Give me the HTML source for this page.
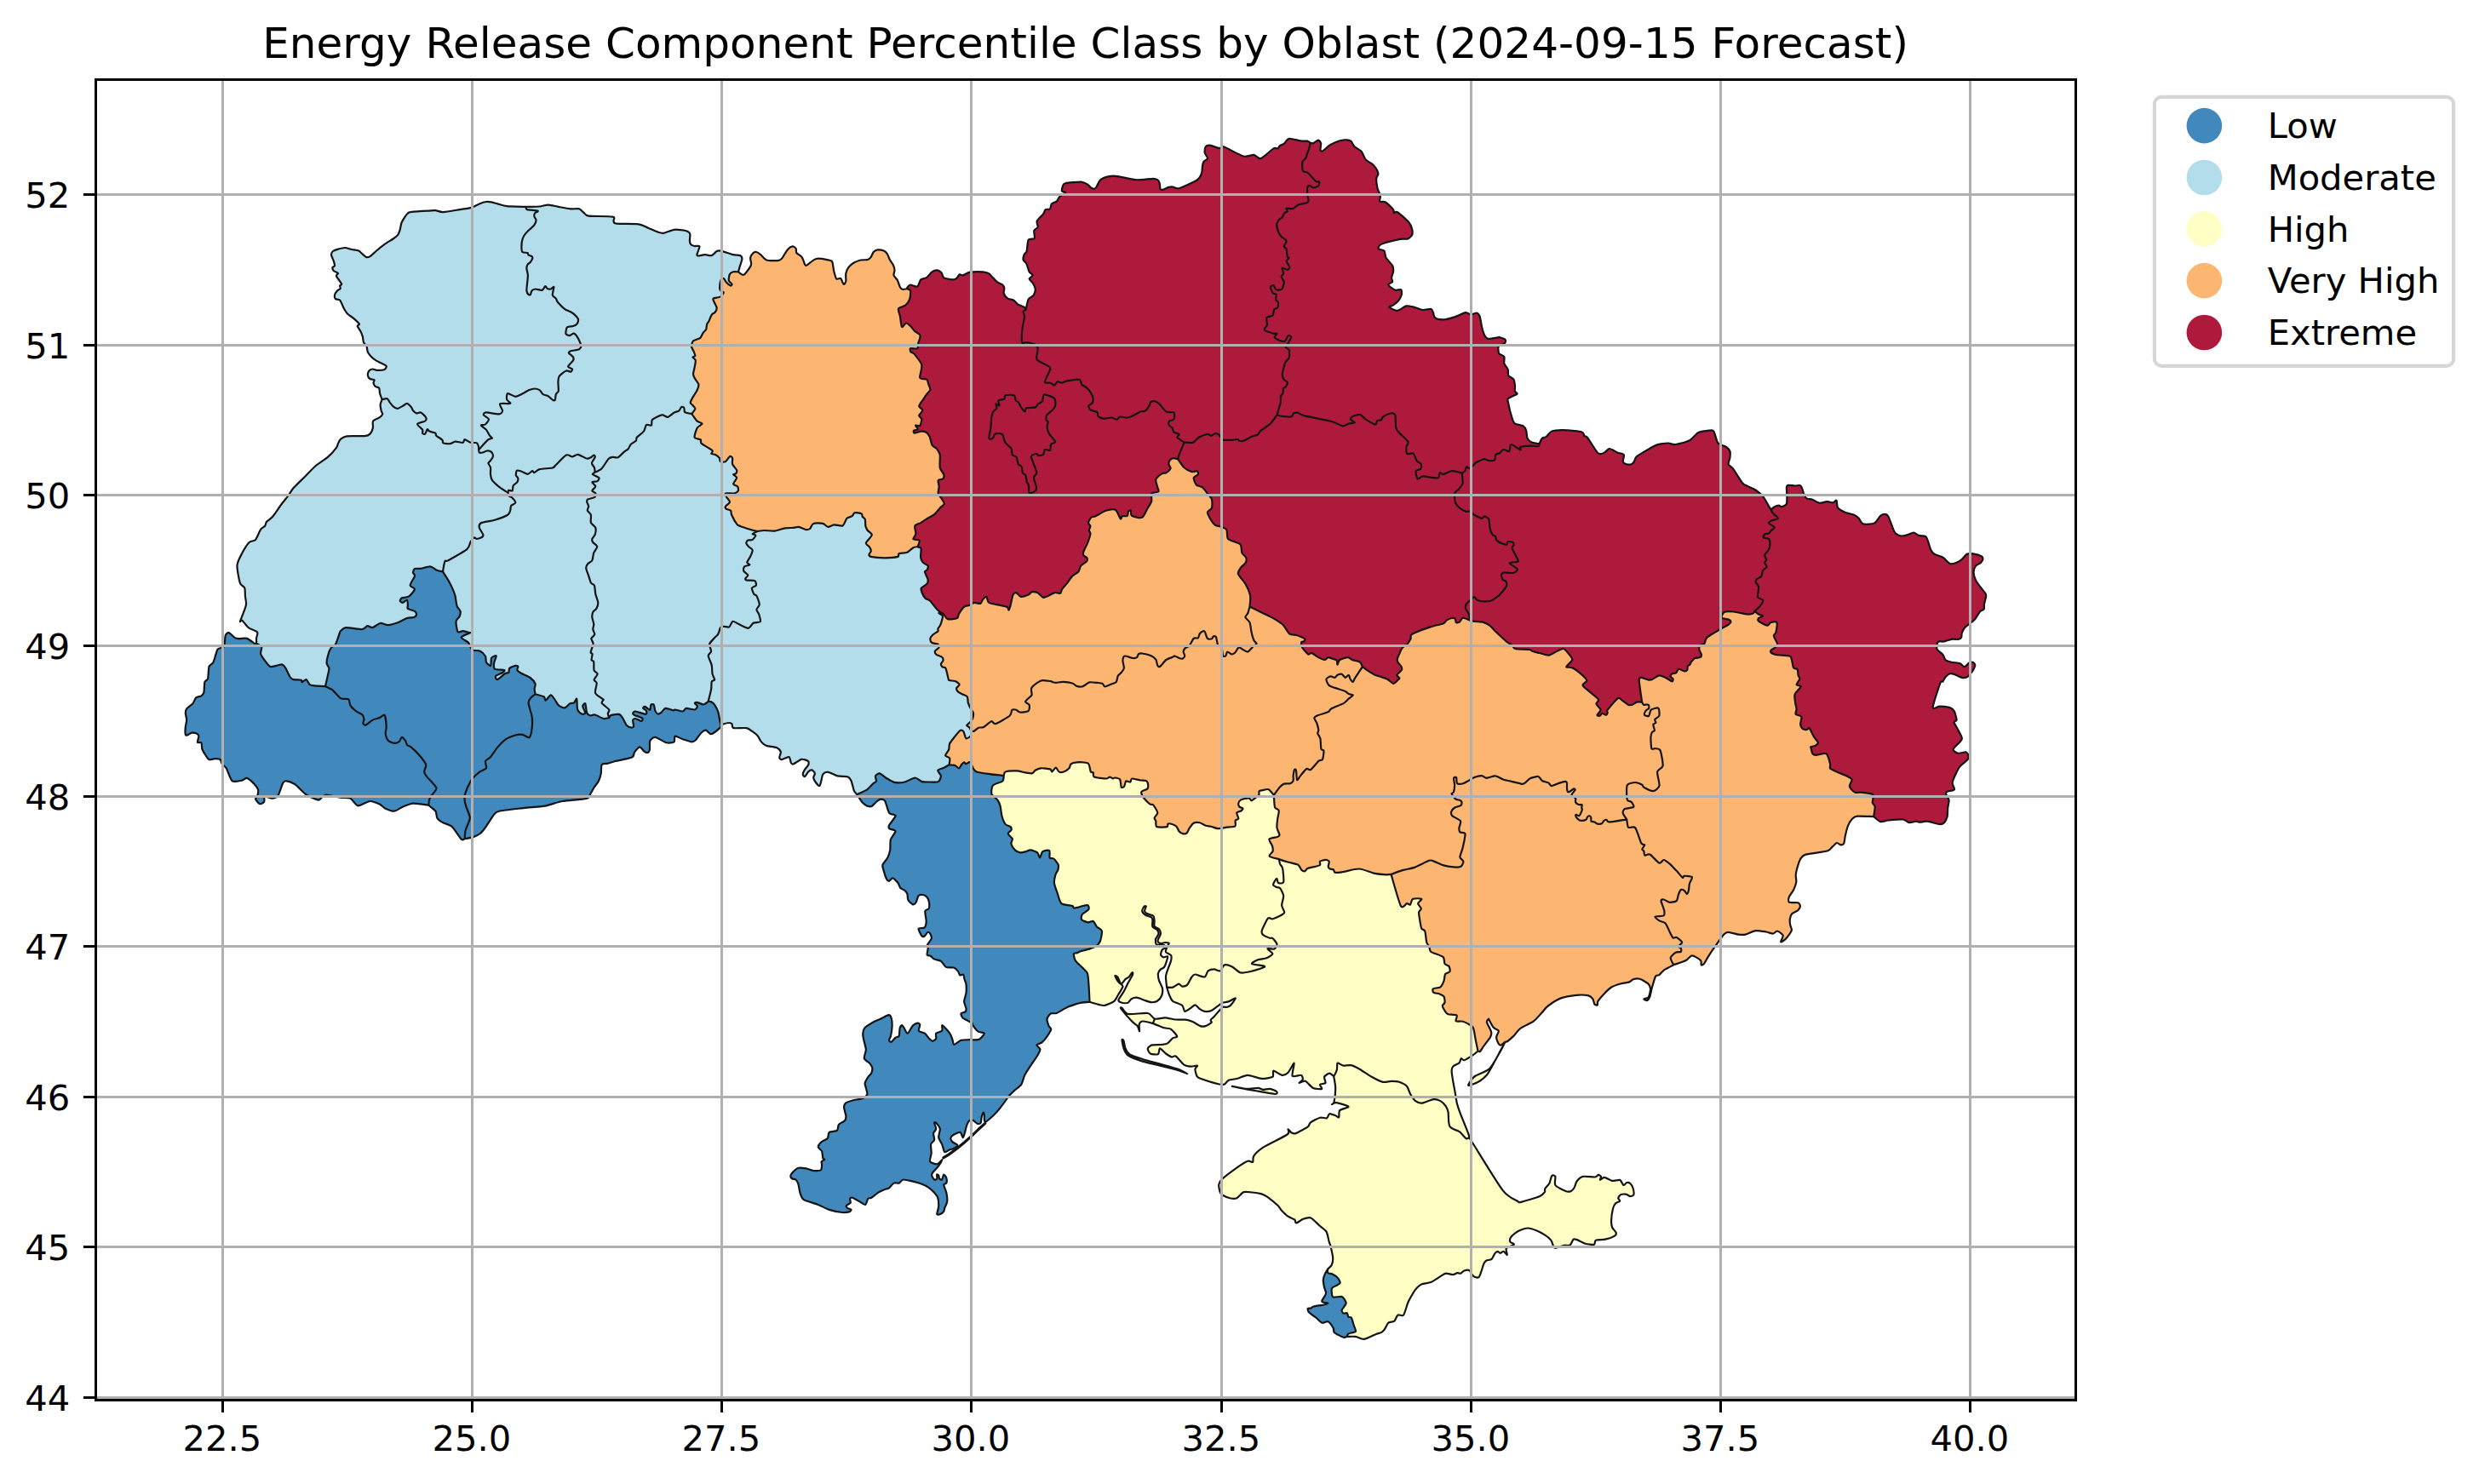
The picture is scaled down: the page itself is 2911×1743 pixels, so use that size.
<!DOCTYPE html><html><head><meta charset="utf-8"><title>Energy Release Component Percentile Class by Oblast</title><style>html,body{margin:0;padding:0;background:#fff}</style></head><body><svg width="2911" height="1743" viewBox="0 0 2911 1743" style="display:block"><rect width="2911" height="1743" fill="#fff"/><clipPath id="ax"><rect x="112.5" y="93.5" width="2325.0" height="1551.0"/></clipPath><g clip-path="url(#ax)"><path d="M448.6,469.2c-0.3,-0.9 -2.2,-5.7 -2.6,-7.4c-0.4,-1.7 -0.1,-5 -0.8,-6c-0.7,-1 -3.9,-1.3 -4.7,-2.1c-0.8,-0.8 -1.9,-3.1 -2,-4c-0.1,-0.9 1.5,-2.8 1,-3.4c-0.5,-0.6 -4,-0.6 -5,-1.3c-1,-0.7 -2.6,-3.2 -2.7,-4.4c-0.1,-1.2 0.9,-4.2 1.6,-5.1c0.7,-0.9 3,-1.9 4.1,-2c1.1,-0.1 3.2,1.3 5,1.4c1.8,0.1 7.7,-0.4 9.1,-1c1.4,-0.6 2.3,-3 2.1,-3.8c-0.2,-0.8 -2.6,-1.8 -4.1,-2.6c-1.5,-0.8 -6.3,-3 -8.1,-4.1c-1.8,-1.1 -4.8,-3.7 -6,-5c-1.2,-1.3 -3.1,-3.6 -3.7,-5.1c-0.6,-1.5 -0.8,-5.7 -1.4,-7.1c-0.6,-1.4 -2.8,-2.6 -3.4,-4c-0.6,-1.4 -0.7,-5.4 -1.2,-7.1c-0.5,-1.6 -1.7,-4.6 -2.5,-6.1c-0.8,-1.5 -3.4,-4.9 -3.6,-6c-0.2,-1.1 2.8,-1.4 2.2,-2.5c-0.6,-1.1 -5,-5.1 -6.7,-6.6c-1.7,-1.5 -5.6,-3.7 -7,-5.1c-1.4,-1.4 -3,-4 -4.1,-6c-1.1,-2 -3.7,-8.8 -5,-10.2c-1.3,-1.4 -4.3,-0.7 -5.1,-1.4c-0.8,-0.8 -1.2,-3.4 -1,-4.6c0.2,-1.2 2.2,-4.2 3,-5.1c0.8,-0.9 3.3,-1.6 3.7,-2.4c0.4,-0.8 -0.8,-2.9 -0.6,-3.6c0.2,-0.7 2.5,-0.7 2,-2.1c-0.5,-1.4 -5.6,-7.5 -6.1,-9.1c-0.5,-1.6 2.4,-2.9 2,-3.6c-0.4,-0.8 -4.2,-1.6 -5,-2.4c-0.8,-0.8 -1.7,-3.3 -1.6,-4.1c0.1,-0.8 2.4,-1.1 2.6,-2c0.2,-0.9 -0.5,-3.4 -1,-5c-0.5,-1.6 -2.9,-6.6 -3,-8.1c-0.1,-1.5 1,-3.3 2,-4.1c1,-0.8 4.2,-1.9 6,-2.4c1.8,-0.5 6.1,-1.7 8.1,-1.6c2,0.1 6.1,1.6 8.1,2c2,0.4 6.5,0.8 8.1,1.6c1.6,0.8 4,3.6 5.1,4.5c1.1,0.9 3,2.8 4,3c1,0.2 2.7,-0.1 4.1,-1c1.4,-0.9 4.9,-4.3 7,-6.1c2.1,-1.8 7.6,-6.3 10.1,-8.1c2.5,-1.8 8.2,-5.1 10.1,-6.4c1.9,-1.3 4.1,-2.9 5.1,-4.1c1,-1.2 2,-3.8 2.6,-5.6c0.6,-1.8 1.4,-7.2 2.1,-9.1c0.7,-1.9 2.5,-4.7 3.4,-6.1c0.9,-1.4 3.1,-4.3 4,-5.1c0.9,-0.8 0.2,-1.1 3.1,-1.4c2.9,-0.3 16.5,-1.2 20.2,-1.4c3.7,-0.2 6.8,-0.8 9.1,-0.6c2.3,0.2 5.2,2.2 9.1,2c3.9,-0.2 18,-2.8 22.2,-3.4c4.2,-0.7 8.6,-1 11.1,-1.8c2.5,-0.8 6.9,-3.6 9.1,-4.5c2.1,-0.9 6.3,-2.2 8.1,-2.4c1.8,-0.2 4.3,0.1 6.1,0.4c1.8,0.3 5.8,1.6 8.1,2.2c2.3,0.6 6.1,2.1 10.1,2.5c4,0.4 19.4,0.7 22.2,0.8c0.2,0.4 -0.2,2.6 1.6,3.2c1.8,0.6 11.5,1 12.6,1.6c1.1,0.6 -3.2,1.9 -3.7,2.8c-0.5,0.9 -0.6,3.1 -0.4,4.1c0.2,1 2.1,2.7 2.1,4c-0,1.3 -1.4,4.6 -2.5,6.1c-1.1,1.5 -5.1,4.6 -6.6,6.1c-1.5,1.5 -4.2,4.5 -5.1,6c-0.9,1.5 -2,4.4 -2.4,6.1c-0.4,1.6 -0.6,5.5 -0.6,7.1c0,1.6 0.1,5.1 1,6c0.9,0.9 5.2,0.6 6.1,1c0.9,0.4 0.4,2 1,2.5c0.6,0.5 3.4,1 4,1.6c0.6,0.6 0.9,2.1 0.6,3c-0.2,0.9 -1.9,3.3 -2.6,4.1c-0.7,0.8 -2.5,1.7 -3,2.6c-0.5,0.9 -1.1,2.8 -1.1,4.4c0,1.6 1.4,5.8 1.5,8.1c0.1,2.3 -0.7,7.8 -0.9,10.1c-0.2,2.3 -0.8,6.5 -0.6,8.1c0.2,1.6 1.5,3.9 2.1,4.5c0.6,0.6 1.9,0.6 2.4,0c0.5,-0.6 0.9,-3.7 1.6,-4.5c0.7,-0.8 2.5,-1.9 4,-2c1.5,-0.1 6.6,1.8 8.1,1.4c1.5,-0.4 2.9,-4.5 3.7,-4.8c0.8,-0.2 1.6,2.4 2.4,2.8c0.8,0.4 3,0.8 4,0.6c1,-0.2 3.4,-3.3 3.7,-2.4c0.3,0.9 -1.9,7.8 -1.6,9.5c0.3,1.7 3.2,3 4,4c0.8,1 0.7,2.6 2,4.1c1.3,1.5 6.1,6.6 8.1,8.1c2,1.5 6.3,2.9 8.1,4c1.8,1.1 5.1,4 6.1,5.1c1,1.1 2,2.9 2,4c0,1.1 -1.2,4.2 -2,5.1c-0.8,0.9 -2.7,1.6 -4.1,2c-1.4,0.4 -5.9,0.3 -7,1.4c-1.1,1.1 -1.9,6.5 -1.5,7.7c0.4,1.2 3.3,2.1 4.5,2c1.2,-0.1 3.9,-2.7 5,-2.4c1.1,0.2 3.2,3.1 4.1,4.4c0.9,1.3 2.5,4.8 3,6.1c0.5,1.3 1.5,3 1.4,4c-0.1,1 -0.8,3.3 -2.4,4.1c-1.6,0.8 -8.6,1.4 -10.1,2c-1.5,0.6 -2.4,1.5 -2,2.4c0.4,0.9 4.4,3.6 5,4.7c0.6,1.1 0.8,2.6 0,4c-0.8,1.4 -5.9,5.8 -6,7.1c-0.1,1.3 4.6,2.2 5,3c0.4,0.8 -1.1,2.9 -2,3.1c-0.9,0.2 -3.5,-1.7 -5.1,-1.1c-1.6,0.6 -6.8,4.5 -8,6.1c-1.2,1.6 -1.4,4.9 -1.5,7.1c-0.1,2.2 0.7,8.6 0.4,10.4c-0.3,1.8 -2.5,2.7 -3,4c-0.5,1.3 -0.5,5.7 -1,6.5c-0.5,0.8 -2,0.6 -3,0c-1,-0.6 -3.7,-3.6 -5.1,-4.4c-1.4,-0.8 -4.8,-1.2 -6.1,-2.1c-1.3,-0.9 -2.7,-4.2 -4,-5c-1.3,-0.8 -4.6,-1.6 -6.1,-1.6c-1.5,0 -4.1,0.8 -6,1.6c-1.9,0.8 -7.1,4 -9.1,5c-2,1 -5.1,2.8 -7.1,2.7c-2,-0.1 -7.8,-4.1 -9.1,-3.7c-1.3,0.4 -1.4,5.6 -1,7.1c0.4,1.5 5,4.1 4,4.7c-1,0.6 -11,-0.6 -12.1,0.4c-1.1,1.1 3.1,6.5 3,8c-0.1,1.5 -1.6,3.8 -4,4.1c-2.4,0.3 -12.9,-2.1 -15.2,-2c-2.3,0.1 -3.4,2 -3,3c0.4,1 5.9,3.7 6.1,5.1c0.2,1.4 -3,5.1 -4.1,6c-1.1,0.9 -5.1,0.2 -5,1c0.1,0.8 4.7,3.6 6,5.1c1.3,1.5 3.2,5.8 4.1,7.1c0.9,1.3 3.3,2.4 3,3c-0.3,0.6 -3.1,0.3 -5.1,2c-2,1.7 -9.4,10.2 -10.7,11.7c-0,-0.6 -0.1,-3.6 -0.4,-4.6c-0.3,-1 -0.9,-3.1 -2,-3.6c-1.1,-0.5 -5.3,0.1 -7.1,-0.4c-1.8,-0.5 -5.9,-3.7 -7,-3.7c-1.1,0 -0.7,3.4 -2.1,3.7c-1.4,0.3 -7.2,-1.3 -9.1,-1.1c-1.9,0.2 -4.2,2.3 -6,2.5c-1.8,0.2 -7,-0.2 -8.1,-0.8c-1.1,-0.6 0,-2.6 -1,-3.7c-1,-1.1 -6.1,-4 -7.1,-5c-1,-1 0,-2.5 -1,-3.1c-1,-0.6 -5.9,-1.4 -7.1,-2c-1.2,-0.6 -1.8,-2.8 -2.4,-2.4c-0.6,0.4 -1.9,4.8 -2.6,5.4c-0.7,0.6 -2.7,0 -3.1,-0.6c-0.4,-0.6 0.8,-3 0,-4.4c-0.8,-1.4 -6.4,-5.2 -6,-6.5c0.4,-1.3 7.8,-2.6 9.1,-3.6c1.3,-1 1.6,-2.8 1,-4.1c-0.6,-1.3 -4.7,-5.4 -6.1,-6c-1.4,-0.6 -4,1.3 -5.1,1c-1.1,-0.3 -3.2,-2.2 -4,-3.1c-0.8,-0.9 -1.1,-2.9 -2,-4c-0.9,-1.1 -4,-4.2 -5.1,-4.4c-1.1,-0.2 -2.6,1.7 -4,2.4c-1.4,0.8 -5.6,3.5 -7.1,3.6c-1.5,0.1 -4,-1.7 -5.1,-2.6c-1.1,-0.9 -3.1,-3.6 -4,-4.7c-0.9,-1.1 -1.9,-4 -3,-4.4c-1.1,-0.4 -5.3,0.9 -6.1,1Z" fill="#b3ddeb" stroke="#b3ddeb" stroke-width="0.6"/><path d="M617.4,242.9c2,-0.1 12.9,-0.1 16.2,-0.4c3.3,-0.3 7.3,-2 10.1,-1.9c2.8,0.1 8.8,1.7 12.1,2.3c3.3,0.6 11.2,2.1 14.2,2.4c3,0.3 8.2,-0.5 10.1,0c1.9,0.5 3.7,3.2 5.1,4.2c1.4,1 1.7,3.5 6,4.1c4.3,0.6 24.6,0.2 28.3,1c3.7,0.8 0.5,4 1,5c0.5,1 -0.6,2.6 3.1,3.1c3.7,0.5 21.6,-0 26.3,0.6c4.7,0.6 8.3,3.3 11.1,4.4c2.8,1.1 8.8,3.9 11.1,4.7c2.3,0.8 4.7,1.7 7.1,1.4c2.4,-0.3 9.5,-3.6 12.1,-4c2.6,-0.4 6.9,0.1 8.9,0.4c2,0.2 5.8,1 7.1,1.6c1.3,0.6 2.7,1.6 3,3c0.3,1.4 -0.5,6.5 -0.4,8.1c0.1,1.6 0.7,3.6 1.4,4.4c0.7,0.8 2.8,1.4 4.1,1.7c1.3,0.3 5.6,-0.9 6,0.4c0.4,1.3 -2.9,8.3 -3,9.7c-0.1,1.4 0.9,1.4 2,1.4c1.1,0 5.2,-1.3 7.1,-1.4c1.9,-0.1 6.3,1.5 8.1,1c1.8,-0.5 4.7,-4.4 6.1,-5.1c1.4,-0.7 2.6,-0.9 5,-0.4c2.4,0.5 11.4,3.8 14.2,4.5c2.8,0.7 6.8,0.4 8.1,1c1.3,0.6 2.4,2.5 2.4,4c0,1.5 -1.8,6.2 -2.4,8.1c-0.6,1.9 -1.8,6.2 -2.1,7.1c-0.8,0 -4.7,-0.4 -6,0c-1.3,0.4 -3.5,1.7 -4.1,3c-0.6,1.3 -1.3,5.7 -1,7.1c0.3,1.4 3.5,3.6 3.7,4.4c0.2,0.8 -0.9,2 -1.7,1.7c-0.8,-0.3 -4,-3 -5,-4.1c-1,-1.1 -2.2,-4 -3,-4.4c-0.8,-0.4 -2.5,0.1 -3.1,1.4c-0.6,1.3 -1.5,7.5 -1.6,9.1c-0.1,1.6 0.6,3.2 1.2,4c0.6,0.8 3.6,1.2 3.5,2.1c-0.1,0.9 -2.6,4.1 -4.1,5c-1.5,0.9 -7.2,1.2 -8.1,2c-0.9,0.8 0.5,2.7 1,4.1c0.5,1.4 3,5.5 3.1,7c0.1,1.5 -1.3,4.1 -2.1,5.1c-0.8,1 -3.1,1.7 -4,3c-0.9,1.3 -2.3,5.7 -3,7.1c-0.7,1.4 -2.1,2.8 -2.5,4.1c-0.4,1.3 -0.4,4.7 -1,6c-0.6,1.3 -2.7,2.8 -3.6,4.1c-0.9,1.3 -2,4.9 -3.4,6c-1.4,1.1 -6.5,2.2 -7.7,3.1c-1.2,0.9 -1.8,3.1 -2.1,4c-0.3,0.9 -0.7,2 -0.4,3c0.3,1 1.9,3.8 2.5,5.1c0.6,1.4 2.1,4.8 2,5.7c-0.1,0.9 -3,0.7 -3,1.4c0,0.7 3.1,2.4 3.4,4c0.2,1.6 -1,7.1 -1.4,9.1c-0.4,2 -1.5,5.6 -1.4,7.1c0.1,1.5 1.2,3.5 2,5c0.8,1.5 4.1,5.3 4.4,7.1c0.3,1.8 -1.1,5.2 -2,7.1c-0.9,1.9 -4,6.3 -5,8.1c-1,1.8 -2.7,4.9 -2.7,6c0,1.1 2,2.2 2.7,3.1c0.7,0.9 3.1,2.7 3,4c-0.1,1.3 -3.6,5.3 -4.1,6.1c-1,-0.2 -6.9,-1.1 -8,-2c-1.1,-0.9 -0.5,-4.3 -1,-5.1c-0.5,-0.8 -2.4,-1.4 -3.1,-1c-0.7,0.4 -1.7,3.4 -2.8,4.3c-1.1,0.9 -4.5,1.6 -6.1,2.5c-1.6,0.9 -5.3,4.7 -7.1,5c-1.8,0.3 -4.7,-2.8 -7,-2.4c-2.3,0.4 -9.7,4 -11.2,5.5c-1.5,1.5 -0.1,5.8 -1,6.6c-0.9,0.8 -4.9,-1.3 -6,-0.4c-1.1,0.9 -1.7,5.7 -3.1,7.5c-1.4,1.8 -7,5.7 -8.1,7.1c-1.1,1.4 -0.1,3 -1,4c-0.9,1 -4.9,2.9 -6,4.1c-1.1,1.2 -2.1,4.3 -3.1,5.4c-1,1.1 -3.5,2.4 -5,3.7c-1.5,1.3 -5.5,5.6 -7.1,6.4c-1.6,0.8 -4.7,-0.6 -6.1,-0.4c-1.4,0.2 -3.4,0.4 -5,2.1c-1.6,1.7 -6.1,9.5 -8.1,11.5c-2,2 -6.7,3.7 -7.7,4.2c-0.1,-0.7 -0.3,-4.3 -0.8,-5.6c-0.5,-1.3 -3.1,-3.6 -3,-5.1c0.1,-1.5 3.5,-5.9 3.8,-7.1c0.3,-1.2 -0.9,-2.4 -1.4,-2.4c-0.5,0 -2,1.9 -3,2.4c-1,0.5 -3.1,2.1 -5.1,1.7c-2,-0.4 -8.4,-4.4 -10.5,-4.7c-2.1,-0.3 -5,2.5 -6.7,2.6c-1.7,0.1 -4.7,-3.2 -7.1,-2c-2.4,1.2 -10.1,9.6 -12.1,11.5c-2,1.9 -1.6,2.9 -4,3.5c-2.4,0.6 -12.5,0.9 -15.2,1.6c-2.7,0.7 -5,3.8 -6.1,4c-1.1,0.2 -1.4,-2.2 -2.4,-2c-1,0.2 -3.6,3.6 -5.2,3.7c-1.6,0.1 -5.9,-2.6 -7.5,-3.1c-1.6,-0.5 -4.7,-1.6 -5.5,-1c-0.8,0.6 -1.2,4.4 -1,5.5c0.2,1.1 2.2,2.4 2.4,3.4c0.2,1 -0.3,3.6 -1,4.7c-0.7,1.1 -3.9,2.7 -4.6,4c-0.7,1.3 -0.3,5.4 -1,6.1c-0.7,0.7 -3.9,-0.9 -4.5,-0.6c-0.6,0.3 -0.5,2.6 -0.6,3c-1.3,-0.9 -8.2,-5.1 -10.5,-6.9c-2.3,-1.8 -6.8,-5.9 -8.1,-7.7c-1.3,-1.8 -1.8,-5.1 -2,-7c-0.2,-1.9 0.3,-6.5 0,-8.1c-0.3,-1.6 -2.6,-4.1 -2.6,-5.1c0,-1 1.9,-2 2.6,-3c0.7,-1 2.9,-3.8 3,-5.1c0.1,-1.3 -1.1,-4.2 -2,-5c-0.9,-0.8 -3.8,-1.5 -5.1,-1.4c-1.3,0.1 -3.9,1.8 -5,2c-1.1,0.2 -3.5,0.4 -4.1,0c-0.6,-0.4 -0.5,-2.7 -0.6,-3.1c1.3,-1.5 8.7,-10 10.7,-11.7c2,-1.7 4.8,-1.4 5.1,-2c0.3,-0.6 -2.1,-1.7 -3,-3c-0.9,-1.3 -2.8,-5.6 -4.1,-7.1c-1.3,-1.5 -5.9,-4.3 -6,-5.1c-0.1,-0.8 3.9,-0.1 5,-1c1.1,-0.9 4.4,-4.6 4.1,-6c-0.2,-1.4 -5.7,-4.1 -6.1,-5.1c-0.4,-1 0.7,-2.9 3,-3c2.3,-0.1 12.8,2.3 15.2,2c2.4,-0.3 3.9,-2.6 4,-4.1c0.1,-1.5 -4.1,-6.9 -3,-8c1.1,-1.1 11.1,0.2 12.1,-0.4c1,-0.6 -3.6,-3.2 -4,-4.7c-0.4,-1.5 -0.3,-6.7 1,-7.1c1.3,-0.4 7.1,3.6 9.1,3.7c2,0.1 5.1,-1.7 7.1,-2.7c2,-1 7.2,-4.2 9.1,-5c1.9,-0.8 4.5,-1.6 6,-1.6c1.5,0 4.8,0.8 6.1,1.6c1.3,0.8 2.7,4.1 4,5c1.3,0.9 4.7,1.3 6.1,2.1c1.4,0.8 4.1,3.9 5.1,4.4c1,0.6 2.5,0.8 3,0c0.5,-0.8 0.5,-5.2 1,-6.5c0.5,-1.3 2.7,-2.2 3,-4c0.3,-1.8 -0.5,-8.2 -0.4,-10.4c0.1,-2.2 0.3,-5.4 1.5,-7.1c1.2,-1.6 6.4,-5.5 8,-6.1c1.6,-0.6 4.2,1.4 5.1,1.1c0.9,-0.2 2.4,-2.3 2,-3.1c-0.4,-0.8 -5.1,-1.7 -5,-3c0.1,-1.3 5.2,-5.7 6,-7.1c0.8,-1.4 0.6,-2.9 0,-4c-0.6,-1.1 -4.6,-3.8 -5,-4.7c-0.4,-0.9 0.5,-1.8 2,-2.4c1.5,-0.6 8.5,-1.2 10.1,-2c1.6,-0.8 2.3,-3.1 2.4,-4.1c0.1,-1 -0.9,-2.7 -1.4,-4c-0.5,-1.3 -2.1,-4.8 -3,-6.1c-0.9,-1.3 -3,-4.2 -4.1,-4.4c-1.1,-0.2 -3.8,2.4 -5,2.4c-1.2,0.1 -4.1,-0.8 -4.5,-2c-0.4,-1.2 0.4,-6.6 1.5,-7.7c1.1,-1.1 5.6,-1 7,-1.4c1.4,-0.4 3.3,-1.1 4.1,-2c0.8,-0.9 2,-4 2,-5.1c0,-1.1 -1,-2.9 -2,-4c-1,-1.1 -4.3,-4 -6.1,-5.1c-1.8,-1.1 -6.1,-2.5 -8.1,-4c-2,-1.5 -6.8,-6.6 -8.1,-8.1c-1.3,-1.5 -1.2,-3.1 -2,-4.1c-0.8,-1 -3.7,-2.3 -4,-4c-0.3,-1.7 1.9,-8.6 1.6,-9.5c-0.3,-0.9 -2.7,2.2 -3.7,2.4c-1,0.2 -3.2,-0.2 -4,-0.6c-0.8,-0.4 -1.6,-3 -2.4,-2.8c-0.8,0.2 -2.2,4.4 -3.7,4.8c-1.5,0.4 -6.6,-1.5 -8.1,-1.4c-1.5,0.1 -3.3,1.2 -4,2c-0.7,0.8 -1.1,3.9 -1.6,4.5c-0.5,0.6 -1.8,0.6 -2.4,0c-0.6,-0.6 -1.9,-2.9 -2.1,-4.5c-0.2,-1.6 0.4,-5.8 0.6,-8.1c0.2,-2.3 1,-7.8 0.9,-10.1c-0.1,-2.3 -1.5,-6.5 -1.5,-8.1c-0,-1.6 0.6,-3.5 1.1,-4.4c0.5,-0.9 2.3,-1.8 3,-2.6c0.7,-0.8 2.4,-3.2 2.6,-4.1c0.2,-0.9 -0,-2.4 -0.6,-3c-0.6,-0.6 -3.4,-1.1 -4,-1.6c-0.6,-0.5 -0.1,-2.1 -1,-2.5c-0.9,-0.4 -5.2,-0.1 -6.1,-1c-0.9,-0.9 -1,-4.4 -1,-6c-0,-1.6 0.2,-5.5 0.6,-7.1c0.4,-1.6 1.5,-4.6 2.4,-6.1c0.9,-1.5 3.6,-4.5 5.1,-6c1.5,-1.5 5.5,-4.6 6.6,-6.1c1.1,-1.5 2.5,-4.8 2.5,-6.1c0,-1.3 -1.9,-3 -2.1,-4c-0.2,-1 -0.1,-3.2 0.4,-4.1c0.5,-0.9 4.8,-2.2 3.7,-2.8c-1.1,-0.6 -10.8,-1 -12.6,-1.6c-1.8,-0.6 -1.4,-2.8 -1.6,-3.2Z" fill="#b3ddeb" stroke="#b3ddeb" stroke-width="0.6"/><path d="M448.6,469.2c-0.2,0.8 -1.9,4.5 -2,6.1c-0.1,1.6 0.7,5.6 1,7c0.3,1.4 1.8,3.1 1.6,4.1c-0.2,1 -2.2,3 -3.6,4c-1.4,1 -6.5,2.6 -7.5,4.1c-1,1.5 0.2,6.2 -0.2,8.1c-0.4,1.9 -2.2,5.8 -3.4,7c-1.2,1.2 -2.7,2.2 -6.1,2.5c-3.4,0.3 -17.7,-0.3 -21.2,0.2c-3.5,0.5 -5.8,2.3 -7.1,3.4c-1.3,1.1 -2.5,3.8 -3.1,5.1c-0.6,1.3 -0.5,3 -2,5c-1.5,2 -7.1,8.5 -10.1,11.1c-3,2.6 -10.8,7.3 -14.1,10.1c-3.3,2.8 -8.9,8.9 -12.2,12.2c-3.3,3.3 -11.6,11.2 -14.1,14.1c-2.5,2.9 -4.3,6.7 -6.1,9.1c-1.8,2.4 -5.8,7.1 -8.1,10.1c-2.3,3 -8,11.7 -10.1,14.2c-2.1,2.5 -6,4.7 -7.1,6.1c-1.1,1.4 -1.1,3.9 -2,5c-0.9,1.1 -3.6,2.1 -5,4.1c-1.4,2 -4.4,10.2 -6.1,12.1c-1.7,1.9 -5.5,1.1 -7.4,3c-1.9,1.9 -6.3,8.9 -8.1,12.3c-1.8,3.4 -5.7,10.1 -6,14.6c-0.3,4.5 2.3,17.7 3.4,21c1.1,3.3 4.6,3.7 5.3,5.6c0.8,1.9 0.5,7 0.7,9.5c0.2,2.5 1.5,7.3 1.1,10.1c-0.4,2.8 -3.2,9.6 -4.1,12.1c-0.9,2.5 -2.9,6.9 -3,7.7c-0.1,0.8 1.3,-1.9 2.6,-1c1.3,0.9 5.3,6.8 7.5,8.5c2.2,1.7 9,3.6 10.1,5.1c1.1,1.5 -0.9,5.4 -1,7c-0.1,1.6 0,5.3 0,6.1c0.8,0.5 5.5,2.5 6.1,4c0.6,1.5 -1.5,6.2 -1.1,8.1c0.4,1.9 2.7,5.2 4.1,7.1c1.4,1.9 5.3,7.2 7.1,8.1c1.8,0.9 5.2,-0.7 7,-1c1.8,-0.3 5.7,-1.8 7.1,-1.4c1.4,0.4 3,2.6 4.1,4.4c1.1,1.8 3.9,8.5 5,10.1c1.1,1.6 2.5,2.6 4.1,3.1c1.6,0.5 7.8,0.2 9.1,0.6c1.3,0.4 0.2,2.5 1,2.4c0.8,-0.1 3.9,-3.4 5,-3c1.1,0.4 2.6,5 4.1,6c1.5,1 5.8,1.4 8.1,1.6c2.3,0.2 8.8,0.4 10.1,0.4c0.4,-1.6 2.4,-10.5 3,-13.1c0.6,-2.6 1.6,-6.3 1.4,-8.1c-0.2,-1.8 -2.7,-3.7 -2.8,-6c-0.1,-2.3 1.7,-9.9 2.4,-12.2c0.7,-2.3 2,-4.7 3,-6c1,-1.3 3.8,-1.8 5.1,-4.1c1.3,-2.3 4.3,-12.2 5.1,-14.1c0.8,-1.9 0,-0.7 0.9,-1.4c0.9,-0.7 2.8,-3.8 6,-4c3.2,-0.2 16.1,2.2 19.3,2c3.2,-0.2 4.5,-3.8 6,-4c1.5,-0.2 4.2,2.4 6.1,2c1.9,-0.4 6.8,-4.7 9.1,-5.1c2.3,-0.4 6.4,2.2 9.1,2.1c2.6,-0.1 9.3,-2.1 12.1,-3.1c2.8,-1 7.8,-4.2 10.1,-5c2.3,-0.8 6.7,-0.5 8.1,-1c1.4,-0.5 2.9,-2.2 3,-3.1c0.1,-0.9 -0.7,-3.1 -2,-4c-1.3,-0.9 -7.1,-2.1 -8.1,-3c-1,-0.9 0.1,-2.8 0,-4.1c-0.1,-1.3 -0.2,-5.6 -1,-6c-0.8,-0.4 -4,2.9 -5,3c-1,0.1 -3,-1.3 -3.1,-2c-0.1,-0.7 0.8,-2.9 2.1,-3.5c1.3,-0.6 6.1,-0.3 8,-1.6c1.9,-1.3 6.9,-7.1 7.1,-8.7c0.2,-1.6 -5.4,-2.4 -5.4,-4.4c0,-2 5,-9.3 5.4,-11.2c0.4,-1.9 -2,-3 -2,-4c0,-1 0.9,-3.8 2,-4.4c1.1,-0.6 4.8,0.1 7.1,-0.2c2.3,-0.3 8.8,-2.7 11.1,-2.5c2.3,0.2 5.2,3.3 7.1,4.1c1.9,0.8 6.7,1.8 7.7,2c0.3,-1.5 1.6,-10.5 2.4,-12.1c0.8,-1.6 0.8,0.7 4,-1.1c3.2,-1.8 18.6,-10.3 21.9,-13.1c3.3,-2.8 3.3,-7.4 4.4,-9.1c1.1,-1.7 3.2,-4.2 4.1,-4.6c0.9,-0.4 1.9,1.6 3,1.6c1.1,-0 5.2,-1.4 6.1,-2c0.9,-0.6 1.8,-1.7 1.4,-3.1c-0.4,-1.4 -4.2,-6.4 -4.5,-8.1c-0.3,-1.7 -0.2,-4.5 2.1,-5.6c2.3,-1.1 12.2,-2.3 16.1,-3.5c3.9,-1.2 12.9,-4.6 15.2,-6c2.3,-1.4 2.5,-3.8 3,-5.1c0.5,-1.3 0.2,-4.5 1,-5.6c0.8,-1.1 5,-2.3 5.1,-3.5c0.1,-1.2 -3,-5 -4,-6c-1,-1 -3.5,-1.4 -4.1,-2.1c-0.6,-0.7 -0.5,-3.1 -0.6,-3.6c-1.3,-0.9 -8.2,-5.1 -10.5,-6.9c-2.3,-1.8 -6.8,-5.9 -8.1,-7.7c-1.3,-1.8 -1.8,-5.1 -2,-7c-0.2,-1.9 0.3,-6.5 0,-8.1c-0.3,-1.6 -2.6,-4.1 -2.6,-5.1c0,-1 1.9,-2 2.6,-3c0.7,-1 2.9,-3.8 3,-5.1c0.1,-1.3 -1.1,-4.2 -2,-5c-0.9,-0.8 -3.8,-1.5 -5.1,-1.4c-1.3,0.1 -3.9,1.8 -5,2c-1.1,0.2 -3.5,0.4 -4.1,0c-0.6,-0.4 -0.5,-2.7 -0.6,-3.1c-0,-0.6 -0.1,-3.6 -0.4,-4.6c-0.3,-1 -0.9,-3.1 -2,-3.6c-1.1,-0.5 -5.3,0.1 -7.1,-0.4c-1.8,-0.5 -5.9,-3.7 -7,-3.7c-1.1,0 -0.7,3.4 -2.1,3.7c-1.4,0.3 -7.2,-1.3 -9.1,-1.1c-1.9,0.2 -4.2,2.3 -6,2.5c-1.8,0.2 -7,-0.2 -8.1,-0.8c-1.1,-0.6 0,-2.6 -1,-3.7c-1,-1.1 -6.1,-4 -7.1,-5c-1,-1 0,-2.5 -1,-3.1c-1,-0.6 -5.9,-1.4 -7.1,-2c-1.2,-0.6 -1.8,-2.8 -2.4,-2.4c-0.6,0.4 -1.9,4.8 -2.6,5.4c-0.7,0.6 -2.7,0 -3.1,-0.6c-0.4,-0.6 0.8,-3 0,-4.4c-0.8,-1.4 -6.4,-5.2 -6,-6.5c0.4,-1.3 7.8,-2.6 9.1,-3.6c1.3,-1 1.6,-2.8 1,-4.1c-0.6,-1.3 -4.7,-5.4 -6.1,-6c-1.4,-0.6 -4,1.3 -5.1,1c-1.1,-0.3 -3.2,-2.2 -4,-3.1c-0.8,-0.9 -1.1,-2.9 -2,-4c-0.9,-1.1 -4,-4.2 -5.1,-4.4c-1.1,-0.2 -2.6,1.7 -4,2.4c-1.4,0.8 -5.6,3.5 -7.1,3.6c-1.5,0.1 -4,-1.7 -5.1,-2.6c-1.1,-0.9 -3.1,-3.6 -4,-4.7c-0.9,-1.1 -1.9,-4 -3,-4.4c-1.1,-0.4 -5.3,0.9 -6.1,1Z" fill="#b3ddeb" stroke="#b3ddeb" stroke-width="0.6"/><path d="M596.6,578.8c0.1,-0.4 -0,-2.7 0.6,-3c0.6,-0.3 3.8,1.3 4.5,0.6c0.7,-0.7 0.3,-4.8 1,-6.1c0.7,-1.3 3.9,-2.9 4.6,-4c0.7,-1.1 1.2,-3.7 1,-4.7c-0.2,-1 -2.2,-2.3 -2.4,-3.4c-0.2,-1.1 0.2,-4.9 1,-5.5c0.8,-0.6 3.9,0.5 5.5,1c1.6,0.5 5.9,3.2 7.5,3.1c1.6,-0.1 4.2,-3.5 5.2,-3.7c1,-0.2 1.3,2.2 2.4,2c1.1,-0.2 3.4,-3.3 6.1,-4c2.7,-0.7 12.8,-1 15.2,-1.6c2.4,-0.6 2,-1.6 4,-3.5c2,-1.9 9.7,-10.3 12.1,-11.5c2.4,-1.2 5.4,2.1 7.1,2c1.7,-0.1 4.6,-2.9 6.7,-2.6c2.1,0.3 8.5,4.3 10.5,4.7c2,0.4 4.1,-1.2 5.1,-1.7c1,-0.5 2.5,-2.4 3,-2.4c0.5,0 1.7,1.2 1.4,2.4c-0.3,1.2 -3.7,5.6 -3.8,7.1c-0.1,1.5 2.5,3.8 3,5.1c0.5,1.3 0.7,4.9 0.8,5.6c-0.4,0.3 -3.4,1.7 -2.8,2.5c0.6,0.8 6.8,3 7.5,4c0.7,1 -1.1,3.4 -2.1,4c-1,0.6 -5.8,0.3 -6,1.1c-0.2,0.8 4,3.7 4,5c0,1.3 -4,4.1 -4,5.1c0,1 3.6,2 4,3c0.4,1 0.1,3.7 -1,4.6c-1.1,0.9 -7,1.8 -8.1,2.5c-1.1,0.7 -1.1,2 -1,3c0.1,1 1.9,3.8 2,5.1c0.1,1.3 -1.7,3.7 -1.4,5c0.3,1.3 3.6,3.3 4.1,5.1c0.5,1.8 -0.7,7.2 0,9.1c0.7,1.9 4.8,4.2 5.4,6c0.6,1.8 -0.1,6.5 -0.6,8.1c-0.5,1.6 -3.1,4 -3.4,5.1c-0.3,1.1 0.2,2.9 1,4c0.8,1.1 4.9,3.6 5,5.1c0.1,1.5 -3.2,5.1 -4,7.1c-0.8,2 -1.1,7.4 -2,9c-0.9,1.6 -4.2,3 -5.1,4.1c-0.9,1.1 -2.1,3.2 -2,5c0.1,1.8 2.3,7 3,9.1c0.7,2.1 1.9,6.7 2.7,8.1c0.8,1.4 3.3,1.5 4,3.1c0.7,1.6 0.9,7.6 1.4,10.1c0.5,2.5 2.9,7.9 3,10.1c0.1,2.1 -1.2,5.7 -2,7.1c-0.8,1.4 -3.4,2.7 -4,4c-0.6,1.3 -1.1,4.3 -1,6.1c0.1,1.8 1.9,6.3 2,8.1c0.1,1.8 -1.1,4.5 -1,6c0.1,1.5 2.2,4.7 2,6.1c-0.2,1.4 -3.8,3.4 -4,4.8c-0.2,1.4 2.4,4 2.3,6c-0.1,2 -2.9,8.6 -3,10.1c-0.1,1.5 1.9,1 2,2.1c0.1,1.1 -1.2,5.9 -1,7c0.2,1.1 2.2,0.6 2.6,2.1c0.4,1.5 -0.2,8.3 0.4,10.1c0.6,1.8 4.1,2.6 4.1,4c0,1.4 -4,5.7 -4.1,7.1c-0.1,1.4 2.9,2.1 3.1,4c0.2,1.9 -2.3,9.1 -1.7,11.2c0.6,2.1 5.5,5 6.7,6c1.2,1 2.9,1.2 3,2c0.1,0.8 -2.8,2.6 -2,4.1c0.8,1.5 7.6,6.2 8.5,7.7c0.9,1.5 -1.4,3.2 -1.4,4.4c0,1.2 1.2,4.5 1.4,5.1c-0.8,0.1 -4.4,1.4 -6.5,1c-2.1,-0.4 -8.2,-4.1 -10.1,-4.5c-1.9,-0.4 -4.1,1.2 -5.3,1c-1.2,-0.2 -3.2,-1.2 -4,-3c-0.8,-1.8 -1.4,-10.1 -2,-11.1c-0.6,-1 -3.1,1.6 -3.1,3c0,1.4 3.2,7 3.1,8.1c-0.1,1.1 -3,1.5 -4.1,1c-1.1,-0.5 -4.2,-2.9 -5,-5.1c-0.8,-2.2 -0.5,-11.7 -1,-12.7c-0.5,-1 -2.1,4 -3.1,4.7c-1,0.7 -3.6,0.2 -5,1c-1.4,0.8 -4.5,4.8 -6.1,5c-1.6,0.2 -5.7,-1.9 -7.1,-3c-1.4,-1.1 -2.9,-4.6 -4,-6.1c-1.1,-1.5 -3.7,-6 -5.1,-6c-1.4,0 -5,6.2 -6,6.4c-1,0.2 -0.6,-3.5 -2.1,-4.4c-1.5,-0.9 -8.8,-2.7 -10.1,-3.1c-0.1,-0.8 -1,-4.5 -1,-6c0,-1.5 1.6,-4.5 1,-6.1c-0.6,-1.6 -4,-5.6 -6,-7.1c-2,-1.5 -8.2,-3.9 -10.1,-5c-1.9,-1.1 -4.6,-3.1 -5.1,-4.1c-0.5,-1 1.2,-3.4 1,-4c-0.2,-0.6 -1.7,-1.2 -3,-1c-1.3,0.2 -6.1,2 -7.1,3c-1,1 -0.4,4.3 -1,5.1c-0.6,0.8 -2.4,-0 -4.1,1c-1.6,1 -7.7,6.7 -9.1,7.1c-1.4,0.4 -2.8,-3.1 -2,-4.1c0.8,-1 6.8,-3.1 8.1,-4c1.3,-0.9 3.1,-2.6 2,-3.1c-1.1,-0.5 -9.6,0 -11.1,-1c-1.5,-1 -1.2,-5.1 -1,-7c0.2,-1.9 3,-7.7 2.6,-8.5c-0.4,-0.8 -4.8,1 -5.6,2.4c-0.8,1.4 -0.2,8.5 -1,9.1c-0.8,0.6 -4.3,-2.7 -5.1,-4.1c-0.8,-1.4 -0.1,-5.4 -1,-7c-0.9,-1.6 -4.3,-5.2 -6.1,-6.1c-1.8,-0.9 -6.7,-0.5 -8.1,-1c-1.4,-0.5 -2.2,-1.9 -3,-3c-0.8,-1.1 -1.6,-4.6 -3,-6.1c-1.4,-1.5 -8.3,-4.7 -8.1,-6.1c0.2,-1.4 8.8,-4.5 10.1,-5.2c1.2,-0.7 0.9,0.2 -0.1,-0.1c-1,-0.3 -6.3,-2 -8.1,-2.1c-1.8,-0.1 -5,2.5 -6,1.1c-1,-1.4 -2.4,-9.9 -2.1,-12.2c0.2,-2.3 3.5,-4.5 4.1,-6c0.6,-1.5 1.4,-4.6 1,-6.1c-0.4,-1.5 -3.2,-3.8 -4,-6.1c-0.8,-2.3 -1.5,-9.6 -2.1,-12.1c-0.6,-2.5 -2,-5.8 -3,-8.1c-1,-2.3 -3.7,-7.6 -5.1,-10.1c-1.4,-2.5 -5.6,-8.8 -6.4,-10.1c0.3,-1.5 1.6,-10.5 2.4,-12.1c0.8,-1.6 0.8,0.7 4,-1.1c3.2,-1.8 18.6,-10.3 21.9,-13.1c3.3,-2.8 3.3,-7.4 4.4,-9.1c1.1,-1.7 3.2,-4.2 4.1,-4.6c0.9,-0.4 1.9,1.6 3,1.6c1.1,-0 5.2,-1.4 6.1,-2c0.9,-0.6 1.8,-1.7 1.4,-3.1c-0.4,-1.4 -4.2,-6.4 -4.5,-8.1c-0.3,-1.7 -0.2,-4.5 2.1,-5.6c2.3,-1.1 12.2,-2.3 16.1,-3.5c3.9,-1.2 12.9,-4.6 15.2,-6c2.3,-1.4 2.5,-3.8 3,-5.1c0.5,-1.3 0.2,-4.5 1,-5.6c0.8,-1.1 5,-2.3 5.1,-3.5c0.1,-1.2 -3,-5 -4,-6c-1,-1 -3.5,-1.4 -4.1,-2.1c-0.6,-0.7 -0.5,-3.1 -0.6,-3.6Z" fill="#b3ddeb" stroke="#b3ddeb" stroke-width="0.6"/><path d="M698.7,554.7c1,-0.5 5.7,-2.2 7.7,-4.2c2,-2 6.5,-9.8 8.1,-11.5c1.6,-1.7 3.6,-1.9 5,-2.1c1.4,-0.2 4.5,1.1 6.1,0.4c1.6,-0.8 5.6,-5.1 7.1,-6.4c1.5,-1.3 4,-2.6 5,-3.7c1,-1.1 2,-4.2 3.1,-5.4c1.1,-1.2 5.1,-3.1 6,-4.1c0.9,-1 -0.1,-2.6 1,-4c1.1,-1.4 6.7,-5.3 8.1,-7.1c1.4,-1.8 2,-6.6 3.1,-7.5c1.1,-0.9 5.1,1.2 6,0.4c0.9,-0.8 -0.5,-5.1 1,-6.6c1.5,-1.5 8.9,-5.1 11.2,-5.5c2.3,-0.4 5.2,2.7 7,2.4c1.8,-0.3 5.4,-4.1 7.1,-5c1.6,-0.9 5,-1.6 6.1,-2.5c1.1,-0.9 2.1,-3.9 2.8,-4.3c0.7,-0.4 2.6,0.2 3.1,1c0.5,0.8 -0.1,4.2 1,5.1c1.1,0.9 7,1.8 8,2c0.8,1.1 4.8,7.1 6.3,8.5c1.6,1.4 6.1,2 6.1,3c0,1 -5,3.1 -6.1,5.1c-1.1,2 -3.5,9.4 -3,11.1c0.5,1.7 6.1,1.7 7.1,2.6c1,0.9 -0.7,2.9 1,4.5c1.7,1.6 11.3,6.6 12.7,8.1c1.4,1.5 -1.6,3.4 -1.2,4c0.4,0.6 3.5,0.4 4.7,1c1.2,0.6 4.2,3.1 5,4.1c0.8,1 0.1,3.5 1,4c0.9,0.5 4.7,0.8 6.1,0c1.4,-0.8 4,-5.6 5,-6.1c1,-0.5 2.7,1 3.1,2.1c0.4,1.1 -0.6,5.2 0,7c0.6,1.8 4.5,5.7 5,7.1c0.5,1.4 -0.5,3.5 -1,4.1c-0.5,0.6 -3.1,0.4 -3,1c0.1,0.6 4,2.6 4,4c0,1.4 -4.1,5.8 -4,7.1c0.1,1.3 4.3,2 5,3c0.7,1 1.2,4.1 0.7,5.1c-0.5,1 -2.8,2.6 -4.7,3c-1.9,0.4 -9,-0.5 -10.1,0c-1.1,0.5 0.4,2.8 1,4.1c0.6,1.3 4.1,4.6 4,6c-0.1,1.4 -4.5,4.1 -5,5.1c-0.5,1 -0.2,2.4 0.6,3c0.8,0.6 4.7,1.1 5.5,2c0.8,0.9 0.1,3.1 1,5.1c0.9,2 5.1,9.5 6.4,11.1c1.3,1.6 1.7,1.2 3.7,2c2,0.8 9.6,3.3 12.1,4.1c2.5,0.8 7.1,1.8 8.1,2c-0.7,0.4 -5.4,2.4 -5.7,3c-0.2,0.6 3.8,1.1 3.7,2c-0.1,0.9 -3,4.4 -4.1,5.1c-1.1,0.7 -4.1,-0.1 -5,0.4c-0.9,0.5 -2.1,2.6 -2,3.6c0.1,1 2.1,3.1 3,4.1c0.9,1 4.2,2.6 4.4,4c0.2,1.4 -1.6,5.3 -2.4,7.1c-0.8,1.8 -3.9,5.8 -4,7.1c-0.1,1.3 3.4,2.4 3,3c-0.4,0.6 -5.2,1.1 -6.1,2c-0.9,0.9 -1.5,3.8 -1,5.1c0.5,1.3 4.8,3.9 5.1,5c0.2,1.1 -3,3.3 -3.1,4.1c-0.1,0.8 0.7,1.7 2.1,2c1.4,0.3 7.8,-0.2 9.1,0.6c1.3,0.8 1.8,4.4 1.4,5.5c-0.4,1.1 -4.6,1.7 -4.9,3c-0.3,1.3 1.8,6 2.5,7.1c0.7,1.1 2.2,0.5 3,2c0.8,1.5 3.4,8.1 3.4,10.1c0,2 -3.4,4.6 -3.4,6.1c-0,1.5 2.5,4.2 3,6c0.5,1.8 2.2,6.9 1.4,8.1c-0.9,1.2 -6.4,0.7 -8.2,1.7c-1.8,1 -3.7,5.9 -6,6c-2.3,0.1 -9.9,-4.4 -12.2,-5.4c-2.3,-1 -4.7,-3.1 -6,-2.6c-1.3,0.5 -2.8,5.9 -4.1,6.6c-1.3,0.8 -4.7,-0.6 -6,-0.6c-1.3,0 -3.2,-0.1 -4.1,1c-0.9,1.1 -2.1,6.6 -3,8.1c-0.9,1.5 -2.7,2.6 -4,4.1c-1.3,1.5 -5.6,5.6 -6.1,7.6c-0.5,2 2.2,6.8 2,8.5c-0.2,1.7 -3.5,3.1 -3.4,5.1c0.1,2 3.4,8.4 4,11.1c0.6,2.6 0.4,8 0.8,10.1c0.4,2.1 2.8,6 2.7,7.1c-0.1,1.1 -3,0.6 -3.5,2c-0.5,1.4 -0.1,6.2 -0.6,9.1c-0.5,2.9 -3,12.4 -3.4,14.2c-0.7,0.5 -4,3.5 -5.7,3.6c-1.7,0.1 -6.4,-2.5 -7.7,-2.6c-1.3,-0.1 -2.5,0.8 -2.4,1.4c0.1,0.6 3,2.3 3,3.2c0,0.9 -1.4,3.8 -3,4.1c-1.6,0.3 -8.3,-1.9 -10.1,-1.6c-1.8,0.2 -2.4,3.4 -4.1,3.6c-1.6,0.2 -7.7,-1.9 -9.1,-2c-1.4,-0.1 -0.6,1 -2,0.8c-1.4,-0.2 -7.3,-2.7 -9.1,-2.4c-1.8,0.3 -3.9,4.2 -5,5c-1.1,0.8 -3.2,1.9 -4.1,1.6c-0.9,-0.2 -2.4,-2.3 -3,-3.6c-0.6,-1.3 -1,-6.2 -1.6,-7.1c-0.6,-0.9 -2.9,-0.8 -3.5,0c-0.6,0.8 -0.1,5.9 -1,6.1c-0.9,0.2 -5,-3.9 -6,-4.1c-1,-0.2 -2.3,1.5 -2.1,2.1c0.2,0.6 3.3,2.1 3.7,3c0.4,0.9 1,3.9 -0.6,4c-1.6,0.1 -10.3,-3.3 -12.2,-3.4c-1.9,-0.1 -2.9,1.9 -3,2.4c-0.1,0.5 0.6,1.3 2,2c1.4,0.7 8.1,2.8 9.1,3.7c1,0.9 0,3.4 -1,3.4c-1,0 -5.8,-2.9 -7.1,-3c-1.3,-0.1 -2.8,0.9 -3,2c-0.2,1.1 1.2,6 1,7.1c-0.2,1.1 -2,1.5 -3,1.4c-1,-0.1 -3.8,-1 -5.1,-2.4c-1.3,-1.4 -3.9,-7.5 -5,-9.1c-1.1,-1.6 -2.5,-3.7 -4.1,-4.1c-1.6,-0.4 -7.6,0.5 -9.1,1c-1.5,0.5 -2.3,2.7 -2.6,3.1c-0.2,-0.6 -1.4,-3.9 -1.4,-5.1c0,-1.2 2.3,-2.9 1.4,-4.4c-0.9,-1.5 -7.7,-6.2 -8.5,-7.7c-0.8,-1.5 2.1,-3.3 2,-4.1c-0.1,-0.8 -1.8,-1 -3,-2c-1.2,-1 -6.1,-3.9 -6.7,-6c-0.6,-2.1 1.9,-9.3 1.7,-11.2c-0.2,-1.9 -3.2,-2.6 -3.1,-4c0.1,-1.4 4.1,-5.7 4.1,-7.1c0,-1.4 -3.5,-2.2 -4.1,-4c-0.6,-1.8 -0,-8.6 -0.4,-10.1c-0.4,-1.5 -2.4,-1 -2.6,-2.1c-0.2,-1.1 1.1,-5.9 1,-7c-0.1,-1.1 -2.1,-0.6 -2,-2.1c0.1,-1.5 2.9,-8.1 3,-10.1c0.1,-2 -2.5,-4.6 -2.3,-6c0.2,-1.4 3.8,-3.4 4,-4.8c0.2,-1.4 -1.9,-4.6 -2,-6.1c-0.1,-1.5 1.1,-4.2 1,-6c-0.1,-1.8 -1.9,-6.3 -2,-8.1c-0.1,-1.8 0.4,-4.8 1,-6.1c0.6,-1.3 3.2,-2.6 4,-4c0.8,-1.4 2.1,-5 2,-7.1c-0.1,-2.1 -2.5,-7.6 -3,-10.1c-0.5,-2.5 -0.7,-8.5 -1.4,-10.1c-0.7,-1.6 -3.2,-1.7 -4,-3.1c-0.8,-1.4 -2,-6 -2.7,-8.1c-0.7,-2.1 -2.9,-7.3 -3,-9.1c-0.1,-1.8 1.1,-3.9 2,-5c0.9,-1.1 4.2,-2.5 5.1,-4.1c0.9,-1.6 1.2,-7 2,-9c0.8,-2 4.1,-5.6 4,-7.1c-0.1,-1.5 -4.2,-4 -5,-5.1c-0.8,-1.1 -1.3,-2.9 -1,-4c0.3,-1.1 2.9,-3.5 3.4,-5.1c0.5,-1.6 1.2,-6.3 0.6,-8.1c-0.6,-1.8 -4.7,-4.1 -5.4,-6c-0.7,-1.9 0.5,-7.3 0,-9.1c-0.5,-1.8 -3.8,-3.8 -4.1,-5.1c-0.3,-1.3 1.5,-3.7 1.4,-5c-0.1,-1.3 -1.9,-4.1 -2,-5.1c-0.1,-1 -0.1,-2.3 1,-3c1.1,-0.7 7,-1.6 8.1,-2.5c1.1,-0.9 1.4,-3.6 1,-4.6c-0.4,-1 -4,-2 -4,-3c0,-1 4,-3.8 4,-5.1c0,-1.3 -4.2,-4.2 -4,-5c0.2,-0.8 5,-0.5 6,-1.1c1,-0.6 2.8,-3 2.1,-4c-0.7,-1 -6.9,-3.2 -7.5,-4c-0.6,-0.8 2.5,-2.2 2.8,-2.5Z" fill="#b3ddeb" stroke="#b3ddeb" stroke-width="0.6"/><path d="M889.4,624c-0.7,0.4 -5.4,2.4 -5.7,3c-0.2,0.6 3.8,1.1 3.7,2c-0.1,0.9 -3,4.4 -4.1,5.1c-1.1,0.7 -4.1,-0.1 -5,0.4c-0.9,0.5 -2.1,2.6 -2,3.6c0.1,1 2.1,3.1 3,4.1c0.9,1 4.2,2.6 4.4,4c0.2,1.4 -1.6,5.3 -2.4,7.1c-0.8,1.8 -3.9,5.8 -4,7.1c-0.1,1.3 3.4,2.4 3,3c-0.4,0.6 -5.2,1.1 -6.1,2c-0.9,0.9 -1.5,3.8 -1,5.1c0.5,1.3 4.8,3.9 5.1,5c0.2,1.1 -3,3.3 -3.1,4.1c-0.1,0.8 0.7,1.7 2.1,2c1.4,0.3 7.8,-0.2 9.1,0.6c1.3,0.8 1.8,4.4 1.4,5.5c-0.4,1.1 -4.6,1.7 -4.9,3c-0.3,1.3 1.8,6 2.5,7.1c0.7,1.1 2.2,0.5 3,2c0.8,1.5 3.4,8.1 3.4,10.1c0,2 -3.4,4.6 -3.4,6.1c-0,1.5 2.5,4.2 3,6c0.5,1.8 2.2,6.9 1.4,8.1c-0.9,1.2 -6.4,0.7 -8.2,1.7c-1.8,1 -3.7,5.9 -6,6c-2.3,0.1 -9.9,-4.4 -12.2,-5.4c-2.3,-1 -4.7,-3.1 -6,-2.6c-1.3,0.5 -2.8,5.9 -4.1,6.6c-1.3,0.8 -4.7,-0.6 -6,-0.6c-1.3,0 -3.2,-0.1 -4.1,1c-0.9,1.1 -2.1,6.6 -3,8.1c-0.9,1.5 -2.7,2.6 -4,4.1c-1.3,1.5 -5.6,5.6 -6.1,7.6c-0.5,2 2.2,6.8 2,8.5c-0.2,1.7 -3.5,3.1 -3.4,5.1c0.1,2 3.4,8.4 4,11.1c0.6,2.6 0.4,8 0.8,10.1c0.4,2.1 2.8,6 2.7,7.1c-0.1,1.1 -3,0.6 -3.5,2c-0.5,1.4 -0.1,6.2 -0.6,9.1c-0.5,2.9 -3,12.4 -3.4,14.2c0.4,0 2.5,-0.1 3.4,0.4c0.9,0.5 3.1,2.1 4.1,3.6c1,1.5 3.2,5.8 4,8.1c0.8,2.3 1.6,8.1 2,10.1c0.4,2 1.2,5.3 1.4,6.1c0.3,-0.2 1.5,-1.2 2.7,-1.6c1.2,-0.4 5.7,-1.5 7,-1.5c1.3,-0 2.5,0.3 3.1,1.1c0.6,0.8 -0.1,4.4 2,5c2.1,0.6 12.4,-0.5 15.2,0c2.8,0.5 5.4,3 7,4.1c1.6,1.1 4.9,3.6 6.1,5c1.2,1.4 2.6,4.7 3.3,5.8c0.7,1.1 1.6,2.2 2.6,3c1,0.8 3.1,2.5 5.1,3.1c2,0.6 9.1,1.1 11.1,2c2,0.9 4.6,3.5 5,5c0.4,1.5 -1.7,5.6 -1.6,6.7c0.1,1.1 1.6,2.4 2.6,2.4c1,0 4,-1.6 5.1,-2c1.1,-0.4 3.2,-1.8 4,-1c0.8,0.8 1.5,6.1 2.1,7.1c0.6,1 1.5,1.6 3,1c1.5,-0.6 7,-5.1 9.1,-5.5c2.1,-0.4 6.7,1.3 7.7,2.1c1,0.8 0.9,3.1 0.4,4.4c-0.5,1.3 -3.7,4.7 -4.5,6.1c-0.8,1.4 -2,4 -2,5c0,1 1.6,3.1 2.4,2.7c0.8,-0.4 3.1,-4.7 4.1,-5.7c1,-1 3,-2.2 4,-2c1,0.2 3.4,2.9 3.7,4c0.2,1.1 -1.9,3.7 -1.7,5.1c0.2,1.4 2.2,4.8 3.1,6c0.9,1.2 3.2,3.8 4,3.5c0.8,-0.2 1.5,-3.8 2,-5.5c0.5,-1.7 1.1,-6.8 2.1,-8.1c1,-1.3 3.9,-2.9 6,-2.6c2.1,0.2 8.3,3.9 11.2,4.6c2.9,0.7 10.1,0.3 12.1,1.1c2,0.8 3.1,3 4,5c0.9,2 2.3,9.1 3.1,11.1c0.8,2 3,3.9 3.4,4.5c1.5,-0.7 9.3,-3.9 11.7,-5.5c2.4,-1.6 5.7,-5.8 7.1,-7.1c1.4,-1.3 3.6,-1.9 4,-3c0.4,-1.1 -1.5,-5 -1,-6.1c0.5,-1.1 3.6,-3.3 5.1,-3c1.5,0.3 5,3.8 7.1,5.1c2.2,1.3 7.3,4.8 10.1,5.4c2.8,0.6 9.1,0.3 12.1,-0.4c3,-0.7 9.6,-5 12.1,-5c2.5,-0 5.8,4 8.1,4.6c2.3,0.6 7.7,0.4 10.1,0.4c2.4,0 7.6,0.5 9.1,-0.4c1.5,-0.9 3.2,-5 3.1,-6.7c-0.1,-1.7 -4.1,-5.4 -3.7,-6.6c0.4,-1.2 5,-2.1 6.7,-2.9c1.7,-0.8 5.9,-3.1 6.7,-3.6c0.1,-1 1.2,-6.4 0.6,-7.8c-0.6,-1.4 -5,-1.8 -5.1,-3.1c-0.1,-1.3 3.5,-5.3 4.1,-7.1c0.6,-1.8 0.2,-5.2 1,-7c0.8,-1.8 4,-5.6 5.5,-7.5c1.5,-1.9 5.3,-6.9 6.6,-7.7c1.3,-0.8 3.2,-0.1 4.1,1c0.9,1.1 1.9,7.5 3,8.1c1.1,0.6 4.9,-1.9 5.7,-3c0.8,-1.1 0.4,-4.8 0.4,-5.5c-0.3,-0.5 -1.4,-3.4 -2.1,-4.2c-0.7,-0.8 -3.1,-1.9 -3.2,-2.5c-0.1,-0.6 1.8,-1.5 2.6,-2.4c0.8,-0.9 3.5,-3.5 4.1,-5c0.6,-1.5 1.2,-5.6 1,-7.1c-0.2,-1.5 -2.2,-3.6 -3,-5.1c-0.8,-1.5 -2.6,-5.2 -3.1,-7c-0.5,-1.8 -0.1,-5.8 -1,-7.1c-0.9,-1.3 -4.6,-2.3 -6,-3.1c-1.4,-0.8 -4.3,-2.1 -5.1,-3c-0.8,-0.9 -1.9,-3 -1.6,-4c0.2,-1 3.8,-3.1 3.6,-4.1c-0.2,-1 -3.5,-3.4 -5,-4c-1.5,-0.6 -6.1,-0.6 -7.1,-1c-1,-0.4 -0.5,-0.3 -1,-2.1c-0.5,-1.8 -2.2,-10.4 -3.1,-12.1c-0.9,-1.7 -3.3,-1 -4,-1.6c-0.7,-0.6 -1.7,-2.5 -1.6,-3.4c0.1,-0.9 2.4,-3.1 2.6,-4.1c0.2,-1 -0.4,-3.1 -1.4,-4c-1,-0.9 -5.7,-2.2 -6.7,-3.1c-1,-0.9 -1.8,-3 -1.4,-4c0.4,-1 4.1,-3 4.5,-4c0.4,-1 -0.1,-3.4 -1.1,-4.1c-1,-0.7 -5.9,-0.8 -7,-1.6c-1.1,-0.8 -2.2,-3.3 -2.1,-4.5c0.1,-1.2 2,-3.9 3.1,-5c1.1,-1.1 5.2,-3.2 6,-4.1c0.8,-0.9 -0.3,-2.1 0,-3c0.3,-0.9 2.1,-2.7 2.7,-4c0.6,-1.3 1.7,-4.7 2,-6.1c0.3,-1.4 1.3,-4 0.8,-5c-0.5,-1 -4.1,-2.6 -4.4,-3.1c-0.3,-0.5 1.5,-1 1.7,-1.1c-0.6,-0.5 -2.9,-2.4 -4.5,-4.1c-1.6,-1.7 -6.5,-8.2 -8.1,-9.7c-1.7,-1.5 -4,-1.3 -5.1,-2.5c-1.1,-1.2 -3.4,-5.5 -4,-7c-0.6,-1.5 -1.3,-3.8 -0.6,-5.1c0.8,-1.3 5.6,-3.7 6.6,-5c1,-1.3 1.4,-3.3 1.1,-5.1c-0.3,-1.8 -3.6,-7.7 -3.7,-9.1c-0.1,-1.4 2.1,-1.1 2.6,-2c0.5,-0.9 1.7,-4 1.1,-5.1c-0.6,-1.1 -5,-2.7 -6.1,-4c-1.1,-1.3 -2.2,-4.1 -2.4,-6.1c-0.2,-2 0.9,-8.6 0.4,-10.1c-0.5,-1.5 -3.9,-1.8 -4.5,-2c-0.6,0.1 -3.1,0.2 -4.6,1c-1.5,0.8 -5,4.6 -7.1,5.5c-2.1,0.9 -8.3,0.9 -9.7,1.6c-1.4,0.6 0.7,3 -1.4,3.6c-2.1,0.6 -11.3,1.4 -15.2,1.4c-3.9,0 -13.9,-0.9 -16.2,-1.4c-2.3,-0.5 -2.4,-1.8 -2.4,-2.6c0,-0.8 2.4,-3 2.4,-4.1c0,-1.1 -1.2,-3.8 -2,-5c-0.8,-1.2 -4.4,-2.8 -4,-4.5c0.4,-1.7 6.8,-7.5 7,-9.3c0.2,-1.8 -4.1,-4.1 -5,-5.4c-0.9,-1.3 -2,-3.5 -2.4,-5.1c-0.4,-1.6 -0.1,-6.7 -0.6,-8.1c-0.5,-1.4 -2.6,-2.2 -3.1,-3c-0.5,-0.8 0.1,-2.8 -1,-3.4c-1.1,-0.6 -6.7,-1.5 -8.1,-1.2c-1.4,0.4 -1.9,3.2 -3,4c-1.1,0.8 -4.7,1.2 -6.1,2.6c-1.4,1.4 -3.1,7.8 -5,8.7c-1.9,0.9 -8,-1.4 -10.1,-1.2c-2.1,0.2 -5.5,2.8 -7.1,2.6c-1.6,-0.2 -3.9,-3.5 -6.1,-4c-2.1,-0.5 -9.2,-0.8 -11.1,0c-1.9,0.8 -2.9,5.2 -4,6.1c-1.1,0.9 -3.5,1.3 -5.1,1c-1.6,-0.3 -6.3,-2.8 -8.1,-3.1c-1.8,-0.3 -4,0.8 -6,1c-2,0.2 -7.4,-0.1 -10.2,0.4c-2.8,0.5 -9.1,3 -12.1,3.3c-3,0.3 -9.6,-0.6 -12.1,-0.6c-2.5,0 -7.1,0.9 -8.1,1Z" fill="#b3ddeb" stroke="#b3ddeb" stroke-width="0.6"/><path d="M301.1,755.6c-0.1,0.1 0.4,1.7 -1,1c-1.4,-0.7 -7.7,-5.9 -10.1,-6.7c-2.4,-0.8 -7.3,0.3 -9.1,0.2c-1.8,-0.1 -3.6,-0.1 -5.1,-1c-1.5,-0.9 -5.7,-5.7 -7.1,-6c-1.4,-0.3 -3.3,1.3 -4,3.4c-0.7,2.1 -0.5,11.1 -1.6,13.1c-1.1,2 -5.9,0.8 -7.5,3.1c-1.6,2.3 -3.8,12.6 -5.1,15.1c-1.3,2.5 -4.2,2.7 -5,5.1c-0.8,2.4 -0.8,11.8 -1.4,14.1c-0.6,2.3 -3.1,2.1 -3.7,4.1c-0.6,2 -0.5,10.1 -1,12.1c-0.5,2 -1.9,3.3 -3,4.1c-1.1,0.8 -4.8,0.9 -6.1,2c-1.3,1.1 -2.6,5.5 -4,7.1c-1.4,1.6 -6,4.6 -7.1,6c-1.1,1.4 -1.4,3.5 -1.4,5.1c0,1.6 1.4,6.1 1.4,8.1c0,2 -1.2,6 -1.4,8.1c-0.2,2.1 -0.3,7.9 0,9.1c0.3,1.2 1.5,0.9 2.4,0.6c0.9,-0.3 3.7,-2.5 5.1,-2.7c1.4,-0.2 5,0.5 6,1c1,0.5 2,1.8 2.1,3.1c0.1,1.3 -1.9,6.2 -1.5,7.1c0.4,0.9 3.8,-0.6 4.5,0.4c0.7,1 0.4,5.8 1,7.6c0.6,1.8 3,5.6 4,7.1c1,1.5 2.7,4.6 4.1,5.1c1.4,0.5 5.5,-1 7.1,-1c1.6,0 5,0.2 6,1c1,0.8 1.2,3.7 2.1,5c0.9,1.3 3.5,2.6 5,5.1c1.5,2.5 4.7,13.3 7.1,15.1c2.4,1.8 9.9,-0.6 12.1,-1c2.1,-0.4 3.3,-3 5.1,-2.4c1.8,0.6 7.5,5.8 9.1,7.5c1.6,1.7 3.6,4.3 4,6.1c0.4,1.8 -0.6,6.6 -1,8c-0.4,1.4 -2.4,2 -2,3.1c0.4,1.1 3.7,5.2 5,5.6c1.3,0.4 4.4,-1.5 5.1,-2.6c0.7,-1.1 -0.5,-5.6 0.6,-6.1c1.1,-0.5 6.6,2.2 8.5,2.1c1.9,-0.1 5.5,-0.8 7.1,-3.1c1.6,-2.3 4.7,-13 6,-15.1c1.3,-2.1 2.3,-2.4 4.1,-2.1c1.8,0.2 7.2,2.1 10.1,4.1c2.9,2 9.7,9.8 13.1,12.1c3.4,2.3 11.9,5.7 14.2,6.1c2.3,0.4 2.9,-2.2 4,-3c1.1,-0.8 2.4,-3.1 5.1,-3.1c2.7,0 12.7,2.6 16.2,3.1c3.5,0.5 9.5,-0.2 12.1,1c2.6,1.2 6.2,8.3 9.1,8.7c2.9,0.4 10.9,-5.1 14.1,-5.3c3.2,-0.2 8.9,2.5 11.2,3.6c2.3,1.1 4.9,4.1 7,5.1c2.1,1 7.6,3.2 10.1,3c2.5,-0.2 7.3,-3.9 10.1,-5c2.8,-1.1 8.4,-3.9 12.2,-4.1c3.8,-0.2 15.9,1.8 18.2,2.1c0.1,-0.9 0.5,-5.6 1,-7.1c0.5,-1.5 2,-3.5 3,-5.1c1,-1.6 5.8,-5.5 5.1,-8.1c-0.8,-2.6 -9.3,-10.7 -11.1,-13.1c-1.8,-2.4 -3,-4.3 -3.1,-6.1c-0.1,-1.8 2.6,-5.8 2,-8.1c-0.6,-2.3 -4.9,-7.6 -7,-10.1c-2.1,-2.5 -8.2,-8.5 -10.1,-10.1c-1.9,-1.6 -4.2,-2 -5.1,-3c-0.9,-1 -1.2,-4 -2,-5.1c-0.8,-1.1 -3.2,-4.1 -4.1,-4c-0.9,0.1 -1.9,4.1 -3,5c-1.1,0.9 -4.5,2.2 -6.1,2.1c-1.6,-0.1 -5.7,-1.7 -7,-3.1c-1.3,-1.4 -2.8,-6.1 -3.1,-8.1c-0.3,-2 1.1,-5.3 1,-8c-0.1,-2.7 -1,-12.5 -2,-13.8c-1,-1.3 -4.2,2.5 -6,3.2c-1.8,0.7 -6.1,1.4 -8.1,2.5c-2,1.1 -6.7,5.5 -8.1,6c-1.4,0.5 -2.9,-1.1 -3.1,-2c-0.2,-0.9 1.2,-3.7 1.1,-5c-0.1,-1.3 -1,-4 -2.1,-5.1c-1.1,-1.1 -5.2,-2.6 -7,-4c-1.8,-1.4 -6,-5.3 -7.1,-7.1c-1.1,-1.8 -0.6,-6.1 -2,-7.1c-1.4,-1 -6.7,0.4 -9.1,-1c-2.4,-1.4 -7.8,-8.3 -10.1,-10.1c-2.3,-1.8 -7.1,-3.6 -8.1,-4.1c-1.3,-0 -7.8,-0.1 -10.1,-0.4c-2.3,-0.2 -6.6,-0.6 -8.1,-1.6c-1.5,-1 -3,-5.6 -4.1,-6c-1.1,-0.4 -4.2,2.9 -5,3c-0.8,0.1 0.3,-2 -1,-2.4c-1.3,-0.4 -7.4,-0.1 -9.1,-0.6c-1.6,-0.5 -3,-1.5 -4.1,-3.1c-1.1,-1.6 -3.9,-8.3 -5,-10.1c-1.1,-1.8 -2.7,-4 -4.1,-4.4c-1.4,-0.4 -5.3,1.1 -7.1,1.4c-1.8,0.3 -5.2,1.9 -7,1c-1.8,-0.9 -5.7,-6.2 -7.1,-8.1c-1.4,-1.9 -3.7,-5.2 -4.1,-7.1c-0.4,-1.9 1.7,-6.6 1.1,-8.1c-0.6,-1.5 -5.3,-3.5 -6.1,-4Z" fill="#4188bd" stroke="#4188bd" stroke-width="0.6"/><path d="M382,806.1c1,0.5 5.8,2.3 8.1,4.1c2.3,1.8 7.7,8.7 10.1,10.1c2.4,1.4 7.7,-0 9.1,1c1.4,1 0.9,5.3 2,7.1c1.1,1.8 5.3,5.7 7.1,7.1c1.8,1.4 5.9,2.9 7,4c1.1,1.1 2,3.8 2.1,5.1c0.1,1.3 -1.4,4.1 -1.1,5c0.2,0.9 1.7,2.5 3.1,2c1.4,-0.5 6.1,-4.9 8.1,-6c2,-1.1 6.3,-1.8 8.1,-2.5c1.8,-0.7 5,-4.5 6,-3.2c1,1.3 1.9,11.1 2,13.8c0.1,2.7 -1.3,6 -1,8c0.3,2 1.8,6.7 3.1,8.1c1.3,1.4 5.4,3 7,3.1c1.6,0.1 5,-1.2 6.1,-2.1c1.1,-0.9 2.1,-4.9 3,-5c0.9,-0.1 3.3,2.9 4.1,4c0.8,1.1 1.1,4.1 2,5.1c0.9,1 3.2,1.4 5.1,3c1.9,1.6 8,7.6 10.1,10.1c2.1,2.5 6.4,7.8 7,10.1c0.6,2.3 -2.1,6.3 -2,8.1c0.1,1.8 1.3,3.7 3.1,6.1c1.8,2.4 10.3,10.5 11.1,13.1c0.8,2.6 -4.1,6.5 -5.1,8.1c-1,1.6 -2.5,3.6 -3,5.1c-0.5,1.5 -0.9,6.2 -1,7.1c1,0.9 6.8,5.1 8.1,7c1.3,1.9 1,6.4 2,8.1c1,1.6 4,3.8 6.1,5.1c2.1,1.3 8.3,2.5 11.1,5c2.8,2.5 9.2,13 11.1,14.8c1.9,1.8 3.5,-0.5 4,-0.6c0.1,-1.3 0.2,-7.1 1,-10.1c0.8,-3 5,-10.9 5.1,-14.2c0.1,-3.3 -3.2,-9.6 -4,-12.1c-0.8,-2.5 -1.9,-6.1 -2.1,-8.1c-0.2,-2 -0.5,-5.2 0.4,-8.1c0.9,-2.9 5.3,-12.7 6.7,-15.2c1.4,-2.5 2.7,-3.6 4.1,-5c1.4,-1.4 5.2,-4.8 7,-6.1c1.8,-1.3 6.3,-2.5 7.1,-4c0.8,-1.5 -1.6,-6.5 -1,-8.1c0.6,-1.6 4.3,-3.1 6.1,-5.1c1.8,-2 5.9,-8.6 8,-11.1c2.1,-2.5 6.6,-7.3 9.1,-9.1c2.5,-1.8 8.7,-4.2 11.2,-5c2.5,-0.8 7,-1.3 9.1,-1c2.1,0.3 6.7,4.3 8.1,3.4c1.4,-0.9 2.6,-7.4 3,-10.5c0.4,-3.1 0.5,-10.4 0,-14.2c-0.5,-3.8 -4,-13.3 -4.1,-16.1c-0.1,-2.8 2.1,-4.8 3.1,-6.1c1,-1.3 4.4,-3.6 5,-4.1c-0.1,-0.8 -1,-4.5 -1,-6c0,-1.5 1.6,-4.5 1,-6.1c-0.6,-1.6 -4,-5.6 -6,-7.1c-2,-1.5 -8.2,-3.9 -10.1,-5c-1.9,-1.1 -4.6,-3.1 -5.1,-4.1c-0.5,-1 1.2,-3.4 1,-4c-0.2,-0.6 -1.7,-1.2 -3,-1c-1.3,0.2 -6.1,2 -7.1,3c-1,1 -0.4,4.3 -1,5.1c-0.6,0.8 -2.4,-0 -4.1,1c-1.6,1 -7.7,6.7 -9.1,7.1c-1.4,0.4 -2.8,-3.1 -2,-4.1c0.8,-1 6.8,-3.1 8.1,-4c1.3,-0.9 3.1,-2.6 2,-3.1c-1.1,-0.5 -9.6,0 -11.1,-1c-1.5,-1 -1.2,-5.1 -1,-7c0.2,-1.9 3,-7.7 2.6,-8.5c-0.4,-0.8 -4.8,1 -5.6,2.4c-0.8,1.4 -0.2,8.5 -1,9.1c-0.8,0.6 -4.3,-2.7 -5.1,-4.1c-0.8,-1.4 -0.1,-5.4 -1,-7c-0.9,-1.6 -4.3,-5.2 -6.1,-6.1c-1.8,-0.9 -6.7,-0.5 -8.1,-1c-1.4,-0.5 -2.2,-1.9 -3,-3c-0.8,-1.1 -1.6,-4.6 -3,-6.1c-1.4,-1.5 -8.3,-4.7 -8.1,-6.1c0.2,-1.4 8.8,-4.5 10.1,-5.2c1.2,-0.7 0.9,0.2 -0.1,-0.1c-1,-0.3 -6.3,-2 -8.1,-2.1c-1.8,-0.1 -5,2.5 -6,1.1c-1,-1.4 -2.4,-9.9 -2.1,-12.2c0.2,-2.3 3.5,-4.5 4.1,-6c0.6,-1.5 1.4,-4.6 1,-6.1c-0.4,-1.5 -3.2,-3.8 -4,-6.1c-0.8,-2.3 -1.5,-9.6 -2.1,-12.1c-0.6,-2.5 -2,-5.8 -3,-8.1c-1,-2.3 -3.7,-7.6 -5.1,-10.1c-1.4,-2.5 -5.6,-8.8 -6.4,-10.1c-1,-0.2 -5.9,-1.2 -7.7,-2c-1.9,-0.8 -4.8,-3.9 -7.1,-4.1c-2.3,-0.2 -8.8,2.2 -11.1,2.5c-2.3,0.3 -6,-0.4 -7.1,0.2c-1.1,0.6 -2,3.4 -2,4.4c0,1 2.4,2.1 2,4c-0.4,1.9 -5.4,9.2 -5.4,11.2c0,2 5.6,2.8 5.4,4.4c-0.2,1.6 -5.2,7.4 -7.1,8.7c-1.9,1.3 -6.7,1 -8,1.6c-1.3,0.6 -2.2,2.8 -2.1,3.5c0.1,0.7 2.1,2.1 3.1,2c1,-0.1 4.2,-3.4 5,-3c0.8,0.4 0.9,4.7 1,6c0.1,1.3 -1,3.2 0,4.1c1,0.9 6.8,2.1 8.1,3c1.3,0.9 2.1,3.1 2,4c-0.1,0.9 -1.6,2.6 -3,3.1c-1.4,0.5 -5.8,0.2 -8.1,1c-2.3,0.8 -7.3,4 -10.1,5c-2.8,1 -9.5,3 -12.1,3.1c-2.6,0.1 -6.8,-2.5 -9.1,-2.1c-2.3,0.4 -7.2,4.7 -9.1,5.1c-1.9,0.4 -4.6,-2.2 -6.1,-2c-1.5,0.2 -2.8,3.8 -6,4c-3.2,0.2 -16.1,-2.2 -19.3,-2c-3.2,0.2 -5.1,3.3 -6,4c-0.9,0.7 -0.2,-0.5 -0.9,1.4c-0.8,1.9 -3.8,11.8 -5.1,14.1c-1.3,2.3 -4.1,2.8 -5.1,4.1c-1,1.3 -2.3,3.7 -3,6c-0.7,2.3 -2.4,9.9 -2.4,12.2c0.1,2.3 2.6,4.2 2.8,6c0.2,1.8 -0.8,5.5 -1.4,8.1c-0.6,2.6 -2.6,11.5 -3,13.1Z" fill="#4188bd" stroke="#4188bd" stroke-width="0.6"/><path d="M545.7,985.1c0.1,-1.3 0.2,-7.1 1,-10.1c0.8,-3 5,-10.9 5.1,-14.2c0.1,-3.3 -3.2,-9.6 -4,-12.1c-0.8,-2.5 -1.9,-6.1 -2.1,-8.1c-0.2,-2 -0.5,-5.2 0.4,-8.1c0.9,-2.9 5.3,-12.7 6.7,-15.2c1.4,-2.5 2.7,-3.6 4.1,-5c1.4,-1.4 5.2,-4.8 7,-6.1c1.8,-1.3 6.3,-2.5 7.1,-4c0.8,-1.5 -1.6,-6.5 -1,-8.1c0.6,-1.6 4.3,-3.1 6.1,-5.1c1.8,-2 5.9,-8.6 8,-11.1c2.1,-2.5 6.6,-7.3 9.1,-9.1c2.5,-1.8 8.7,-4.2 11.2,-5c2.5,-0.8 7,-1.3 9.1,-1c2.1,0.3 6.7,4.3 8.1,3.4c1.4,-0.9 2.6,-7.4 3,-10.5c0.4,-3.1 0.5,-10.4 0,-14.2c-0.5,-3.8 -4,-13.3 -4.1,-16.1c-0.1,-2.8 2.1,-4.8 3.1,-6.1c1,-1.3 4.4,-3.6 5,-4.1c1.3,0.4 8.6,2.2 10.1,3.1c1.5,0.9 1.1,4.7 2.1,4.4c1,-0.2 4.6,-6.4 6,-6.4c1.4,-0 4,4.5 5.1,6c1.1,1.5 2.6,5 4,6.1c1.4,1.1 5.5,3.2 7.1,3c1.6,-0.2 4.7,-4.2 6.1,-5c1.4,-0.8 4,-0.3 5,-1c1,-0.7 2.6,-5.7 3.1,-4.7c0.5,1 0.2,10.5 1,12.7c0.8,2.2 3.9,4.6 5,5.1c1.1,0.5 4,0.1 4.1,-1c0.1,-1.1 -3.1,-6.7 -3.1,-8.1c0,-1.4 2.5,-4 3.1,-3c0.6,1 1.2,9.3 2,11.1c0.8,1.8 2.8,2.8 4,3c1.2,0.2 3.4,-1.4 5.3,-1c1.9,0.4 8,4.1 10.1,4.5c2.1,0.4 5.7,-0.9 6.5,-1c0.3,-0.4 1.1,-2.6 2.6,-3.1c1.5,-0.5 7.5,-1.4 9.1,-1c1.6,0.4 3,2.5 4.1,4.1c1.1,1.6 3.7,7.7 5,9.1c1.3,1.4 4.1,2.3 5.1,2.4c1,0.1 2.8,-0.3 3,-1.4c0.2,-1.1 -1.2,-6 -1,-7.1c0.2,-1.1 1.7,-2.1 3,-2c1.3,0.1 6.1,3 7.1,3c1,-0 2,-2.5 1,-3.4c-1,-0.9 -7.7,-3 -9.1,-3.7c-1.4,-0.7 -2.1,-1.5 -2,-2c0.1,-0.5 1.1,-2.5 3,-2.4c1.9,0.1 10.6,3.5 12.2,3.4c1.6,-0.1 1,-3.1 0.6,-4c-0.4,-0.9 -3.5,-2.4 -3.7,-3c-0.2,-0.6 1.1,-2.4 2.1,-2.1c1,0.2 5.1,4.4 6,4.1c0.9,-0.2 0.4,-5.3 1,-6.1c0.6,-0.8 2.9,-0.9 3.5,0c0.6,0.9 1,5.8 1.6,7.1c0.6,1.3 2.1,3.4 3,3.6c0.9,0.2 3,-0.8 4.1,-1.6c1.1,-0.8 3.2,-4.7 5,-5c1.8,-0.3 7.7,2.2 9.1,2.4c1.4,0.2 0.6,-0.9 2,-0.8c1.4,0.1 7.5,2.2 9.1,2c1.6,-0.2 2.3,-3.4 4.1,-3.6c1.8,-0.2 8.5,1.9 10.1,1.6c1.6,-0.3 3,-3.2 3,-4.1c0,-0.9 -2.9,-2.6 -3,-3.2c-0.1,-0.6 1.1,-1.6 2.4,-1.4c1.3,0.1 6,2.7 7.7,2.6c1.7,-0.1 5,-3.1 5.7,-3.6c0.4,0 2.5,-0.1 3.4,0.4c0.9,0.5 3.1,2.1 4.1,3.6c1,1.5 3.2,5.8 4,8.1c0.8,2.3 1.6,8.1 2,10.1c0.4,2 1.2,5.3 1.4,6.1c-0.2,0.4 0,1.7 -1.4,3c-1.4,1.3 -8.1,6.8 -10.1,7.1c-2,0.3 -4.6,-4.4 -6.1,-4.5c-1.5,-0.1 -4.5,2 -6,3.5c-1.5,1.5 -4.7,6.8 -6.1,8.1c-1.4,1.3 -3.1,2.1 -5,2c-1.9,-0.1 -7.8,-2.3 -10.2,-3.1c-2.4,-0.8 -7.8,-4 -9.1,-3.6c-1.3,0.4 0.3,5.7 -1,6.7c-1.3,1 -6.3,1.7 -9.1,1c-2.8,-0.7 -10.7,-6.2 -13.1,-6.5c-2.4,-0.2 -5.3,2.7 -6.1,4.5c-0.8,1.8 -0,8.4 -0.4,10.1c-0.4,1.7 -1.8,3.4 -2.6,3.6c-0.8,0.2 -2.9,-0.8 -4,-1.6c-1.1,-0.8 -3.7,-5.2 -5.1,-5.1c-1.4,0.1 -5,4.6 -6.1,6.1c-1.1,1.5 0,4.7 -3,6.1c-3,1.4 -17.7,4.1 -21.2,5c-3.5,0.9 -5.3,1.6 -7.1,2.1c-1.8,0.5 -6.1,0.1 -7.1,1.6c-1,1.5 -0.5,8 -1,10.5c-0.5,2.5 -2,7.1 -3,9.1c-1,2 -4,5.3 -5.1,7.1c-1.1,1.8 -2.9,5.4 -4,7c-1.1,1.6 -0.9,5 -5.1,6.1c-4.2,1.1 -22.2,1.9 -28.3,3c-6.1,1.1 -14.5,4.7 -20.2,5.7c-5.7,1 -18.8,1.6 -25.5,2.4c-6.7,0.8 -24,2.6 -28.3,3.6c-4.3,1 -4.1,1.7 -6.1,4.1c-2,2.4 -8.1,12.3 -10.1,15.1c-2,2.8 -4.3,5.7 -6.1,7.1c-1.8,1.4 -5.8,3.3 -8.1,4.1c-2.3,0.8 -8.8,1.8 -10.1,2Z" fill="#4188bd" stroke="#4188bd" stroke-width="0.6"/><path d="M1279.5,1176.8c-1.3,0.1 -7.5,0.4 -10.5,1c-3,0.6 -10.8,3.2 -13.2,4.1c-2.4,0.9 -4.1,2 -6,3c-1.9,1 -7.1,4.4 -9.1,5.1c-2,0.7 -5.7,-0.3 -7.1,0.6c-1.4,0.9 -3.8,4.6 -4.1,6.4c-0.2,1.8 1.5,6.6 2.1,8.1c0.6,1.5 2.9,2.6 2.6,4.1c-0.3,1.5 -3.4,6.2 -4.7,8.1c-1.3,1.9 -4.5,5.7 -6,7c-1.5,1.3 -5.8,2.1 -6.1,3.1c-0.3,1 3.9,3.5 4,5c0.1,1.5 -1.6,4.7 -3,7.1c-1.4,2.4 -6.2,9.2 -8.1,12.1c-1.9,2.9 -5.6,8.4 -7,11.2c-1.4,2.8 -2.6,8.8 -4.1,11.1c-1.5,2.3 -6.2,5.3 -8.1,7.1c-1.9,1.8 -6.1,5.9 -7.1,7c-1,1.1 0.2,-0.1 -0.9,1.5c-1.1,1.6 -6.1,8.6 -8.1,11.1c-2,2.5 -5.8,7 -8.1,9.1c-2.3,2.2 -8.7,8.1 -10.1,8.1c-1.4,0 -0.8,-6.7 -1,-8.1c-0.2,-1.4 -0.6,-3.2 -1,-3c-0.4,0.2 -1.7,3.5 -2.1,5c-0.4,1.5 -0.4,6.1 -1,7.1c-0.6,1 -2.9,1.4 -4,1c-1.1,-0.4 -4,-3.5 -5.1,-4c-1.1,-0.5 -3.1,-0.6 -4,0c-0.9,0.6 -2.3,3 -3.1,5c-0.8,2 -2.4,9.3 -3,11.2c-0.6,1.9 -1.4,4.3 -2,4c-0.6,-0.3 -1.6,-5.7 -3,-6.1c-1.4,-0.4 -6.7,2.2 -8.1,3.1c-1.4,0.9 -3,3 -3.1,4c-0.1,1 1.1,3.1 2.1,4.1c1,1 5.9,3 6,4c0.1,1 -3.9,3.5 -5,4.1c-1.1,0.6 -2.8,0.5 -4.1,1c-1.3,0.5 -4.9,3.8 -6,3c-1.1,-0.8 -2.2,-7 -3.1,-9.1c-0.9,-2.2 -3.7,-5.8 -4,-8.1c-0.3,-2.3 2,-7.9 1.6,-10.1c-0.4,-2.2 -3.8,-6.2 -4.6,-7.1c-0.8,-0.9 -2.1,-0.9 -2.1,0c0,0.9 2.2,5.6 2.1,7.1c-0.1,1.5 -2.8,3.5 -3.1,5.1c-0.3,1.6 1.4,6.4 1,8c-0.4,1.6 -3.6,3.2 -4,5.1c-0.4,1.9 0.7,7.6 0.6,10.1c-0.1,2.5 -2.4,8.5 -1.6,10.1c0.8,1.6 6.6,3 8.1,3c1.5,0 3.2,-2.4 4,-3c0.8,-0.6 2.2,-2.6 2,-2c-0.2,0.6 -2.6,5.2 -4,7.1c-1.4,1.9 -6.1,6.7 -7.1,8.1c-1,1.4 -1.2,2 -1,3c0.2,1 2.2,4.5 3,5c0.8,0.5 2.7,-0.2 3.1,-1c0.4,-0.8 -0.2,-4.5 0,-5c0.2,-0.5 1.6,0.4 2,1c0.4,0.6 0.5,3.4 1,4c0.5,0.6 2.4,1.6 3,1c0.6,-0.6 1.4,-5.8 2,-6c0.6,-0.2 2.7,2.7 3.1,4c0.4,1.3 0.4,5.1 0,6.1c-0.4,1 -3.1,0.6 -3.1,2c0,1.4 2.6,6.7 3.1,9.1c0.5,2.4 1.2,7.8 1,10.1c-0.2,2.3 -2.5,6.6 -3,8.1c-0.5,1.5 -0.5,3.1 -1.1,4c-0.6,0.9 -3,2.7 -4,3.1c-1,0.4 -3.8,1.1 -4,0c-0.2,-1.1 1.9,-6.7 2,-9.1c0.1,-2.4 -0.4,-8.1 -1,-10.1c-0.6,-2 -2.7,-4.6 -4.1,-6.1c-1.4,-1.5 -5.1,-4.8 -7,-6.1c-1.9,-1.3 -5.8,-3.1 -8.1,-4c-2.3,-0.9 -7.4,-2.4 -10.1,-3c-2.7,-0.6 -9.2,-2.3 -11.2,-2.1c-2,0.2 -3.6,3.6 -5,4.1c-1.4,0.5 -4.6,-0.8 -6.1,0c-1.5,0.8 -4.7,5.2 -6,6.1c-1.3,0.9 -2.6,0.4 -4.1,1c-1.5,0.6 -6.1,2.7 -8.1,4c-2,1.3 -6.6,5.2 -8.1,6.1c-1.5,0.9 -3.1,-0 -4,1c-0.9,1 -1.9,6.6 -3,7.1c-1.1,0.5 -4.2,-2.1 -6.1,-3.1c-1.9,-1 -7.6,-4.5 -9.1,-5c-1.5,-0.5 -2.7,0.2 -3,1c-0.3,0.8 1.1,4 0.6,5c-0.5,1 -4.2,2.3 -4.7,3.1c-0.5,0.8 0.3,2.4 1,3c0.7,0.6 4.2,1.4 4.5,2c0.2,0.6 -1.2,2.1 -2.5,2.5c-1.3,0.4 -5.1,0.9 -8,0.6c-2.9,-0.3 -11.7,-2 -15.2,-3.1c-3.5,-1.1 -9.3,-4.5 -13.1,-6c-3.8,-1.5 -14.5,-4.3 -17.2,-6.1c-2.7,-1.8 -3.3,-5.8 -4.1,-8.1c-0.8,-2.3 -1.4,-8.2 -2,-10.1c-0.6,-1.9 -2.1,-4.3 -3,-5.1c-0.9,-0.8 -3.3,-0.5 -4.1,-1c-0.8,-0.5 -2,-2.1 -2,-3c0,-0.9 0.9,-2.8 2,-4c1.1,-1.2 5.1,-5.1 7.1,-5.7c2,-0.6 7,0.2 9.1,0.6c2.1,0.4 6,2.1 8.1,2.4c2.1,0.2 7.8,0.4 9.1,-0.4c1.3,-0.8 1.3,-4.7 1.4,-6c0.1,-1.3 -0.8,-3.3 -0.4,-4.1c0.4,-0.8 3.4,-1.9 3.6,-2.4c0.2,-0.5 -1.6,-0.4 -2,-1.6c-0.4,-1.2 -0.5,-6.4 -1.2,-8.1c-0.7,-1.7 -4.4,-3.7 -4.4,-5.1c-0,-1.4 2.6,-4.7 4,-6c1.4,-1.3 6,-2.7 7.1,-4.1c1.1,-1.4 0.6,-6 2,-7.1c1.4,-1.1 7.7,-0.9 9.1,-2c1.4,-1.1 0.9,-5.6 2,-7.1c1.1,-1.5 6,-3.3 7.1,-4.6c1.1,-1.3 1.5,-3.5 1.4,-5.5c-0.1,-2 -2.4,-8.2 -2.4,-10.1c-0,-1.9 0.7,-4 2,-5c1.3,-1 5.6,-2.4 8.1,-3.1c2.5,-0.7 10,-1.7 12.1,-2.6c2.1,-0.9 4.6,-3.1 5.1,-4.4c0.5,-1.3 -0.7,-4.4 -1,-6.1c-0.3,-1.7 -1.9,-5.3 -1.7,-7.1c0.2,-1.8 2.7,-5.6 3.7,-7.1c1,-1.5 3.4,-3.6 4,-5c0.6,-1.4 1.2,-4.7 1,-6.1c-0.2,-1.4 -1.8,-3.6 -3,-5c-1.2,-1.4 -6,-4.1 -6.5,-6.1c-0.5,-2 2.1,-7.7 2.1,-10.1c0,-2.4 -1.6,-6.8 -2.1,-9.1c-0.5,-2.3 -1.6,-7.1 -1.6,-9.1c0,-2 0.5,-5.3 2,-7.1c1.5,-1.8 7.9,-5.8 10.2,-7.1c2.3,-1.3 5.7,-2.5 8,-3.6c2.3,-1 8.5,-4.6 10.2,-4.8c1.7,-0.2 2.5,1.8 3,3.4c0.5,1.6 1.1,6.4 1,9.1c-0.1,2.7 -1.1,10 -1.6,12.1c-0.5,2.2 -2.1,4.2 -2,5.1c0.1,0.9 1.6,2.4 2.6,2c1,-0.4 3.9,-4.2 5,-5.1c1.1,-0.9 3.5,-0.6 4.1,-2c0.6,-1.4 0.5,-7.5 1,-9.1c0.5,-1.6 2,-3.4 2.6,-3.4c0.6,0 1.6,2.2 2.4,3.4c0.8,1.2 2.8,6.5 4.1,6.1c1.3,-0.4 4.6,-7.6 6.1,-9.1c1.5,-1.5 4.5,-2.9 5.6,-3c1,-0.1 2.6,0.9 2.8,2c0.2,1.1 -2.1,5.8 -1.4,7.1c0.7,1.3 5.6,1.9 7.1,3c1.5,1.1 4,5 5.1,6.1c1.1,1.1 3,3 4,3c1,0 3.6,-1.9 4.1,-3c0.5,-1.1 -0.9,-5 0,-6.1c0.9,-1.1 6.1,-1.8 7,-3c0.9,-1.2 -0.7,-6.9 0.4,-6.5c1.1,0.4 7.2,7.4 8.7,9.5c1.5,2.1 2.5,5.5 3.1,7.1c0.6,1.6 0.7,5.9 2,6c1.3,0.1 5.8,-4.3 8.1,-5c2.3,-0.7 7.4,-0.5 10.1,-0.6c2.7,-0.1 9,0.5 11.1,-0.4c2.2,-0.9 6.2,-6 6.1,-7.1c-0.1,-1.1 -5.4,-0.9 -7.1,-2c-1.7,-1.1 -5.2,-5.8 -6.1,-7.1c-0.9,-1.3 -0.4,-2.4 -1,-3c-0.6,-0.6 -2.6,-1.3 -4,-2.1c-1.4,-0.8 -6,-2.9 -7.1,-4c-1.1,-1.1 -2.4,-4.2 -2,-5.1c0.4,-0.9 4.2,-1.2 5,-2c0.8,-0.8 1.2,-2.5 1,-4c-0.2,-1.5 -2.4,-5.8 -2.4,-8.1c0,-2.3 2.1,-7.6 2.4,-10.1c0.3,-2.5 0.2,-8.1 0,-10.1c-0.2,-2 -1.6,-4.7 -2,-6.1c-0.4,-1.4 -0.7,-4.8 -1.4,-5.4c-0.7,-0.6 -3.2,1.3 -4,0.8c-0.8,-0.5 -1.1,-3.4 -2,-4.5c-0.9,-1.1 -3.3,-3.8 -5.1,-4.4c-1.8,-0.6 -7.2,0.4 -9.1,-0.6c-1.9,-1 -4.2,-5.9 -6,-7.1c-1.8,-1.2 -6.6,-1.6 -8.1,-2.4c-1.5,-0.8 -3.1,-3.1 -4.1,-3.7c-1,-0.6 -3.6,0.1 -4,-1c-0.4,-1.1 1,-6.6 1,-8.1c0,-1.5 -1.1,-2.6 -0.6,-4c0.5,-1.4 4.2,-5.6 4.6,-7.1c0.5,-1.5 -0.5,-4 -1,-5c-0.5,-1 -2.1,-3 -3,-2.7c-0.9,0.2 -3.1,4.1 -4,4.7c-0.9,0.6 -2.2,1.1 -3.1,0c-0.9,-1.1 -4.4,-7.4 -4,-8.7c0.4,-1.3 6,-0.3 7.1,-1.4c1.1,-1.1 1.9,-4.7 2,-7.1c0.1,-2.4 -1.8,-10.2 -1.4,-12.1c0.4,-1.9 3.8,-1.8 4.4,-3.1c0.6,-1.3 0.6,-5.4 0.4,-7c-0.2,-1.6 -1.5,-5 -2.4,-6.1c-0.9,-1.1 -3.8,-2.8 -5.1,-3c-1.3,-0.2 -4,-0.1 -5,1c-1,1.1 -2.2,6.8 -3.1,8.1c-0.9,1.3 -2.9,2.4 -4,2c-1.1,-0.4 -4.3,-3.6 -5.1,-5.1c-0.8,-1.5 -0.5,-5.7 -1,-7.1c-0.5,-1.4 -2,-3.1 -3,-4c-1,-0.9 -4.1,-1.9 -5.1,-3c-1,-1.1 -1.9,-4.7 -3,-6.1c-1.1,-1.5 -4.8,-5.2 -6.1,-5.5c-1.3,-0.2 -3.1,3.3 -4,3.5c-0.9,0.2 -2.1,-0.2 -3,-2c-0.9,-1.8 -3.5,-10 -4.1,-12.2c-0.6,-2.1 -1.2,-3.4 -0.6,-5c0.6,-1.6 4.6,-6 5.7,-8.1c1.1,-2.1 2.5,-6.5 3,-9.1c0.5,-2.6 -0.2,-9.5 0.6,-12.1c0.8,-2.6 4.9,-7.7 5.5,-9.1c0.6,-1.4 -0.1,-1.6 -1,-2.1c-0.9,-0.5 -5.3,-1.2 -6.1,-2c-0.8,-0.8 -0.9,-2.2 0,-4c0.9,-1.8 6.4,-8.6 7.1,-10.1c0.7,-1.5 -0.5,-1.6 -1.4,-2.1c-0.9,-0.5 -4.4,0 -5.7,-2c-1.3,-2 -3.9,-12.1 -5,-14.1c-1.1,-2 -3,-2.1 -4.1,-2.1c-1.1,0 -3.6,1.1 -5,2.1c-1.4,1 -4.7,5.2 -6.1,6c-1.4,0.8 -3.7,0.5 -5.1,0c-1.4,-0.5 -4.4,-2.3 -6,-4c-1.6,-1.7 -5.9,-8.5 -6.7,-9.7c1.5,-0.7 9.3,-3.9 11.7,-5.5c2.4,-1.6 5.7,-5.8 7.1,-7.1c1.4,-1.3 3.6,-1.9 4,-3c0.4,-1.1 -1.5,-5 -1,-6.1c0.5,-1.1 3.6,-3.3 5.1,-3c1.5,0.3 5,3.8 7.1,5.1c2.2,1.3 7.3,4.8 10.1,5.4c2.8,0.6 9.1,0.3 12.1,-0.4c3,-0.7 9.6,-5 12.1,-5c2.5,-0 5.8,4 8.1,4.6c2.3,0.6 7.7,0.4 10.1,0.4c2.4,0 7.6,0.5 9.1,-0.4c1.5,-0.9 3.2,-5 3.1,-6.7c-0.1,-1.7 -4.1,-5.4 -3.7,-6.6c0.4,-1.2 5,-2.1 6.7,-2.9c1.7,-0.8 5.9,-3.1 6.7,-3.6c0.8,0 5,-0.1 6.4,0.4c1.4,0.5 4.1,3.7 5.1,3.6c1,-0.1 2.2,-3.5 3,-4.4c0.8,-0.9 2.5,-2.5 3.1,-2.6c0.6,-0.1 1.1,2 2,2c0.9,0 3.9,-2.8 5,-2c1.1,0.8 3.1,6.7 4.1,8.1c1,1.4 1.5,2.6 4,3.4c2.5,0.8 12.9,2.1 16.2,2.6c3.3,0.5 8.2,0.8 10.1,1c1.9,0.2 4.5,0.9 5.1,1c-0.2,0.8 0.1,4.7 -1.5,6.1c-1.6,1.4 -9.7,3.2 -11.3,5.1c-1.6,1.9 -2.1,8 -1.4,10.1c0.7,2.1 5.8,5.3 7.1,7.1c1.3,1.8 2.4,4.6 3,7c0.6,2.4 1.2,9.5 2,12.2c0.8,2.7 2.8,7.6 4.1,9.1c1.3,1.5 5.2,2.1 6,3c0.8,0.9 1.1,3 0.7,4c-0.4,1 -3.9,2.8 -3.7,4.1c0.2,1.3 4.6,4.5 5.1,6c0.5,1.5 -1.8,4.4 -1.4,6.1c0.4,1.6 3.1,5.8 4.4,7.1c1.3,1.3 4.6,2.8 6.1,3c1.5,0.2 4.5,-0.6 6,-1c1.5,-0.4 4.3,-2.1 6.1,-2c1.8,0.1 6.7,1.9 8.1,3c1.4,1.1 2.2,6.2 3,6.1c0.8,-0.1 1.6,-6 3,-7.1c1.4,-1.1 7,-2.3 8.1,-1.4c1.1,0.9 -0.2,7.3 0.4,8.5c0.6,1.2 3.4,-0 4.7,1c1.3,1 4.8,5.5 5.4,7.1c0.6,1.6 0,4.5 -0.4,6c-0.4,1.5 -2.5,4.2 -3,6.1c-0.5,1.9 -1.6,6.6 -1.4,9.1c0.2,2.5 2.3,8.1 3.4,11.1c1.1,3 2.8,11.2 5.1,13.2c2.3,2 11.2,2.3 13.1,3c1.9,0.7 -0.1,2.5 2.1,2.4c2.2,-0.1 13,-3.6 15.1,-3.4c2.1,0.2 2.3,3.6 1.6,5c-0.8,1.4 -6.6,4.6 -7.6,6.1c-1,1.5 -1.4,5 -0.5,6.1c0.9,1.1 5.8,2.8 7.5,3c1.7,0.2 4.8,-2 6.1,-1.4c1.3,0.6 2.7,5.1 4,6.5c1.3,1.4 5.6,2.9 6.1,5c0.5,2.1 -1.2,9.9 -2,12.1c-0.8,2.2 -3.1,4.5 -4.7,5.6c-1.6,1.1 -5.8,2.7 -8.1,3.5c-2.3,0.8 -8.3,2 -10.1,2.6c-1.8,0.6 -3.1,1.6 -4.1,2c-1,0.4 -3.8,-0.1 -4,1c-0.2,1.1 0.7,6.1 2,8.1c1.3,2 6.3,6.2 8.1,8.1c1.8,1.9 5,4.1 6,7.1c1,3 1.4,13 1.7,17.2c0.3,4.2 0.7,14.1 0.8,16.1Z" fill="#4188bd" stroke="#4188bd" stroke-width="0.6"/><path d="M1559.1,1490.5c-0.5,0.8 -2.9,5 -3.6,6.6c-0.7,1.6 -1.7,4.2 -1.7,6.1c-0,1.9 0.9,7.2 1.3,9.1c0.4,1.9 2,4.8 2,6.1c0,1.3 -1,2.9 -1.6,4c-0.6,1.1 -2.8,4.2 -3.1,5.1c-0.3,0.9 0.1,1.6 1,2c0.9,0.4 6,0.6 6.1,1c0.1,0.4 -2.8,1.5 -5,2c-2.2,0.5 -10.3,1.5 -12.2,2c-1.9,0.5 -2.2,1.8 -3,2.1c-0.8,0.3 -3.5,-0.2 -3.7,0.4c-0.2,0.6 0.5,3.3 1.7,4.6c1.2,1.3 6.2,4.6 8.1,6.1c1.9,1.5 5.2,5.4 7,6c1.8,0.6 5.4,-2.2 7.1,-1.4c1.7,0.8 5.2,5.9 6.1,7.5c0.9,1.6 0.2,4.1 1,5.1c0.8,1 3.6,2.2 5,3c1.4,0.8 5.2,2.8 6.5,3c1.3,0.2 3.2,-0.9 3.6,-1c0.2,-0.4 0.4,-2.6 1.7,-3.4c1.3,-0.8 7.7,-1.5 8.5,-2.7c0.8,-1.2 -1.5,-5 -2.1,-7c-0.6,-2 -2.2,-7.8 -3,-9.1c-0.8,-1.3 -2.8,-0.3 -3.4,-1c-0.6,-0.7 -1,-4 -1.7,-4.5c-0.7,-0.5 -3.2,0.8 -4,0.4c-0.8,-0.5 -2.4,-2.5 -2,-4c0.4,-1.5 5,-6.1 5,-8.1c0,-2 -3.1,-6.6 -5,-7.5c-1.9,-0.9 -9,1.4 -10.5,0.4c-1.5,-1 -1.5,-6.7 -1.6,-8.1c-0.1,-1.4 -0.2,-2 1,-3c1.2,-1 8,-3.6 8.7,-5.1c0.8,-1.5 -1.6,-5.3 -2.7,-6.6c-1.1,-1.3 -4.6,-3.4 -6,-4.1c-1.4,-0.7 -4.4,-0.7 -5.1,-1.4c-0.7,-0.8 -0.4,-4 -0.4,-4.6Z" fill="#4188bd" stroke="#4188bd" stroke-width="0.6"/><path d="M866.9,319.3c0.5,0.4 3.2,2.6 4.1,3c0.9,0.4 1.7,1.1 3,0c1.3,-1.1 6.1,-7.5 7.1,-9.1c1,-1.6 1,-2.7 1,-4c0,-1.3 -1.2,-4.6 -1,-6.1c0.2,-1.5 2.1,-4.7 3,-5.6c0.9,-0.9 3,-1.7 4.1,-1.5c1.1,0.2 3.5,1.9 5,3.1c1.5,1.2 4.4,5.5 7.1,6.4c2.7,0.9 11.9,0.7 14.2,0.4c2.3,-0.3 2.7,-1.2 4,-2.8c1.3,-1.6 4.6,-8 6.1,-9.7c1.5,-1.7 4.7,-3.8 6,-4c1.3,-0.2 3.5,1.7 4.1,2.6c0.6,0.9 -0.3,3.7 0.6,5c0.9,1.3 5.1,3.3 6.4,5.1c1.3,1.8 2.9,8 3.7,9.1c0.8,1.1 1.1,0.8 2.4,0c1.3,-0.8 6.5,-5.2 8.1,-6.1c1.6,-0.9 3.2,-1.4 5.1,-1.4c1.9,0 8.1,1 10.1,1.4c2,0.4 5,0.4 6,2.1c1,1.6 1.5,8.6 2.1,11.1c0.6,2.5 2,8 3,9.1c1,1.1 4.1,-0.9 5,-0.4c0.9,0.5 1.6,3.5 2.1,4.4c0.5,0.9 1.1,2.7 1.6,2.6c0.5,-0.1 2.1,-2 2.4,-3.6c0.3,-1.6 -0.4,-7.1 0,-9.1c0.4,-2 1.9,-5.5 3,-7.1c1.1,-1.6 4.3,-4.3 6.1,-5.4c1.8,-1.1 6.1,-2.8 8.1,-3.3c2,-0.5 6.6,0 8.1,-0.4c1.5,-0.4 3.1,-1.9 4,-3c0.9,-1.1 2.1,-5 3.1,-6.1c1,-1.1 3.5,-2.4 5,-2.6c1.5,-0.2 5.7,0.6 7.1,1.2c1.4,0.6 3.1,2.2 4,3.5c0.9,1.3 2.2,5.4 3.1,7c0.9,1.6 3.3,4.6 4,6.1c0.7,1.5 1.5,4.6 1.6,6.1c0.1,1.5 -1.4,4.5 -1,6c0.4,1.5 3.6,4.3 4.5,6.1c0.9,1.8 2.2,6.8 3,8.1c0.8,1.3 2,2.2 3,2.4c1,0.2 4.5,-0.7 5.1,-0.8c0.5,0.3 3.6,0.8 4,2.4c0.4,1.6 -0.2,8 -1,10.1c-0.8,2.1 -3.4,5.8 -5,7.1c-1.6,1.3 -7.3,2.1 -8.1,3.7c-0.8,1.6 1.5,6.8 2,9.5c0.5,2.7 1.1,11.2 2,12.1c0.9,0.9 3.8,-4.4 5.1,-4.5c1.3,-0.1 3.7,2.3 5,3.5c1.3,1.2 3.7,4.7 5.1,6c1.4,1.3 5.2,3.1 6,4.1c0.8,1 0.2,2.7 0,4c-0.2,1.3 -1.6,4.6 -2,6.1c-0.4,1.5 0.1,5.3 -1,6.1c-1.1,0.8 -7.1,-0.5 -8.1,0c-1,0.5 -0.1,3.2 0.4,4c0.5,0.8 2.1,0.1 3.7,2c1.6,1.9 8.2,9.7 9.1,13.2c0.9,3.5 -2.8,13 -2.1,15.1c0.8,2.1 6.8,1.1 8.1,2.1c1.3,1 1.6,4.5 2.1,6c0.5,1.5 2.3,4.7 2,6.1c-0.3,1.4 -3.1,3.6 -4.1,5c-1,1.4 -2.9,4.3 -4,6.1c-1.1,1.8 -5,6.5 -5.1,8.1c-0.1,1.6 4.1,3.6 4.1,5c0,1.4 -4,4.8 -4.1,6.1c-0.1,1.3 3,2.6 3.1,4.1c0.1,1.5 -1.2,6.9 -2.1,7.8c-0.9,0.9 -4.9,-0.9 -5.2,-0.4c-0.3,0.5 3,3.9 2.8,4.7c-0.2,0.8 -4.3,0.8 -4.8,1.4c-0.5,0.6 -0.3,2.9 0.8,3c1.1,0.1 6,-1.9 7.7,-2c1.7,-0.1 4.7,0.2 6,1c1.3,0.8 3.2,3.2 4.1,5.1c0.9,1.9 2,8.3 3,10.1c1,1.8 4,2.6 5.1,4c1.1,1.4 3.5,4.3 4,7.1c0.5,2.8 -0.6,12.3 0,15.2c0.6,2.9 4,6.5 4.5,8.1c0.5,1.6 0,4.1 -0.8,5c-0.8,0.9 -5.1,0.9 -5.7,2c-0.6,1.1 1,5.2 1,7.1c0,1.9 -1.4,6.3 -1,8.1c0.4,1.8 3.1,4.6 4,6.1c0.9,1.5 3.3,4.6 3.1,6c-0.2,1.4 -3.7,3.6 -5.1,5.1c-1.4,1.5 -4.1,5.5 -6.1,7.1c-2,1.6 -8.1,4.7 -10.1,6c-2,1.3 -4.4,3.1 -6,4.1c-1.6,1 -6.3,2 -7.1,3.6c-0.8,1.6 1.2,7.5 1,9.5c-0.2,2 -3.5,5.2 -3,6.1c0.5,0.9 6.3,0.5 7.1,1.4c0.8,0.9 -0.8,4.7 -1.1,5.7c-0.3,1 -1.2,1.8 -1.4,2c-0.6,0.1 -3.1,0.2 -4.6,1c-1.5,0.8 -5,4.6 -7.1,5.5c-2.1,0.9 -8.3,0.9 -9.7,1.6c-1.4,0.6 0.7,3 -1.4,3.6c-2.1,0.6 -11.3,1.4 -15.2,1.4c-3.9,0 -13.9,-0.9 -16.2,-1.4c-2.3,-0.5 -2.4,-1.8 -2.4,-2.6c0,-0.8 2.4,-3 2.4,-4.1c0,-1.1 -1.2,-3.8 -2,-5c-0.8,-1.2 -4.4,-2.8 -4,-4.5c0.4,-1.7 6.8,-7.5 7,-9.3c0.2,-1.8 -4.1,-4.1 -5,-5.4c-0.9,-1.3 -2,-3.5 -2.4,-5.1c-0.4,-1.6 -0.1,-6.7 -0.6,-8.1c-0.5,-1.4 -2.6,-2.2 -3.1,-3c-0.5,-0.8 0.1,-2.8 -1,-3.4c-1.1,-0.6 -6.7,-1.5 -8.1,-1.2c-1.4,0.4 -1.9,3.2 -3,4c-1.1,0.8 -4.7,1.2 -6.1,2.6c-1.4,1.4 -3.1,7.8 -5,8.7c-1.9,0.9 -8,-1.4 -10.1,-1.2c-2.1,0.2 -5.5,2.8 -7.1,2.6c-1.6,-0.2 -3.9,-3.5 -6.1,-4c-2.1,-0.5 -9.2,-0.8 -11.1,0c-1.9,0.8 -2.9,5.2 -4,6.1c-1.1,0.9 -3.5,1.3 -5.1,1c-1.6,-0.3 -6.3,-2.8 -8.1,-3.1c-1.8,-0.3 -4,0.8 -6,1c-2,0.2 -7.4,-0.1 -10.2,0.4c-2.8,0.5 -9.1,3 -12.1,3.3c-3,0.3 -9.6,-0.6 -12.1,-0.6c-2.5,0 -7.1,0.9 -8.1,1c-1,-0.2 -5.6,-1.2 -8.1,-2c-2.5,-0.8 -10.1,-3.3 -12.1,-4.1c-2,-0.8 -2.4,-0.4 -3.7,-2c-1.3,-1.6 -5.5,-9.1 -6.4,-11.1c-0.9,-2 -0.2,-4.2 -1,-5.1c-0.8,-0.9 -4.7,-1.4 -5.5,-2c-0.8,-0.6 -1.1,-2 -0.6,-3c0.5,-1 4.9,-3.7 5,-5.1c0.1,-1.4 -3.4,-4.7 -4,-6c-0.6,-1.3 -2.1,-3.6 -1,-4.1c1.1,-0.5 8.2,0.4 10.1,0c1.9,-0.4 4.2,-2 4.7,-3c0.5,-1 0,-4.1 -0.7,-5.1c-0.7,-1 -4.9,-1.7 -5,-3c-0.1,-1.3 4,-5.7 4,-7.1c0,-1.4 -3.9,-3.4 -4,-4c-0.1,-0.6 2.5,-0.4 3,-1c0.5,-0.6 1.5,-2.7 1,-4.1c-0.5,-1.4 -4.4,-5.3 -5,-7.1c-0.6,-1.8 0.4,-5.9 0,-7c-0.4,-1.1 -2.1,-2.6 -3.1,-2.1c-1,0.5 -3.6,5.3 -5,6.1c-1.4,0.8 -5.2,0.5 -6.1,0c-0.9,-0.5 -0.2,-3 -1,-4c-0.8,-1 -3.8,-3.5 -5,-4.1c-1.2,-0.6 -4.3,-0.4 -4.7,-1c-0.4,-0.6 2.6,-2.5 1.2,-4c-1.4,-1.5 -11,-6.5 -12.7,-8.1c-1.7,-1.6 0,-3.6 -1,-4.5c-1,-0.9 -6.6,-0.9 -7.1,-2.6c-0.5,-1.7 1.9,-9.1 3,-11.1c1.1,-2 6.1,-4.1 6.1,-5.1c0,-1 -4.5,-1.6 -6.1,-3c-1.6,-1.4 -5.5,-7.4 -6.3,-8.5c0.5,-0.8 4,-4.8 4.1,-6.1c0.1,-1.3 -2.3,-3.1 -3,-4c-0.7,-0.9 -2.7,-2 -2.7,-3.1c0,-1.1 1.7,-4.2 2.7,-6c1,-1.8 4.1,-6.2 5,-8.1c0.9,-1.9 2.3,-5.3 2,-7.1c-0.3,-1.8 -3.6,-5.6 -4.4,-7.1c-0.8,-1.5 -1.9,-3.5 -2,-5c-0.1,-1.5 1,-5.1 1.4,-7.1c0.4,-2 1.6,-7.5 1.4,-9.1c-0.2,-1.6 -3.4,-3.3 -3.4,-4c-0,-0.7 2.9,-0.5 3,-1.4c0.1,-0.9 -1.4,-4.3 -2,-5.7c-0.6,-1.4 -2.2,-4.1 -2.5,-5.1c-0.3,-1 0.1,-2.1 0.4,-3c0.3,-0.9 0.9,-3.1 2.1,-4c1.2,-0.9 6.3,-2 7.7,-3.1c1.4,-1.1 2.5,-4.7 3.4,-6c0.9,-1.3 3,-2.8 3.6,-4.1c0.6,-1.3 0.6,-4.7 1,-6c0.4,-1.3 1.8,-2.7 2.5,-4.1c0.7,-1.4 2.1,-5.8 3,-7.1c0.9,-1.3 3.2,-2 4,-3c0.8,-1 2.2,-3.6 2.1,-5.1c-0.1,-1.5 -2.6,-5.6 -3.1,-7c-0.5,-1.4 -1.9,-3.3 -1,-4.1c0.9,-0.8 6.6,-1.1 8.1,-2c1.5,-0.9 4,-4.1 4.1,-5c0.1,-0.9 -2.9,-1.3 -3.5,-2.1c-0.6,-0.8 -1.2,-2.4 -1.2,-4c0.1,-1.6 1,-7.8 1.6,-9.1c0.6,-1.3 2.3,-1.8 3.1,-1.4c0.8,0.4 2,3.3 3,4.4c1,1.1 4.2,3.8 5,4.1c0.8,0.3 2,-0.9 1.7,-1.7c-0.2,-0.8 -3.4,-3 -3.7,-4.4c-0.3,-1.4 0.4,-5.8 1,-7.1c0.6,-1.3 2.8,-2.6 4.1,-3c1.3,-0.4 5.2,0 6,0Z" fill="#fdb671" stroke="#fdb671" stroke-width="0.6"/><path d="M1383.1,539.1c-0.7,-0.1 -4.4,-1.2 -5.6,-1c-1.2,0.2 -3.5,2.1 -4.1,3c-0.6,0.9 -1.1,2.9 -1,4c0.1,1.1 2.5,3.8 2.1,5.1c-0.4,1.3 -3.8,4.2 -5.1,5c-1.3,0.8 -3.6,0.1 -5.1,1.1c-1.5,1 -6.4,5 -7,7c-0.6,2 1.6,7.3 2,9.1c0.4,1.8 1.9,4.2 1,5.1c-0.9,0.9 -7.1,0.6 -8.1,2c-1,1.4 0.6,6.8 0,9.1c-0.6,2.3 -3.6,6.7 -5,9.1c-1.4,2.4 -3.8,9.1 -6.1,10.1c-2.3,1 -10.4,-1 -12.1,-2c-1.7,-1 -0.6,-5.5 -1.1,-6.1c-0.5,-0.6 -2.5,0.2 -3,1c-0.5,0.8 -0.1,4.4 -1,5.1c-0.9,0.7 -5.1,-0 -6.1,0.4c-1,0.5 -1,4.1 -2,3.2c-1,-0.9 -3.8,-9.5 -6,-10.7c-2.2,-1.2 -8.3,0.1 -11.2,1c-2.9,0.9 -9.9,5.5 -12.1,6.5c-2.2,1 -4,0.6 -5.1,1.6c-1.1,1 -3.3,4.8 -3.4,6.1c-0.1,1.3 2.3,2.9 2.4,4c0.1,1.1 -1.6,4 -1.6,5.1c0,1.1 1.8,2.2 1.6,4c-0.2,1.8 -2,7.5 -3,10.1c-1,2.6 -4.5,9.2 -5.1,11.1c-0.6,1.9 -0.5,3.2 0,4.1c0.5,0.9 3.6,2.1 4.1,3c0.5,0.9 0.5,3 -0.4,4.1c-0.9,1.1 -5.5,3.5 -6.7,5c-1.2,1.5 -1.7,5.6 -3,7.1c-1.3,1.5 -5.5,3.5 -7.1,5.1c-1.6,1.6 -4.4,6.1 -5.9,8c-1.5,1.9 -5,5.6 -6,7.1c-1,1.5 -1.1,4.6 -2.1,5.1c-1,0.5 -4.5,-1.2 -6,-1c-1.5,0.2 -4.3,2.2 -6.1,3c-1.8,0.8 -6.3,3.3 -8.1,3c-1.8,-0.3 -4.4,-4.6 -6,-5.4c-1.6,-0.8 -5.7,-1.4 -7.1,-1.2c-1.4,0.2 -2.5,2.5 -4.1,3.2c-1.7,0.7 -7.3,2.6 -9.1,2.4c-1.8,-0.2 -3.9,-4.1 -5,-4.4c-1.1,-0.3 -3.2,0.2 -4.1,2c-0.9,1.8 -2.4,10.2 -3,12.5c-0.6,2.3 -1.5,5.5 -2,5.7c-0.5,0.2 -0.7,-3 -2,-3.7c-1.3,-0.7 -5.4,-1.4 -8.1,-2c-2.7,-0.6 -11.2,-1.7 -13.2,-3c-2,-1.3 -2.1,-6.6 -3,-7.1c-0.9,-0.5 -3.1,2 -4,3c-0.9,1 -1.8,4.6 -3.1,5.1c-1.3,0.5 -5.5,-1.2 -7.1,-1c-1.6,0.2 -4.5,2.4 -6,3c-1.5,0.6 -4.6,0.7 -6.1,2c-1.5,1.3 -5,6.5 -6,8.1c-1,1.6 -0.4,4.3 -2.1,5.1c-1.7,0.8 -9.1,1.6 -11.1,1c-2,-0.6 -3.9,-5.1 -5,-6.1c-1.1,-1 -3.1,-1.7 -3.6,-1.9c-0.2,0.1 -2,0.6 -1.7,1.1c0.3,0.5 4,2.1 4.4,3.1c0.5,1 -0.5,3.6 -0.8,5c-0.3,1.4 -1.4,4.8 -2,6.1c-0.6,1.3 -2.4,3.1 -2.7,4c-0.3,0.9 0.8,2.1 0,3c-0.8,0.9 -4.9,3 -6,4.1c-1.1,1.1 -3,3.8 -3.1,5c-0.1,1.2 1,3.7 2.1,4.5c1.1,0.8 6,0.9 7,1.6c1,0.7 1.5,3.1 1.1,4.1c-0.4,1 -4.1,3 -4.5,4c-0.4,1 0.4,3.1 1.4,4c1,0.9 5.7,2.2 6.7,3.1c1,0.9 1.6,3 1.4,4c-0.2,1 -2.5,3.2 -2.6,4.1c-0.1,0.9 0.9,2.8 1.6,3.4c0.7,0.6 3.1,-0.1 4,1.6c0.9,1.7 2.6,10.3 3.1,12.1c0.5,1.8 -0,1.7 1,2.1c1,0.4 5.6,0.4 7.1,1c1.5,0.6 4.8,3 5,4c0.2,1 -3.4,3.1 -3.6,4.1c-0.2,1 0.8,3.1 1.6,4c0.8,0.9 3.7,2.2 5.1,3c1.4,0.8 5.1,1.8 6,3.1c0.9,1.3 0.5,5.3 1,7.1c0.5,1.8 2.3,5.5 3.1,7c0.8,1.5 2.8,3.6 3,5.1c0.2,1.5 -0.4,5.6 -1,7.1c-0.6,1.5 -3.3,4.1 -4.1,5c-0.8,0.9 -2.7,1.8 -2.6,2.4c0.1,0.6 2.5,1.7 3.2,2.5c0.7,0.8 1.8,3.7 2.1,4.2c0.4,0 2.3,0.5 3.4,0c1.1,-0.5 3.7,-3.4 5.1,-4c1.4,-0.6 4.1,0.3 6,-0.6c1.9,-0.9 7.3,-6.4 9.1,-6.9c1.8,-0.5 2.4,3.6 5.1,2.8c2.7,-0.8 14.2,-7.5 16.6,-9.5c2.4,-2 1.7,-5.9 2.6,-6.7c1,-0.8 3.9,-0.3 5,0c1.1,0.3 2.3,2.5 4.1,2.7c1.8,0.2 8.7,-0.3 10.1,-1.4c1.4,-1.1 1.5,-6 1,-7.3c-0.5,-1.4 -4.6,-2.4 -4.6,-3.5c0,-1.1 3.6,-4 4.6,-5c1,-1 2.7,-1.6 3,-3c0.3,-1.4 -1.2,-6.3 -0.4,-8.1c0.8,-1.8 4.9,-5 6.5,-6.1c1.6,-1.1 4.1,-2.8 6.1,-3c2,-0.2 8.6,0.8 10.1,1c1.5,0.2 1.2,0.8 2,1c0.8,0.2 2.6,0.8 4.1,0.8c1.5,-0 5.7,-1.1 8.1,-1c2.4,0.1 9.1,1 11.1,1.6c2,0.6 3.7,2.9 5.1,3.4c1.4,0.5 4.7,0.8 6,0.6c1.3,-0.2 3,-1.4 4.1,-2c1.1,-0.6 3.2,-2.9 5,-3.2c1.8,-0.3 7.2,0.4 9.1,0.6c1.9,0.2 5,0.4 6.1,1c1.1,0.6 1.6,3.6 3,3.6c1.4,0 6.5,-2.5 8.1,-3.2c1.7,-0.7 4.2,-1.2 5.1,-2.4c0.9,-1.2 1.2,-5.7 2,-7.1c0.8,-1.4 3.1,-2.9 4,-4c0.9,-1.1 2.9,-3.3 3.1,-5.1c0.2,-1.8 -1.6,-7.3 -1.5,-9.1c0.1,-1.8 1,-4.8 2.5,-5.1c1.5,-0.3 7.3,2.3 9.1,2.5c1.8,0.2 4.1,-0.2 5,-0.8c0.9,-0.6 1.2,-3.5 2,-4.1c0.8,-0.6 2.3,-0.9 4.1,-0.6c1.8,0.2 8.1,1.7 10.1,2.6c2,0.9 5.1,3 6.1,4.5c1,1.5 1.4,6.1 2,7.1c0.6,1 1.7,1.8 3,1c1.3,-0.8 5.2,-6.3 7.1,-7.7c1.9,-1.4 6.8,-2.8 8.1,-3.4c1.3,-0.6 1.1,-1.3 2,-1.1c0.9,0.2 4,2.1 5.1,2.5c1.1,0.4 3.2,0.9 4,0.6c0.8,-0.3 2.5,-2.1 2.6,-3.1c0.1,-1 -1.7,-3.9 -1.6,-5c0,-1.1 1.1,-3.2 2,-4.1c0.9,-0.9 3.8,-1.6 5.1,-3c1.3,-1.4 3.7,-7.4 5,-8.5c1.3,-1.1 4.2,0.1 5.1,-0.6c0.9,-0.7 1.2,-4 2,-5c0.8,-1 3.3,-2.8 4.1,-3.1c0.8,-0.3 1.4,-0.1 2,1c0.6,1.1 2,6.7 3,7.7c1,1 4.2,0.7 5.1,0.4c0.9,-0.3 1.4,-2.8 2,-3c0.6,-0.2 2.4,-0.3 3,1c0.6,1.3 1.3,7.6 2.1,9.1c0.8,1.5 3.7,1.4 4.4,3c0.8,1.6 1,8.4 1.6,9.7c0.6,1.3 2.5,1 3.1,0.4c0.6,-0.6 1.1,-4.8 2,-5c0.9,-0.2 3.9,2.9 5,3c1.1,0.1 3,-1 4.1,-2c1.1,-1 3.1,-5.7 4.4,-6.1c1.3,-0.4 4.4,2.5 5.7,3.1c1.3,0.6 3.7,2.4 5,2c1.3,-0.4 3.8,-3.9 5.1,-5.1c1.3,-1.2 4.8,-3.4 5,-4.4c0.2,-1 -2.2,-2 -3,-3.7c-0.8,-1.7 -2.4,-7.4 -3,-10.1c-0.6,-2.6 -1.1,-9 -2,-11.1c-0.9,-2.1 -4.8,-4.6 -5.1,-6c-0.3,-1.4 2.4,-3.5 3,-5.1c0.6,-1.6 1.8,-6.6 2.1,-7.5c0.1,-1.6 1.2,-9.4 0.6,-12.7c-0.6,-3.4 -3.9,-10.9 -5.7,-14.1c-1.8,-3.2 -7.9,-9.2 -8.5,-11.6c-0.6,-2.4 2.3,-6.1 3.4,-7.7c1.1,-1.6 4.3,-3.6 5.1,-5c0.8,-1.4 1.5,-4.6 1,-6.1c-0.5,-1.5 -4.1,-4 -5,-6c-0.9,-2 -0.1,-8.1 -2.1,-10.1c-2,-2 -12.1,-4 -14.1,-6.1c-2,-2.1 -0.6,-9.2 -2,-11.1c-1.4,-1.9 -7.5,-3.5 -9.1,-4.1c-1.7,-0.6 -3,-0.1 -4.1,-1c-1.1,-0.9 -3.9,-4.2 -5,-6.1c-1.1,-1.9 -4.2,-7.3 -4.1,-9.1c0.1,-1.8 4.5,-3.1 5.1,-5c0.6,-1.9 0.6,-8 0,-10.1c-0.6,-2.1 -3.7,-5.3 -5.1,-7.1c-1.4,-1.8 -4.4,-5.8 -6,-7.1c-1.6,-1.3 -5.8,-1.6 -7.1,-3c-1.3,-1.4 -3.3,-6.6 -3.1,-8.1c0.2,-1.5 4.6,-3 5.1,-4c0.5,-1 -0.1,-3.7 -1,-4.1c-0.9,-0.4 -4.2,1.5 -6.1,1c-1.9,-0.5 -7,-3.1 -9.1,-5c-2.1,-1.9 -6.6,-8.8 -7.5,-10.1Z" fill="#fdb671" stroke="#fdb671" stroke-width="0.6"/><path d="M1467.5,712.5c-0.3,0.9 -1.5,5.9 -2.1,7.5c-0.6,1.6 -3.3,3.7 -3,5.1c0.3,1.4 4.2,3.9 5.1,6c0.9,2.1 1.4,8.5 2,11.1c0.6,2.6 2.2,8.4 3,10.1c0.8,1.7 3.2,2.7 3,3.7c-0.2,1 -3.7,3.2 -5,4.4c-1.3,1.2 -3.8,4.7 -5.1,5.1c-1.3,0.4 -3.7,-1.4 -5,-2c-1.3,-0.6 -4.4,-3.5 -5.7,-3.1c-1.3,0.4 -3.3,5.1 -4.4,6.1c-1.1,1 -3,2.1 -4.1,2c-1.1,-0.1 -4.1,-3.2 -5,-3c-0.9,0.2 -1.4,4.4 -2,5c-0.6,0.6 -2.5,0.9 -3.1,-0.4c-0.6,-1.3 -0.8,-8.1 -1.6,-9.7c-0.8,-1.6 -3.6,-1.5 -4.4,-3c-0.8,-1.5 -1.5,-7.8 -2.1,-9.1c-0.6,-1.3 -2.4,-1.2 -3,-1c-0.6,0.2 -1.1,2.7 -2,3c-0.9,0.3 -4.1,0.6 -5.1,-0.4c-1,-1 -2.4,-6.6 -3,-7.7c-0.6,-1.1 -1.2,-1.3 -2,-1c-0.8,0.3 -3.3,2.1 -4.1,3.1c-0.8,1 -1.1,4.3 -2,5c-0.9,0.7 -3.8,-0.5 -5.1,0.6c-1.3,1.1 -3.7,7.1 -5,8.5c-1.3,1.4 -4.2,2.1 -5.1,3c-0.9,0.9 -2,3 -2,4.1c-0,1.1 1.7,4 1.6,5c-0.1,1 -1.8,2.8 -2.6,3.1c-0.8,0.3 -2.9,-0.2 -4,-0.6c-1.1,-0.4 -4.2,-2.3 -5.1,-2.5c-0.9,-0.2 -0.7,0.5 -2,1.1c-1.3,0.6 -6.2,2 -8.1,3.4c-1.9,1.4 -5.8,6.9 -7.1,7.7c-1.3,0.8 -2.4,0 -3,-1c-0.6,-1 -1,-5.6 -2,-7.1c-1,-1.5 -4.1,-3.6 -6.1,-4.5c-2,-0.9 -8.3,-2.4 -10.1,-2.6c-1.8,-0.2 -3.3,0 -4.1,0.6c-0.8,0.6 -1.1,3.5 -2,4.1c-0.9,0.6 -3.2,1 -5,0.8c-1.8,-0.2 -7.6,-2.8 -9.1,-2.5c-1.5,0.3 -2.4,3.3 -2.5,5.1c-0.1,1.8 1.7,7.3 1.5,9.1c-0.2,1.8 -2.2,4 -3.1,5.1c-0.9,1.1 -3.2,2.6 -4,4c-0.8,1.4 -1.1,5.9 -2,7.1c-0.9,1.2 -3.4,1.7 -5.1,2.4c-1.7,0.7 -6.7,3.2 -8.1,3.2c-1.4,-0 -1.9,-3 -3,-3.6c-1.1,-0.6 -4.2,-0.8 -6.1,-1c-1.9,-0.2 -7.3,-0.9 -9.1,-0.6c-1.8,0.3 -3.9,2.6 -5,3.2c-1.1,0.6 -2.8,1.8 -4.1,2c-1.3,0.2 -4.6,-0.1 -6,-0.6c-1.4,-0.5 -3.1,-2.8 -5.1,-3.4c-2,-0.6 -8.7,-1.5 -11.1,-1.6c-2.4,-0.1 -6.6,1 -8.1,1c-1.5,0 -3.3,-0.6 -4.1,-0.8c-0.8,-0.2 -0.5,-0.8 -2,-1c-1.5,-0.2 -8.1,-1.2 -10.1,-1c-2,0.2 -4.5,1.9 -6.1,3c-1.6,1.1 -5.7,4.3 -6.5,6.1c-0.8,1.8 0.7,6.7 0.4,8.1c-0.3,1.4 -2,2 -3,3c-1,1 -4.6,3.9 -4.6,5c0,1.1 4.1,2.1 4.6,3.5c0.5,1.4 0.4,6.2 -1,7.3c-1.4,1.1 -8.3,1.6 -10.1,1.4c-1.8,-0.2 -3,-2.4 -4.1,-2.7c-1.1,-0.3 -4,-0.8 -5,0c-1,0.8 -0.2,4.7 -2.6,6.7c-2.4,2 -13.9,8.7 -16.6,9.5c-2.7,0.8 -3.3,-3.3 -5.1,-2.8c-1.8,0.5 -7.2,6 -9.1,6.9c-1.9,0.9 -4.6,0 -6,0.6c-1.4,0.6 -4,3.5 -5.1,4c-1.1,0.5 -3,0 -3.4,0c-0,0.7 0.4,4.4 -0.4,5.5c-0.8,1.1 -4.6,3.6 -5.7,3c-1.1,-0.6 -2.1,-7 -3,-8.1c-0.9,-1.1 -2.8,-1.8 -4.1,-1c-1.3,0.8 -5.1,5.8 -6.6,7.7c-1.5,1.9 -4.7,5.7 -5.5,7.5c-0.8,1.8 -0.4,5.2 -1,7c-0.6,1.8 -4.2,5.8 -4.1,7.1c0.1,1.3 4.5,1.7 5.1,3.1c0.6,1.4 -0.5,6.8 -0.6,7.8c0.8,0 5,-0.1 6.4,0.4c1.4,0.5 4.1,3.7 5.1,3.6c1,-0.1 2.2,-3.5 3,-4.4c0.8,-0.9 2.5,-2.5 3.1,-2.6c0.6,-0.1 1.1,2 2,2c0.9,0 3.9,-2.8 5,-2c1.1,0.8 3.1,6.7 4.1,8.1c1,1.4 1.5,2.6 4,3.4c2.5,0.8 12.9,2.1 16.2,2.6c3.3,0.5 8.2,0.8 10.1,1c1.9,0.2 4.5,0.9 5.1,1c0.2,-0.6 0.1,-4.2 2,-5c1.9,-0.8 10.2,-1.1 13.1,-1c2.9,0.1 7.8,1.6 10.1,2c2.3,0.4 6.6,1.3 8.1,1c1.5,-0.3 2.4,-2.8 3.7,-3.6c1.3,-0.8 4.2,-2.3 6.4,-2.5c2.2,-0.2 9.5,0.6 11.1,1.1c1.7,0.5 1.3,3.2 2.1,3c0.8,-0.2 3.6,-4.7 4.6,-4.7c1,0 2.4,4.1 3.5,4.7c1.1,0.6 3.5,0.9 5,0.4c1.5,-0.5 6,-3.3 7.1,-4.5c1.1,-1.2 0.9,-4.1 2,-5c1.1,-0.9 4.6,-1.9 7.1,-2c2.5,-0.1 11.1,0 13.1,1.4c2,1.4 2.3,8.4 3.1,9.7c0.8,1.3 2.5,0.2 3,1c0.5,0.8 -0.9,4.2 1,5.1c1.9,0.9 11.9,2 14.2,2c2.3,0 3,-2 4,-2c1,0 3.2,1.9 4,2c0.8,0.1 1.1,-1.1 2.1,-1c1,0.1 5,0.6 6,2c1,1.4 1,8.1 1.6,9.1c0.6,1 2.8,-0.1 3.5,-1c0.7,-0.9 1.1,-5.5 2,-6.1c0.9,-0.6 4.2,1.4 5.1,1c0.9,-0.4 0.5,-3.8 2,-4c1.5,-0.2 7.7,1.7 9.8,2c2.1,0.3 5.9,-0.1 7,0.6c1.1,0.7 2,3.9 2.1,5.1c0.1,1.2 -0.1,3.5 -1,4.4c-0.9,0.9 -5.2,2.1 -6.1,2.7c-0.9,0.6 -1.2,1 -1,2c0.2,1 1.7,4.4 3,6c1.3,1.6 5.7,6.1 7.1,7.1c1.4,1 2.9,-0.3 4,1c1.1,1.3 4.9,7.2 5.1,9.1c0.2,1.9 -3.5,4.8 -3.7,6.1c-0.2,1.3 1.4,2.7 1.7,4c0.3,1.3 -0.6,5.7 1,6.5c1.6,0.8 10.5,0.4 12.1,0c1.6,-0.4 0.4,-3 1,-3.4c0.6,-0.4 2.8,-0.4 4.1,0c1.3,0.4 4.9,1.9 6,3c1.1,1.1 2.1,4.6 3.1,5.7c1,1.1 3.9,2.8 5,3c1.1,0.2 3.2,-0.2 4.1,-1c0.9,-0.8 2,-4.2 3,-5.7c1,-1.5 3.5,-5.2 5,-6c1.5,-0.8 5.3,-0.8 7.1,-0.4c1.8,0.4 5.5,2.9 7.1,3.4c1.7,0.5 4.3,0.6 6.1,1c1.8,0.4 5.8,2.3 8.1,2.4c2.3,0.1 7.6,-1 10.1,-1.4c2.5,-0.4 8.8,-0.4 10.1,-1.4c1.3,-1 -0.1,-5.6 0.4,-6.7c0.5,-1.1 3.4,-0.9 3.6,-2c0.2,-1.1 -2.4,-6 -2,-7.1c0.4,-1.1 4.1,-1.4 5,-2c0.9,-0.6 2.4,-2.4 2.1,-3c-0.2,-0.6 -3.5,-1.2 -4.1,-2c-0.6,-0.8 -1.2,-3.1 -1,-4.1c0.2,-1 1.5,-3.2 3,-4c1.5,-0.8 7.6,-2.2 9.1,-2.1c1.5,0.1 2.3,3 3.1,3.1c0.8,0.1 1.9,-1.2 3,-2c1.1,-0.8 4.9,-3.4 5.7,-4.5c0.8,-1.1 -0.2,-3.9 0.4,-4.6c0.5,-0.7 2.6,-0.8 4,-1.1c1.4,-0.3 5.5,-1.7 7.1,-1c1.7,0.7 5.3,5.9 6.1,6.7c0.9,-1.2 5.5,-7.6 7,-9.3c1.5,-1.7 3.6,-3.5 5.1,-4c1.5,-0.5 5.8,0 7.1,-0.4c1.3,-0.4 3.1,-2 3.6,-3.1c0.5,-1.1 -0.2,-4.4 0,-6c0.2,-1.6 1,-6.3 1.4,-7.1c0.4,-0.8 1.6,-0.5 2,1c0.4,1.5 0.5,10.3 1.1,11.1c0.6,0.8 2.6,-3.4 4,-5c1.4,-1.6 5.6,-7.2 7.1,-8.1c1.5,-0.9 3.2,2.1 5,1c1.8,-1.1 7.4,-8.6 9.1,-10.1c1.7,-1.5 3.9,-0.5 4.7,-2c0.8,-1.5 1.6,-8.7 1.4,-10.2c-0.2,-1.5 -2.5,-0.2 -3,-2c-0.5,-1.8 -0.5,-9.8 -1,-12.1c-0.5,-2.3 -2.8,-4.8 -3.1,-6.1c-0.3,-1.3 1.1,-2.5 1,-4c-0.1,-1.5 -1.4,-6.3 -2,-8.1c-0.6,-1.8 -3.1,-5 -3,-6.1c0.1,-1.1 2,-2.1 4,-3c2,-0.9 10.2,-3 12.2,-4c2,-1 1.7,-2.8 4,-4.1c2.3,-1.3 11.6,-4.7 14.1,-6.1c2.5,-1.4 4.7,-4.2 6.1,-5.4c1.4,-1.2 5.1,-3.4 5.1,-4.1c0,-0.7 -4,-1 -5.1,-1.6c-1.1,-0.6 -2,-2.1 -4,-3c-2,-0.9 -9.8,-3.2 -12.2,-4.1c-2.4,-0.9 -5.7,-1.7 -7,-3c-1.3,-1.3 -3.3,-5.8 -3.1,-7.1c0.2,-1.3 3.8,-3.1 5.1,-3.4c1.3,-0.2 4,1.6 5,1.4c1,-0.2 2.1,-2.5 3.1,-3c1,-0.5 3.9,-1.4 5,-1c1.1,0.4 3.1,3.9 4.1,4c1,0.1 3.2,-3.2 4,-3c0.8,0.2 1.4,4 2,5c0.6,1 2.5,3.2 3.1,3.1c0.6,-0.1 1.2,-2.8 2,-4.1c0.8,-1.3 2.9,-4.3 4,-6c1.1,-1.7 4.5,-6.7 5.1,-7.7c-0.4,-0.7 -1.5,-4.5 -3,-5.5c-1.5,-1 -7.3,-1.9 -9.1,-2.6c-1.8,-0.7 -3.3,-2.8 -5.1,-2.8c-1.8,0 -8,1.7 -9.5,2.8c-1.5,1.1 -2.2,5.6 -2.6,5.7c-0.5,0.1 -0.2,-4.2 -1,-5.1c-0.8,-0.9 -3.8,-1.6 -5.1,-2c-1.3,-0.4 -3.9,-1.6 -5,-1.4c-1.1,0.2 -2.6,2.9 -4.1,2.8c-1.5,-0.1 -6.2,-2.4 -8.1,-3.4c-1.9,-1 -5.7,-4.3 -7.1,-4.7c-1.4,-0.4 -2.6,2.4 -4,1.6c-1.4,-0.8 -6.1,-6.3 -7.1,-8.1c-1,-1.8 -1.2,-5.1 -1,-6c0.2,-0.9 2.5,-0.5 3,-1c0.5,-0.5 2.1,-2.2 1.1,-3.1c-1,-0.9 -6.8,-3.2 -9.1,-4c-2.3,-0.8 -7.1,-0.5 -9.1,-2c-2,-1.5 -4.9,-7.9 -7.1,-10.1c-2.2,-2.1 -7.1,-5.3 -10.1,-7.1c-3,-1.8 -10.5,-5.3 -14.2,-7.1c-3.7,-1.8 -13.2,-6.6 -15.1,-7.5Z" fill="#fdb671" stroke="#fdb671" stroke-width="0.6"/><path d="M1725.9,728.6c-1,-0.4 -6.6,-3.2 -8.1,-3c-1.5,0.2 -3,4.3 -4,5c-1,0.7 -3.4,1.1 -4,0.6c-0.6,-0.5 -0.5,-4 -1.1,-4.6c-0.6,-0.6 -2.7,-0.9 -4,-0.6c-1.3,0.2 -4.8,1.8 -6.1,2.6c-1.3,0.8 -1.7,3.1 -4,4c-2.3,0.9 -9.6,2 -14.2,3.5c-4.5,1.5 -19.2,6.9 -22.2,8.7c-3,1.8 -1,4 -1.7,5.5c-0.7,1.5 -2.7,4.7 -4,6.1c-1.3,1.4 -5,3.6 -6.1,5c-1.1,1.4 -2.3,4.6 -3,6.1c-0.7,1.5 -2.2,4.8 -2.5,6.1c-0.3,1.3 -0.2,2.9 0.4,4c0.6,1.1 3.5,4 4.1,5.1c0.6,1.1 1.2,2.7 0.6,4c-0.6,1.3 -5.4,4.9 -5.7,6.1c-0.3,1.2 3,2.8 3.1,3.6c0.1,0.8 -1.2,1.7 -2.1,2.5c-0.9,0.8 -3.5,4.1 -5,4c-1.5,-0.1 -5.3,-4.1 -7.1,-5.1c-1.8,-1 -5.2,-1.9 -7.1,-2.6c-1.9,-0.7 -6.1,-1.9 -8.1,-2.8c-2,-0.9 -6.2,-3.5 -8,-4.7c-1.8,-1.2 -5.3,-4 -6.1,-4.6c-0.6,1 -4,6 -5.1,7.7c-1.1,1.7 -3.2,4.7 -4,6c-0.8,1.3 -1.4,4 -2,4.1c-0.6,0.1 -2.5,-2.1 -3.1,-3.1c-0.6,-1 -1.2,-4.8 -2,-5c-0.8,-0.2 -3,3.1 -4,3c-1,-0.1 -3,-3.6 -4.1,-4c-1.1,-0.4 -4,0.5 -5,1c-1,0.5 -2.1,2.8 -3.1,3c-1,0.2 -3.7,-1.6 -5,-1.4c-1.3,0.2 -4.8,2.1 -5.1,3.4c-0.2,1.3 1.8,5.8 3.1,7.1c1.3,1.3 4.6,2.1 7,3c2.4,0.9 10.2,3.2 12.2,4.1c2,0.9 2.9,2.4 4,3c1.1,0.6 5.1,0.9 5.1,1.6c0,0.7 -3.7,2.9 -5.1,4.1c-1.4,1.2 -3.6,4 -6.1,5.4c-2.5,1.4 -11.8,4.8 -14.1,6.1c-2.3,1.3 -2,3.1 -4,4.1c-2,1 -10.2,3.1 -12.2,4c-2,0.9 -3.9,1.9 -4,3c-0.1,1.1 2.4,4.3 3,6.1c0.6,1.8 1.9,6.6 2,8.1c0.1,1.5 -1.3,2.7 -1,4c0.3,1.3 2.6,3.8 3.1,6.1c0.5,2.3 0.5,10.3 1,12.1c0.5,1.8 2.8,0.5 3,2c0.2,1.5 -0.6,8.7 -1.4,10.2c-0.8,1.5 -3,0.5 -4.7,2c-1.7,1.5 -7.3,9 -9.1,10.1c-1.8,1.1 -3.5,-1.9 -5,-1c-1.5,0.9 -5.7,6.5 -7.1,8.1c-1.4,1.6 -3.4,5.8 -4,5c-0.6,-0.8 -0.7,-9.6 -1.1,-11.1c-0.4,-1.5 -1.6,-1.8 -2,-1c-0.4,0.8 -1.2,5.5 -1.4,7.1c-0.2,1.6 0.5,4.9 0,6c-0.5,1.1 -2.3,2.7 -3.6,3.1c-1.3,0.4 -5.6,-0.1 -7.1,0.4c-1.5,0.5 -3.6,2.3 -5.1,4c-1.5,1.7 -6.1,8.1 -7,9.3c0.2,1.8 0.5,11.9 1.2,14.2c0.7,2.3 4.3,2.2 4.7,4c0.4,1.8 -1.3,7.6 -1.6,10.1c-0.3,2.5 -0.9,7.8 -0.6,10.1c0.3,2.3 2.9,6.8 3,8.1c0.1,1.3 -0.9,1.9 -2.4,2.5c-1.5,0.6 -8.9,1.3 -9.7,2.6c-0.8,1.3 3.1,6.3 3.6,8.1c0.5,1.8 1,4.5 0.6,6c-0.4,1.5 -4.9,4.9 -4,6.1c0.9,1.2 9.7,3 11.1,3.4c1.4,0.5 8.7,2.9 11.5,3.7c2.8,0.8 9.2,1.9 11.1,3c1.9,1.1 3.1,5.2 4.1,6.1c1,0.9 3.1,1.6 4,1.4c0.9,-0.2 0.9,-2.5 3.1,-3.4c2.2,-0.9 12.3,-2.5 14.1,-3.5c1.8,-1 -0.5,-3.8 0.4,-4.6c0.9,-0.8 5.4,-2 6.7,-2c1.3,0 3.6,1 4,2c0.4,1 -1.1,4.9 -1,6c0.1,1.1 1.2,2.3 2,2.7c0.8,0.4 3.3,0.2 4.1,0.8c0.8,0.5 0.5,3.3 2,3.6c1.5,0.3 6.6,-0.5 10.1,-1c3.5,-0.6 13.6,-3.6 18.2,-3.4c4.5,0.2 14.3,4.6 18.2,5.4c3.9,0.8 10.8,1.3 13.2,1.4c2.4,0.1 5.2,-0.3 6,-0.4c1.8,-0.6 10.8,-4 14.2,-5c3.4,-1 9.3,-1.6 13.1,-3c3.8,-1.4 14.4,-7.2 17.2,-8.1c2.8,-0.9 2.9,-0.1 5.1,0.6c2.2,0.7 9.1,4.1 12.1,5c3,0.9 9.6,1.8 12.1,2c2.5,0.2 6.7,0.2 8.1,-0.6c1.4,-0.8 3.1,-4.6 3,-6c-0.1,-1.4 -3.9,-3.2 -4,-5.1c-0.1,-1.9 2.2,-6.7 3,-10.1c0.8,-3.4 3.5,-14.8 3.1,-17.2c-0.4,-2.4 -5.2,-1.1 -6.1,-2c-0.9,-0.9 -1.1,-3.5 -1,-5.1c0.1,-1.6 2.6,-6.2 1.6,-8c-1,-1.8 -8.4,-4.7 -9.7,-6.1c-1.3,-1.4 -1.4,-3.9 -1,-5.1c0.4,-1.2 2.6,-3.7 4,-4.6c1.4,-0.9 6.1,-1.6 7.1,-2.4c1,-0.8 1.1,-3.3 1,-4.1c-0.1,-0.8 -1.1,-1.5 -2,-2c-0.9,-0.5 -4.1,-0.6 -5.3,-1.6c-1.2,-1 -4.2,-5.1 -4.5,-6.1c-0.3,-1 2,-0.7 2.4,-2c0.4,-1.3 1.1,-6.1 1.1,-8.1c0,-2 -1.3,-7 -1.1,-8.1c0.2,-1.1 2.6,-1.8 3.1,-1c0.5,0.8 -0,6.2 1,7.1c1,0.9 5.5,0.4 7.1,0c1.6,-0.4 4.4,-2.2 6,-3.1c1.6,-0.9 5.1,-3.2 7.1,-4c2,-0.8 6.9,-2.1 8.7,-2c1.8,0.1 3.6,2.7 5.5,2.7c1.9,0 8,-2.3 9.6,-2.5c1.6,-0.2 2.2,0.4 3.5,1c1.3,0.6 5.1,2.8 7.1,3.5c2,0.7 6.8,1.5 9.1,2c2.3,0.5 7.5,1.7 9.1,2.1c1.6,0.4 2.6,1.1 3.5,1c0.9,-0.1 2.5,-0.7 3.6,-1.5c1.1,-0.8 4.1,-4.2 5.5,-5.1c1.4,-0.9 4.4,-1.4 5.6,-1.7c1.2,-0.3 3.2,-0.8 4,-0.6c0.8,0.2 2,1.6 2.6,2.3c0.6,0.7 1.3,2.4 2.5,3c1.2,0.6 5.8,1.4 7.1,2.1c1.3,0.7 2,3.6 3.5,3.7c1.5,0.1 6.6,-2.5 8.6,-3.2c2,-0.7 6.4,-2.1 7.6,-2.1c1.2,0 1.8,1.1 2,2.1c0.2,1 -0.1,4.7 0,6c0.1,1.3 0.5,3.6 1,4.1c0.5,0.5 1.7,-0 2.6,-0.5c0.9,-0.5 3.8,-2.9 4.5,-3.1c0.8,-0.2 1.8,0.6 1.5,1.5c-0.3,0.9 -4.1,4.4 -4,5.6c0.1,1.2 3.9,3 4.5,4.1c0.6,1.1 -0.5,3.6 0,4.5c0.5,0.9 2.7,2.6 3.6,3c1,0.4 3.6,-0.5 4,0c0.4,0.5 -0.5,2.9 -0.5,3.6c0,0.7 0.8,1.2 0.7,2c-0.1,0.8 -1.2,3.5 -1.7,4.5c-0.5,1 -1.4,2.9 -2,3.1c-0.6,0.2 -2.6,-1.4 -3.1,-1.5c-0.5,-0.1 -1.2,0.4 -1,1c0.2,0.6 1.7,3.2 2.5,4c0.8,0.8 2.4,1.9 3.6,2c1.2,0.1 5.1,-0.4 6.1,-1c1,-0.6 1.4,-2.9 2,-3.5c0.6,-0.6 2,-1.1 2.5,-1c0.5,0.1 1.3,1.2 1.5,2c0.2,0.8 -0.2,3.9 0.3,4.5c0.5,0.6 2.9,0.2 3.8,0.6c0.9,0.4 2.4,2 3.5,2.2c1.1,0.2 4.1,0.1 5.1,-0.4c1,-0.5 1.8,-2.9 2.5,-3.4c0.7,-0.5 2.2,-1.2 3,-1c0.8,0.2 0,2.6 3,2.6c3,-0 18.1,-2.6 20.7,-3c-0.6,-0.9 -4.2,-5.9 -4.5,-7.4c-0.3,-1.5 0.8,-4.1 2.4,-5c1.6,-0.9 9.1,-1.1 10.1,-2.1c1,-1 -1.5,-5 -2.4,-6c-0.9,-1 -4,-0.6 -4.7,-2c-0.7,-1.4 -1,-6.8 -1,-9.1c0,-2.3 -0.3,-7.6 1,-9.1c1.3,-1.5 7,-2.7 9.1,-2.7c2.2,0 6.8,2 8.1,2.7c1.3,0.7 0.4,2.1 2,3c1.6,0.9 8.8,4.6 11.1,4.4c2.3,-0.2 6.5,-3.6 7.1,-6.4c0.6,-2.8 -2.9,-13.3 -2.4,-16.2c0.5,-2.9 6.1,-3.9 6.5,-7.1c0.4,-3.2 -2,-15.7 -3.1,-18.2c-1.1,-2.5 -4.7,-1.8 -6,-2c-1.3,-0.2 -3.5,1.6 -4.1,0c-0.6,-1.6 -1.1,-10.7 -1,-13.1c0.1,-2.4 1,-5.1 1.6,-6.1c0.6,-1 2.7,-0.9 2.9,-2c0.2,-1.1 -1.8,-6 -1.6,-7.1c0.2,-1.1 2.8,-1.2 3,-2c0.2,-0.8 -1.5,-3 -1,-4c0.5,-1 4.5,-2.5 5,-4.1c0.5,-1.6 0.2,-8.2 -1,-9.1c-1.2,-0.9 -7.1,0.9 -8.5,2c-1.4,1.1 -1.6,6.3 -2.6,7.1c-1,0.8 -4.6,-0.3 -5.1,-1c-0.5,-0.7 0.5,-3.6 1.1,-4.6c0.6,-1 3.6,-2.6 4,-3.5c0.4,-0.9 0.2,-3.5 -0.6,-4c-0.8,-0.5 -4.6,0.4 -5.5,0c-0.9,-0.4 -1.8,-2.7 -2,-3.1c-0.8,0 -4.7,-0.4 -6.1,0c-1.4,0.4 -3.7,2.7 -5,3.1c-1.3,0.4 -3.6,0.6 -5.1,0c-1.5,-0.6 -5.5,-4.2 -7,-5.1c-1.5,-0.9 -3,-3.8 -5.1,-2.4c-2.2,1.4 -10.6,11.4 -12.1,13.5c-1.5,2.1 0.2,2.7 0,3.5c-0.2,0.8 -1.2,2.5 -2,2.6c-0.8,0.1 -3.2,-2.1 -4.1,-2c-0.9,0.1 -2.2,2.8 -3,3c-0.8,0.2 -3.2,-0.1 -3.1,-1c0.1,-0.9 4.2,-4.5 4.1,-6.1c-0.1,-1.6 -4.7,-5.4 -5.1,-7c-0.4,-1.6 4.1,-3 2.1,-5.7c-2,-2.7 -16.2,-12.9 -17.8,-15.6c-1.6,-2.7 4.9,-4.2 4.6,-6c-0.3,-1.8 -5,-6.2 -7.1,-8.1c-2.2,-1.9 -8,-6.1 -10.1,-7.1c-2.1,-1 -7,0.1 -7,-1c0,-1.1 6.6,-6.2 7,-8.1c0.4,-1.9 -2.7,-5.5 -4,-7.1c-1.3,-1.6 -4.5,-5.5 -6.1,-6c-1.7,-0.5 -4.9,1.4 -7.1,2.4c-2.2,1 -7.4,4.9 -10.1,5.2c-2.7,0.3 -8.7,-2 -11.1,-2.6c-2.4,-0.6 -6.6,-1.5 -8.1,-2c-1.5,-0.5 -1.5,-1.6 -4,-2c-2.5,-0.4 -13.5,-0.2 -16.2,-1c-2.7,-0.8 -3.7,-4.1 -5,-5.1c-1.3,-1 -2.9,-1.2 -5.1,-3c-2.2,-1.8 -9.6,-8.7 -12.1,-11.1c-2.5,-2.4 -6.1,-6.6 -8.1,-8.1c-2,-1.5 -5.7,-3.5 -8.1,-4.1c-2.4,-0.6 -9.2,-0.8 -11.1,-1c-1.9,-0.2 -3.6,-0.9 -4.1,-1Z" fill="#fdb671" stroke="#fdb671" stroke-width="0.6"/><path d="M1633.5,1026.9c1.8,-0.6 10.8,-4 14.2,-5c3.4,-1 9.3,-1.6 13.1,-3c3.8,-1.4 14.4,-7.2 17.2,-8.1c2.8,-0.9 2.9,-0.1 5.1,0.6c2.2,0.7 9.1,4.1 12.1,5c3,0.9 9.6,1.8 12.1,2c2.5,0.2 6.7,0.2 8.1,-0.6c1.4,-0.8 3.1,-4.6 3,-6c-0.1,-1.4 -3.9,-3.2 -4,-5.1c-0.1,-1.9 2.2,-6.7 3,-10.1c0.8,-3.4 3.5,-14.8 3.1,-17.2c-0.4,-2.4 -5.2,-1.1 -6.1,-2c-0.9,-0.9 -1.1,-3.5 -1,-5.1c0.1,-1.6 2.6,-6.2 1.6,-8c-1,-1.8 -8.4,-4.7 -9.7,-6.1c-1.3,-1.4 -1.4,-3.9 -1,-5.1c0.4,-1.2 2.6,-3.7 4,-4.6c1.4,-0.9 6.1,-1.6 7.1,-2.4c1,-0.8 1.1,-3.3 1,-4.1c-0.1,-0.8 -1.1,-1.5 -2,-2c-0.9,-0.5 -4.1,-0.6 -5.3,-1.6c-1.2,-1 -4.2,-5.1 -4.5,-6.1c-0.3,-1 2,-0.7 2.4,-2c0.4,-1.3 1.1,-6.1 1.1,-8.1c0,-2 -1.3,-7 -1.1,-8.1c0.2,-1.1 2.6,-1.8 3.1,-1c0.5,0.8 -0,6.2 1,7.1c1,0.9 5.5,0.4 7.1,0c1.6,-0.4 4.4,-2.2 6,-3.1c1.6,-0.9 5.1,-3.2 7.1,-4c2,-0.8 6.9,-2.1 8.7,-2c1.8,0.1 3.6,2.7 5.5,2.7c1.9,0 8,-2.3 9.6,-2.5c1.6,-0.2 2.2,0.4 3.5,1c1.3,0.6 5.1,2.8 7.1,3.5c2,0.7 6.8,1.5 9.1,2c2.3,0.5 7.5,1.7 9.1,2.1c1.6,0.4 2.6,1.1 3.5,1c0.9,-0.1 2.5,-0.7 3.6,-1.5c1.1,-0.8 4.1,-4.2 5.5,-5.1c1.4,-0.9 4.4,-1.4 5.6,-1.7c1.2,-0.3 3.2,-0.8 4,-0.6c0.8,0.2 2,1.6 2.6,2.3c0.6,0.7 1.3,2.4 2.5,3c1.2,0.6 5.8,1.4 7.1,2.1c1.3,0.7 2,3.6 3.5,3.7c1.5,0.1 6.6,-2.5 8.6,-3.2c2,-0.7 6.4,-2.1 7.6,-2.1c1.2,0 1.8,1.1 2,2.1c0.2,1 -0.1,4.7 0,6c0.1,1.3 0.5,3.6 1,4.1c0.5,0.5 1.7,-0 2.6,-0.5c0.9,-0.5 3.8,-2.9 4.5,-3.1c0.8,-0.2 1.8,0.6 1.5,1.5c-0.3,0.9 -4.1,4.4 -4,5.6c0.1,1.2 3.9,3 4.5,4.1c0.6,1.1 -0.5,3.6 0,4.5c0.5,0.9 2.7,2.6 3.6,3c1,0.4 3.6,-0.5 4,0c0.4,0.5 -0.5,2.9 -0.5,3.6c0,0.7 0.8,1.2 0.7,2c-0.1,0.8 -1.2,3.5 -1.7,4.5c-0.5,1 -1.4,2.9 -2,3.1c-0.6,0.2 -2.6,-1.4 -3.1,-1.5c-0.5,-0.1 -1.2,0.4 -1,1c0.2,0.6 1.7,3.2 2.5,4c0.8,0.8 2.4,1.9 3.6,2c1.2,0.1 5.1,-0.4 6.1,-1c1,-0.6 1.4,-2.9 2,-3.5c0.6,-0.6 2,-1.1 2.5,-1c0.5,0.1 1.3,1.2 1.5,2c0.2,0.8 -0.2,3.9 0.3,4.5c0.5,0.6 2.9,0.2 3.8,0.6c0.9,0.4 2.4,2 3.5,2.2c1.1,0.2 4.1,0.1 5.1,-0.4c1,-0.5 1.8,-2.9 2.5,-3.4c0.7,-0.5 2.2,-1.2 3,-1c0.8,0.2 0,2.6 3,2.6c3,-0 18.1,-2.6 20.7,-3c0.2,1.2 0.6,8.2 1.9,9.4c1.2,1.2 6.2,-1.9 8.1,0.4c1.9,2.3 5.7,15.7 7.1,18.2c1.4,2.5 3.9,1.1 4,2c0.1,0.9 -2.9,4.2 -3,5.1c-0.1,0.9 1.6,1.1 2,2c0.4,0.9 0.1,4.6 1,5.1c0.9,0.5 4,-2.1 6.1,-1c2.2,1.1 9.1,9.3 11.1,10.1c2,0.8 3.6,-3.8 5.1,-3.7c1.5,0.1 5.2,3.1 7.1,4.7c1.9,1.6 6.1,6.1 8,8.1c1.9,2 6,7.2 7.1,8c1.1,0.8 0.6,-1.9 2,-2c1.4,-0.1 8.3,0.3 9.1,1.4c0.8,1.1 -2.5,5.7 -3,7.7c-0.5,2 -0.6,6.6 -1,8.1c-0.4,1.5 -1.4,4.1 -2,4.1c-0.6,0 -2.2,-3.5 -3.1,-4.1c-0.9,-0.6 -3.1,-1.6 -4,-1c-0.9,0.6 -2.4,4.5 -3,6.1c-0.6,1.6 -0.8,5.9 -2.1,7c-1.3,1.1 -6.1,1.9 -8,1.7c-1.9,-0.2 -5.8,-3.1 -7.1,-3.3c-1.3,-0.2 -3.2,0 -3.1,1.6c0.1,1.6 3.3,9 3.7,11.2c0.4,2.2 0.7,5.1 -0.6,6c-1.3,0.9 -9.5,0.6 -10.1,1.4c-0.6,0.8 3.5,3.7 5,4.7c1.5,1 5.6,1.4 7.1,3c1.5,1.6 4,7.9 5.1,10.1c1.1,2.2 3,6.3 4,7.1c1,0.8 2.7,-1.2 4,-0.6c1.3,0.6 6.2,4.4 6.5,5.7c0.3,1.3 -4.2,4.1 -4.4,5c-0.2,0.9 2.6,1.2 3,2c0.4,0.8 0.8,3.5 0,4.1c-0.8,0.6 -4.6,0.1 -6.1,1c-1.5,0.9 -5.7,4.3 -6,6.1c-0.3,1.8 3.1,7.3 3.5,8.4c-1.4,0.7 -8.8,4.3 -10.9,5.8c-2.1,1.5 -4.8,5.1 -6.1,6c-1.3,0.9 -3.1,-0.3 -4.1,1.5c-1,1.8 -3.1,9.6 -4,12.7c-0.9,3.1 -2.2,10.1 -3,12.1c-0.8,2 -2.3,3.4 -3.1,3.7c-0.8,0.2 -3.8,-1.2 -3.6,-1.7c0.2,-0.5 4.3,-0.5 5.3,-2c1,-1.5 2.5,-8.1 2.4,-10.1c-0.1,-2 -1.4,-4.7 -3,-6.1c-1.6,-1.4 -7.4,-4.8 -9.6,-5.4c-2.2,-0.6 -6,-0.1 -7.6,0.4c-1.6,0.5 -3.3,2.8 -5.1,3.4c-1.8,0.6 -6.6,0.9 -9.1,1.6c-2.5,0.7 -8.6,2.6 -11.1,4.1c-2.5,1.5 -7.1,6 -9.1,8.1c-2,2.1 -6.1,6.9 -7.1,8.5c-1,1.6 -0.1,4.1 -0.6,4.6c-0.5,0.5 -2.7,-0.1 -3.4,-1c-0.7,-0.9 -1.1,-4.8 -2,-6.1c-0.9,-1.3 -2.7,-3.4 -5.1,-4c-2.4,-0.6 -10.2,-1 -14.2,-0.6c-4,0.4 -14,2 -18.2,3.6c-4.2,1.6 -12.3,7 -15.1,9.1c-2.8,2.1 -4.9,5.4 -7.1,7.7c-2.2,2.3 -6.9,8.2 -10.1,10.5c-3.2,2.3 -12.3,5.9 -15.2,8.1c-2.9,2.2 -6.2,7.2 -8.1,9.1c-1.9,1.9 -5.7,5.2 -7,6.1c-1.3,0.9 -2.1,0.4 -3.1,1c-1,0.6 -4,3.5 -5,3.6c-1,0.1 -2.4,-1.4 -3,-2.6c-0.6,-1.2 -2.2,-5.3 -2.1,-7.1c0.1,-1.8 3.1,-5.7 2.7,-7.1c-0.4,-1.4 -4.8,-2.5 -6.1,-4c-1.3,-1.5 -4,-6.8 -4.7,-8.1c-0.7,-1.3 -0.6,-2.2 -1,-2c-0.4,0.2 -2.4,2.1 -2,4c0.4,1.9 4.6,9 5.1,11.2c0.5,2.2 0.1,3.9 -1,6c-1.1,2.1 -6.6,8.9 -8.1,11.1c-1.5,2.2 -3.3,5.4 -4.1,6.1c-0.8,0.7 -2.1,-0.5 -2.4,-0.6c-0.3,-1.6 -1.9,-9.2 -2.6,-12.5c-0.7,-3.3 -1.9,-12 -2.7,-14.2c-0.8,-2.2 -1.8,-2.6 -3.4,-3.6c-1.6,-1 -6.9,-3.9 -9.1,-4.5c-2.2,-0.6 -7.2,0.5 -8.1,-0.4c-0.9,-0.9 2.1,-5.7 1,-6.7c-1.1,-1 -8.5,-0.9 -10.1,-1.4c-1.6,-0.5 -2.2,-1.4 -3,-2.6c-0.8,-1.2 -3.6,-5.7 -3.7,-7.1c-0.1,-1.4 2.5,-2.6 2.7,-4c0.2,-1.4 -0.2,-5.8 -1,-7.1c-0.8,-1.3 -3.6,-2.4 -5.1,-3c-1.5,-0.6 -6.2,-0.8 -7.1,-1.6c-0.9,-0.8 -1.4,-3.7 -0.4,-4.5c1,-0.8 6.9,-0.9 8.5,-2c1.6,-1.1 3.4,-5.2 4.1,-7.1c0.7,-1.9 0.7,-6.7 1.6,-8.1c0.9,-1.4 4.9,-1.9 5.4,-3c0.5,-1.1 -0.2,-5 -1,-6.1c-0.8,-1.1 -4.1,-1.6 -5,-3c-0.9,-1.4 0,-6.3 -2,-8.1c-2,-1.8 -12.2,-4.6 -14.2,-6.1c-2,-1.5 -1.4,-4.6 -2,-6c-0.6,-1.4 -2.5,-2.8 -3.1,-5.1c-0.6,-2.3 -1.2,-11.1 -2,-13.1c-0.8,-2 -3.2,-1.4 -4,-3.1c-0.8,-1.7 -1.6,-7.7 -2,-10.1c-0.4,-2.4 -1.3,-7.5 -1.1,-9.1c0.2,-1.6 2.8,-2.7 2.7,-4c-0.1,-1.3 -3.8,-4.7 -3.7,-6.1c0,-1.4 4.9,-4.7 4.1,-5.4c-0.8,-0.7 -8.5,-0.8 -10.1,0c-1.7,0.8 -2.2,6.1 -3.1,6.8c-0.9,0.7 -2.6,-1.6 -4,-1.4c-1.4,0.2 -4.8,7 -7.1,2.7c-2.3,-4.3 -10,-32.4 -11.4,-37Z" fill="#fdb671" stroke="#fdb671" stroke-width="0.6"/><path d="M2060.5,717.9c-0.2,0.3 -0.9,2.1 -2,2.6c-1.1,0.5 -3.7,1.2 -6.5,1c-2.8,-0.2 -12.8,-2.7 -16.2,-3c-3.4,-0.3 -9.3,-0.5 -11.1,0.4c-1.8,0.9 -3.6,5.6 -3,6.7c0.6,1.1 6.8,1.5 8.1,2c1.3,0.5 2.6,1.6 2.6,2.4c0,0.8 -1.1,2.6 -2.6,3.7c-1.5,1.1 -5.9,3.1 -9.1,5c-3.2,1.9 -13.8,7.9 -16.2,10.1c-2.4,2.1 -2.1,6 -3.1,7.1c-1,1.1 -4.2,1.1 -5,2c-0.8,0.9 -1.2,3.7 -1,5.1c0.2,1.4 2.5,4.9 2.6,6c0.1,1.1 -0.6,2.6 -1.6,3.1c-1,0.5 -4.8,0.4 -6.1,1c-1.3,0.6 -3.2,3.1 -4,4c-0.8,0.9 -1.4,2.9 -2,3.5c-0.6,0.6 -2.1,0.8 -2.5,1.6c-0.4,0.8 -0,4.2 -0.6,5c-0.6,0.8 -2.7,1.2 -4,1c-1.3,-0.2 -5,-2.7 -6.1,-2.4c-1.1,0.3 -2,3.8 -3,4.5c-1,0.7 -3.8,0.5 -4.6,1c-0.8,0.5 -2.1,2.2 -2,3c0.1,0.8 2.8,2.2 3,3c0.2,0.8 0,3.2 -1,3.1c-1,-0.1 -5.2,-3.2 -7.1,-4.1c-1.9,-0.9 -6.1,-3.2 -8.1,-3c-2,0.2 -6.5,4.1 -8.1,4.7c-1.6,0.6 -3.4,0.7 -5,0.4c-1.6,-0.3 -6.8,-2.5 -8.1,-2.5c-1.3,0 -2.3,0.7 -2.4,2.5c-0.1,1.8 1,8.8 1.4,12.1c0.4,3.3 1.8,12.3 2,14.1c0.2,0.4 1.1,2.7 2,3.1c0.9,0.4 4.7,-0.5 5.5,0c0.8,0.5 1,3.1 0.6,4c-0.4,0.9 -3.4,2.5 -4,3.5c-0.6,1 -1.6,3.9 -1.1,4.6c0.5,0.7 4.1,1.8 5.1,1c1,-0.8 1.2,-6 2.6,-7.1c1.4,-1.1 7.3,-2.9 8.5,-2c1.2,0.9 1.5,7.4 1,9.1c-0.5,1.6 -4.5,3.1 -5,4.1c-0.5,1 1.2,3.2 1,4c-0.2,0.8 -2.8,0.9 -3,2c-0.2,1.1 1.8,6 1.6,7.1c-0.2,1.1 -2.3,1 -2.9,2c-0.6,1 -1.5,3.7 -1.6,6.1c-0.1,2.4 0.4,11.5 1,13.1c0.6,1.6 2.8,-0.2 4.1,0c1.3,0.2 4.9,-0.5 6,2c1.1,2.5 3.5,15 3.1,18.2c-0.4,3.2 -6,4.2 -6.5,7.1c-0.5,2.9 3,13.4 2.4,16.2c-0.6,2.8 -4.8,6.1 -7.1,6.4c-2.3,0.2 -9.5,-3.5 -11.1,-4.4c-1.6,-0.9 -0.7,-2.3 -2,-3c-1.3,-0.7 -5.9,-2.7 -8.1,-2.7c-2.2,0 -7.8,1.2 -9.1,2.7c-1.3,1.5 -1,6.8 -1,9.1c0,2.3 0.3,7.7 1,9.1c0.7,1.4 3.8,1 4.7,2c0.9,1 3.4,5 2.4,6c-1,1 -8.5,1.2 -10.1,2.1c-1.6,0.9 -2.7,3.5 -2.4,5c0.3,1.5 3.9,6.5 4.5,7.4c0.2,1.2 0.6,8.2 1.9,9.4c1.2,1.2 6.2,-1.9 8.1,0.4c1.9,2.3 5.7,15.7 7.1,18.2c1.4,2.5 3.9,1.1 4,2c0.1,0.9 -2.9,4.2 -3,5.1c-0.1,0.9 1.6,1.1 2,2c0.4,0.9 0.1,4.6 1,5.1c0.9,0.5 4,-2.1 6.1,-1c2.2,1.1 9.1,9.3 11.1,10.1c2,0.8 3.6,-3.8 5.1,-3.7c1.5,0.1 5.2,3.1 7.1,4.7c1.9,1.6 6.1,6.1 8,8.1c1.9,2 6,7.2 7.1,8c1.1,0.8 0.6,-1.9 2,-2c1.4,-0.1 8.3,0.3 9.1,1.4c0.8,1.1 -2.5,5.7 -3,7.7c-0.5,2 -0.6,6.6 -1,8.1c-0.4,1.5 -1.4,4.1 -2,4.1c-0.6,0 -2.2,-3.5 -3.1,-4.1c-0.9,-0.6 -3.1,-1.6 -4,-1c-0.9,0.6 -2.4,4.5 -3,6.1c-0.6,1.6 -0.8,5.9 -2.1,7c-1.3,1.1 -6.1,1.9 -8,1.7c-1.9,-0.2 -5.8,-3.1 -7.1,-3.3c-1.3,-0.2 -3.2,0 -3.1,1.6c0.1,1.6 3.3,9 3.7,11.2c0.4,2.2 0.7,5.1 -0.6,6c-1.3,0.9 -9.5,0.6 -10.1,1.4c-0.6,0.8 3.5,3.7 5,4.7c1.5,1 5.6,1.4 7.1,3c1.5,1.6 4,7.9 5.1,10.1c1.1,2.2 3,6.3 4,7.1c1,0.8 2.7,-1.2 4,-0.6c1.3,0.6 6.2,4.4 6.5,5.7c0.3,1.3 -4.2,4.1 -4.4,5c-0.2,0.9 2.6,1.2 3,2c0.4,0.8 0.8,3.5 0,4.1c-0.8,0.6 -4.6,0.1 -6.1,1c-1.5,0.9 -5.7,4.3 -6,6.1c-0.3,1.8 3.1,7.3 3.5,8.4c1.8,-0.7 12,-4 14.7,-5.4c2.7,-1.4 4.9,-5.5 7,-5.5c2.1,0 8.8,4.1 10.1,5.5c1.3,1.4 0.2,5 0.7,5.5c0.5,0.5 2.5,-0.4 3.4,-1.5c0.9,-1.1 2.5,-4.6 4,-7c1.5,-2.4 5.7,-8.8 8.1,-12.2c2.4,-3.4 9.1,-12.9 11.1,-15.1c2,-2.2 3,-2.7 5.1,-2.7c2.2,0 9.6,2.4 12.1,2.7c2.5,0.3 5.6,0.6 8.1,0c2.5,-0.6 9.1,-4.1 12.1,-4.5c3,-0.4 9.7,1 12.2,1.4c2.5,0.4 6.5,2.2 8.1,2.1c1.6,-0.1 3.5,-3.3 5,-3.1c1.5,0.2 6.2,3.5 6.7,5.1c0.5,1.6 -3,7.2 -2.6,7.7c0.4,0.5 4.4,-2 6,-3.7c1.6,-1.7 6.1,-7.7 6.7,-9.7c0.6,-2 -1.4,-4.8 -1.6,-6.5c-0.2,-1.7 -0.6,-5.4 -0.4,-7c0.2,-1.6 1.2,-4.8 2.4,-6.1c1.2,-1.3 5.9,-2.9 7.1,-4c1.2,-1.1 2.6,-4 2.6,-5.1c0,-1.1 -1,-3.5 -2.6,-4c-1.6,-0.5 -8.8,0.4 -10.1,-0.4c-1.3,-0.8 -1.2,-3.9 -0.6,-5.7c0.6,-1.8 4.5,-6.8 5.6,-9.1c1.1,-2.3 2.8,-6.9 3.1,-9.1c0.3,-2.2 -0.7,-6.1 -0.6,-8.1c0.1,-2 0.9,-5.7 1.6,-8.1c0.7,-2.4 2.7,-9.1 4,-11.1c1.3,-2 2.2,-3.9 6.1,-5c3.9,-1.1 21.4,-3 25.3,-4.1c3.9,-1.1 4.6,-3.8 6,-5c1.4,-1.2 3.8,-4.2 5.1,-4.5c1.3,-0.3 3.9,2.4 5,2.4c1.1,0 2.9,-0.6 3.5,-2c0.6,-1.4 1,-6.6 1.6,-9.1c0.6,-2.5 2,-8.6 3,-11.1c1,-2.5 3.7,-7.1 5.1,-8.5c1.4,-1.4 2.8,-2.7 6,-3c3.2,-0.3 16.8,0.4 19.2,0.4c0.2,-1.5 1.7,-9.8 1.5,-11.8c-0.2,-2 -2.6,-2.6 -2.9,-4.4c-0.3,-1.8 1.9,-8.2 0.4,-9.7c-1.5,-1.5 -9.4,-2.1 -12.1,-2.4c-2.7,-0.4 -7.2,0.5 -9.1,-0.4c-1.9,-0.9 -5.7,-4.8 -6.1,-6.7c-0.4,-1.9 3.1,-6.6 2.7,-8.1c-0.4,-1.5 -3.5,-2.9 -5.7,-4c-2.2,-1.1 -9.6,-4 -12.1,-5.1c-2.5,-1.1 -6.7,-2.9 -7.7,-4c-1,-1.1 0.6,-3 0,-5.1c-0.6,-2.1 -2.4,-10.8 -4.5,-12.1c-2.1,-1.3 -10.1,1.6 -12.1,1.6c-2,0 -3.2,-0.5 -4,-1.6c-0.8,-1.1 -1.9,-6.5 -2.1,-7.5c-0.2,-1 -0.3,-0.3 0.4,-0.6c0.7,-0.3 4.1,-1 5.1,-1.6c1,-0.6 3.3,-2.1 3,-3.4c-0.3,-1.3 -3.8,-5 -5.1,-7.1c-1.3,-2.1 -4,-8.7 -5,-9.7c-1,-1 -2.1,1.5 -3.1,1.6c-1,0.1 -4.1,-0.2 -5,-1c-0.9,-0.8 -2.4,-3.3 -2.6,-5.1c-0.2,-1.8 1.9,-7.6 1.2,-9.1c-0.7,-1.5 -6,-1.9 -6.7,-3c-0.7,-1.1 1.1,-4.3 1,-6.1c-0.1,-1.8 -1.3,-6 -1.6,-8.1c-0.2,-2.1 -1.2,-6.8 -0.4,-9.1c0.8,-2.3 6.8,-7.7 7.1,-9.1c0.2,-1.4 -4.9,-0.9 -5.1,-2c-0.2,-1.1 3.5,-5.7 3.7,-7.1c0.2,-1.4 -1.4,-2.6 -1.7,-4c-0.3,-1.4 -0.3,-6 -1,-7.1c-0.7,-1.1 -3.8,-0.6 -4.6,-2c-0.8,-1.4 -1.4,-7.4 -2,-9.1c-0.6,-1.7 -0.2,-3.8 -2.5,-4.6c-2.3,-0.8 -13.3,-0.9 -16.1,-1.5c-2.8,-0.6 -5.5,-2.2 -6.1,-3c-0.6,-0.8 -0,-2 1,-3c1,-1 6.8,-3.1 7.1,-5.1c0.3,-2 -4.2,-9.2 -4.5,-11.1c-0.2,-1.9 2.1,-2 2.5,-4c0.4,-2 1.8,-10.1 1,-11.6c-0.8,-1.5 -5.7,-0.4 -7.1,0c-1.4,0.4 -2.3,3.7 -4.1,3.5c-1.8,-0.2 -8.8,-4 -10.1,-5.1c-1.3,-1.1 -0.6,-2.9 0,-3.6c0.6,-0.8 5.1,-1.8 5.1,-2.4c0,-0.6 -3.9,-1.4 -5.1,-2.1c-1.2,-0.7 -4,-3.1 -4.6,-3.6Z" fill="#fdb671" stroke="#fdb671" stroke-width="0.6"/><path d="M1178.7,911.4c-0.2,0.8 0.1,4.7 -1.5,6.1c-1.6,1.4 -9.7,3.2 -11.3,5.1c-1.6,1.9 -2.1,8 -1.4,10.1c0.7,2.1 5.8,5.3 7.1,7.1c1.3,1.8 2.4,4.6 3,7c0.6,2.4 1.2,9.5 2,12.2c0.8,2.7 2.8,7.6 4.1,9.1c1.3,1.5 5.2,2.1 6,3c0.8,0.9 1.1,3 0.7,4c-0.4,1 -3.9,2.8 -3.7,4.1c0.2,1.3 4.6,4.5 5.1,6c0.5,1.5 -1.8,4.4 -1.4,6.1c0.4,1.6 3.1,5.8 4.4,7.1c1.3,1.3 4.6,2.8 6.1,3c1.5,0.2 4.5,-0.6 6,-1c1.5,-0.4 4.3,-2.1 6.1,-2c1.8,0.1 6.7,1.9 8.1,3c1.4,1.1 2.2,6.2 3,6.1c0.8,-0.1 1.6,-6 3,-7.1c1.4,-1.1 7,-2.3 8.1,-1.4c1.1,0.9 -0.2,7.3 0.4,8.5c0.6,1.2 3.4,-0 4.7,1c1.3,1 4.8,5.5 5.4,7.1c0.6,1.6 0,4.5 -0.4,6c-0.4,1.5 -2.5,4.2 -3,6.1c-0.5,1.9 -1.6,6.6 -1.4,9.1c0.2,2.5 2.3,8.1 3.4,11.1c1.1,3 2.8,11.2 5.1,13.2c2.3,2 11.2,2.3 13.1,3c1.9,0.7 -0.1,2.5 2.1,2.4c2.2,-0.1 13,-3.6 15.1,-3.4c2.1,0.2 2.3,3.6 1.6,5c-0.8,1.4 -6.6,4.6 -7.6,6.1c-1,1.5 -1.4,5 -0.5,6.1c0.9,1.1 5.8,2.8 7.5,3c1.7,0.2 4.8,-2 6.1,-1.4c1.3,0.6 2.7,5.1 4,6.5c1.3,1.4 5.6,2.9 6.1,5c0.5,2.1 -1.2,9.9 -2,12.1c-0.8,2.2 -3.1,4.5 -4.7,5.6c-1.6,1.1 -5.8,2.7 -8.1,3.5c-2.3,0.8 -8.3,2 -10.1,2.6c-1.8,0.6 -3.1,1.6 -4.1,2c-1,0.4 -3.8,-0.1 -4,1c-0.2,1.1 0.7,6.1 2,8.1c1.3,2 6.3,6.2 8.1,8.1c1.8,1.9 5,4.1 6,7.1c1,3 1.4,13 1.7,17.2c0.3,4.2 0.7,14.1 0.8,16.1c1.3,0.4 8.5,2.6 10.7,3.1c2.2,0.5 4.8,1.5 7.1,1c2.3,-0.5 9.1,-3.5 11.1,-5.1c2,-1.7 3.7,-5.9 5,-8.1c1.3,-2.2 5,-7.5 5.1,-9.1c0.1,-1.6 -3.1,-3 -4,-4c-0.9,-1 -2.5,-3 -3.1,-4.1c-0.6,-1.1 -2.1,-4 -2,-4.4c0.1,-0.4 2.1,0.2 3,1.4c0.9,1.2 3,7.8 4.1,8.1c1.1,0.3 3.9,-4.5 5,-5.5c1.1,-1 3.1,-1.6 4.1,-2.6c1,-1 3.5,-5.1 4,-5.4c0.5,-0.3 1,1.2 0.4,2.8c-0.6,1.6 -4.1,7.2 -5.4,9.7c-1.3,2.5 -3.7,7.6 -5.1,10.1c-1.4,2.5 -5.8,8.5 -6.1,10.1c-0.2,1.6 2.7,2.6 4.1,3c1.4,0.4 5.7,0.6 7.1,0c1.4,-0.6 2.6,-3.8 4,-4.6c1.4,-0.8 5.2,-1.6 7.1,-1.4c1.9,0.2 6.1,2.3 8.1,3c2,0.7 6.2,2.3 8.1,2.4c1.9,0.1 5.5,-0.5 7,-1.4c1.5,-0.9 4.3,-4.1 5.1,-6c0.8,-1.9 1.4,-6.8 1,-9.1c-0.4,-2.3 -3.4,-7 -4,-9.1c-0.6,-2.2 -1.3,-6.4 -1.1,-8.1c0.2,-1.7 2.2,-4.2 3.1,-5.1c0.9,-0.9 3.1,-1.1 4,-2.4c0.9,-1.3 2.6,-6.1 3.1,-7.7c0.5,-1.6 1.5,-4.5 1,-5c-0.5,-0.5 -4.1,1.3 -5.1,1c-1,-0.3 -2.9,-2 -3,-3.1c-0.1,-1.1 1.2,-5 2,-6c0.8,-1 3.8,-1.5 4,-2.1c0.2,-0.6 -0.6,-2.5 -2,-3c-1.4,-0.5 -7.8,-0.2 -9.1,-1c-1.3,-0.8 -0.9,-4.3 -1,-5.1c-0.1,-0.8 -0.3,-0.1 0.1,-1c0.4,-0.9 3.1,-4.7 3.4,-6c0.3,-1.3 -0.4,-3.4 -1.3,-4.5c-0.9,-1.1 -5,-2.6 -5.7,-4c-0.7,-1.4 0.1,-5.6 0,-7c-0.1,-1.4 -0.1,-3.2 -1.1,-4c-1,-0.8 -5.4,-1.6 -6.8,-2.5c-1.4,-0.9 -4.1,-3.7 -4.3,-5c-0.2,-1.3 2,-4.8 2.6,-5.5c0.6,-0.7 2,-0.7 2,0c0,0.7 -1.9,4.4 -1.8,5.5c0.1,1.1 1.5,2.3 2.8,3c1.3,0.7 6.4,1.7 7.5,2.7c1.1,1 1.1,4.2 1.3,5.7c0.2,1.5 -0.7,5.1 0,6.4c0.7,1.3 4.8,2.7 5.7,3.8c0.9,1.1 1.8,3.7 1.6,5.3c-0.2,1.6 -3,6.1 -3.3,7.4c-0.3,1.3 0.2,2.2 0.8,2.7c0.6,0.5 2.7,1 3.7,1c1,0 3.1,-1 4.1,-1c1,-0 3.8,0.4 4.3,0.7c0.5,0.3 -0.1,0.7 -0.4,1.4c-0.3,0.7 -1.6,2.9 -2,4c-0.4,1.1 -1.7,4 -1.1,5.1c0.6,1.1 5.3,2.7 6.1,4c0.8,1.3 0.4,4.3 0,6.1c-0.4,1.8 -2.2,5.8 -3,8.1c-0.8,2.3 -2.8,7.2 -3.1,10.1c-0.2,2.9 1,11.5 1.1,13.1c0.9,0 5.2,0.5 7,0c1.8,-0.5 5.7,-3.9 7.1,-4c1.4,-0.1 2.7,2.9 4,3c1.3,0.1 4.7,-0.6 6.1,-2c1.4,-1.4 4,-7.6 5.1,-9.1c1.1,-1.5 2.1,-3 4,-3c1.9,0 9.2,3.5 11.1,3c1.9,-0.5 2.7,-6 4.1,-7.1c1.4,-1.1 5.3,-2 7.1,-2c1.8,0 5.5,2.6 7,2c1.5,-0.6 3.3,-6.4 5.1,-7c1.8,-0.6 6.7,0.9 9.1,2c2.4,1.1 7.1,6.5 10.1,7.1c3,0.6 10.7,-1.3 14.1,-2.1c3.4,-0.8 11.7,-3.7 13.2,-4.4c1.5,-0.8 0.8,-1.1 -1,-1.6c-1.8,-0.5 -12.4,-1.6 -13.2,-2.5c-0.8,-0.9 5,-3.8 7.1,-4.6c2.2,-0.8 7.9,-1.1 10.1,-2c2.2,-0.9 7,-3.7 7.1,-5.1c0.1,-1.4 -6.4,-5.3 -6.1,-6c0.2,-0.7 6.7,1 8.1,0.4c1.4,-0.6 3.3,-3.9 3.1,-5.5c-0.2,-1.6 -4,-6.2 -5.1,-7.1c-1.1,-0.9 -2,0.2 -3.4,-0.3c-1.4,-0.5 -7,-2.9 -8.1,-4c-1.1,-1.1 -1.8,-2.7 -1,-5.1c0.8,-2.4 5.6,-12.5 7.1,-14.1c1.5,-1.6 3.7,1.1 5,1c1.3,-0.1 3.7,-1.4 5.1,-2c1.4,-0.6 4.9,-2.2 6,-3c1.1,-0.8 3.1,-1.7 3.1,-3.1c0,-1.4 -3,-5.7 -3.1,-8.1c-0.1,-2.4 2.4,-8.6 2.1,-11.1c-0.2,-2.5 -3.1,-7.8 -4.1,-9.1c-1,-1.3 -3,-0.5 -4,-1c-1,-0.5 -4.1,-1.7 -4.1,-3c0,-1.3 3.3,-6.8 4.1,-7.1c0.8,-0.3 1,4.5 2,5c1,0.5 5.5,1.1 6.1,-1c0.6,-2.1 -0.6,-13.5 -1.1,-16.1c-0.5,-2.6 -2.5,-3.8 -3,-5.1c-0.5,-1.4 -1.2,-5 -1.4,-5.7c-1.4,-0.4 -10.2,-2.2 -11.1,-3.4c-0.9,-1.2 3.6,-4.6 4,-6.1c0.4,-1.5 -0.1,-4.2 -0.6,-6c-0.5,-1.8 -4.4,-6.8 -3.6,-8.1c0.8,-1.3 8.2,-2 9.7,-2.6c1.5,-0.6 2.5,-1.2 2.4,-2.5c-0.1,-1.3 -2.7,-5.8 -3,-8.1c-0.3,-2.3 0.3,-7.6 0.6,-10.1c0.3,-2.5 2,-8.3 1.6,-10.1c-0.4,-1.8 -4,-1.7 -4.7,-4c-0.7,-2.3 -1,-12.4 -1.2,-14.2c-0.8,-0.8 -4.4,-6 -6.1,-6.7c-1.7,-0.7 -5.7,0.7 -7.1,1c-1.4,0.3 -3.5,0.4 -4,1.1c-0.5,0.7 0.4,3.5 -0.4,4.6c-0.8,1.1 -4.6,3.7 -5.7,4.5c-1.1,0.8 -2.2,2.1 -3,2c-0.8,-0.1 -1.6,-3 -3.1,-3.1c-1.5,-0.1 -7.6,1.3 -9.1,2.1c-1.5,0.8 -2.8,3 -3,4c-0.2,1 0.4,3.3 1,4.1c0.6,0.8 3.9,1.4 4.1,2c0.2,0.6 -1.2,2.4 -2.1,3c-0.9,0.6 -4.6,0.9 -5,2c-0.4,1.1 2.2,6 2,7.1c-0.2,1.1 -3.1,0.9 -3.6,2c-0.5,1.1 0.9,5.7 -0.4,6.7c-1.3,1 -7.6,1.1 -10.1,1.4c-2.5,0.4 -7.8,1.5 -10.1,1.4c-2.3,-0.1 -6.3,-2 -8.1,-2.4c-1.8,-0.4 -4.4,-0.5 -6.1,-1c-1.7,-0.5 -5.3,-3 -7.1,-3.4c-1.8,-0.4 -5.6,-0.4 -7.1,0.4c-1.5,0.8 -4,4.5 -5,6c-1,1.5 -2.1,4.9 -3,5.7c-0.9,0.8 -3,1.2 -4.1,1c-1.1,-0.2 -4,-1.9 -5,-3c-1,-1.1 -2,-4.6 -3.1,-5.7c-1.1,-1.1 -4.7,-2.6 -6,-3c-1.3,-0.4 -3.5,-0.4 -4.1,0c-0.6,0.4 0.6,3 -1,3.4c-1.6,0.4 -10.5,0.8 -12.1,0c-1.6,-0.8 -0.7,-5.2 -1,-6.5c-0.3,-1.3 -2,-2.7 -1.7,-4c0.2,-1.3 3.9,-4.2 3.7,-6.1c-0.2,-1.9 -4,-7.8 -5.1,-9.1c-1.1,-1.3 -2.6,0 -4,-1c-1.4,-1 -5.8,-5.5 -7.1,-7.1c-1.3,-1.6 -2.8,-5 -3,-6c-0.2,-1 0.1,-1.4 1,-2c0.9,-0.6 5.2,-1.8 6.1,-2.7c0.9,-0.9 1.1,-3.2 1,-4.4c-0.1,-1.2 -1,-4.4 -2.1,-5.1c-1.1,-0.7 -4.9,-0.3 -7,-0.6c-2.1,-0.3 -8.3,-2.2 -9.8,-2c-1.5,0.2 -1.1,3.6 -2,4c-0.9,0.4 -4.2,-1.6 -5.1,-1c-0.9,0.6 -1.3,5.2 -2,6.1c-0.7,0.9 -2.9,2 -3.5,1c-0.6,-1 -0.7,-7.7 -1.6,-9.1c-1,-1.4 -5,-1.9 -6,-2c-1,-0.1 -1.3,1.1 -2.1,1c-0.8,-0.1 -3,-2 -4,-2c-1,0 -1.7,2 -4,2c-2.3,0 -12.3,-1.1 -14.2,-2c-1.9,-0.9 -0.5,-4.3 -1,-5.1c-0.5,-0.8 -2.2,0.3 -3,-1c-0.8,-1.3 -1.1,-8.3 -3.1,-9.7c-2,-1.4 -10.6,-1.5 -13.1,-1.4c-2.5,0.1 -6,1.1 -7.1,2c-1.1,0.9 -0.9,3.8 -2,5c-1.1,1.2 -5.6,4 -7.1,4.5c-1.5,0.5 -3.9,0.2 -5,-0.4c-1.1,-0.6 -2.5,-4.7 -3.5,-4.7c-1,0 -3.8,4.5 -4.6,4.7c-0.8,0.2 -0.4,-2.5 -2.1,-3c-1.7,-0.5 -8.9,-1.3 -11.1,-1.1c-2.2,0.2 -5.1,1.7 -6.4,2.5c-1.3,0.8 -2.2,3.3 -3.7,3.6c-1.5,0.3 -5.8,-0.6 -8.1,-1c-2.3,-0.4 -7.2,-1.9 -10.1,-2c-2.9,-0.1 -11.2,0.2 -13.1,1c-1.9,0.8 -1.8,4.4 -2,5Z" fill="#ffffc5" stroke="#ffffc5" stroke-width="0.6"/><path d="M1370.1,1159.6c0.9,0 5.2,0.5 7,0c1.8,-0.5 5.7,-3.9 7.1,-4c1.4,-0.1 2.7,2.9 4,3c1.3,0.1 4.7,-0.6 6.1,-2c1.4,-1.4 4,-7.6 5.1,-9.1c1.1,-1.5 2.1,-3 4,-3c1.9,0 9.2,3.5 11.1,3c1.9,-0.5 2.7,-6 4.1,-7.1c1.4,-1.1 5.3,-2 7.1,-2c1.8,0 5.5,2.6 7,2c1.5,-0.6 3.3,-6.4 5.1,-7c1.8,-0.6 6.7,0.9 9.1,2c2.4,1.1 7.1,6.5 10.1,7.1c3,0.6 10.7,-1.3 14.1,-2.1c3.4,-0.8 11.7,-3.7 13.2,-4.4c1.5,-0.8 0.8,-1.1 -1,-1.6c-1.8,-0.5 -12.4,-1.6 -13.2,-2.5c-0.8,-0.9 5,-3.8 7.1,-4.6c2.2,-0.8 7.9,-1.1 10.1,-2c2.2,-0.9 7,-3.7 7.1,-5.1c0.1,-1.4 -6.4,-5.3 -6.1,-6c0.2,-0.7 6.7,1 8.1,0.4c1.4,-0.6 3.3,-3.9 3.1,-5.5c-0.2,-1.6 -4,-6.2 -5.1,-7.1c-1.1,-0.9 -2,0.2 -3.4,-0.3c-1.4,-0.5 -7,-2.9 -8.1,-4c-1.1,-1.1 -1.8,-2.7 -1,-5.1c0.8,-2.4 5.6,-12.5 7.1,-14.1c1.5,-1.6 3.7,1.1 5,1c1.3,-0.1 3.7,-1.4 5.1,-2c1.4,-0.6 4.9,-2.2 6,-3c1.1,-0.8 3.1,-1.7 3.1,-3.1c0,-1.4 -3,-5.7 -3.1,-8.1c-0.1,-2.4 2.4,-8.6 2.1,-11.1c-0.2,-2.5 -3.1,-7.8 -4.1,-9.1c-1,-1.3 -3,-0.5 -4,-1c-1,-0.5 -4.1,-1.7 -4.1,-3c0,-1.3 3.3,-6.8 4.1,-7.1c0.8,-0.3 1,4.5 2,5c1,0.5 5.5,1.1 6.1,-1c0.6,-2.1 -0.6,-13.5 -1.1,-16.1c-0.5,-2.6 -2.5,-3.8 -3,-5.1c-0.5,-1.4 -1.2,-5 -1.4,-5.7c1.4,0.5 8.7,2.9 11.5,3.7c2.8,0.8 9.2,1.9 11.1,3c1.9,1.1 3.1,5.2 4.1,6.1c1,0.9 3.1,1.6 4,1.4c0.9,-0.2 0.9,-2.5 3.1,-3.4c2.2,-0.9 12.3,-2.5 14.1,-3.5c1.8,-1 -0.5,-3.8 0.4,-4.6c0.9,-0.8 5.4,-2 6.7,-2c1.3,0 3.6,1 4,2c0.4,1 -1.1,4.9 -1,6c0.1,1.1 1.2,2.3 2,2.7c0.8,0.4 3.3,0.2 4.1,0.8c0.8,0.5 0.5,3.3 2,3.6c1.5,0.3 6.6,-0.5 10.1,-1c3.5,-0.6 13.6,-3.6 18.2,-3.4c4.5,0.2 14.3,4.6 18.2,5.4c3.9,0.8 10.8,1.3 13.2,1.4c2.4,0.1 5.2,-0.3 6,-0.4c1.4,4.6 9.1,32.7 11.4,37c2.3,4.3 5.7,-2.5 7.1,-2.7c1.4,-0.2 3.1,2.1 4,1.4c0.9,-0.7 1.4,-6 3.1,-6.8c1.7,-0.8 9.4,-0.7 10.1,0c0.8,0.7 -4.1,4 -4.1,5.4c-0,1.4 3.6,4.8 3.7,6.1c0.1,1.3 -2.5,2.4 -2.7,4c-0.2,1.6 0.7,6.7 1.1,9.1c0.4,2.4 1.2,8.4 2,10.1c0.8,1.7 3.2,1.1 4,3.1c0.8,2 1.4,10.8 2,13.1c0.6,2.3 2.5,3.7 3.1,5.1c0.6,1.4 -0,4.5 2,6c2,1.5 12.2,4.3 14.2,6.1c2,1.8 1.1,6.7 2,8.1c0.9,1.4 4.2,1.9 5,3c0.8,1.1 1.5,5 1,6.1c-0.5,1.1 -4.5,1.6 -5.4,3c-0.9,1.4 -0.9,6.2 -1.6,8.1c-0.7,1.9 -2.5,6 -4.1,7.1c-1.6,1.1 -7.5,1.2 -8.5,2c-1,0.8 -0.5,3.7 0.4,4.5c0.9,0.8 5.6,1 7.1,1.6c1.5,0.6 4.3,1.7 5.1,3c0.8,1.3 1.2,5.7 1,7.1c-0.2,1.4 -2.8,2.6 -2.7,4c0.1,1.4 2.9,5.9 3.7,7.1c0.8,1.2 1.4,2.1 3,2.6c1.6,0.5 9,0.4 10.1,1.4c1.1,1 -1.9,5.8 -1,6.7c0.9,0.9 6,-0.2 8.1,0.4c2.2,0.6 7.5,3.5 9.1,4.5c1.6,1 2.6,1.4 3.4,3.6c0.8,2.2 2,10.9 2.7,14.2c0.7,3.3 2.3,10.9 2.6,12.5c-0.7,0.6 -3.7,3.4 -5.7,4.7c-2,1.3 -8.3,5.5 -10.1,6c-1.8,0.5 -3.2,-2.4 -4,-2c-0.8,0.4 -0.9,3.9 -2,5c-1.1,1.1 -6,3 -7.1,4.1c-1.1,1.1 -1.9,3 -2,5c-0.1,2 0.9,8 1.4,11.2c0.5,3.2 2,10.8 2.6,14.1c0.6,3.3 1.4,9.4 2,12.2c0.6,2.8 2,7 3.1,10.1c1.1,3.2 4.6,11.6 6,15.1c1.4,3.5 4.5,11.2 5.1,13.2c0.6,2 0,2.7 0,3.1c-0.4,0.1 -1.7,1.8 -3.1,0.9c-1.4,-0.9 -6.1,-6.7 -8,-8.1c-1.9,-1.4 -5.7,-2.2 -7.1,-3c-1.4,-0.8 -3.4,-1.9 -4.1,-3c-0.7,-1.1 -1.2,-3.9 -1.4,-6.1c-0.2,-2.2 -0.1,-8.8 -0.6,-11.1c-0.5,-2.3 -1.9,-5.5 -3,-7.1c-1.1,-1.6 -4.3,-4.7 -6.1,-5.7c-1.8,-1 -5.3,-2.3 -8.1,-2c-2.8,0.3 -11.4,4.4 -14,4.6c-2.6,0.2 -5.4,-1.3 -7.1,-2.6c-1.7,-1.3 -4.8,-5.9 -6.1,-8.1c-1.3,-2.2 -2.4,-7.3 -4,-9.1c-1.6,-1.8 -6.8,-4.3 -9.1,-5.1c-2.3,-0.8 -6.7,-1 -9.1,-1c-2.4,0 -7.2,1.6 -10.1,1c-2.9,-0.6 -9.7,-4.1 -13.1,-6c-3.4,-1.9 -11.2,-7.4 -14.2,-9.1c-3,-1.7 -7.7,-4 -10.1,-4.5c-2.4,-0.5 -7.1,0.7 -9.1,0.4c-2,-0.3 -5.8,-3.6 -6.7,-3c-0.9,0.6 -0.2,6.2 -0.8,8.1c-0.5,2 -3.1,6.6 -3.6,7.5c-0.6,-0.4 -3.7,-3.6 -5.1,-3.5c-1.4,0.1 -5.4,2.7 -6,4.1c-0.6,1.4 2,6 1.4,7.1c-0.6,1.1 -5.9,1.1 -6.5,2c-0.6,0.9 3,4.5 2,5c-1,0.5 -7.7,0.1 -10.1,-1c-2.4,-1.1 -7.1,-7.4 -9.1,-8.1c-2,-0.8 -6.7,2.4 -7.1,2.1c-0.4,-0.2 3.8,-3 4.1,-4.1c0.3,-1.1 -0.5,-4.5 -2,-5c-1.5,-0.5 -9.2,2.8 -10.2,1c-1,-1.8 2.7,-14.7 2.1,-15.2c-0.6,-0.5 -5.3,9.3 -7.1,11.1c-1.8,1.8 -4.9,3.3 -7.1,3.1c-2.2,-0.2 -8.7,-5.3 -10.1,-5.1c-1.4,0.2 0.8,6 -1,7.1c-1.8,1.1 -9.4,2.2 -13.1,2c-3.7,-0.2 -12.7,-4 -16.2,-4c-3.5,0 -9.4,3.2 -12.2,4c-2.8,0.8 -8.2,1.2 -10.1,2c-1.9,0.8 -3.6,4.1 -5,4.7c-1.4,0.6 -2.6,0.8 -6.1,0c-3.5,-0.8 -18.9,-5.5 -22.2,-6.7c-3.3,-1.2 -3.3,-1.6 -4.1,-3c-0.8,-1.4 -2.1,-6.6 -2,-8.1c0.1,-1.5 3.2,-3.7 2.6,-4.1c-0.6,-0.4 -5.6,1.1 -7.6,1c-2,-0.1 -5.9,-0.5 -8.1,-2c-2.2,-1.5 -7.9,-9 -9.7,-10.1c-1.8,-1.1 -3,1.4 -4.5,1c-1.5,-0.4 -5.3,-2.7 -7.1,-4c-1.8,-1.3 -5.9,-6.2 -7,-6.1c-1.1,0.1 -0.7,5.9 -2.1,6.7c-1.4,0.8 -7.6,0.2 -9.1,-0.6c-1.5,-0.8 -3.3,-4.8 -3,-6.1c0.3,-1.3 3.1,-3.5 5.1,-4c2,-0.5 8.8,-0.2 11.1,-0.4c2.3,-0.2 5.5,-0.6 7.1,-1.6c1.6,-1 4.6,-5.1 6,-6.1c1.4,-1 5.4,-0.7 5.1,-2c-0.2,-1.3 -5.2,-7.2 -7.1,-8.5c-1.9,-1.3 -5.4,-0.8 -8.1,-1.6c-2.7,-0.8 -9.9,-4.1 -13.1,-5.1c-3.2,-1 -10.2,-2.7 -12.2,-2.6c-2,0.1 -3.5,2.1 -4,3.6c-0.5,1.5 0.6,7.9 0.4,8.1c-0.2,0.2 -1.3,-4.7 -2.4,-6.1c-1.1,-1.4 -3.7,-2.5 -6.1,-5c-2.4,-2.5 -11.6,-13.2 -13.1,-15.2c-1.5,-2 -0,-1.8 1,-1c1,0.8 3.3,6.3 7.1,7.1c3.8,0.8 19.3,-1.7 23.2,-1c3.9,0.7 5.6,5.9 8.1,6.6c2.5,0.7 9.1,-1.3 12.1,-1.2c3,0.1 9.2,1.8 12.2,2.1c3,0.3 9.6,-0.1 12.1,0.2c2.5,0.3 6,1.5 8.1,2.4c2.2,0.9 7.2,4.4 9.1,5c1.9,0.6 4.4,0.5 6,0c1.6,-0.5 6.3,-3.1 7.1,-4c0.8,-0.9 -1.4,-2.1 -1,-3c0.4,-0.9 2.4,-2.2 4.1,-4.1c1.7,-1.8 7.6,-9.3 9.5,-10.7c1.9,-1.4 4.4,-0.1 5.6,-0.4c1.2,-0.3 2.8,-0.7 4.1,-2c1.3,-1.3 6.3,-7.9 6,-8.5c-0.3,-0.6 -6.1,3.3 -8.1,4c-2,0.7 -6,0.7 -7.6,1.4c-1.6,0.7 -3.9,3 -5.5,4.1c-1.6,1.1 -5.2,4.2 -7.1,5c-1.9,0.8 -6.3,1.2 -8.1,1c-1.8,-0.2 -4.6,-2 -6,-3c-1.4,-1 -3.8,-4.5 -5.1,-4.6c-1.3,-0.1 -3.5,2.7 -5,3.6c-1.5,1 -5.8,4.4 -7.1,4c-1.3,-0.4 -1.3,-5.5 -3.1,-7c-1.8,-1.5 -9.2,-3.6 -11.1,-5.1c-1.9,-1.5 -3.1,-5.1 -4,-7.1c-0.9,-2 -2.6,-8 -3,-9.1Z" fill="#ffffc5" stroke="#ffffc5" stroke-width="0.6"/><path d="M1724.8,1336.3c-0.4,0.1 -1.7,1.8 -3.1,0.9c-1.4,-0.9 -6.1,-6.7 -8,-8.1c-1.9,-1.4 -5.7,-2.2 -7.1,-3c-1.4,-0.8 -3.4,-1.9 -4.1,-3c-0.7,-1.1 -1.2,-3.9 -1.4,-6.1c-0.2,-2.2 -0.1,-8.8 -0.6,-11.1c-0.5,-2.3 -1.9,-5.5 -3,-7.1c-1.1,-1.6 -4.3,-4.7 -6.1,-5.7c-1.8,-1 -5.3,-2.3 -8.1,-2c-2.8,0.3 -11.4,4.4 -14,4.6c-2.6,0.2 -5.4,-1.3 -7.1,-2.6c-1.7,-1.3 -4.8,-5.9 -6.1,-8.1c-1.3,-2.2 -2.4,-7.3 -4,-9.1c-1.6,-1.8 -6.8,-4.3 -9.1,-5.1c-2.3,-0.8 -6.7,-1 -9.1,-1c-2.4,0 -7.2,1.6 -10.1,1c-2.9,-0.6 -9.7,-4.1 -13.1,-6c-3.4,-1.9 -11.2,-7.4 -14.2,-9.1c-3,-1.7 -7.7,-4 -10.1,-4.5c-2.4,-0.5 -7.1,0.7 -9.1,0.4c-2,-0.3 -5.8,-3.6 -6.7,-3c-0.9,0.6 -0.2,6.2 -0.8,8.1c-0.5,2 -3.1,6.6 -3.6,7.5c0.2,1.7 2,10 2,13.7c0,3.7 -1.1,13.8 -1.6,16.2c-0.5,2.4 -2.8,2.9 -2.5,3c0.3,0.1 2.7,-2.3 5.1,-2c2.4,0.3 13.7,3.6 14.2,4.7c0.5,1.1 -8.8,2.8 -10.2,4.4c-1.4,1.6 -0.4,7.3 -1,8.1c-0.6,0.8 -2.6,-1.5 -4,-2c-1.4,-0.5 -5.8,-2.5 -7.1,-2.1c-1.3,0.4 -1.6,4.5 -3,5.1c-1.4,0.6 -5.7,-1.2 -8.1,-0.6c-2.4,0.6 -9.3,4.4 -11.1,5.7c-1.8,1.3 -1,3.4 -3.1,5c-2.2,1.6 -11.7,6.8 -14.1,7.7c-2.4,0.9 -4,-0 -5.1,-0.6c-1.1,-0.6 -3.4,-4.3 -4,-4.1c-0.6,0.2 2.7,3.4 -1,6.1c-3.7,2.7 -23.4,12 -28.3,15.2c-4.9,3.2 -9.6,7.9 -11.1,10.1c-1.5,2.2 -0.2,6.4 -1.1,7.1c-0.9,0.8 -3.6,-2 -6,-1.1c-2.4,0.9 -9.4,5.4 -13.2,8.1c-3.8,2.7 -14.5,10.8 -17.1,13.2c-2.6,2.4 -3.2,4.1 -3.5,6c-0.3,1.9 0.9,7.5 1.4,9c0.5,1.5 1,2.5 2.5,3.4c1.5,0.9 7,3.2 9.1,3.7c2.1,0.5 6,0.9 8,0c2,-0.9 5.8,-6.3 8.1,-7.1c2.3,-0.8 7.6,0.2 10.1,0.4c2.5,0.2 7.9,0.9 10.2,1.6c2.3,0.7 5.5,2.2 8,4c2.5,1.8 10.2,8.3 12.2,10.2c2,1.9 2.2,3.5 3.6,5c1.4,1.5 5.5,5.7 7.5,7.1c2,1.4 6.8,3 8.1,4c1.3,1 0.7,4.2 2,4.1c1.3,-0.1 6,-3.9 8.1,-4.7c2.2,-0.8 6.7,-2.4 9.1,-1.4c2.4,1 7.8,7.1 10.1,9.1c2.3,2 6.7,4.8 8.1,7.1c1.4,2.3 2.4,9 3,11.1c0.6,2.2 1.4,3.6 2,6.1c0.6,2.5 2.6,11.3 2.7,14.1c0.1,2.8 -0.8,6.5 -1.6,8.1c-0.8,1.6 -3.9,3.9 -4.5,4.5c0,0.6 -0.3,3.8 0.4,4.6c0.7,0.8 3.7,0.7 5.1,1.4c1.4,0.7 4.9,2.8 6,4.1c1.1,1.3 3.5,5.1 2.7,6.6c-0.8,1.5 -7.5,4.1 -8.7,5.1c-1.2,1 -1.1,1.6 -1,3c0.1,1.4 0.1,7.1 1.6,8.1c1.5,1 8.6,-1.3 10.5,-0.4c1.9,0.9 5,5.5 5,7.5c0,2 -4.6,6.6 -5,8.1c-0.4,1.5 1.2,3.5 2,4c0.8,0.5 3.3,-0.9 4,-0.4c0.7,0.5 1.1,3.8 1.7,4.5c0.6,0.7 2.6,-0.3 3.4,1c0.8,1.3 2.4,7.1 3,9.1c0.6,2 2.9,5.8 2.1,7c-0.8,1.2 -7.2,1.9 -8.5,2.7c-1.3,0.8 -1.5,3 -1.7,3.4c1.3,0 7.7,-0.4 10.2,0c2.5,0.4 7.1,3.4 10.1,3c3,-0.4 11.6,-5 14.1,-6c2.5,-1 4.8,-1.2 6.1,-2c1.3,-0.8 3,-2.7 4,-4.1c1,-1.4 2.7,-6 4.1,-7.1c1.4,-1.1 5.6,-0.9 7,-2c1.4,-1.1 2.8,-6.2 4.1,-7.1c1.3,-0.9 5.2,1.9 6.7,0c1.5,-1.9 4,-11.8 5.4,-15.1c1.4,-3.3 4.8,-8.9 6.1,-11.1c1.3,-2.2 3.3,-4.8 4.6,-6.1c1.3,-1.3 3.4,-3.3 5.5,-4.1c2.1,-0.8 8.2,-1.1 11.1,-2.4c2.9,-1.3 10,-6.4 12.1,-7.7c2.2,-1.3 3.4,-2.3 5.1,-2.4c1.7,-0.1 6.5,1.5 8.1,1.4c1.6,-0.1 3.9,-1.8 5,-2c1.1,-0.2 3.1,0.9 4.1,0.6c1,-0.3 2.7,-2.8 4,-3.2c1.3,-0.5 4.7,-1.2 6.1,-0.4c1.4,0.8 3.7,6.1 5.1,7.1c1.4,1 4.9,1.8 6,1c1.1,-0.8 2.3,-5.1 3.1,-7.1c0.8,-2 2.2,-7.5 3,-9.1c0.8,-1.6 1.9,-2.9 3,-3.5c1.1,-0.6 4.8,-0.5 6.1,-1.6c1.3,-1.1 3.1,-5.9 4,-7c0.9,-1.1 2.3,-2.1 3.1,-2.1c0.8,0 2.1,2.1 3,2.1c0.9,0 3,-2.4 4,-2.1c1,0.2 3.7,4.6 4.1,4.1c0.4,-0.5 -2,-6.2 -1,-7.7c1,-1.5 8.5,-3.6 9.1,-4.5c0.6,-0.9 -4,-2 -4.5,-3c-0.5,-1 -0.3,-3.7 0.4,-5c0.7,-1.3 3.6,-4 5.1,-5.1c1.5,-1.1 5.2,-3.2 7.1,-4c1.9,-0.8 5.7,-2.2 8,-2.1c2.3,0.1 7.6,1.7 10.1,2.7c2.5,1 8,4 10.2,5.4c2.2,1.4 5.8,4.5 7,6.1c1.2,1.6 2.1,5.6 2.7,6.7c0.6,1.1 0.8,2.5 2.4,2.4c1.6,-0.1 7.9,-2.6 10.1,-3c2.2,-0.4 5.7,0.5 7.1,-0.4c1.4,-0.9 3,-5.9 4,-6.7c1,-0.8 2.3,-0.2 4.1,0.4c1.8,0.6 7.6,3.9 10.1,4.6c2.5,0.7 8.6,1.5 10.1,1c1.5,-0.5 0.4,-4.2 2,-5c1.6,-0.8 8.3,-0.4 11.1,-1c2.8,-0.6 9.5,-3.1 11.1,-4.1c1.6,-1 1.9,-2.7 1.5,-4c-0.4,-1.3 -3.8,-4.3 -4.5,-6.1c-0.7,-1.8 -1.1,-5.3 -1,-8.1c0.1,-2.8 1.4,-11.6 2,-14.1c0.6,-2.5 2.1,-5 3.1,-6.1c1,-1.1 4.6,-1.7 5,-2.4c0.4,-0.8 -2.1,-2.6 -2,-3.6c0.1,-1 1.9,-3.5 3,-4.1c1.1,-0.6 4.7,-0.6 6.1,-0.4c1.4,0.2 3.9,2.3 5,2.4c1.1,0 3.7,-0.7 4.1,-2c0.4,-1.3 -0.5,-6.5 -1,-8.1c-0.5,-1.6 -2.2,-4.2 -3.1,-5c-0.9,-0.8 -3,-1.2 -4,-1c-1,0.2 -3,3.4 -4,3c-1,-0.4 -2.4,-5.5 -4.1,-6.1c-1.7,-0.6 -6.8,1.4 -9.1,1c-2.3,-0.4 -7.3,-3.9 -9.1,-4c-1.8,-0.1 -4.5,3.1 -5,3c-0.5,-0.1 1.3,-3.2 1,-4c-0.3,-0.8 -2.2,-2.1 -3.1,-2c-0.9,0.1 -1.7,2.3 -4,2.6c-2.3,0.2 -11.5,-1.2 -14.2,-0.6c-2.7,0.6 -5.7,3.8 -7,5.4c-1.3,1.6 -2.2,6.2 -3.1,7.7c-0.9,1.5 -2.7,3.6 -4,4.1c-1.3,0.5 -3.8,0.9 -6.1,0c-2.3,-0.9 -10.6,-4.9 -12.1,-7.1c-1.5,-2.2 0.5,-8.7 0,-10.1c-0.5,-1.4 -3.2,-2 -4.1,-1c-0.9,1 -2,7.2 -3,9.1c-1,1.9 -4.3,4.7 -5,6c-0.7,1.3 0.4,3 -0.4,4.1c-0.8,1.1 -2.2,3.5 -5.7,5c-3.5,1.5 -18.9,6 -22.2,6.7c-3.3,0.7 -1.4,0.7 -4.1,-1c-2.7,-1.7 -10.6,-4.2 -17.2,-12.7c-6.6,-8.5 -30.4,-47.9 -35.4,-55.6c-5,-7.7 -3.9,-5.4 -4.5,-6.2Z" fill="#ffffc5" stroke="#ffffc5" stroke-width="0.6"/><path d="M1065.1,339.1c0,-0.2 -0.1,-1 0.4,-1.6c0.5,-0.6 2.1,-2.9 3.6,-3c1.5,-0.1 6.6,2.8 8.1,2c1.5,-0.8 2.7,-6.8 4.1,-8.1c1.4,-1.3 5.4,-1.5 7,-2.6c1.6,-1.1 4.6,-5.4 6.1,-6.5c1.5,-1.1 4.7,-2.1 6.1,-2c1.4,0.1 4,1.9 5,3c1,1.1 1.2,5.1 3,6.1c1.8,1 9.3,2 11.2,2c1.9,0 3.1,-1.2 4,-2c0.9,-0.8 2.1,-3.7 3,-4.1c0.9,-0.4 2.6,1.3 4.1,1c1.5,-0.3 5.2,-3.1 8.1,-3.6c2.9,-0.5 12.3,-0.6 15.1,-0.4c2.8,0.2 5.6,1.1 7.1,2c1.5,0.9 3.8,3.8 5.1,5.1c1.3,1.3 3.6,4 5,5c1.4,1 5.1,2.2 6.1,3.1c1,0.9 1.8,2.7 2,4c0.2,1.3 -1.1,4.6 -0.6,6.1c0.5,1.5 3.2,5 4.7,6c1.5,1 5.5,1.1 7,2c1.5,0.9 3.6,4.1 5.1,5.1c1.5,1 6,2.2 7.1,3c1.1,0.8 1.8,2.7 2,3.1c-0.4,0.2 -2.8,1 -3,2c-0.2,1 1.5,3.6 1.4,6.1c-0.1,2.5 -2.1,10.3 -2.5,14.1c-0.4,3.8 -1,14.2 -0.4,16.2c0.6,2 3.4,-0.4 5.5,0c2.1,0.4 9.5,2 11.1,3c1.6,1 1.9,3 2,5.1c0.1,2.1 -2.7,9.6 -1,12.1c1.7,2.5 12.3,6.6 14.2,8.1c1.9,1.5 1.6,1.7 1,4c-0.6,2.3 -6.2,12.3 -6.1,14.2c0.1,1.9 5.7,0.5 7.1,1c1.4,0.5 3,3.2 4,3c1,-0.2 3,-4 4.1,-4.4c1.1,-0.4 3.7,1.5 5,1.4c1.3,-0.1 2.6,-1.5 5.1,-2c2.5,-0.5 12.9,-2.5 15.2,-2c2.3,0.5 2,4.9 3,6c1,1.1 3.8,2.1 5,3.1c1.2,1 3.7,3.4 4.7,5c1,1.6 3.2,5.8 3.5,7.5c0.3,1.7 -0.4,5 -1,6.1c-0.6,1.1 -3.8,2 -4.1,3c-0.3,1 0.7,4 2,5c1.3,1 7,1.8 8.1,2.7c1.1,0.9 0.1,3.9 1,4.8c0.9,0.9 4.2,2.5 6.1,2.7c1.9,0.2 7.1,-1.2 9.1,-1.1c2,0.1 5.8,2.2 7.1,2.1c1.3,-0.1 1.5,-2.8 3,-3.1c1.5,-0.3 7.2,1.1 9.1,1c1.9,-0.1 4.2,-1.1 6.1,-2c1.9,-0.9 7.2,-4.2 9.1,-5c1.9,-0.8 4.6,0 6,-1c1.4,-1 4.3,-5.8 5.1,-7.1c0.8,-1.3 0.2,-2.6 1,-3.1c0.8,-0.5 3.8,-1.3 5.1,-1c1.3,0.3 3.4,1.6 5,3.1c1.6,1.5 6,7.8 8.1,9.1c2.2,1.3 8,-0.1 9.1,1c1.1,1.1 0.6,6.9 0,8.1c-0.6,1.2 -4.3,0.8 -5.1,1.6c-0.8,0.8 -1.4,3.3 -1,4.4c0.4,1.1 3.3,3 4.1,4.1c0.8,1.1 1,4.1 2,5c1,0.9 5.6,1.3 6.1,2.1c0.5,0.8 -2.8,2.8 -2.1,4c0.8,1.2 7.1,5 8.1,5.7c-0.4,0.9 -2.2,5.6 -3,7.4c-0.8,1.8 -2.4,5.6 -3,7.1c-0.6,1.5 -1.3,4.5 -1.5,5.1c-0.7,-0.1 -4.4,-1.2 -5.6,-1c-1.2,0.2 -3.5,2.1 -4.1,3c-0.6,0.9 -1.1,2.9 -1,4c0.1,1.1 2.5,3.8 2.1,5.1c-0.4,1.3 -3.8,4.2 -5.1,5c-1.3,0.8 -3.6,0.1 -5.1,1.1c-1.5,1 -6.4,5 -7,7c-0.6,2 1.6,7.3 2,9.1c0.4,1.8 1.9,4.2 1,5.1c-0.9,0.9 -7.1,0.6 -8.1,2c-1,1.4 0.6,6.8 0,9.1c-0.6,2.3 -3.6,6.7 -5,9.1c-1.4,2.4 -3.8,9.1 -6.1,10.1c-2.3,1 -10.4,-1 -12.1,-2c-1.7,-1 -0.6,-5.5 -1.1,-6.1c-0.5,-0.6 -2.5,0.2 -3,1c-0.5,0.8 -0.1,4.4 -1,5.1c-0.9,0.7 -5.1,-0 -6.1,0.4c-1,0.5 -1,4.1 -2,3.2c-1,-0.9 -3.8,-9.5 -6,-10.7c-2.2,-1.2 -8.3,0.1 -11.2,1c-2.9,0.9 -9.9,5.5 -12.1,6.5c-2.2,1 -4,0.6 -5.1,1.6c-1.1,1 -3.3,4.8 -3.4,6.1c-0.1,1.3 2.3,2.9 2.4,4c0.1,1.1 -1.6,4 -1.6,5.1c0,1.1 1.8,2.2 1.6,4c-0.2,1.8 -2,7.5 -3,10.1c-1,2.6 -4.5,9.2 -5.1,11.1c-0.6,1.9 -0.5,3.2 0,4.1c0.5,0.9 3.6,2.1 4.1,3c0.5,0.9 0.5,3 -0.4,4.1c-0.9,1.1 -5.5,3.5 -6.7,5c-1.2,1.5 -1.7,5.6 -3,7.1c-1.3,1.5 -5.5,3.5 -7.1,5.1c-1.6,1.6 -4.4,6.1 -5.9,8c-1.5,1.9 -5,5.6 -6,7.1c-1,1.5 -1.1,4.6 -2.1,5.1c-1,0.5 -4.5,-1.2 -6,-1c-1.5,0.2 -4.3,2.2 -6.1,3c-1.8,0.8 -6.3,3.3 -8.1,3c-1.8,-0.3 -4.4,-4.6 -6,-5.4c-1.6,-0.8 -5.7,-1.4 -7.1,-1.2c-1.4,0.2 -2.5,2.5 -4.1,3.2c-1.7,0.7 -7.3,2.6 -9.1,2.4c-1.8,-0.2 -3.9,-4.1 -5,-4.4c-1.1,-0.3 -3.2,0.2 -4.1,2c-0.9,1.8 -2.4,10.2 -3,12.5c-0.6,2.3 -1.5,5.5 -2,5.7c-0.5,0.2 -0.7,-3 -2,-3.7c-1.3,-0.7 -5.4,-1.4 -8.1,-2c-2.7,-0.6 -11.2,-1.7 -13.2,-3c-2,-1.3 -2.1,-6.6 -3,-7.1c-0.9,-0.5 -3.1,2 -4,3c-0.9,1 -1.8,4.6 -3.1,5.1c-1.3,0.5 -5.5,-1.2 -7.1,-1c-1.6,0.2 -4.5,2.4 -6,3c-1.5,0.6 -4.6,0.7 -6.1,2c-1.5,1.3 -5,6.5 -6,8.1c-1,1.6 -0.4,4.3 -2.1,5.1c-1.7,0.8 -9.1,1.6 -11.1,1c-2,-0.6 -3.9,-5.1 -5,-6.1c-1.1,-1 -3.1,-1.7 -3.6,-1.9c-0.6,-0.5 -2.9,-2.4 -4.5,-4.1c-1.6,-1.7 -6.5,-8.2 -8.1,-9.7c-1.7,-1.5 -4,-1.3 -5.1,-2.5c-1.1,-1.2 -3.4,-5.5 -4,-7c-0.6,-1.5 -1.3,-3.8 -0.6,-5.1c0.8,-1.3 5.6,-3.7 6.6,-5c1,-1.3 1.4,-3.3 1.1,-5.1c-0.3,-1.8 -3.6,-7.7 -3.7,-9.1c-0.1,-1.4 2.1,-1.1 2.6,-2c0.5,-0.9 1.7,-4 1.1,-5.1c-0.6,-1.1 -5,-2.7 -6.1,-4c-1.1,-1.3 -2.2,-4.1 -2.4,-6.1c-0.2,-2 0.9,-8.6 0.4,-10.1c-0.5,-1.5 -3.9,-1.8 -4.5,-2c0.2,-0.2 1.1,-1 1.4,-2c0.3,-1 1.8,-4.8 1.1,-5.7c-0.8,-0.9 -6.6,-0.5 -7.1,-1.4c-0.5,-0.9 2.8,-4.1 3,-6.1c0.2,-2 -1.8,-7.9 -1,-9.5c0.8,-1.6 5.5,-2.6 7.1,-3.6c1.6,-1 4,-2.8 6,-4.1c2,-1.3 8.1,-4.4 10.1,-6c2,-1.6 4.7,-5.6 6.1,-7.1c1.4,-1.5 4.8,-3.7 5.1,-5.1c0.2,-1.4 -2.2,-4.5 -3.1,-6c-0.9,-1.5 -3.6,-4.3 -4,-6.1c-0.4,-1.8 1,-6.2 1,-8.1c0,-1.9 -1.6,-6 -1,-7.1c0.6,-1.1 4.9,-1.1 5.7,-2c0.8,-0.9 1.3,-3.4 0.8,-5c-0.5,-1.6 -3.9,-5.2 -4.5,-8.1c-0.6,-2.9 0.5,-12.4 0,-15.2c-0.5,-2.8 -2.9,-5.7 -4,-7.1c-1.1,-1.4 -4.1,-2.2 -5.1,-4c-1,-1.8 -2.1,-8.2 -3,-10.1c-0.9,-1.9 -2.8,-4.3 -4.1,-5.1c-1.3,-0.8 -4.3,-1.1 -6,-1c-1.7,0.1 -6.6,2.1 -7.7,2c-1.1,-0.1 -1.3,-2.4 -0.8,-3c0.5,-0.6 4.5,-0.6 4.8,-1.4c0.2,-0.8 -3.1,-4.2 -2.8,-4.7c0.3,-0.5 4.3,1.3 5.2,0.4c0.9,-0.9 2.2,-6.3 2.1,-7.8c-0.1,-1.5 -3.2,-2.8 -3.1,-4.1c0.1,-1.3 4.1,-4.7 4.1,-6.1c0,-1.4 -4.2,-3.4 -4.1,-5c0.1,-1.6 4,-6.3 5.1,-8.1c1.1,-1.8 3,-4.7 4,-6.1c1,-1.4 3.8,-3.6 4.1,-5c0.3,-1.4 -1.5,-4.6 -2,-6.1c-0.5,-1.5 -0.8,-5 -2.1,-6c-1.3,-1 -7.3,0.1 -8.1,-2.1c-0.8,-2.1 3,-11.6 2.1,-15.1c-0.9,-3.5 -7.5,-11.3 -9.1,-13.2c-1.6,-1.9 -3.2,-1.2 -3.7,-2c-0.5,-0.8 -1.4,-3.5 -0.4,-4c1,-0.5 7,0.8 8.1,0c1.1,-0.8 0.6,-4.6 1,-6.1c0.4,-1.5 1.8,-4.8 2,-6.1c0.2,-1.3 0.8,-3 0,-4c-0.8,-1 -4.6,-2.8 -6,-4.1c-1.4,-1.3 -3.8,-4.8 -5.1,-6c-1.3,-1.2 -3.7,-3.6 -5,-3.5c-1.3,0.1 -4.2,5.4 -5.1,4.5c-0.9,-0.9 -1.5,-9.4 -2,-12.1c-0.5,-2.7 -2.8,-7.9 -2,-9.5c0.8,-1.6 6.5,-2.4 8.1,-3.7c1.6,-1.3 4.2,-4.9 5,-7.1c0.8,-2.1 1.4,-8.5 1,-10.1c-0.4,-1.6 -3.5,-2.1 -4,-2.4Z" fill="#ae1a3c" stroke="#ae1a3c" stroke-width="0.6"/><path d="M1204.6,363.8c0.4,-1.5 1.9,-10.1 3,-12.2c1.1,-2.1 5.1,-3.5 6.1,-5c1,-1.5 2.1,-5.3 2,-7.1c-0.1,-1.8 -2.1,-5.6 -3,-7.1c-0.9,-1.5 -4.1,-3.9 -4.1,-5c0,-1.1 4.1,-3.1 4.1,-4.1c0,-1 -3.2,-2.4 -4.1,-4c-0.9,-1.6 -2.1,-7.3 -3,-9.1c-0.9,-1.8 -3.6,-3.7 -4,-5.1c-0.4,-1.4 0.5,-4.7 1,-6c0.5,-1.3 2.4,-2 3,-4.1c0.6,-2.1 0.9,-11.2 2,-13.1c1.1,-1.9 6.3,-0.6 7.1,-2c0.8,-1.4 -0.9,-7.4 -0.4,-9.1c0.5,-1.6 4,-2.7 4.4,-4.1c0.4,-1.4 -1.8,-5.2 -1,-7.1c0.8,-1.9 5.8,-6.3 7.1,-8c1.3,-1.7 2,-4.7 3,-5.5c1,-0.8 4.2,0.2 5.1,-0.6c0.9,-0.8 1,-5 2,-6.1c1,-1.1 5,-2 6.1,-3c1.1,-1 1.7,-3.8 3,-5.1c1.3,-1.3 6.7,-4.1 7.1,-5c0.4,-0.9 -3.7,-1 -4.1,-2c-0.4,-1 0.6,-5 1.1,-6.1c0.5,-1.1 0.3,-2.4 3,-3c2.7,-0.6 15,-1.6 18.2,-1.5c3.2,0.1 5.8,1.8 7.1,2.5c1.3,0.7 3.1,2.5 3.6,3c0.5,0.5 -0.3,0.4 0.2,0.7c0.5,0.3 3.2,2 4.1,2c0.9,0 2,-0.7 3,-2c1,-1.3 3.1,-7.1 5,-8.7c1.9,-1.6 7.7,-3.6 10.2,-4.1c2.5,-0.5 6.2,-0.5 10.1,0c3.9,0.5 16,3.8 21.2,4.1c5.2,0.3 17,-1.4 20.2,-1.4c3.2,0 4.1,0.7 5.1,1.4c1,0.7 2.2,2.7 2.6,4c0.4,1.3 0.4,5.7 0.8,6.7c0.4,1 1.4,1.2 2.6,1c1.2,-0.2 5.6,-2.6 7.1,-3c1.5,-0.4 3.6,-0.6 5.1,-0.4c1.5,0.2 4,2.5 7,1.8c3,-0.7 14.3,-6.1 17.2,-7.5c2.9,-1.4 4.9,-2.6 6.1,-4c1.2,-1.4 3.1,-5.2 3.6,-7.1c0.5,-1.9 0.5,-6.4 0.8,-8.1c0.3,-1.7 0.9,-4 1.7,-5.1c0.8,-1.1 4.3,-2.1 4.4,-3.4c0.1,-1.3 -3.1,-5 -3.4,-6.7c-0.3,-1.7 0.2,-6 1,-7.1c0.8,-1.1 3,-1.8 5,-1.6c2,0.2 9.2,3.1 11.2,3.3c2,0.2 1.5,-2.9 5,-1.7c3.5,1.2 18.9,10 23.3,11.2c4.4,1.2 9.6,-1.9 12.1,-1.6c2.5,0.3 5.2,5.1 8.1,4.2c2.9,-0.9 12.6,-10.2 15.1,-11.7c2.5,-1.5 4.2,0.4 5.1,0c0.9,-0.4 1.1,-2.4 2,-3.1c0.9,-0.7 3.7,-1.3 5.1,-2.4c1.4,-1.1 3.6,-5.7 6,-6.1c2.4,-0.4 10.5,2.1 13.2,2.5c2.7,0.4 6.6,0.1 8.1,0.4c1.5,0.3 3.1,1.8 3.6,2c-0.2,1 -1.1,6.1 -1.6,7.7c-0.5,1.6 -1.5,3.7 -2,5c-0.5,1.3 -0.9,3.8 -1.6,5.1c-0.7,1.3 -3.7,3.1 -4.1,5c-0.4,1.9 -0.2,8.6 0.6,10.2c0.8,1.6 4.2,0.9 6.1,2.4c1.9,1.5 7.5,8.4 9.1,9.7c1.6,1.3 3.6,-0.3 4,0.4c0.4,0.7 -0.1,4.3 -1,5.2c-0.9,0.9 -4.8,2.2 -6.1,2.1c-1.3,-0.1 -3.2,-2.6 -4,-2.7c-0.8,-0.1 -2.3,0.6 -2.6,2.1c-0.3,1.5 -0.2,8.2 0,10.1c0.2,1.9 1.2,4 1.2,5c-0,1 -0.1,2.4 -1.6,3.1c-1.5,0.7 -7.9,1.5 -10.1,2.4c-2.2,0.9 -5.3,4.1 -7.1,4.6c-1.8,0.5 -6.3,-0.8 -7.1,-0.4c-0.8,0.4 1.3,2.8 1,3.5c-0.3,0.7 -2.7,1.1 -3.4,2c-0.8,0.9 -1.8,4 -2.6,5c-0.8,1 -3.3,2 -4.1,3.1c-0.8,1.1 -2.4,4.1 -2.4,6c0,1.9 1.7,7.4 2.4,9.1c0.7,1.7 1.9,3.3 3,4.5c1.1,1.2 5.7,3.8 6.1,5.2c0.4,1.4 -3,4.9 -3,6.1c0,1.2 2.5,1.8 3,3.4c0.5,1.6 0.6,7.8 1,9.1c0.4,1.3 2.1,0.5 2,1.1c-0.1,0.6 -3.1,2.6 -3,4c0.1,1.4 3.5,5.8 3.6,7.1c0.1,1.3 -1.5,2.9 -2.6,3c-1.1,0.1 -5.4,-2.5 -6,-2c-0.6,0.5 1.5,4.8 1.4,6.1c-0.1,1.3 -2.6,2.7 -2.5,4c0.1,1.3 3,4.3 3.1,6.1c0.1,1.8 -1.1,6.9 -2,8.1c-0.9,1.2 -4.1,1.4 -5.1,1.4c-1,0 -2.4,-0.7 -3,-1.4c-0.6,-0.7 -1.4,-3.8 -2.1,-4.1c-0.7,-0.3 -3.5,0.9 -3.6,2c-0.1,1.1 1.8,6 2.6,7.1c0.8,1.1 3.6,0.6 4.1,1.6c0.5,1 -0.7,4.9 -0.4,6.1c0.3,1.2 2.5,2.2 2.8,3.4c0.2,1.2 -0.2,5.1 -0.8,6.1c-0.6,1 -3.3,0.9 -4,2c-0.7,1.1 -0.6,5.9 -1.7,7.1c-1.1,1.2 -6.2,1 -7,2.4c-0.8,1.4 0.7,6.9 0.4,8.7c-0.3,1.9 -4.1,4.8 -3.1,6.1c1,1.3 8.9,3.5 10.7,4c1.8,0.5 4,-0.5 4.1,0c0.1,0.5 -3.2,3.1 -3,4.1c0.2,1 3.5,3 5,3.6c1.5,0.6 5.7,2 7.1,1.4c1.4,-0.6 3,-5.9 4,-6.5c1,-0.6 3.7,0.4 3.7,1.5c0,1.1 -2.9,5.5 -3.7,7c-0.8,1.5 -3.1,4.1 -3,5.1c0.1,1 3.5,1.5 4,3c0.5,1.5 0.5,7.3 0,9.1c-0.5,1.8 -3.2,3.5 -4,5.1c-0.8,1.6 -2.1,6.2 -2.6,8.1c-0.5,1.9 -1.5,5.2 -1.4,6.8c0.1,1.6 1.4,5 2.2,6.1c0.8,1.1 3.8,2 4,3c0.2,1 -1.4,4.2 -2,5.1c-0.6,0.9 -2.6,1 -3,2c-0.4,1 -0,4.9 -0.4,6c-0.4,1.1 -2.4,1.8 -2.7,3.1c-0.3,1.3 0.2,5.2 0,7c-0.2,1.8 -1.5,5.3 -2,7.1c-0.5,1.8 -1.8,6.6 -2,7.5c-0.5,0.7 -2.9,4.2 -4,5.7c-1.1,1.5 -3.2,4.4 -5.1,6c-1.9,1.6 -8.3,5.6 -10.1,7.1c-1.8,1.5 -2.7,4.3 -4,5.1c-1.3,0.8 -4.1,0.7 -6.1,1.6c-2,0.9 -8.2,4.7 -10.1,5.4c-1.9,0.7 -4.2,0.2 -5.1,0c-0.9,-0.2 -0.9,-1.9 -2,-2c-1.1,-0.1 -4.9,0.9 -7.1,1c-2.2,0.1 -8.2,0.4 -10.1,-0.4c-1.9,-0.8 -3.9,-5.1 -5,-6c-1.1,-0.9 -3,-1.5 -4.1,-1.3c-1.1,0.2 -3.9,2.6 -5,2.7c-1.1,0.1 -2.3,-2.2 -4.1,-2c-1.8,0.2 -8,2.7 -10.1,4c-2.2,1.3 -4.9,5.4 -7.1,6.1c-2.2,0.7 -8.8,-0.4 -10.1,-0.4c-1,-0.7 -7.3,-4.5 -8.1,-5.7c-0.8,-1.2 2.6,-3.2 2.1,-4c-0.5,-0.8 -5.1,-1.2 -6.1,-2.1c-1,-0.9 -1.2,-3.9 -2,-5c-0.8,-1.1 -3.7,-3 -4.1,-4.1c-0.4,-1.1 0.2,-3.7 1,-4.4c0.8,-0.8 4.5,-0.4 5.1,-1.6c0.6,-1.2 1.1,-7 0,-8.1c-1.1,-1.1 -6.9,0.3 -9.1,-1c-2.2,-1.3 -6.5,-7.6 -8.1,-9.1c-1.6,-1.5 -3.7,-2.8 -5,-3.1c-1.3,-0.3 -4.3,0.5 -5.1,1c-0.8,0.5 -0.2,1.8 -1,3.1c-0.8,1.3 -3.7,6.1 -5.1,7.1c-1.4,1 -4.1,0.2 -6,1c-1.9,0.8 -7.2,4.1 -9.1,5c-1.9,0.9 -4.2,1.9 -6.1,2c-1.9,0.1 -7.6,-1.3 -9.1,-1c-1.5,0.3 -1.7,3 -3,3.1c-1.3,0.1 -5.1,-2 -7.1,-2.1c-2,-0.1 -7.2,1.3 -9.1,1.1c-1.9,-0.2 -5.2,-1.8 -6.1,-2.7c-0.9,-0.9 0.1,-3.9 -1,-4.8c-1.1,-0.9 -6.8,-1.7 -8.1,-2.7c-1.3,-1 -2.3,-4 -2,-5c0.3,-1 3.5,-1.9 4.1,-3c0.6,-1.1 1.3,-4.4 1,-6.1c-0.3,-1.7 -2.5,-5.9 -3.5,-7.5c-1,-1.6 -3.5,-4 -4.7,-5c-1.2,-1 -4,-2 -5,-3.1c-1,-1.1 -0.7,-5.5 -3,-6c-2.3,-0.5 -12.7,1.5 -15.2,2c-2.5,0.5 -3.8,1.9 -5.1,2c-1.3,0.1 -3.9,-1.8 -5,-1.4c-1.1,0.4 -3.1,4.2 -4.1,4.4c-1,0.2 -2.6,-2.5 -4,-3c-1.4,-0.5 -7,0.9 -7.1,-1c-0.1,-1.9 5.5,-11.9 6.1,-14.2c0.6,-2.3 0.9,-2.5 -1,-4c-1.9,-1.5 -12.5,-5.6 -14.2,-8.1c-1.7,-2.5 1.1,-9.9 1,-12.1c-0.1,-2.1 -0.4,-4.1 -2,-5.1c-1.6,-1 -9,-2.6 -11.1,-3c-2.1,-0.4 -4.9,2 -5.5,0c-0.6,-2 0,-12.4 0.4,-16.2c0.4,-3.8 2.4,-11.6 2.5,-14.1c0.1,-2.5 -1.6,-5.1 -1.4,-6.1c0.2,-1 2.6,-1.8 3,-2Z" fill="#ae1a3c" stroke="#ae1a3c" stroke-width="0.6"/><path d="M1538.6,167.7c0.4,0.1 2.2,1 3.4,0.6c1.2,-0.4 5,-3.6 6.1,-3.6c1.1,0 2.7,2.2 3,3.6c0.3,1.4 -0.9,6.6 -0.6,7.7c0.3,1.1 1.2,2.2 2.7,1.4c1.5,-0.8 6.6,-6 9.1,-7.5c2.5,-1.5 8.7,-3.9 11.1,-4.6c2.4,-0.7 6.5,-1.1 8.1,-1c1.6,0.1 3.9,0.6 5,1.6c1.1,1 2.6,4.9 4.1,6.4c1.5,1.5 6.5,3.8 8.1,5.7c1.6,1.9 3.4,7.6 5,9.5c1.6,1.9 6.4,4 8.1,5.5c1.7,1.5 4.3,5.1 5.1,6.6c0.8,1.5 1.5,3.8 1.4,5.1c-0.1,1.3 -2,3.1 -2.1,5.1c-0.1,2 0.7,8.6 1.3,11.1c0.6,2.5 3.1,7.1 3.4,9.1c0.3,2 -1.4,5.7 -0.6,6.6c0.8,0.9 4.7,-0.3 6.7,0.9c2,1.2 7.9,7 9.1,8.6c1.2,1.6 -0,3.7 0.6,4.1c0.6,0.4 2.2,-2.3 4.4,-1c2.2,1.3 11.1,9.3 13.2,11.7c2.1,2.4 3.1,5.7 3.6,7.5c0.5,1.8 1,5.6 0.4,7.1c-0.6,1.5 -3.3,4.3 -5.1,5c-1.8,0.7 -5.4,-0.3 -9.1,0.4c-3.7,0.7 -17,4 -20.2,5.1c-3.2,1.1 -4.5,2.8 -5,3.6c-0.5,0.8 -0.2,2.4 0.6,3c0.8,0.6 5,0.8 6,2.1c1,1.3 0.9,6 2.1,8.1c1.2,2.1 6.4,7.1 7.5,9.1c1.1,2 1.1,5.2 1,7c-0.1,1.8 -2,5.6 -2.1,7.1c-0.1,1.5 1.5,4.1 1.1,5.1c-0.5,1 -4.6,2.1 -4.7,3c-0.1,0.9 2.5,3.2 3.6,4c1.1,0.8 3.7,2.4 5.1,2.7c1.4,0.3 5.3,-1.3 6.1,-0.6c0.8,0.7 1,4.4 0.6,6c-0.4,1.6 -2.5,5.6 -3.7,7.1c-1.2,1.5 -4.7,4.2 -6,5.1c-1.3,0.9 -5.3,1.6 -4.7,2.4c0.6,0.8 7.2,4.2 9.7,4c2.5,-0.2 7.8,-4.9 10.1,-5.4c2.3,-0.6 5.7,0.4 8.1,1c2.4,0.6 8.5,3.3 11.1,3.6c2.7,0.3 8.5,-1.4 10.1,-1c1.6,0.4 2,3.3 2.5,4.5c0.5,1.2 0.9,4.1 1.6,5c0.7,0.9 2.4,2.1 4,2.4c1.6,0.3 6.6,0.6 9.1,0.2c2.5,-0.4 8.2,-2 11.1,-3c2.9,-1 9.9,-4.7 12.2,-5c2.3,-0.3 4.4,2.3 6,2.4c1.6,0.1 5.8,-2.2 7.1,-2c1.3,0.2 2.7,1.9 3.5,4c0.8,2.1 1.9,10.3 2.6,13.1c0.7,2.8 2.1,7.4 3,9.1c0.9,1.6 2,3.8 4.1,4.1c2.1,0.3 11.1,-1.4 12.7,-1.6c1.6,-0.2 -0.7,-0.5 0.2,-0.2c0.9,0.3 6.2,1.8 7.1,2.6c0.9,0.8 0.9,3.1 0,4.1c-0.9,1 -6.6,2.4 -7.5,4c-0.9,1.6 -0.4,7 0.4,8.5c0.8,1.5 5.3,2.2 6.1,3.7c0.8,1.5 -0.5,6.1 0,8c0.5,1.9 3.8,5.3 4.4,7.1c0.6,1.8 -0.2,5.7 0.6,7.1c0.8,1.4 5.1,2.9 6.1,4.4c1,1.5 1.4,6 1.6,7.7c0.2,1.7 -0.5,4.9 -0.2,6.1c0.3,1.2 3.5,2.3 2.6,3.4c-0.9,1.1 -8.8,4 -10.1,5.1c-1.3,1.1 -1.2,0.4 -0.6,3.6c0.6,3.2 4.6,19 5.7,22.3c1.1,3.3 1.5,3.2 3,4c1.5,0.8 7.5,1.6 9.1,2.6c1.6,1 3.1,3.7 3.7,5.5c0.6,1.8 0.6,7.4 1.4,9.1c0.8,1.7 3.5,3.8 5,4.6c1.5,0.8 6,1.3 7.1,1.5c1.1,0.2 1.8,0 2,0c-0.1,0.4 0.4,2.7 -1,3c-1.4,0.3 -7.5,-0.5 -10.1,-0.4c-2.7,0.1 -9.7,0.8 -11.1,1.4c-1.4,0.6 1.4,3.8 0,3.4c-1.4,-0.4 -9.4,-6.6 -11.1,-6.4c-1.7,0.2 -1,7.4 -2.1,8.1c-1.1,0.8 -5.6,-2.4 -7,-2.1c-1.4,0.2 -3,3.3 -4.1,4.1c-1.1,0.8 -4.2,1 -5,2c-0.8,1 -0.1,5.2 -1,6.1c-0.9,0.9 -4.6,1.1 -6.1,1c-1.5,-0.1 -5,-1.9 -6.1,-2c-1.1,-0.1 -1.8,0.5 -3,1c-1.2,0.5 -5.4,2 -6.7,2.9c-1.3,0.9 -3,3.2 -4,4.1c-1,0.9 -3.2,2.9 -4.1,3c-0.9,0.1 -2.4,-2.4 -3,-2c-0.6,0.4 -1.3,4.1 -2,5c-0.7,0.9 -3.1,2.1 -3.5,2.4c-1.5,-0.3 -9,-2.6 -11.7,-2.4c-2.7,0.2 -8.3,3.4 -10.1,3.7c-1.8,0.2 -3.2,-2.2 -4,-1.7c-0.8,0.5 -0.8,5.4 -2.1,6.1c-1.3,0.7 -5.7,-0.1 -8,-0.4c-2.3,-0.2 -8.1,-1.8 -10.1,-1.6c-2,0.2 -5.1,3.8 -6.1,3c-1,-0.8 -2.5,-7.7 -2,-9.1c0.5,-1.4 4.9,-1.4 5.6,-2.4c0.8,-1 1,-4.5 0.4,-5.7c-0.6,-1.2 -3.9,-2.4 -5,-4c-1.1,-1.6 -2.7,-7.5 -4.1,-8.5c-1.4,-1 -6,1.4 -7,0.4c-1,-1 -1.2,-6.3 -1.1,-8.1c0.1,-1.8 3.1,-4 2.1,-6c-1,-2 -8.3,-8.2 -10.1,-10.2c-1.8,-2 -3.5,-3.4 -4.1,-6c-0.6,-2.6 -0.2,-13.1 -1,-15.2c-0.8,-2.1 -3.3,-2.2 -5.1,-2c-1.8,0.2 -7.7,3.1 -9.1,4c-1.4,0.9 -1.1,2.9 -2,3.5c-0.9,0.6 -4.1,0.5 -5,1.2c-0.9,0.7 -0.3,4.6 -2,4.4c-1.7,-0.2 -8.9,-4.5 -11.2,-6c-2.3,-1.5 -5,-5.3 -7,-5.7c-2,-0.4 -7.8,1.8 -9.1,2.6c-1.4,0.8 -2.1,2.7 -1.7,3.5c0.4,0.8 5,2.6 4.7,3.2c-0.3,0.6 -5.3,0.9 -7.1,1.4c-1.8,0.5 -4.6,3 -7.1,2.7c-2.5,-0.3 -7.4,-3.8 -13.1,-5.3c-5.7,-1.5 -27.5,-5.6 -32.4,-6.9c-4.9,-1.3 -5.5,-2.9 -7,-3.2c-1.5,-0.3 -4.1,0 -5.1,0.6c-1,0.6 -1,3.6 -3,4c-2,0.4 -11.2,-0.7 -13.2,-1c-2,-0.3 -2.6,-1.4 -3,-1.6c0.2,-0.9 1.5,-5.7 2,-7.5c0.5,-1.8 1.8,-5.3 2,-7.1c0.2,-1.8 -0.3,-5.7 0,-7c0.3,-1.3 2.3,-2 2.7,-3.1c0.4,-1.1 -0,-5 0.4,-6c0.4,-1 2.4,-1.1 3,-2c0.6,-0.9 2.2,-4.1 2,-5.1c-0.2,-1 -3.2,-1.9 -4,-3c-0.8,-1.1 -2.1,-4.5 -2.2,-6.1c-0.1,-1.6 0.9,-4.9 1.4,-6.8c0.5,-1.9 1.8,-6.4 2.6,-8.1c0.8,-1.6 3.5,-3.3 4,-5.1c0.5,-1.8 0.5,-7.6 0,-9.1c-0.5,-1.5 -3.9,-2 -4,-3c-0.1,-1 2.2,-3.6 3,-5.1c0.8,-1.5 3.7,-5.9 3.7,-7c0,-1.1 -2.7,-2.1 -3.7,-1.5c-1,0.6 -2.6,5.9 -4,6.5c-1.4,0.6 -5.6,-0.8 -7.1,-1.4c-1.5,-0.6 -4.8,-2.6 -5,-3.6c-0.2,-1 3.1,-3.6 3,-4.1c-0.1,-0.5 -2.2,0.5 -4.1,0c-1.8,-0.5 -9.8,-2.7 -10.7,-4c-1,-1.3 2.8,-4.2 3.1,-6.1c0.3,-1.9 -1.2,-7.3 -0.4,-8.7c0.8,-1.4 5.9,-1.2 7,-2.4c1.1,-1.2 1,-6 1.7,-7.1c0.7,-1.1 3.4,-1 4,-2c0.6,-1 1,-4.9 0.8,-6.1c-0.2,-1.2 -2.5,-2.2 -2.8,-3.4c-0.3,-1.2 0.9,-5.1 0.4,-6.1c-0.5,-1 -3.3,-0.5 -4.1,-1.6c-0.8,-1.1 -2.7,-6 -2.6,-7.1c0.1,-1.1 2.9,-2.3 3.6,-2c0.7,0.3 1.5,3.4 2.1,4.1c0.6,0.7 2,1.4 3,1.4c1,0 4.2,-0.2 5.1,-1.4c0.9,-1.2 2.1,-6.3 2,-8.1c-0.1,-1.8 -3,-4.8 -3.1,-6.1c-0.1,-1.3 2.4,-2.7 2.5,-4c0.1,-1.3 -2,-5.6 -1.4,-6.1c0.6,-0.5 4.9,2.1 6,2c1.1,-0.1 2.7,-1.7 2.6,-3c-0.1,-1.3 -3.5,-5.7 -3.6,-7.1c-0.1,-1.4 2.9,-3.4 3,-4c0.1,-0.6 -1.6,0.2 -2,-1.1c-0.4,-1.3 -0.5,-7.5 -1,-9.1c-0.5,-1.6 -3,-2.2 -3,-3.4c0,-1.2 3.4,-4.7 3,-6.1c-0.4,-1.4 -5,-4 -6.1,-5.2c-1.1,-1.2 -2.3,-2.8 -3,-4.5c-0.7,-1.7 -2.4,-7.2 -2.4,-9.1c0,-1.9 1.6,-4.9 2.4,-6c0.8,-1.1 3.3,-2.1 4.1,-3.1c0.8,-1 1.8,-4.1 2.6,-5c0.8,-0.9 3.1,-1.3 3.4,-2c0.3,-0.7 -1.8,-3.1 -1,-3.5c0.8,-0.4 5.3,0.9 7.1,0.4c1.8,-0.5 5,-3.7 7.1,-4.6c2.2,-0.9 8.6,-1.7 10.1,-2.4c1.5,-0.7 1.5,-2.1 1.6,-3.1c0,-1 -1,-3.1 -1.2,-5c-0.2,-1.9 -0.3,-8.6 0,-10.1c0.3,-1.5 1.8,-2.2 2.6,-2.1c0.8,0.1 2.7,2.6 4,2.7c1.3,0.1 5.2,-1.2 6.1,-2.1c0.9,-0.9 1.4,-4.5 1,-5.2c-0.4,-0.7 -2.4,0.9 -4,-0.4c-1.6,-1.3 -7.2,-8.2 -9.1,-9.7c-1.9,-1.5 -5.3,-0.8 -6.1,-2.4c-0.8,-1.6 -1,-8.3 -0.6,-10.2c0.4,-1.9 3.4,-3.7 4.1,-5c0.7,-1.3 1.1,-3.8 1.6,-5.1c0.5,-1.3 1.5,-3.4 2,-5c0.5,-1.6 1.4,-6.7 1.6,-7.7Z" fill="#ae1a3c" stroke="#ae1a3c" stroke-width="0.6"/><path d="M1390.6,519.5c1.3,0 8,1.1 10.1,0.4c2.2,-0.7 4.9,-4.8 7.1,-6.1c2.2,-1.3 8.3,-3.7 10.1,-4c1.8,-0.2 3,2.1 4.1,2c1.1,-0.1 3.9,-2.5 5,-2.7c1.1,-0.2 3,0.4 4.1,1.3c1.1,0.9 3.1,5.2 5,6c1.9,0.8 8,0.5 10.1,0.4c2.2,-0.1 6,-1.1 7.1,-1c1.1,0.1 1.1,1.8 2,2c0.9,0.2 3.2,0.7 5.1,0c1.9,-0.7 8.1,-4.5 10.1,-5.4c2,-0.9 4.8,-0.8 6.1,-1.6c1.3,-0.8 2.2,-3.6 4,-5.1c1.8,-1.5 8.2,-5.5 10.1,-7.1c1.9,-1.6 4,-4.5 5.1,-6c1.1,-1.5 3.5,-5 4,-5.7c0.4,0.2 1,1.3 3,1.6c2,0.3 11.2,1.4 13.2,1c2,-0.4 2,-3.4 3,-4c1,-0.6 3.6,-0.9 5.1,-0.6c1.5,0.3 2.1,1.9 7,3.2c4.9,1.3 26.7,5.4 32.4,6.9c5.7,1.5 10.6,5 13.1,5.3c2.5,0.3 5.3,-2.2 7.1,-2.7c1.8,-0.5 6.8,-0.8 7.1,-1.4c0.3,-0.6 -4.3,-2.4 -4.7,-3.2c-0.4,-0.8 0.3,-2.7 1.7,-3.5c1.4,-0.8 7.1,-3 9.1,-2.6c2,0.4 4.7,4.2 7,5.7c2.3,1.5 9.5,5.8 11.2,6c1.7,0.2 1.1,-3.7 2,-4.4c0.9,-0.7 4.1,-0.6 5,-1.2c0.9,-0.6 0.6,-2.6 2,-3.5c1.4,-0.9 7.3,-3.8 9.1,-4c1.8,-0.2 4.3,-0.1 5.1,2c0.8,2.1 0.4,12.6 1,15.2c0.6,2.6 2.3,4 4.1,6c1.8,2 9.1,8.2 10.1,10.2c1,2 -2,4.2 -2.1,6c-0.1,1.8 0.1,7.1 1.1,8.1c1,1 5.6,-1.4 7,-0.4c1.4,1 3,6.9 4.1,8.5c1.1,1.6 4.4,2.8 5,4c0.6,1.2 0.4,4.7 -0.4,5.7c-0.8,1 -5.2,1 -5.6,2.4c-0.5,1.4 1,8.3 2,9.1c1,0.8 4.1,-2.8 6.1,-3c2,-0.2 7.8,1.4 10.1,1.6c2.3,0.2 6.7,1.1 8,0.4c1.3,-0.7 1.3,-5.5 2.1,-6.1c0.8,-0.5 2.2,1.9 4,1.7c1.8,-0.2 7.4,-3.5 10.1,-3.7c2.7,-0.2 10.2,2.1 11.7,2.4c0.1,1.5 1.3,9.4 0.9,11.8c-0.5,2.4 -3.3,5.6 -4.5,7.1c-1.2,1.5 -4.5,3 -5,5c-0.5,2 0.2,9 1,11.1c0.8,2.1 3.5,4.8 5,6.1c1.5,1.3 5.6,3.5 7.1,4c1.5,0.5 3.8,-0.5 5.1,0c1.3,0.5 3.3,3.1 5,4.1c1.7,1 7.2,3.8 8.7,4c1.5,0.2 2.1,-2.6 3.1,-2.5c1,0.1 4.3,1.8 5.1,3.6c0.8,1.8 0.9,8.3 1.4,10.5c0.5,2.2 1.8,5.8 2.6,7.1c0.8,1.3 3.5,2.1 4.1,3c0.6,0.9 0,3.1 1,4.1c1,1 5.5,3.4 7,4c1.5,0.6 4.3,1.3 5.1,1c0.8,-0.3 0.1,-3.1 1,-3.4c0.9,-0.3 5.2,0.2 6.1,0.8c0.9,0.6 1.1,2.9 1,3.7c-0.1,0.8 -2.6,0.9 -2,3c0.6,2.1 6.2,12.1 7,14.1c0.8,2 0.3,1.7 -1,2.1c-1.3,0.4 -9.1,0.4 -9.1,1.4c0,1 8.1,5.4 9.1,6.6c1,1.2 -0.4,2.5 -1,3.1c-0.6,0.6 -2.1,1.8 -4,2c-1.9,0.2 -9.4,-0.8 -11.1,-0.4c-1.7,0.4 -2.4,2.3 -2.5,3.4c-0.1,1.1 1.3,4.3 2,5.1c0.7,0.8 3,0.7 3.5,1.6c0.5,0.9 1.5,3.5 0.6,5.5c-0.9,2 -6.1,8.3 -7.7,10.1c-1.6,1.8 -3.6,3.1 -5,4c-1.4,0.9 -4.4,3 -6.1,3.5c-1.7,0.5 -5.2,0.7 -7.1,0.6c-1.9,-0.1 -6.6,-0.9 -8.1,-1.5c-1.5,-0.6 -2.8,-3.3 -3.6,-3.6c-0.8,-0.3 -1.7,0.5 -2.4,1c-0.7,0.5 -2.2,2.2 -3.1,3.1c-0.9,0.9 -3.4,2.9 -4,4c-0.6,1.1 -1.4,3.6 -1,5.1c0.4,1.5 3.4,5.2 4,7c0.6,1.8 0.9,6.2 1,7.1c-1,-0.4 -6.6,-3.2 -8.1,-3c-1.5,0.2 -3,4.3 -4,5c-1,0.7 -3.4,1.1 -4,0.6c-0.6,-0.5 -0.5,-4 -1.1,-4.6c-0.6,-0.6 -2.7,-0.9 -4,-0.6c-1.3,0.2 -4.8,1.8 -6.1,2.6c-1.3,0.8 -1.7,3.1 -4,4c-2.3,0.9 -9.6,2 -14.2,3.5c-4.5,1.5 -19.2,6.9 -22.2,8.7c-3,1.8 -1,4 -1.7,5.5c-0.7,1.5 -2.7,4.7 -4,6.1c-1.3,1.4 -5,3.6 -6.1,5c-1.1,1.4 -2.3,4.6 -3,6.1c-0.7,1.5 -2.2,4.8 -2.5,6.1c-0.3,1.3 -0.2,2.9 0.4,4c0.6,1.1 3.5,4 4.1,5.1c0.6,1.1 1.2,2.7 0.6,4c-0.6,1.3 -5.4,4.9 -5.7,6.1c-0.3,1.2 3,2.8 3.1,3.6c0.1,0.8 -1.2,1.7 -2.1,2.5c-0.9,0.8 -3.5,4.1 -5,4c-1.5,-0.1 -5.3,-4.1 -7.1,-5.1c-1.8,-1 -5.2,-1.9 -7.1,-2.6c-1.9,-0.7 -6.1,-1.9 -8.1,-2.8c-2,-0.9 -6.2,-3.5 -8,-4.7c-1.8,-1.2 -5.3,-4 -6.1,-4.6c-0.4,-0.7 -1.5,-4.5 -3,-5.5c-1.5,-1 -7.3,-1.9 -9.1,-2.6c-1.8,-0.7 -3.3,-2.8 -5.1,-2.8c-1.8,0 -8,1.7 -9.5,2.8c-1.5,1.1 -2.2,5.6 -2.6,5.7c-0.5,0.1 -0.2,-4.2 -1,-5.1c-0.8,-0.9 -3.8,-1.6 -5.1,-2c-1.3,-0.4 -3.9,-1.6 -5,-1.4c-1.1,0.2 -2.6,2.9 -4.1,2.8c-1.5,-0.1 -6.2,-2.4 -8.1,-3.4c-1.9,-1 -5.7,-4.3 -7.1,-4.7c-1.4,-0.4 -2.6,2.4 -4,1.6c-1.4,-0.8 -6.1,-6.3 -7.1,-8.1c-1,-1.8 -1.2,-5.1 -1,-6c0.2,-0.9 2.5,-0.5 3,-1c0.5,-0.5 2.1,-2.2 1.1,-3.1c-1,-0.9 -6.8,-3.2 -9.1,-4c-2.3,-0.8 -7.1,-0.5 -9.1,-2c-2,-1.5 -4.9,-7.9 -7.1,-10.1c-2.2,-2.1 -7.1,-5.3 -10.1,-7.1c-3,-1.8 -10.5,-5.3 -14.2,-7.1c-3.7,-1.8 -13.2,-6.6 -15.1,-7.5c0.1,-1.6 1.2,-9.4 0.6,-12.7c-0.6,-3.4 -3.9,-10.9 -5.7,-14.1c-1.8,-3.2 -7.9,-9.2 -8.5,-11.6c-0.6,-2.4 2.3,-6.1 3.4,-7.7c1.1,-1.6 4.3,-3.6 5.1,-5c0.8,-1.4 1.5,-4.6 1,-6.1c-0.5,-1.5 -4.1,-4 -5,-6c-0.9,-2 -0.1,-8.1 -2.1,-10.1c-2,-2 -12.1,-4 -14.1,-6.1c-2,-2.1 -0.6,-9.2 -2,-11.1c-1.4,-1.9 -7.5,-3.5 -9.1,-4.1c-1.7,-0.6 -3,-0.1 -4.1,-1c-1.1,-0.9 -3.9,-4.2 -5,-6.1c-1.1,-1.9 -4.2,-7.3 -4.1,-9.1c0.1,-1.8 4.5,-3.1 5.1,-5c0.6,-1.9 0.6,-8 0,-10.1c-0.6,-2.1 -3.7,-5.3 -5.1,-7.1c-1.4,-1.8 -4.4,-5.8 -6,-7.1c-1.6,-1.3 -5.8,-1.6 -7.1,-3c-1.3,-1.4 -3.3,-6.6 -3.1,-8.1c0.2,-1.5 4.6,-3 5.1,-4c0.5,-1 -0.1,-3.7 -1,-4.1c-0.9,-0.4 -4.2,1.5 -6.1,1c-1.9,-0.5 -7,-3.1 -9.1,-5c-2.1,-1.9 -6.6,-8.8 -7.5,-10.1c0.2,-0.6 0.9,-3.6 1.5,-5.1c0.6,-1.5 2.2,-5.3 3,-7.1c0.8,-1.8 2.6,-6.5 3,-7.4Z" fill="#ae1a3c" stroke="#ae1a3c" stroke-width="0.6"/><path d="M1807.7,521c0.4,-0.8 2.1,-5.1 3.1,-6.1c1,-1 3.6,-1 5,-2c1.4,-1 3.7,-5.1 6.1,-6.1c2.4,-1 8.8,-1.7 13.1,-1.6c4.3,0.1 18.2,1.4 21.3,2c3.1,0.6 2.9,2 3.4,2.6c0.5,0.6 0.1,2 0.6,2.5c0.5,0.5 1.5,-1.1 3.4,1.2c1.9,2.4 9.8,15.1 11.8,17.6c2,2.5 2.9,2 4,2c1.1,0 3.8,-1.2 5.1,-2c1.3,-0.8 3.7,-3.8 5,-4.1c1.3,-0.3 3.8,1.4 5.1,2c1.3,0.6 3.5,2.1 5,2.7c1.5,0.6 6.3,1.1 7.1,2.4c0.8,1.3 -1.4,6.7 -1,8.1c0.4,1.4 2.7,2.6 4,3c1.3,0.4 5,0.4 6.1,0c1.1,-0.4 2.2,-1.9 3,-3c0.8,-1.1 0.2,-3.8 3.1,-6.1c2.9,-2.3 16.7,-10.3 20.2,-12.1c3.5,-1.8 5.9,-2.2 8.1,-2.6c2.2,-0.4 7,-1 9.1,-0.9c2.2,0.1 5.1,1.9 8.1,1.5c3,-0.4 12.7,-2.7 16.1,-4.5c3.4,-1.8 7.9,-8.2 11.2,-9.7c3.3,-1.5 12.8,-2.4 15.1,-2.4c2.3,0 2.1,0.6 3,2.4c0.9,1.8 3,10.2 4.1,12.1c1.1,1.9 3.7,2.5 5,3.1c1.3,0.6 3.9,1.1 5.1,2c1.2,0.9 3.9,3.6 4.4,5.1c0.5,1.5 0.2,5.1 0,7c-0.2,1.9 -2.3,6.4 -1.8,8.1c0.5,1.7 3.4,2.7 5.5,5.5c2.1,2.8 8.9,14.2 11.1,16.8c2.1,2.5 4.2,2.6 6.1,3.6c1.9,1 6.8,2.8 9.1,4.4c2.3,1.6 7.2,5.8 9.1,8.1c1.9,2.3 4.9,8.2 6,10.1c1.1,1.9 2.5,4.3 2.8,4.9c0.4,0.6 1.8,3.4 2.9,4.7c1.1,1.3 5.9,4.5 5.5,5.6c-0.4,1.1 -7.2,2.3 -8.5,3c-1.3,0.7 -2.6,2 -2,2.9c0.6,0.9 6.1,3.5 6.4,4.6c0.2,1.1 -3.6,3.2 -4.4,4.1c-0.8,0.9 -1.1,2.5 -2,3c-0.9,0.5 -4.3,0.4 -5.1,1c-0.8,0.6 -2,3.4 -1.4,4.1c0.6,0.7 5.6,0.3 6.5,1.4c0.9,1.1 1.1,6 1,7.7c-0.1,1.7 -1.2,4.6 -2,6c-0.8,1.4 -3.8,3.7 -4.1,5.1c-0.3,1.4 2,4.9 2,6c0,1.1 -2.1,2.1 -2,3.1c0.1,1 2.7,3.9 2.4,5c-0.2,1.1 -3.6,2.7 -4.4,4.1c-0.8,1.4 -1.1,5.7 -2,7c-0.9,1.3 -4.3,2.2 -5.1,3.1c-0.8,0.9 -1.7,2.9 -1.4,4c0.2,1.1 3.1,3 3.4,5.1c0.3,2.1 -1.6,10.1 -1,12.1c0.6,2 5.7,2.3 6.1,3.6c0.4,1.3 -1.8,4.9 -3,6.5c-1.2,1.6 -5.9,5.7 -6.7,6.5c-0.2,0.3 -0.9,2.1 -2,2.6c-1.1,0.5 -3.7,1.2 -6.5,1c-2.8,-0.2 -12.8,-2.7 -16.2,-3c-3.4,-0.3 -9.3,-0.5 -11.1,0.4c-1.8,0.9 -3.6,5.6 -3,6.7c0.6,1.1 6.8,1.5 8.1,2c1.3,0.5 2.6,1.6 2.6,2.4c0,0.8 -1.1,2.6 -2.6,3.7c-1.5,1.1 -5.9,3.1 -9.1,5c-3.2,1.9 -13.8,7.9 -16.2,10.1c-2.4,2.1 -2.1,6 -3.1,7.1c-1,1.1 -4.2,1.1 -5,2c-0.8,0.9 -1.2,3.7 -1,5.1c0.2,1.4 2.5,4.9 2.6,6c0.1,1.1 -0.6,2.6 -1.6,3.1c-1,0.5 -4.8,0.4 -6.1,1c-1.3,0.6 -3.2,3.1 -4,4c-0.8,0.9 -1.4,2.9 -2,3.5c-0.6,0.6 -2.1,0.8 -2.5,1.6c-0.4,0.8 -0,4.2 -0.6,5c-0.6,0.8 -2.7,1.2 -4,1c-1.3,-0.2 -5,-2.7 -6.1,-2.4c-1.1,0.3 -2,3.8 -3,4.5c-1,0.7 -3.8,0.5 -4.6,1c-0.8,0.5 -2.1,2.2 -2,3c0.1,0.8 2.8,2.2 3,3c0.2,0.8 0,3.2 -1,3.1c-1,-0.1 -5.2,-3.2 -7.1,-4.1c-1.9,-0.9 -6.1,-3.2 -8.1,-3c-2,0.2 -6.5,4.1 -8.1,4.7c-1.6,0.6 -3.4,0.7 -5,0.4c-1.6,-0.3 -6.8,-2.5 -8.1,-2.5c-1.3,0 -2.3,0.7 -2.4,2.5c-0.1,1.8 1,8.8 1.4,12.1c0.4,3.3 1.8,12.3 2,14.1c-0.8,0 -4.7,-0.4 -6.1,0c-1.4,0.4 -3.7,2.7 -5,3.1c-1.3,0.4 -3.6,0.6 -5.1,0c-1.5,-0.6 -5.5,-4.2 -7,-5.1c-1.5,-0.9 -3,-3.8 -5.1,-2.4c-2.2,1.4 -10.6,11.4 -12.1,13.5c-1.5,2.1 0.2,2.7 0,3.5c-0.2,0.8 -1.2,2.5 -2,2.6c-0.8,0.1 -3.2,-2.1 -4.1,-2c-0.9,0.1 -2.2,2.8 -3,3c-0.8,0.2 -3.2,-0.1 -3.1,-1c0.1,-0.9 4.2,-4.5 4.1,-6.1c-0.1,-1.6 -4.7,-5.4 -5.1,-7c-0.4,-1.6 4.1,-3 2.1,-5.7c-2,-2.7 -16.2,-12.9 -17.8,-15.6c-1.6,-2.7 4.9,-4.2 4.6,-6c-0.3,-1.8 -5,-6.2 -7.1,-8.1c-2.2,-1.9 -8,-6.1 -10.1,-7.1c-2.1,-1 -7,0.1 -7,-1c0,-1.1 6.6,-6.2 7,-8.1c0.4,-1.9 -2.7,-5.5 -4,-7.1c-1.3,-1.6 -4.5,-5.5 -6.1,-6c-1.7,-0.5 -4.9,1.4 -7.1,2.4c-2.2,1 -7.4,4.9 -10.1,5.2c-2.7,0.3 -8.7,-2 -11.1,-2.6c-2.4,-0.6 -6.6,-1.5 -8.1,-2c-1.5,-0.5 -1.5,-1.6 -4,-2c-2.5,-0.4 -13.5,-0.2 -16.2,-1c-2.7,-0.8 -3.7,-4.1 -5,-5.1c-1.3,-1 -2.9,-1.2 -5.1,-3c-2.2,-1.8 -9.6,-8.7 -12.1,-11.1c-2.5,-2.4 -6.1,-6.6 -8.1,-8.1c-2,-1.5 -5.7,-3.5 -8.1,-4.1c-2.4,-0.6 -9.2,-0.8 -11.1,-1c-1.9,-0.2 -3.6,-0.9 -4.1,-1c-0.1,-0.9 -0.4,-5.3 -1,-7.1c-0.6,-1.8 -3.6,-5.5 -4,-7c-0.4,-1.5 0.4,-4 1,-5.1c0.6,-1.1 3.1,-3.1 4,-4c0.9,-0.9 2.4,-2.6 3.1,-3.1c0.7,-0.5 1.7,-1.3 2.4,-1c0.8,0.3 2.1,3 3.6,3.6c1.5,0.6 6.2,1.4 8.1,1.5c1.9,0.1 5.5,-0.1 7.1,-0.6c1.7,-0.5 4.7,-2.6 6.1,-3.5c1.4,-0.9 3.4,-2.2 5,-4c1.6,-1.8 6.8,-8.1 7.7,-10.1c0.9,-2 -0.1,-4.6 -0.6,-5.5c-0.5,-0.9 -2.8,-0.8 -3.5,-1.6c-0.7,-0.8 -2.1,-4 -2,-5.1c0.1,-1.1 0.8,-3 2.5,-3.4c1.7,-0.4 9.2,0.6 11.1,0.4c1.9,-0.2 3.4,-1.4 4,-2c0.6,-0.6 2,-1.9 1,-3.1c-1,-1.2 -9.1,-5.6 -9.1,-6.6c0,-1 7.8,-1 9.1,-1.4c1.3,-0.4 1.8,-0.1 1,-2.1c-0.8,-2 -6.4,-12 -7,-14.1c-0.6,-2.1 1.9,-2.2 2,-3c0.1,-0.8 -0.1,-3.1 -1,-3.7c-0.9,-0.6 -5.2,-1.1 -6.1,-0.8c-0.9,0.3 -0.2,3.1 -1,3.4c-0.8,0.3 -3.6,-0.4 -5.1,-1c-1.5,-0.6 -6,-3 -7,-4c-1,-1 -0.4,-3.2 -1,-4.1c-0.6,-0.9 -3.3,-1.7 -4.1,-3c-0.8,-1.3 -2.1,-4.9 -2.6,-7.1c-0.5,-2.2 -0.6,-8.7 -1.4,-10.5c-0.8,-1.8 -4.1,-3.5 -5.1,-3.6c-1,-0.1 -1.6,2.7 -3.1,2.5c-1.5,-0.2 -7,-3 -8.7,-4c-1.7,-1 -3.7,-3.6 -5,-4.1c-1.3,-0.5 -3.6,0.5 -5.1,0c-1.5,-0.5 -5.6,-2.7 -7.1,-4c-1.5,-1.3 -4.2,-4 -5,-6.1c-0.8,-2.1 -1.5,-9.1 -1,-11.1c0.5,-2 3.8,-3.5 5,-5c1.2,-1.5 4,-4.7 4.5,-7.1c0.5,-2.4 -0.8,-10.3 -0.9,-11.8c0.4,-0.3 2.8,-1.5 3.5,-2.4c0.7,-0.9 1.4,-4.6 2,-5c0.6,-0.4 2.1,2.1 3,2c0.9,-0.1 3.1,-2.1 4.1,-3c1,-0.9 2.7,-3.2 4,-4.1c1.3,-0.9 5.5,-2.4 6.7,-2.9c1.2,-0.5 1.9,-1.1 3,-1c1.1,0.1 4.6,1.9 6.1,2c1.5,0.1 5.2,-0.1 6.1,-1c0.9,-0.9 0.2,-5.1 1,-6.1c0.8,-1 3.9,-1.2 5,-2c1.1,-0.8 2.7,-3.9 4.1,-4.1c1.4,-0.2 5.9,2.9 7,2.1c1.1,-0.8 0.5,-7.9 2.1,-8.1c1.7,-0.2 9.7,6 11.1,6.4c1.4,0.4 -1.4,-2.8 0,-3.4c1.4,-0.6 8.4,-1.3 11.1,-1.4c2.7,-0.1 8.7,0.7 10.1,0.4c1.4,-0.3 0.9,-2.6 1,-3Z" fill="#ae1a3c" stroke="#ae1a3c" stroke-width="0.6"/><path d="M2079.4,598.6c0.5,-0.4 3.1,-2.8 4.3,-3.4c1.2,-0.6 4,-1.5 5.1,-1.5c1.1,0 2.3,1.8 3.4,1.5c1.1,-0.2 4.9,-1.7 5.7,-3.5c0.8,-1.8 0.4,-8.7 0.4,-11.1c0,-2.4 -0.6,-6.8 -0.4,-8.1c0.2,-1.3 0.7,-2.4 2,-2.6c1.3,-0.2 6.4,0.6 8.1,0.6c1.7,0 4.6,-0.8 5.6,-0.4c1,0.4 1.8,1.8 2.5,3.4c0.7,1.6 2.2,7.6 3,9.1c0.8,1.5 1.9,2.6 3,3.1c1.1,0.5 4.3,0.4 6.1,1c1.8,0.6 6,3.7 8.1,4c2.2,0.3 7.1,-1.5 9.1,-1.6c2,-0.1 5.7,1.4 7.1,1.2c1.4,-0.2 3.3,-3.4 4,-2.6c0.7,0.8 0.3,6.9 1.6,8.7c1.3,1.8 6.1,4.3 8.5,5.4c2.4,1.1 9.1,2.2 11.1,3.1c2,0.9 3.8,2.7 5.1,4c1.3,1.3 2.7,5.8 5,6.5c2.3,0.7 10.7,0.4 13.2,-0.8c2.5,-1.2 5.5,-7.4 7.1,-8.7c1.6,-1.4 4.8,-2.2 6,-2.1c1.2,0.1 2.2,0.6 3.5,3.1c1.3,2.5 5.3,14.6 6.6,17.2c1.3,2.6 2.8,3.3 4.1,4c1.3,0.7 4.5,1.4 6,1.4c1.5,0 4.1,-0.9 5.7,-1.4c1.6,-0.5 5.4,-2.7 7.1,-2.6c1.7,0.1 4.3,2.8 6.1,3.4c1.8,0.6 6.7,0.2 8.1,1.2c1.4,1 2.2,4.5 3,6.5c0.8,2 2.1,7.3 3,9.1c0.9,1.8 2.3,4 4.1,5.1c1.8,1.1 7.8,2.6 10.1,4c2.3,1.4 6.3,6.3 8.1,7.1c1.8,0.8 4.4,0.1 6,-0.4c1.6,-0.5 5.3,-2.4 7.1,-3.7c1.8,-1.3 5.3,-6.1 7.1,-7c1.8,-0.9 4.9,-0.7 7.1,-0.4c2.2,0.3 8.7,2.2 10.1,3c1.4,0.8 1.5,2.5 1.4,3.4c-0.1,0.9 -1.3,3.1 -2.4,4.1c-1.1,1 -5,2.6 -6.1,4c-1.1,1.4 -2.4,5.1 -2.4,7.1c0,2 1.3,6.8 2.4,9.1c1.1,2.3 4.6,7.1 6.1,9.1c1.5,2 4.8,5.7 5.6,7.1c0.8,1.4 0.6,2.5 0.4,4c-0.2,1.5 -1.7,6.3 -2,8.1c-0.3,1.8 0.2,5 -0.4,6.1c-0.6,1.1 -3.4,1.5 -4.7,3c-1.3,1.5 -4.5,7.3 -6,9.1c-1.5,1.8 -4.6,3.7 -6.1,5c-1.5,1.3 -5,3.7 -6.1,5.1c-1.1,1.4 -2.6,4.7 -3,6.1c-0.4,1.4 -0.1,4.1 -0.6,5c-0.5,0.9 -2,1.8 -3.4,2c-1.4,0.2 -5.9,-0.3 -8.1,0c-2.2,0.3 -7.2,2.4 -9.1,2.7c-1.9,0.3 -5.1,-0.5 -6.1,0c-1,0.5 -1.8,3.2 -2,4.4c-0.2,1.2 -0.5,3.7 0.4,5.1c0.9,1.4 5.5,4.5 6.7,6c1.2,1.5 1.7,5 3,6.1c1.3,1.1 4.9,2.1 7.1,2.6c2.2,0.5 8.2,0.8 10.1,1.5c1.9,0.7 3.6,4.1 5,4c1.4,-0.1 4.8,-4.5 6.1,-5.1c1.3,-0.6 3.3,-0.4 4.1,0c0.8,0.4 2.3,2.1 2.4,3.1c0.1,1 -1.1,3.7 -1.8,5c-0.7,1.3 -2.7,4 -3.7,5.1c-1,1.1 -2.7,3.4 -4,4c-1.3,0.6 -4.2,1 -6.1,0.6c-1.9,-0.4 -7.3,-3.4 -9.1,-4c-1.8,-0.6 -3.7,-1 -5,-0.6c-1.3,0.4 -4.1,2.9 -5.1,4c-1,1.1 -2.2,4.2 -3,5.1c-0.8,0.9 -1.6,-1.8 -3.1,2c-1.5,3.8 -8.6,24.9 -8.7,28.3c-0.1,3.4 5.2,-1 7.7,-1c2.5,0 10,0.8 12.2,1.4c2.2,0.6 4.1,2.5 5,3.7c0.9,1.2 1.6,4.6 2,6c0.4,1.4 1.2,4.1 1,5.1c-0.2,1 -3.3,1.1 -3,2.6c0.3,1.5 4,7 5.1,9.5c1.1,2.5 4.8,7.4 4,10.1c-0.8,2.8 -9.6,9.8 -10.1,11.9c-0.5,2.1 3.9,4.3 5.7,4.7c1.8,0.4 7.6,-1.7 9.1,-1.4c1.5,0.3 2.8,2.9 3,4c0.2,1.1 0.3,3.4 -1,5c-1.3,1.6 -7.3,5.8 -9.1,8.1c-1.8,2.3 -4.3,7.7 -5.4,10.1c-1.1,2.4 -3.2,7 -3.3,9.1c-0.1,2.1 3.1,6.4 2.3,7.7c-0.8,1.3 -7.5,1.8 -8.7,2.5c-1.2,0.7 -1.3,1.7 -1,3c0.3,1.3 3.2,5.1 3.4,7.1c0.2,2 -1.2,6.7 -1.4,9.1c-0.2,2.4 -0.1,8 -0.6,10.1c-0.5,2.1 -2.4,5.9 -3.5,7c-1.1,1.1 -2.5,2.3 -5,2.1c-2.5,-0.2 -12.3,-3.2 -15.2,-3.5c-2.9,-0.3 -6.5,1 -8.1,1c-1.6,0 -3.4,-1 -5,-1c-1.6,0 -6.2,1.7 -8.1,1.4c-1.9,-0.3 -4.1,-3.3 -7.1,-3.6c-3,-0.3 -13.9,0.7 -17.2,1c-3.3,0.3 -6.9,2.1 -9.1,1.6c-2.2,-0.5 -7.1,-5.2 -8.1,-6c0.2,-1.5 1.7,-9.8 1.5,-11.8c-0.2,-2 -2.6,-2.6 -2.9,-4.4c-0.3,-1.8 1.9,-8.2 0.4,-9.7c-1.5,-1.5 -9.4,-2.1 -12.1,-2.4c-2.7,-0.4 -7.2,0.5 -9.1,-0.4c-1.9,-0.9 -5.7,-4.8 -6.1,-6.7c-0.4,-1.9 3.1,-6.6 2.7,-8.1c-0.4,-1.5 -3.5,-2.9 -5.7,-4c-2.2,-1.1 -9.6,-4 -12.1,-5.1c-2.5,-1.1 -6.7,-2.9 -7.7,-4c-1,-1.1 0.6,-3 0,-5.1c-0.6,-2.1 -2.4,-10.8 -4.5,-12.1c-2.1,-1.3 -10.1,1.6 -12.1,1.6c-2,0 -3.2,-0.5 -4,-1.6c-0.8,-1.1 -1.9,-6.5 -2.1,-7.5c-0.2,-1 -0.3,-0.3 0.4,-0.6c0.7,-0.3 4.1,-1 5.1,-1.6c1,-0.6 3.3,-2.1 3,-3.4c-0.3,-1.3 -3.8,-5 -5.1,-7.1c-1.3,-2.1 -4,-8.7 -5,-9.7c-1,-1 -2.1,1.5 -3.1,1.6c-1,0.1 -4.1,-0.2 -5,-1c-0.9,-0.8 -2.4,-3.3 -2.6,-5.1c-0.2,-1.8 1.9,-7.6 1.2,-9.1c-0.7,-1.5 -6,-1.9 -6.7,-3c-0.7,-1.1 1.1,-4.3 1,-6.1c-0.1,-1.8 -1.3,-6 -1.6,-8.1c-0.2,-2.1 -1.2,-6.8 -0.4,-9.1c0.8,-2.3 6.8,-7.7 7.1,-9.1c0.2,-1.4 -4.9,-0.9 -5.1,-2c-0.2,-1.1 3.5,-5.7 3.7,-7.1c0.2,-1.4 -1.4,-2.6 -1.7,-4c-0.3,-1.4 -0.3,-6 -1,-7.1c-0.7,-1.1 -3.8,-0.6 -4.6,-2c-0.8,-1.4 -1.4,-7.4 -2,-9.1c-0.6,-1.7 -0.2,-3.8 -2.5,-4.6c-2.3,-0.8 -13.3,-0.9 -16.1,-1.5c-2.8,-0.6 -5.5,-2.2 -6.1,-3c-0.6,-0.8 -0,-2 1,-3c1,-1 6.8,-3.1 7.1,-5.1c0.3,-2 -4.2,-9.2 -4.5,-11.1c-0.2,-1.9 2.1,-2 2.5,-4c0.4,-2 1.8,-10.1 1,-11.6c-0.8,-1.5 -5.7,-0.4 -7.1,0c-1.4,0.4 -2.3,3.7 -4.1,3.5c-1.8,-0.2 -8.8,-4 -10.1,-5.1c-1.3,-1.1 -0.6,-2.9 0,-3.6c0.6,-0.8 5.1,-1.8 5.1,-2.4c0,-0.6 -3.9,-1.4 -5.1,-2.1c-1.2,-0.7 -4,-3.1 -4.6,-3.6c0.8,-0.8 5.5,-4.9 6.7,-6.5c1.2,-1.6 3.4,-5.2 3,-6.5c-0.4,-1.3 -5.5,-1.6 -6.1,-3.6c-0.6,-2 1.3,-9.9 1,-12.1c-0.3,-2.1 -3.2,-4 -3.4,-5.1c-0.2,-1.1 0.6,-3.1 1.4,-4c0.8,-0.9 4.2,-1.8 5.1,-3.1c0.9,-1.3 1.2,-5.6 2,-7c0.8,-1.4 4.2,-3 4.4,-4.1c0.2,-1.1 -2.3,-4 -2.4,-5c-0.1,-1 2,-2 2,-3.1c0,-1.1 -2.3,-4.6 -2,-6c0.3,-1.4 3.3,-3.7 4.1,-5.1c0.8,-1.4 1.9,-4.3 2,-6c0.1,-1.7 -0.1,-6.6 -1,-7.7c-0.9,-1.1 -5.9,-0.7 -6.5,-1.4c-0.6,-0.7 0.6,-3.5 1.4,-4.1c0.8,-0.6 4.2,-0.5 5.1,-1c0.9,-0.5 1.2,-2.1 2,-3c0.8,-0.9 4.6,-3 4.4,-4.1c-0.2,-1.1 -5.8,-3.7 -6.4,-4.6c-0.6,-0.9 0.7,-2.2 2,-2.9c1.3,-0.7 8.1,-1.9 8.5,-3c0.4,-1.1 -4.4,-4.3 -5.5,-5.6c-1.1,-1.3 -2.5,-4.1 -2.9,-4.7Z" fill="#ae1a3c" stroke="#ae1a3c" stroke-width="0.6"/><path d="M1172.5,470.3c0.8,-1 6,-0.9 7,-1.6c1,-0.8 -0.4,-3.8 1,-4.4c1.4,-0.6 8.7,-0.8 10.2,0c1.5,0.8 1.4,5 2,6c0.6,1 2.1,0.9 3,2c0.9,1.1 3,5.7 4,7.1c1,1.4 3.5,4.1 4.1,4.1c0.6,0 -0.5,-3.5 1,-4.1c1.5,-0.6 9.3,-0.4 11.1,-1c1.8,-0.6 2.1,-3.1 3.1,-4c1,-0.9 4.2,-2 5,-3.1c0.8,-1.1 0.6,-5 1,-6c0.4,-1 0.3,-2.3 2,-2c1.7,0.3 9.7,3 11.2,4.6c1.5,1.6 1.3,6.8 1,8.5c-0.3,1.7 -1.8,3.6 -3.1,5c-1.3,1.4 -6.1,4.6 -7,6.1c-0.9,1.5 -0.6,5.1 -0.4,6.1c0.2,1 1.9,1 2,2c0.1,1 -1.4,4.3 -1.2,6.1c0.2,1.8 1.4,6 2.6,8.1c1.2,2.1 6.9,7.6 7.1,9.1c0.2,1.5 -4.3,1.7 -5.1,3c-0.8,1.3 -0.1,6.4 -1,7.1c-0.9,0.8 -5.1,-1.7 -6.1,-1.1c-1,0.6 -1,5.2 -2,6.1c-1,0.9 -5.1,1.1 -6,1c-0.9,-0.1 -0.2,-2 -1.1,-2c-0.9,-0 -5.1,1.1 -6,1.6c-0.9,0.5 -1.2,1.1 -1,2.4c0.2,1.3 2.2,5.8 3,8.1c0.8,2.3 3.4,8.1 3.4,10.1c0,2 -3.3,4.1 -3.4,6.1c-0,2 2.8,8.2 3,10.1c0.2,1.9 0,4.1 -1,5.1c-1,1 -6.1,3.5 -7.1,2.6c-1,-0.9 -0.6,-8.1 -1,-9.7c-0.4,-1.6 -1.6,-1.6 -2,-3c-0.4,-1.4 -0.8,-6.7 -1.4,-8.1c-0.6,-1.4 -3,-1.8 -3.6,-3.1c-0.6,-1.3 -0.5,-5.7 -1.1,-7c-0.6,-1.3 -3.2,-1.7 -4,-3.1c-0.8,-1.4 -1.1,-6.7 -2,-8.1c-0.9,-1.4 -4.3,-1.7 -5.1,-3c-0.8,-1.3 0,-5.3 -1,-7.1c-1,-1.8 -5.8,-5 -7.1,-7c-1.3,-2 -2.2,-7.8 -3,-9.1c-0.8,-1.3 -1.9,-1.6 -3,-1.7c-1.1,-0.1 -5.1,0.1 -6.1,0.7c-1,0.6 -1.4,3.2 -2,4c-0.6,0.8 -2.4,2 -3,2c-0.6,0 -2.1,-0.4 -2.1,-2c0,-1.6 1.7,-8.1 2.1,-11.1c0.4,-3 0.6,-10.8 1,-13.2c0.4,-2.4 1.2,-4.7 2,-6c0.8,-1.3 3.6,-3 4,-4.1c0.4,-1.1 -1.4,-4.6 -1,-5c0.4,-0.4 3.7,2.5 4.1,2c0.4,-0.5 -1.8,-5.1 -1,-6.1Z" fill="#ae1a3c"/><path d="M1767.2,1224c-0.4,0.6 -6,11.4 -8,15.2c-2,3.8 -6.5,12.2 -8.1,15.1c-1.7,2.9 -3.4,6.2 -5.1,8.1c-1.7,1.9 -5.8,5.6 -8.1,7.1c-2.3,1.5 -8.4,4 -10.1,4.6c-1.7,0.6 -4.1,1.3 -3.6,0c0.5,-1.3 4.6,-7.8 7.7,-10.1c3.1,-2.3 13.3,-5 17.1,-8.7c3.8,-3.7 10.9,-17.3 13.2,-21.2c2.3,-3.9 5.4,-10.7 5,-10.1Z" fill="#ffffc5"/><path d="M1317.5,1221.3c0,1.1 1.1,7.8 2,10.1c0.9,2.3 2.3,6.2 5.1,8.1c2.8,1.9 12.4,5.6 17.1,7.1c4.7,1.5 15.2,3.7 20.3,5c5.1,1.3 16.2,3.9 20.2,5.1c4,1.2 12.1,4.6 12.1,4.4c0,-0.2 -8.1,-4.4 -12.1,-5.8c-4,-1.4 -15.1,-4.3 -20.2,-5.7c-5.1,-1.4 -15.9,-4.2 -20.3,-5.6c-4.4,-1.4 -12.6,-3.9 -15.1,-5.5c-2.5,-1.6 -4.2,-5.1 -5.1,-7.1c-0.9,-2 -1.5,-7.8 -2,-9.1c-0.5,-1.3 -2,-2.1 -2,-1Z" fill="#ffffc5"/><path d="M1446.9,1275.9c1.3,0.3 20,4 26.3,5.1c6.3,1.1 21,3.9 24.2,4c3.2,0.1 2.3,-2.2 1.6,-3c-0.8,-0.8 -5.6,-2.8 -7.6,-3.1c-2,-0.3 -6.3,1.1 -8.1,1c-1.8,-0.1 -3.6,-1.9 -6.1,-2c-2.5,-0.1 -10.3,1.2 -14.1,1c-3.8,-0.2 -17.5,-3.3 -16.2,-3Z" fill="#ffffc5"/><path d="M448.6,469.2c-0.3,-0.9 -2.2,-5.7 -2.6,-7.4c-0.4,-1.7 -0.1,-5 -0.8,-6c-0.7,-1 -3.9,-1.3 -4.7,-2.1c-0.8,-0.8 -1.9,-3.1 -2,-4c-0.1,-0.9 1.5,-2.8 1,-3.4c-0.5,-0.6 -4,-0.6 -5,-1.3c-1,-0.7 -2.6,-3.2 -2.7,-4.4c-0.1,-1.2 0.9,-4.2 1.6,-5.1c0.7,-0.9 3,-1.9 4.1,-2c1.1,-0.1 3.2,1.3 5,1.4c1.8,0.1 7.7,-0.4 9.1,-1c1.4,-0.6 2.3,-3 2.1,-3.8c-0.2,-0.8 -2.6,-1.8 -4.1,-2.6c-1.5,-0.8 -6.3,-3 -8.1,-4.1c-1.8,-1.1 -4.8,-3.7 -6,-5c-1.2,-1.3 -3.1,-3.6 -3.7,-5.1c-0.6,-1.5 -0.8,-5.7 -1.4,-7.1c-0.6,-1.4 -2.8,-2.6 -3.4,-4c-0.6,-1.4 -0.7,-5.4 -1.2,-7.1c-0.5,-1.6 -1.7,-4.6 -2.5,-6.1c-0.8,-1.5 -3.4,-4.9 -3.6,-6c-0.2,-1.1 2.8,-1.4 2.2,-2.5c-0.6,-1.1 -5,-5.1 -6.7,-6.6c-1.7,-1.5 -5.6,-3.7 -7,-5.1c-1.4,-1.4 -3,-4 -4.1,-6c-1.1,-2 -3.7,-8.8 -5,-10.2c-1.3,-1.4 -4.3,-0.7 -5.1,-1.4c-0.8,-0.8 -1.2,-3.4 -1,-4.6c0.2,-1.2 2.2,-4.2 3,-5.1c0.8,-0.9 3.3,-1.6 3.7,-2.4c0.4,-0.8 -0.8,-2.9 -0.6,-3.6c0.2,-0.7 2.5,-0.7 2,-2.1c-0.5,-1.4 -5.6,-7.5 -6.1,-9.1c-0.5,-1.6 2.4,-2.9 2,-3.6c-0.4,-0.8 -4.2,-1.6 -5,-2.4c-0.8,-0.8 -1.7,-3.3 -1.6,-4.1c0.1,-0.8 2.4,-1.1 2.6,-2c0.2,-0.9 -0.5,-3.4 -1,-5c-0.5,-1.6 -2.9,-6.6 -3,-8.1c-0.1,-1.5 1,-3.3 2,-4.1c1,-0.8 4.2,-1.9 6,-2.4c1.8,-0.5 6.1,-1.7 8.1,-1.6c2,0.1 6.1,1.6 8.1,2c2,0.4 6.5,0.8 8.1,1.6c1.6,0.8 4,3.6 5.1,4.5c1.1,0.9 3,2.8 4,3c1,0.2 2.7,-0.1 4.1,-1c1.4,-0.9 4.9,-4.3 7,-6.1c2.1,-1.8 7.6,-6.3 10.1,-8.1c2.5,-1.8 8.2,-5.1 10.1,-6.4c1.9,-1.3 4.1,-2.9 5.1,-4.1c1,-1.2 2,-3.8 2.6,-5.6c0.6,-1.8 1.4,-7.2 2.1,-9.1c0.7,-1.9 2.5,-4.7 3.4,-6.1c0.9,-1.4 3.1,-4.3 4,-5.1c0.9,-0.8 0.2,-1.1 3.1,-1.4c2.9,-0.3 16.5,-1.2 20.2,-1.4c3.7,-0.2 6.8,-0.8 9.1,-0.6c2.3,0.2 5.2,2.2 9.1,2c3.9,-0.2 18,-2.8 22.2,-3.4c4.2,-0.7 8.6,-1 11.1,-1.8c2.5,-0.8 6.9,-3.6 9.1,-4.5c2.1,-0.9 6.3,-2.2 8.1,-2.4c1.8,-0.2 4.3,0.1 6.1,0.4c1.8,0.3 5.8,1.6 8.1,2.2c2.3,0.6 6.1,2.1 10.1,2.5c4,0.4 19.4,0.7 22.2,0.8 M617.4,242.9c0.2,0.4 -0.2,2.6 1.6,3.2c1.8,0.6 11.5,1 12.6,1.6c1.1,0.6 -3.2,1.9 -3.7,2.8c-0.5,0.9 -0.6,3.1 -0.4,4.1c0.2,1 2.1,2.7 2.1,4c-0,1.3 -1.4,4.6 -2.5,6.1c-1.1,1.5 -5.1,4.6 -6.6,6.1c-1.5,1.5 -4.2,4.5 -5.1,6c-0.9,1.5 -2,4.4 -2.4,6.1c-0.4,1.6 -0.6,5.5 -0.6,7.1c0,1.6 0.1,5.1 1,6c0.9,0.9 5.2,0.6 6.1,1c0.9,0.4 0.4,2 1,2.5c0.6,0.5 3.4,1 4,1.6c0.6,0.6 0.9,2.1 0.6,3c-0.2,0.9 -1.9,3.3 -2.6,4.1c-0.7,0.8 -2.5,1.7 -3,2.6c-0.5,0.9 -1.1,2.8 -1.1,4.4c0,1.6 1.4,5.8 1.5,8.1c0.1,2.3 -0.7,7.8 -0.9,10.1c-0.2,2.3 -0.8,6.5 -0.6,8.1c0.2,1.6 1.5,3.9 2.1,4.5c0.6,0.6 1.9,0.6 2.4,0c0.5,-0.6 0.9,-3.7 1.6,-4.5c0.7,-0.8 2.5,-1.9 4,-2c1.5,-0.1 6.6,1.8 8.1,1.4c1.5,-0.4 2.9,-4.5 3.7,-4.8c0.8,-0.2 1.6,2.4 2.4,2.8c0.8,0.4 3,0.8 4,0.6c1,-0.2 3.4,-3.3 3.7,-2.4c0.3,0.9 -1.9,7.8 -1.6,9.5c0.3,1.7 3.2,3 4,4c0.8,1 0.7,2.6 2,4.1c1.3,1.5 6.1,6.6 8.1,8.1c2,1.5 6.3,2.9 8.1,4c1.8,1.1 5.1,4 6.1,5.1c1,1.1 2,2.9 2,4c0,1.1 -1.2,4.2 -2,5.1c-0.8,0.9 -2.7,1.6 -4.1,2c-1.4,0.4 -5.9,0.3 -7,1.4c-1.1,1.1 -1.9,6.5 -1.5,7.7c0.4,1.2 3.3,2.1 4.5,2c1.2,-0.1 3.9,-2.7 5,-2.4c1.1,0.2 3.2,3.1 4.1,4.4c0.9,1.3 2.5,4.8 3,6.1c0.5,1.3 1.5,3 1.4,4c-0.1,1 -0.8,3.3 -2.4,4.1c-1.6,0.8 -8.6,1.4 -10.1,2c-1.5,0.6 -2.4,1.5 -2,2.4c0.4,0.9 4.4,3.6 5,4.7c0.6,1.1 0.8,2.6 0,4c-0.8,1.4 -5.9,5.8 -6,7.1c-0.1,1.3 4.6,2.2 5,3c0.4,0.8 -1.1,2.9 -2,3.1c-0.9,0.2 -3.5,-1.7 -5.1,-1.1c-1.6,0.6 -6.8,4.5 -8,6.1c-1.2,1.6 -1.4,4.9 -1.5,7.1c-0.1,2.2 0.7,8.6 0.4,10.4c-0.3,1.8 -2.5,2.7 -3,4c-0.5,1.3 -0.5,5.7 -1,6.5c-0.5,0.8 -2,0.6 -3,0c-1,-0.6 -3.7,-3.6 -5.1,-4.4c-1.4,-0.8 -4.8,-1.2 -6.1,-2.1c-1.3,-0.9 -2.7,-4.2 -4,-5c-1.3,-0.8 -4.6,-1.6 -6.1,-1.6c-1.5,0 -4.1,0.8 -6,1.6c-1.9,0.8 -7.1,4 -9.1,5c-2,1 -5.1,2.8 -7.1,2.7c-2,-0.1 -7.8,-4.1 -9.1,-3.7c-1.3,0.4 -1.4,5.6 -1,7.1c0.4,1.5 5,4.1 4,4.7c-1,0.6 -11,-0.6 -12.1,0.4c-1.1,1.1 3.1,6.5 3,8c-0.1,1.5 -1.6,3.8 -4,4.1c-2.4,0.3 -12.9,-2.1 -15.2,-2c-2.3,0.1 -3.4,2 -3,3c0.4,1 5.9,3.7 6.1,5.1c0.2,1.4 -3,5.1 -4.1,6c-1.1,0.9 -5.1,0.2 -5,1c0.1,0.8 4.7,3.6 6,5.1c1.3,1.5 3.2,5.8 4.1,7.1c0.9,1.3 3.3,2.4 3,3c-0.3,0.6 -3.1,0.3 -5.1,2c-2,1.7 -9.4,10.2 -10.7,11.7 M448.6,469.2c0.8,-0.1 5,-1.4 6.1,-1c1.1,0.4 2.1,3.3 3,4.4c0.9,1.1 2.9,3.8 4,4.7c1.1,0.9 3.6,2.7 5.1,2.6c1.5,-0.1 5.7,-2.8 7.1,-3.6c1.4,-0.8 2.9,-2.7 4,-2.4c1.1,0.2 4.2,3.4 5.1,4.4c0.9,1.1 1.2,3.1 2,4c0.8,0.9 2.9,2.8 4,3.1c1.1,0.3 3.7,-1.6 5.1,-1c1.4,0.6 5.5,4.7 6.1,6c0.6,1.3 0.3,3.1 -1,4.1c-1.3,1 -8.7,2.3 -9.1,3.6c-0.4,1.3 5.2,5.1 6,6.5c0.8,1.4 -0.4,3.8 0,4.4c0.4,0.6 2.4,1.2 3.1,0.6c0.7,-0.6 2,-5 2.6,-5.4c0.6,-0.4 1.2,1.9 2.4,2.4c1.2,0.6 6.1,1.4 7.1,2c1,0.6 -0,2.1 1,3.1c1,1 6.1,3.9 7.1,5c1,1.1 -0.1,3.1 1,3.7c1.1,0.6 6.3,1 8.1,0.8c1.8,-0.2 4.1,-2.3 6,-2.5c1.9,-0.2 7.7,1.4 9.1,1.1c1.4,-0.3 1,-3.7 2.1,-3.7c1.1,0 5.2,3.2 7,3.7c1.8,0.5 6,-0.1 7.1,0.4c1.1,0.5 1.7,2.6 2,3.6c0.3,1 0.4,4 0.4,4.6 M562.2,528.4c0.1,0.4 0,2.7 0.6,3.1c0.6,0.4 3,0.2 4.1,0c1.1,-0.2 3.7,-1.9 5,-2c1.3,-0.1 4.2,0.6 5.1,1.4c0.9,0.8 2.1,3.7 2,5c-0.1,1.3 -2.3,4.1 -3,5.1c-0.7,1 -2.6,2 -2.6,3c0,1 2.3,3.5 2.6,5.1c0.3,1.6 -0.2,6.2 0,8.1c0.2,1.9 0.7,5.2 2,7c1.3,1.8 5.8,5.9 8.1,7.7c2.3,1.8 9.2,6 10.5,6.9 M596.6,578.8c0.1,-0.4 -0,-2.7 0.6,-3c0.6,-0.3 3.8,1.3 4.5,0.6c0.7,-0.7 0.3,-4.8 1,-6.1c0.7,-1.3 3.9,-2.9 4.6,-4c0.7,-1.1 1.2,-3.7 1,-4.7c-0.2,-1 -2.2,-2.3 -2.4,-3.4c-0.2,-1.1 0.2,-4.9 1,-5.5c0.8,-0.6 3.9,0.5 5.5,1c1.6,0.5 5.9,3.2 7.5,3.1c1.6,-0.1 4.2,-3.5 5.2,-3.7c1,-0.2 1.3,2.2 2.4,2c1.1,-0.2 3.4,-3.3 6.1,-4c2.7,-0.7 12.8,-1 15.2,-1.6c2.4,-0.6 2,-1.6 4,-3.5c2,-1.9 9.7,-10.3 12.1,-11.5c2.4,-1.2 5.4,2.1 7.1,2c1.7,-0.1 4.6,-2.9 6.7,-2.6c2.1,0.3 8.5,4.3 10.5,4.7c2,0.4 4.1,-1.2 5.1,-1.7c1,-0.5 2.5,-2.4 3,-2.4c0.5,0 1.7,1.2 1.4,2.4c-0.3,1.2 -3.7,5.6 -3.8,7.1c-0.1,1.5 2.5,3.8 3,5.1c0.5,1.3 0.7,4.9 0.8,5.6 M596.6,578.8c0.1,0.5 0,2.9 0.6,3.6c0.6,0.7 3.1,1.1 4.1,2.1c1,1 4.1,4.8 4,6c-0.1,1.2 -4.3,2.4 -5.1,3.5c-0.8,1.1 -0.5,4.3 -1,5.6c-0.5,1.3 -0.7,3.7 -3,5.1c-2.3,1.4 -11.3,4.8 -15.2,6c-3.9,1.2 -13.8,2.4 -16.1,3.5c-2.3,1.1 -2.4,3.9 -2.1,5.6c0.3,1.7 4.1,6.7 4.5,8.1c0.4,1.4 -0.5,2.5 -1.4,3.1c-0.9,0.6 -5,2 -6.1,2c-1.1,0 -2.1,-2 -3,-1.6c-0.9,0.4 -3,2.9 -4.1,4.6c-1.1,1.7 -1.1,6.3 -4.4,9.1c-3.3,2.8 -18.7,11.3 -21.9,13.1c-3.2,1.8 -3.2,-0.6 -4,1.1c-0.8,1.6 -2.1,10.6 -2.4,12.1 M448.6,469.2c-0.2,0.8 -1.9,4.5 -2,6.1c-0.1,1.6 0.7,5.6 1,7c0.3,1.4 1.8,3.1 1.6,4.1c-0.2,1 -2.2,3 -3.6,4c-1.4,1 -6.5,2.6 -7.5,4.1c-1,1.5 0.2,6.2 -0.2,8.1c-0.4,1.9 -2.2,5.8 -3.4,7c-1.2,1.2 -2.7,2.2 -6.1,2.5c-3.4,0.3 -17.7,-0.3 -21.2,0.2c-3.5,0.5 -5.8,2.3 -7.1,3.4c-1.3,1.1 -2.5,3.8 -3.1,5.1c-0.6,1.3 -0.5,3 -2,5c-1.5,2 -7.1,8.5 -10.1,11.1c-3,2.6 -10.8,7.3 -14.1,10.1c-3.3,2.8 -8.9,8.9 -12.2,12.2c-3.3,3.3 -11.6,11.2 -14.1,14.1c-2.5,2.9 -4.3,6.7 -6.1,9.1c-1.8,2.4 -5.8,7.1 -8.1,10.1c-2.3,3 -8,11.7 -10.1,14.2c-2.1,2.5 -6,4.7 -7.1,6.1c-1.1,1.4 -1.1,3.9 -2,5c-0.9,1.1 -3.6,2.1 -5,4.1c-1.4,2 -4.4,10.2 -6.1,12.1c-1.7,1.9 -5.5,1.1 -7.4,3c-1.9,1.9 -6.3,8.9 -8.1,12.3c-1.8,3.4 -5.7,10.1 -6,14.6c-0.3,4.5 2.3,17.7 3.4,21c1.1,3.3 4.6,3.7 5.3,5.6c0.8,1.9 0.5,7 0.7,9.5c0.2,2.5 1.5,7.3 1.1,10.1c-0.4,2.8 -3.2,9.6 -4.1,12.1c-0.9,2.5 -2.9,6.9 -3,7.7c-0.1,0.8 1.3,-1.9 2.6,-1c1.3,0.9 5.3,6.8 7.5,8.5c2.2,1.7 9,3.6 10.1,5.1c1.1,1.5 -0.9,5.4 -1,7c-0.1,1.6 0,5.3 0,6.1 M301.1,755.6c0.8,0.5 5.5,2.5 6.1,4c0.6,1.5 -1.5,6.2 -1.1,8.1c0.4,1.9 2.7,5.2 4.1,7.1c1.4,1.9 5.3,7.2 7.1,8.1c1.8,0.9 5.2,-0.7 7,-1c1.8,-0.3 5.7,-1.8 7.1,-1.4c1.4,0.4 3,2.6 4.1,4.4c1.1,1.8 3.9,8.5 5,10.1c1.1,1.6 2.5,2.6 4.1,3.1c1.6,0.5 7.8,0.2 9.1,0.6c1.3,0.4 0.2,2.5 1,2.4c0.8,-0.1 3.9,-3.4 5,-3c1.1,0.4 2.6,5 4.1,6c1.5,1 5.8,1.4 8.1,1.6c2.3,0.2 8.8,0.4 10.1,0.4 M382,806.1c0.4,-1.6 2.4,-10.5 3,-13.1c0.6,-2.6 1.6,-6.3 1.4,-8.1c-0.2,-1.8 -2.7,-3.7 -2.8,-6c-0.1,-2.3 1.7,-9.9 2.4,-12.2c0.7,-2.3 2,-4.7 3,-6c1,-1.3 3.8,-1.8 5.1,-4.1c1.3,-2.3 4.3,-12.2 5.1,-14.1c0.8,-1.9 0,-0.7 0.9,-1.4c0.9,-0.7 2.8,-3.8 6,-4c3.2,-0.2 16.1,2.2 19.3,2c3.2,-0.2 4.5,-3.8 6,-4c1.5,-0.2 4.2,2.4 6.1,2c1.9,-0.4 6.8,-4.7 9.1,-5.1c2.3,-0.4 6.4,2.2 9.1,2.1c2.6,-0.1 9.3,-2.1 12.1,-3.1c2.8,-1 7.8,-4.2 10.1,-5c2.3,-0.8 6.7,-0.5 8.1,-1c1.4,-0.5 2.9,-2.2 3,-3.1c0.1,-0.9 -0.7,-3.1 -2,-4c-1.3,-0.9 -7.1,-2.1 -8.1,-3c-1,-0.9 0.1,-2.8 0,-4.1c-0.1,-1.3 -0.2,-5.6 -1,-6c-0.8,-0.4 -4,2.9 -5,3c-1,0.1 -3,-1.3 -3.1,-2c-0.1,-0.7 0.8,-2.9 2.1,-3.5c1.3,-0.6 6.1,-0.3 8,-1.6c1.9,-1.3 6.9,-7.1 7.1,-8.7c0.2,-1.6 -5.4,-2.4 -5.4,-4.4c0,-2 5,-9.3 5.4,-11.2c0.4,-1.9 -2,-3 -2,-4c0,-1 0.9,-3.8 2,-4.4c1.1,-0.6 4.8,0.1 7.1,-0.2c2.3,-0.3 8.8,-2.7 11.1,-2.5c2.3,0.2 5.2,3.3 7.1,4.1c1.9,0.8 6.7,1.8 7.7,2 M382,806.1c1,0.5 5.8,2.3 8.1,4.1c2.3,1.8 7.7,8.7 10.1,10.1c2.4,1.4 7.7,-0 9.1,1c1.4,1 0.9,5.3 2,7.1c1.1,1.8 5.3,5.7 7.1,7.1c1.8,1.4 5.9,2.9 7,4c1.1,1.1 2,3.8 2.1,5.1c0.1,1.3 -1.4,4.1 -1.1,5c0.2,0.9 1.7,2.5 3.1,2c1.4,-0.5 6.1,-4.9 8.1,-6c2,-1.1 6.3,-1.8 8.1,-2.5c1.8,-0.7 5,-4.5 6,-3.2c1,1.3 1.9,11.1 2,13.8c0.1,2.7 -1.3,6 -1,8c0.3,2 1.8,6.7 3.1,8.1c1.3,1.4 5.4,3 7,3.1c1.6,0.1 5,-1.2 6.1,-2.1c1.1,-0.9 2.1,-4.9 3,-5c0.9,-0.1 3.3,2.9 4.1,4c0.8,1.1 1.1,4.1 2,5.1c0.9,1 3.2,1.4 5.1,3c1.9,1.6 8,7.6 10.1,10.1c2.1,2.5 6.4,7.8 7,10.1c0.6,2.3 -2.1,6.3 -2,8.1c0.1,1.8 1.3,3.7 3.1,6.1c1.8,2.4 10.3,10.5 11.1,13.1c0.8,2.6 -4.1,6.5 -5.1,8.1c-1,1.6 -2.5,3.6 -3,5.1c-0.5,1.5 -0.9,6.2 -1,7.1 M301.1,755.6c-0.1,0.1 0.4,1.7 -1,1c-1.4,-0.7 -7.7,-5.9 -10.1,-6.7c-2.4,-0.8 -7.3,0.3 -9.1,0.2c-1.8,-0.1 -3.6,-0.1 -5.1,-1c-1.5,-0.9 -5.7,-5.7 -7.1,-6c-1.4,-0.3 -3.3,1.3 -4,3.4c-0.7,2.1 -0.5,11.1 -1.6,13.1c-1.1,2 -5.9,0.8 -7.5,3.1c-1.6,2.3 -3.8,12.6 -5.1,15.1c-1.3,2.5 -4.2,2.7 -5,5.1c-0.8,2.4 -0.8,11.8 -1.4,14.1c-0.6,2.3 -3.1,2.1 -3.7,4.1c-0.6,2 -0.5,10.1 -1,12.1c-0.5,2 -1.9,3.3 -3,4.1c-1.1,0.8 -4.8,0.9 -6.1,2c-1.3,1.1 -2.6,5.5 -4,7.1c-1.4,1.6 -6,4.6 -7.1,6c-1.1,1.4 -1.4,3.5 -1.4,5.1c0,1.6 1.4,6.1 1.4,8.1c0,2 -1.2,6 -1.4,8.1c-0.2,2.1 -0.3,7.9 0,9.1c0.3,1.2 1.5,0.9 2.4,0.6c0.9,-0.3 3.7,-2.5 5.1,-2.7c1.4,-0.2 5,0.5 6,1c1,0.5 2,1.8 2.1,3.1c0.1,1.3 -1.9,6.2 -1.5,7.1c0.4,0.9 3.8,-0.6 4.5,0.4c0.7,1 0.4,5.8 1,7.6c0.6,1.8 3,5.6 4,7.1c1,1.5 2.7,4.6 4.1,5.1c1.4,0.5 5.5,-1 7.1,-1c1.6,0 5,0.2 6,1c1,0.8 1.2,3.7 2.1,5c0.9,1.3 3.5,2.6 5,5.1c1.5,2.5 4.7,13.3 7.1,15.1c2.4,1.8 9.9,-0.6 12.1,-1c2.1,-0.4 3.3,-3 5.1,-2.4c1.8,0.6 7.5,5.8 9.1,7.5c1.6,1.7 3.6,4.3 4,6.1c0.4,1.8 -0.6,6.6 -1,8c-0.4,1.4 -2.4,2 -2,3.1c0.4,1.1 3.7,5.2 5,5.6c1.3,0.4 4.4,-1.5 5.1,-2.6c0.7,-1.1 -0.5,-5.6 0.6,-6.1c1.1,-0.5 6.6,2.2 8.5,2.1c1.9,-0.1 5.5,-0.8 7.1,-3.1c1.6,-2.3 4.7,-13 6,-15.1c1.3,-2.1 2.3,-2.4 4.1,-2.1c1.8,0.2 7.2,2.1 10.1,4.1c2.9,2 9.7,9.8 13.1,12.1c3.4,2.3 11.9,5.7 14.2,6.1c2.3,0.4 2.9,-2.2 4,-3c1.1,-0.8 2.4,-3.1 5.1,-3.1c2.7,0 12.7,2.6 16.2,3.1c3.5,0.5 9.5,-0.2 12.1,1c2.6,1.2 6.2,8.3 9.1,8.7c2.9,0.4 10.9,-5.1 14.1,-5.3c3.2,-0.2 8.9,2.5 11.2,3.6c2.3,1.1 4.9,4.1 7,5.1c2.1,1 7.6,3.2 10.1,3c2.5,-0.2 7.3,-3.9 10.1,-5c2.8,-1.1 8.4,-3.9 12.2,-4.1c3.8,-0.2 15.9,1.8 18.2,2.1 M503.3,945.7c1,0.9 6.8,5.1 8.1,7c1.3,1.9 1,6.4 2,8.1c1,1.6 4,3.8 6.1,5.1c2.1,1.3 8.3,2.5 11.1,5c2.8,2.5 9.2,13 11.1,14.8c1.9,1.8 3.5,-0.5 4,-0.6 M545.7,985.1c0.1,-1.3 0.2,-7.1 1,-10.1c0.8,-3 5,-10.9 5.1,-14.2c0.1,-3.3 -3.2,-9.6 -4,-12.1c-0.8,-2.5 -1.9,-6.1 -2.1,-8.1c-0.2,-2 -0.5,-5.2 0.4,-8.1c0.9,-2.9 5.3,-12.7 6.7,-15.2c1.4,-2.5 2.7,-3.6 4.1,-5c1.4,-1.4 5.2,-4.8 7,-6.1c1.8,-1.3 6.3,-2.5 7.1,-4c0.8,-1.5 -1.6,-6.5 -1,-8.1c0.6,-1.6 4.3,-3.1 6.1,-5.1c1.8,-2 5.9,-8.6 8,-11.1c2.1,-2.5 6.6,-7.3 9.1,-9.1c2.5,-1.8 8.7,-4.2 11.2,-5c2.5,-0.8 7,-1.3 9.1,-1c2.1,0.3 6.7,4.3 8.1,3.4c1.4,-0.9 2.6,-7.4 3,-10.5c0.4,-3.1 0.5,-10.4 0,-14.2c-0.5,-3.8 -4,-13.3 -4.1,-16.1c-0.1,-2.8 2.1,-4.8 3.1,-6.1c1,-1.3 4.4,-3.6 5,-4.1 M617.4,242.9c2,-0.1 12.9,-0.1 16.2,-0.4c3.3,-0.3 7.3,-2 10.1,-1.9c2.8,0.1 8.8,1.7 12.1,2.3c3.3,0.6 11.2,2.1 14.2,2.4c3,0.3 8.2,-0.5 10.1,0c1.9,0.5 3.7,3.2 5.1,4.2c1.4,1 1.7,3.5 6,4.1c4.3,0.6 24.6,0.2 28.3,1c3.7,0.8 0.5,4 1,5c0.5,1 -0.6,2.6 3.1,3.1c3.7,0.5 21.6,-0 26.3,0.6c4.7,0.6 8.3,3.3 11.1,4.4c2.8,1.1 8.8,3.9 11.1,4.7c2.3,0.8 4.7,1.7 7.1,1.4c2.4,-0.3 9.5,-3.6 12.1,-4c2.6,-0.4 6.9,0.1 8.9,0.4c2,0.2 5.8,1 7.1,1.6c1.3,0.6 2.7,1.6 3,3c0.3,1.4 -0.5,6.5 -0.4,8.1c0.1,1.6 0.7,3.6 1.4,4.4c0.7,0.8 2.8,1.4 4.1,1.7c1.3,0.3 5.6,-0.9 6,0.4c0.4,1.3 -2.9,8.3 -3,9.7c-0.1,1.4 0.9,1.4 2,1.4c1.1,0 5.2,-1.3 7.1,-1.4c1.9,-0.1 6.3,1.5 8.1,1c1.8,-0.5 4.7,-4.4 6.1,-5.1c1.4,-0.7 2.6,-0.9 5,-0.4c2.4,0.5 11.4,3.8 14.2,4.5c2.8,0.7 6.8,0.4 8.1,1c1.3,0.6 2.4,2.5 2.4,4c0,1.5 -1.8,6.2 -2.4,8.1c-0.6,1.9 -1.8,6.2 -2.1,7.1 M866.9,319.3c-0.8,0 -4.7,-0.4 -6,0c-1.3,0.4 -3.5,1.7 -4.1,3c-0.6,1.3 -1.3,5.7 -1,7.1c0.3,1.4 3.5,3.6 3.7,4.4c0.2,0.8 -0.9,2 -1.7,1.7c-0.8,-0.3 -4,-3 -5,-4.1c-1,-1.1 -2.2,-4 -3,-4.4c-0.8,-0.4 -2.5,0.1 -3.1,1.4c-0.6,1.3 -1.5,7.5 -1.6,9.1c-0.1,1.6 0.6,3.2 1.2,4c0.6,0.8 3.6,1.2 3.5,2.1c-0.1,0.9 -2.6,4.1 -4.1,5c-1.5,0.9 -7.2,1.2 -8.1,2c-0.9,0.8 0.5,2.7 1,4.1c0.5,1.4 3,5.5 3.1,7c0.1,1.5 -1.3,4.1 -2.1,5.1c-0.8,1 -3.1,1.7 -4,3c-0.9,1.3 -2.3,5.7 -3,7.1c-0.7,1.4 -2.1,2.8 -2.5,4.1c-0.4,1.3 -0.4,4.7 -1,6c-0.6,1.3 -2.7,2.8 -3.6,4.1c-0.9,1.3 -2,4.9 -3.4,6c-1.4,1.1 -6.5,2.2 -7.7,3.1c-1.2,0.9 -1.8,3.1 -2.1,4c-0.3,0.9 -0.7,2 -0.4,3c0.3,1 1.9,3.8 2.5,5.1c0.6,1.4 2.1,4.8 2,5.7c-0.1,0.9 -3,0.7 -3,1.4c0,0.7 3.1,2.4 3.4,4c0.2,1.6 -1,7.1 -1.4,9.1c-0.4,2 -1.5,5.6 -1.4,7.1c0.1,1.5 1.2,3.5 2,5c0.8,1.5 4.1,5.3 4.4,7.1c0.3,1.8 -1.1,5.2 -2,7.1c-0.9,1.9 -4,6.3 -5,8.1c-1,1.8 -2.7,4.9 -2.7,6c0,1.1 2,2.2 2.7,3.1c0.7,0.9 3.1,2.7 3,4c-0.1,1.3 -3.6,5.3 -4.1,6.1 M698.7,554.7c1,-0.5 5.7,-2.2 7.7,-4.2c2,-2 6.5,-9.8 8.1,-11.5c1.6,-1.7 3.6,-1.9 5,-2.1c1.4,-0.2 4.5,1.1 6.1,0.4c1.6,-0.8 5.6,-5.1 7.1,-6.4c1.5,-1.3 4,-2.6 5,-3.7c1,-1.1 2,-4.2 3.1,-5.4c1.1,-1.2 5.1,-3.1 6,-4.1c0.9,-1 -0.1,-2.6 1,-4c1.1,-1.4 6.7,-5.3 8.1,-7.1c1.4,-1.8 2,-6.6 3.1,-7.5c1.1,-0.9 5.1,1.2 6,0.4c0.9,-0.8 -0.5,-5.1 1,-6.6c1.5,-1.5 8.9,-5.1 11.2,-5.5c2.3,-0.4 5.2,2.7 7,2.4c1.8,-0.3 5.4,-4.1 7.1,-5c1.6,-0.9 5,-1.6 6.1,-2.5c1.1,-0.9 2.1,-3.9 2.8,-4.3c0.7,-0.4 2.6,0.2 3.1,1c0.5,0.8 -0.1,4.2 1,5.1c1.1,0.9 7,1.8 8,2 M866.9,319.3c0.5,0.4 3.2,2.6 4.1,3c0.9,0.4 1.7,1.1 3,0c1.3,-1.1 6.1,-7.5 7.1,-9.1c1,-1.6 1,-2.7 1,-4c0,-1.3 -1.2,-4.6 -1,-6.1c0.2,-1.5 2.1,-4.7 3,-5.6c0.9,-0.9 3,-1.7 4.1,-1.5c1.1,0.2 3.5,1.9 5,3.1c1.5,1.2 4.4,5.5 7.1,6.4c2.7,0.9 11.9,0.7 14.2,0.4c2.3,-0.3 2.7,-1.2 4,-2.8c1.3,-1.6 4.6,-8 6.1,-9.7c1.5,-1.7 4.7,-3.8 6,-4c1.3,-0.2 3.5,1.7 4.1,2.6c0.6,0.9 -0.3,3.7 0.6,5c0.9,1.3 5.1,3.3 6.4,5.1c1.3,1.8 2.9,8 3.7,9.1c0.8,1.1 1.1,0.8 2.4,0c1.3,-0.8 6.5,-5.2 8.1,-6.1c1.6,-0.9 3.2,-1.4 5.1,-1.4c1.9,0 8.1,1 10.1,1.4c2,0.4 5,0.4 6,2.1c1,1.6 1.5,8.6 2.1,11.1c0.6,2.5 2,8 3,9.1c1,1.1 4.1,-0.9 5,-0.4c0.9,0.5 1.6,3.5 2.1,4.4c0.5,0.9 1.1,2.7 1.6,2.6c0.5,-0.1 2.1,-2 2.4,-3.6c0.3,-1.6 -0.4,-7.1 0,-9.1c0.4,-2 1.9,-5.5 3,-7.1c1.1,-1.6 4.3,-4.3 6.1,-5.4c1.8,-1.1 6.1,-2.8 8.1,-3.3c2,-0.5 6.6,0 8.1,-0.4c1.5,-0.4 3.1,-1.9 4,-3c0.9,-1.1 2.1,-5 3.1,-6.1c1,-1.1 3.5,-2.4 5,-2.6c1.5,-0.2 5.7,0.6 7.1,1.2c1.4,0.6 3.1,2.2 4,3.5c0.9,1.3 2.2,5.4 3.1,7c0.9,1.6 3.3,4.6 4,6.1c0.7,1.5 1.5,4.6 1.6,6.1c0.1,1.5 -1.4,4.5 -1,6c0.4,1.5 3.6,4.3 4.5,6.1c0.9,1.8 2.2,6.8 3,8.1c0.8,1.3 2,2.2 3,2.4c1,0.2 4.5,-0.7 5.1,-0.8 M1065.1,339.1c0,-0.2 -0.1,-1 0.4,-1.6c0.5,-0.6 2.1,-2.9 3.6,-3c1.5,-0.1 6.6,2.8 8.1,2c1.5,-0.8 2.7,-6.8 4.1,-8.1c1.4,-1.3 5.4,-1.5 7,-2.6c1.6,-1.1 4.6,-5.4 6.1,-6.5c1.5,-1.1 4.7,-2.1 6.1,-2c1.4,0.1 4,1.9 5,3c1,1.1 1.2,5.1 3,6.1c1.8,1 9.3,2 11.2,2c1.9,0 3.1,-1.2 4,-2c0.9,-0.8 2.1,-3.7 3,-4.1c0.9,-0.4 2.6,1.3 4.1,1c1.5,-0.3 5.2,-3.1 8.1,-3.6c2.9,-0.5 12.3,-0.6 15.1,-0.4c2.8,0.2 5.6,1.1 7.1,2c1.5,0.9 3.8,3.8 5.1,5.1c1.3,1.3 3.6,4 5,5c1.4,1 5.1,2.2 6.1,3.1c1,0.9 1.8,2.7 2,4c0.2,1.3 -1.1,4.6 -0.6,6.1c0.5,1.5 3.2,5 4.7,6c1.5,1 5.5,1.1 7,2c1.5,0.9 3.6,4.1 5.1,5.1c1.5,1 6,2.2 7.1,3c1.1,0.8 1.8,2.7 2,3.1 M1065.1,339.1c0.5,0.3 3.6,0.8 4,2.4c0.4,1.6 -0.2,8 -1,10.1c-0.8,2.1 -3.4,5.8 -5,7.1c-1.6,1.3 -7.3,2.1 -8.1,3.7c-0.8,1.6 1.5,6.8 2,9.5c0.5,2.7 1.1,11.2 2,12.1c0.9,0.9 3.8,-4.4 5.1,-4.5c1.3,-0.1 3.7,2.3 5,3.5c1.3,1.2 3.7,4.7 5.1,6c1.4,1.3 5.2,3.1 6,4.1c0.8,1 0.2,2.7 0,4c-0.2,1.3 -1.6,4.6 -2,6.1c-0.4,1.5 0.1,5.3 -1,6.1c-1.1,0.8 -7.1,-0.5 -8.1,0c-1,0.5 -0.1,3.2 0.4,4c0.5,0.8 2.1,0.1 3.7,2c1.6,1.9 8.2,9.7 9.1,13.2c0.9,3.5 -2.8,13 -2.1,15.1c0.8,2.1 6.8,1.1 8.1,2.1c1.3,1 1.6,4.5 2.1,6c0.5,1.5 2.3,4.7 2,6.1c-0.3,1.4 -3.1,3.6 -4.1,5c-1,1.4 -2.9,4.3 -4,6.1c-1.1,1.8 -5,6.5 -5.1,8.1c-0.1,1.6 4.1,3.6 4.1,5c0,1.4 -4,4.8 -4.1,6.1c-0.1,1.3 3,2.6 3.1,4.1c0.1,1.5 -1.2,6.9 -2.1,7.8c-0.9,0.9 -4.9,-0.9 -5.2,-0.4c-0.3,0.5 3,3.9 2.8,4.7c-0.2,0.8 -4.3,0.8 -4.8,1.4c-0.5,0.6 -0.3,2.9 0.8,3c1.1,0.1 6,-1.9 7.7,-2c1.7,-0.1 4.7,0.2 6,1c1.3,0.8 3.2,3.2 4.1,5.1c0.9,1.9 2,8.3 3,10.1c1,1.8 4,2.6 5.1,4c1.1,1.4 3.5,4.3 4,7.1c0.5,2.8 -0.6,12.3 0,15.2c0.6,2.9 4,6.5 4.5,8.1c0.5,1.6 0,4.1 -0.8,5c-0.8,0.9 -5.1,0.9 -5.7,2c-0.6,1.1 1,5.2 1,7.1c0,1.9 -1.4,6.3 -1,8.1c0.4,1.8 3.1,4.6 4,6.1c0.9,1.5 3.3,4.6 3.1,6c-0.2,1.4 -3.7,3.6 -5.1,5.1c-1.4,1.5 -4.1,5.5 -6.1,7.1c-2,1.6 -8.1,4.7 -10.1,6c-2,1.3 -4.4,3.1 -6,4.1c-1.6,1 -6.3,2 -7.1,3.6c-0.8,1.6 1.2,7.5 1,9.5c-0.2,2 -3.5,5.2 -3,6.1c0.5,0.9 6.3,0.5 7.1,1.4c0.8,0.9 -0.8,4.7 -1.1,5.7c-0.3,1 -1.2,1.8 -1.4,2 M1204.6,363.8c0.4,-1.5 1.9,-10.1 3,-12.2c1.1,-2.1 5.1,-3.5 6.1,-5c1,-1.5 2.1,-5.3 2,-7.1c-0.1,-1.8 -2.1,-5.6 -3,-7.1c-0.9,-1.5 -4.1,-3.9 -4.1,-5c0,-1.1 4.1,-3.1 4.1,-4.1c0,-1 -3.2,-2.4 -4.1,-4c-0.9,-1.6 -2.1,-7.3 -3,-9.1c-0.9,-1.8 -3.6,-3.7 -4,-5.1c-0.4,-1.4 0.5,-4.7 1,-6c0.5,-1.3 2.4,-2 3,-4.1c0.6,-2.1 0.9,-11.2 2,-13.1c1.1,-1.9 6.3,-0.6 7.1,-2c0.8,-1.4 -0.9,-7.4 -0.4,-9.1c0.5,-1.6 4,-2.7 4.4,-4.1c0.4,-1.4 -1.8,-5.2 -1,-7.1c0.8,-1.9 5.8,-6.3 7.1,-8c1.3,-1.7 2,-4.7 3,-5.5c1,-0.8 4.2,0.2 5.1,-0.6c0.9,-0.8 1,-5 2,-6.1c1,-1.1 5,-2 6.1,-3c1.1,-1 1.7,-3.8 3,-5.1c1.3,-1.3 6.7,-4.1 7.1,-5c0.4,-0.9 -3.7,-1 -4.1,-2c-0.4,-1 0.6,-5 1.1,-6.1c0.5,-1.1 0.3,-2.4 3,-3c2.7,-0.6 15,-1.6 18.2,-1.5c3.2,0.1 5.8,1.8 7.1,2.5c1.3,0.7 3.1,2.5 3.6,3c0.5,0.5 -0.3,0.4 0.2,0.7c0.5,0.3 3.2,2 4.1,2c0.9,0 2,-0.7 3,-2c1,-1.3 3.1,-7.1 5,-8.7c1.9,-1.6 7.7,-3.6 10.2,-4.1c2.5,-0.5 6.2,-0.5 10.1,0c3.9,0.5 16,3.8 21.2,4.1c5.2,0.3 17,-1.4 20.2,-1.4c3.2,0 4.1,0.7 5.1,1.4c1,0.7 2.2,2.7 2.6,4c0.4,1.3 0.4,5.7 0.8,6.7c0.4,1 1.4,1.2 2.6,1c1.2,-0.2 5.6,-2.6 7.1,-3c1.5,-0.4 3.6,-0.6 5.1,-0.4c1.5,0.2 4,2.5 7,1.8c3,-0.7 14.3,-6.1 17.2,-7.5c2.9,-1.4 4.9,-2.6 6.1,-4c1.2,-1.4 3.1,-5.2 3.6,-7.1c0.5,-1.9 0.5,-6.4 0.8,-8.1c0.3,-1.7 0.9,-4 1.7,-5.1c0.8,-1.1 4.3,-2.1 4.4,-3.4c0.1,-1.3 -3.1,-5 -3.4,-6.7c-0.3,-1.7 0.2,-6 1,-7.1c0.8,-1.1 3,-1.8 5,-1.6c2,0.2 9.2,3.1 11.2,3.3c2,0.2 1.5,-2.9 5,-1.7c3.5,1.2 18.9,10 23.3,11.2c4.4,1.2 9.6,-1.9 12.1,-1.6c2.5,0.3 5.2,5.1 8.1,4.2c2.9,-0.9 12.6,-10.2 15.1,-11.7c2.5,-1.5 4.2,0.4 5.1,0c0.9,-0.4 1.1,-2.4 2,-3.1c0.9,-0.7 3.7,-1.3 5.1,-2.4c1.4,-1.1 3.6,-5.7 6,-6.1c2.4,-0.4 10.5,2.1 13.2,2.5c2.7,0.4 6.6,0.1 8.1,0.4c1.5,0.3 3.1,1.8 3.6,2 M1204.6,363.8c-0.4,0.2 -2.8,1 -3,2c-0.2,1 1.5,3.6 1.4,6.1c-0.1,2.5 -2.1,10.3 -2.5,14.1c-0.4,3.8 -1,14.2 -0.4,16.2c0.6,2 3.4,-0.4 5.5,0c2.1,0.4 9.5,2 11.1,3c1.6,1 1.9,3 2,5.1c0.1,2.1 -2.7,9.6 -1,12.1c1.7,2.5 12.3,6.6 14.2,8.1c1.9,1.5 1.6,1.7 1,4c-0.6,2.3 -6.2,12.3 -6.1,14.2c0.1,1.9 5.7,0.5 7.1,1c1.4,0.5 3,3.2 4,3c1,-0.2 3,-4 4.1,-4.4c1.1,-0.4 3.7,1.5 5,1.4c1.3,-0.1 2.6,-1.5 5.1,-2c2.5,-0.5 12.9,-2.5 15.2,-2c2.3,0.5 2,4.9 3,6c1,1.1 3.8,2.1 5,3.1c1.2,1 3.7,3.4 4.7,5c1,1.6 3.2,5.8 3.5,7.5c0.3,1.7 -0.4,5 -1,6.1c-0.6,1.1 -3.8,2 -4.1,3c-0.3,1 0.7,4 2,5c1.3,1 7,1.8 8.1,2.7c1.1,0.9 0.1,3.9 1,4.8c0.9,0.9 4.2,2.5 6.1,2.7c1.9,0.2 7.1,-1.2 9.1,-1.1c2,0.1 5.8,2.2 7.1,2.1c1.3,-0.1 1.5,-2.8 3,-3.1c1.5,-0.3 7.2,1.1 9.1,1c1.9,-0.1 4.2,-1.1 6.1,-2c1.9,-0.9 7.2,-4.2 9.1,-5c1.9,-0.8 4.6,0 6,-1c1.4,-1 4.3,-5.8 5.1,-7.1c0.8,-1.3 0.2,-2.6 1,-3.1c0.8,-0.5 3.8,-1.3 5.1,-1c1.3,0.3 3.4,1.6 5,3.1c1.6,1.5 6,7.8 8.1,9.1c2.2,1.3 8,-0.1 9.1,1c1.1,1.1 0.6,6.9 0,8.1c-0.6,1.2 -4.3,0.8 -5.1,1.6c-0.8,0.8 -1.4,3.3 -1,4.4c0.4,1.1 3.3,3 4.1,4.1c0.8,1.1 1,4.1 2,5c1,0.9 5.6,1.3 6.1,2.1c0.5,0.8 -2.8,2.8 -2.1,4c0.8,1.2 7.1,5 8.1,5.7 M1538.6,167.7c0.4,0.1 2.2,1 3.4,0.6c1.2,-0.4 5,-3.6 6.1,-3.6c1.1,0 2.7,2.2 3,3.6c0.3,1.4 -0.9,6.6 -0.6,7.7c0.3,1.1 1.2,2.2 2.7,1.4c1.5,-0.8 6.6,-6 9.1,-7.5c2.5,-1.5 8.7,-3.9 11.1,-4.6c2.4,-0.7 6.5,-1.1 8.1,-1c1.6,0.1 3.9,0.6 5,1.6c1.1,1 2.6,4.9 4.1,6.4c1.5,1.5 6.5,3.8 8.1,5.7c1.6,1.9 3.4,7.6 5,9.5c1.6,1.9 6.4,4 8.1,5.5c1.7,1.5 4.3,5.1 5.1,6.6c0.8,1.5 1.5,3.8 1.4,5.1c-0.1,1.3 -2,3.1 -2.1,5.1c-0.1,2 0.7,8.6 1.3,11.1c0.6,2.5 3.1,7.1 3.4,9.1c0.3,2 -1.4,5.7 -0.6,6.6c0.8,0.9 4.7,-0.3 6.7,0.9c2,1.2 7.9,7 9.1,8.6c1.2,1.6 -0,3.7 0.6,4.1c0.6,0.4 2.2,-2.3 4.4,-1c2.2,1.3 11.1,9.3 13.2,11.7c2.1,2.4 3.1,5.7 3.6,7.5c0.5,1.8 1,5.6 0.4,7.1c-0.6,1.5 -3.3,4.3 -5.1,5c-1.8,0.7 -5.4,-0.3 -9.1,0.4c-3.7,0.7 -17,4 -20.2,5.1c-3.2,1.1 -4.5,2.8 -5,3.6c-0.5,0.8 -0.2,2.4 0.6,3c0.8,0.6 5,0.8 6,2.1c1,1.3 0.9,6 2.1,8.1c1.2,2.1 6.4,7.1 7.5,9.1c1.1,2 1.1,5.2 1,7c-0.1,1.8 -2,5.6 -2.1,7.1c-0.1,1.5 1.5,4.1 1.1,5.1c-0.5,1 -4.6,2.1 -4.7,3c-0.1,0.9 2.5,3.2 3.6,4c1.1,0.8 3.7,2.4 5.1,2.7c1.4,0.3 5.3,-1.3 6.1,-0.6c0.8,0.7 1,4.4 0.6,6c-0.4,1.6 -2.5,5.6 -3.7,7.1c-1.2,1.5 -4.7,4.2 -6,5.1c-1.3,0.9 -5.3,1.6 -4.7,2.4c0.6,0.8 7.2,4.2 9.7,4c2.5,-0.2 7.8,-4.9 10.1,-5.4c2.3,-0.6 5.7,0.4 8.1,1c2.4,0.6 8.5,3.3 11.1,3.6c2.7,0.3 8.5,-1.4 10.1,-1c1.6,0.4 2,3.3 2.5,4.5c0.5,1.2 0.9,4.1 1.6,5c0.7,0.9 2.4,2.1 4,2.4c1.6,0.3 6.6,0.6 9.1,0.2c2.5,-0.4 8.2,-2 11.1,-3c2.9,-1 9.9,-4.7 12.2,-5c2.3,-0.3 4.4,2.3 6,2.4c1.6,0.1 5.8,-2.2 7.1,-2c1.3,0.2 2.7,1.9 3.5,4c0.8,2.1 1.9,10.3 2.6,13.1c0.7,2.8 2.1,7.4 3,9.1c0.9,1.6 2,3.8 4.1,4.1c2.1,0.3 11.1,-1.4 12.7,-1.6c1.6,-0.2 -0.7,-0.5 0.2,-0.2c0.9,0.3 6.2,1.8 7.1,2.6c0.9,0.8 0.9,3.1 0,4.1c-0.9,1 -6.6,2.4 -7.5,4c-0.9,1.6 -0.4,7 0.4,8.5c0.8,1.5 5.3,2.2 6.1,3.7c0.8,1.5 -0.5,6.1 0,8c0.5,1.9 3.8,5.3 4.4,7.1c0.6,1.8 -0.2,5.7 0.6,7.1c0.8,1.4 5.1,2.9 6.1,4.4c1,1.5 1.4,6 1.6,7.7c0.2,1.7 -0.5,4.9 -0.2,6.1c0.3,1.2 3.5,2.3 2.6,3.4c-0.9,1.1 -8.8,4 -10.1,5.1c-1.3,1.1 -1.2,0.4 -0.6,3.6c0.6,3.2 4.6,19 5.7,22.3c1.1,3.3 1.5,3.2 3,4c1.5,0.8 7.5,1.6 9.1,2.6c1.6,1 3.1,3.7 3.7,5.5c0.6,1.8 0.6,7.4 1.4,9.1c0.8,1.7 3.5,3.8 5,4.6c1.5,0.8 6,1.3 7.1,1.5c1.1,0.2 1.8,0 2,0 M1538.6,167.7c-0.2,1 -1.1,6.1 -1.6,7.7c-0.5,1.6 -1.5,3.7 -2,5c-0.5,1.3 -0.9,3.8 -1.6,5.1c-0.7,1.3 -3.7,3.1 -4.1,5c-0.4,1.9 -0.2,8.6 0.6,10.2c0.8,1.6 4.2,0.9 6.1,2.4c1.9,1.5 7.5,8.4 9.1,9.7c1.6,1.3 3.6,-0.3 4,0.4c0.4,0.7 -0.1,4.3 -1,5.2c-0.9,0.9 -4.8,2.2 -6.1,2.1c-1.3,-0.1 -3.2,-2.6 -4,-2.7c-0.8,-0.1 -2.3,0.6 -2.6,2.1c-0.3,1.5 -0.2,8.2 0,10.1c0.2,1.9 1.2,4 1.2,5c-0,1 -0.1,2.4 -1.6,3.1c-1.5,0.7 -7.9,1.5 -10.1,2.4c-2.2,0.9 -5.3,4.1 -7.1,4.6c-1.8,0.5 -6.3,-0.8 -7.1,-0.4c-0.8,0.4 1.3,2.8 1,3.5c-0.3,0.7 -2.7,1.1 -3.4,2c-0.8,0.9 -1.8,4 -2.6,5c-0.8,1 -3.3,2 -4.1,3.1c-0.8,1.1 -2.4,4.1 -2.4,6c0,1.9 1.7,7.4 2.4,9.1c0.7,1.7 1.9,3.3 3,4.5c1.1,1.2 5.7,3.8 6.1,5.2c0.4,1.4 -3,4.9 -3,6.1c0,1.2 2.5,1.8 3,3.4c0.5,1.6 0.6,7.8 1,9.1c0.4,1.3 2.1,0.5 2,1.1c-0.1,0.6 -3.1,2.6 -3,4c0.1,1.4 3.5,5.8 3.6,7.1c0.1,1.3 -1.5,2.9 -2.6,3c-1.1,0.1 -5.4,-2.5 -6,-2c-0.6,0.5 1.5,4.8 1.4,6.1c-0.1,1.3 -2.6,2.7 -2.5,4c0.1,1.3 3,4.3 3.1,6.1c0.1,1.8 -1.1,6.9 -2,8.1c-0.9,1.2 -4.1,1.4 -5.1,1.4c-1,0 -2.4,-0.7 -3,-1.4c-0.6,-0.7 -1.4,-3.8 -2.1,-4.1c-0.7,-0.3 -3.5,0.9 -3.6,2c-0.1,1.1 1.8,6 2.6,7.1c0.8,1.1 3.6,0.6 4.1,1.6c0.5,1 -0.7,4.9 -0.4,6.1c0.3,1.2 2.5,2.2 2.8,3.4c0.2,1.2 -0.2,5.1 -0.8,6.1c-0.6,1 -3.3,0.9 -4,2c-0.7,1.1 -0.6,5.9 -1.7,7.1c-1.1,1.2 -6.2,1 -7,2.4c-0.8,1.4 0.7,6.9 0.4,8.7c-0.3,1.9 -4.1,4.8 -3.1,6.1c1,1.3 8.9,3.5 10.7,4c1.8,0.5 4,-0.5 4.1,0c0.1,0.5 -3.2,3.1 -3,4.1c0.2,1 3.5,3 5,3.6c1.5,0.6 5.7,2 7.1,1.4c1.4,-0.6 3,-5.9 4,-6.5c1,-0.6 3.7,0.4 3.7,1.5c0,1.1 -2.9,5.5 -3.7,7c-0.8,1.5 -3.1,4.1 -3,5.1c0.1,1 3.5,1.5 4,3c0.5,1.5 0.5,7.3 0,9.1c-0.5,1.8 -3.2,3.5 -4,5.1c-0.8,1.6 -2.1,6.2 -2.6,8.1c-0.5,1.9 -1.5,5.2 -1.4,6.8c0.1,1.6 1.4,5 2.2,6.1c0.8,1.1 3.8,2 4,3c0.2,1 -1.4,4.2 -2,5.1c-0.6,0.9 -2.6,1 -3,2c-0.4,1 -0,4.9 -0.4,6c-0.4,1.1 -2.4,1.8 -2.7,3.1c-0.3,1.3 0.2,5.2 0,7c-0.2,1.8 -1.5,5.3 -2,7.1c-0.5,1.8 -1.8,6.6 -2,7.5 M1807.7,521c-0.1,0.4 0.4,2.7 -1,3c-1.4,0.3 -7.5,-0.5 -10.1,-0.4c-2.7,0.1 -9.7,0.8 -11.1,1.4c-1.4,0.6 1.4,3.8 0,3.4c-1.4,-0.4 -9.4,-6.6 -11.1,-6.4c-1.7,0.2 -1,7.4 -2.1,8.1c-1.1,0.8 -5.6,-2.4 -7,-2.1c-1.4,0.2 -3,3.3 -4.1,4.1c-1.1,0.8 -4.2,1 -5,2c-0.8,1 -0.1,5.2 -1,6.1c-0.9,0.9 -4.6,1.1 -6.1,1c-1.5,-0.1 -5,-1.9 -6.1,-2c-1.1,-0.1 -1.8,0.5 -3,1c-1.2,0.5 -5.4,2 -6.7,2.9c-1.3,0.9 -3,3.2 -4,4.1c-1,0.9 -3.2,2.9 -4.1,3c-0.9,0.1 -2.4,-2.4 -3,-2c-0.6,0.4 -1.3,4.1 -2,5c-0.7,0.9 -3.1,2.1 -3.5,2.4 M1807.7,521c0.4,-0.8 2.1,-5.1 3.1,-6.1c1,-1 3.6,-1 5,-2c1.4,-1 3.7,-5.1 6.1,-6.1c2.4,-1 8.8,-1.7 13.1,-1.6c4.3,0.1 18.2,1.4 21.3,2c3.1,0.6 2.9,2 3.4,2.6c0.5,0.6 0.1,2 0.6,2.5c0.5,0.5 1.5,-1.1 3.4,1.2c1.9,2.4 9.8,15.1 11.8,17.6c2,2.5 2.9,2 4,2c1.1,0 3.8,-1.2 5.1,-2c1.3,-0.8 3.7,-3.8 5,-4.1c1.3,-0.3 3.8,1.4 5.1,2c1.3,0.6 3.5,2.1 5,2.7c1.5,0.6 6.3,1.1 7.1,2.4c0.8,1.3 -1.4,6.7 -1,8.1c0.4,1.4 2.7,2.6 4,3c1.3,0.4 5,0.4 6.1,0c1.1,-0.4 2.2,-1.9 3,-3c0.8,-1.1 0.2,-3.8 3.1,-6.1c2.9,-2.3 16.7,-10.3 20.2,-12.1c3.5,-1.8 5.9,-2.2 8.1,-2.6c2.2,-0.4 7,-1 9.1,-0.9c2.2,0.1 5.1,1.9 8.1,1.5c3,-0.4 12.7,-2.7 16.1,-4.5c3.4,-1.8 7.9,-8.2 11.2,-9.7c3.3,-1.5 12.8,-2.4 15.1,-2.4c2.3,0 2.1,0.6 3,2.4c0.9,1.8 3,10.2 4.1,12.1c1.1,1.9 3.7,2.5 5,3.1c1.3,0.6 3.9,1.1 5.1,2c1.2,0.9 3.9,3.6 4.4,5.1c0.5,1.5 0.2,5.1 0,7c-0.2,1.9 -2.3,6.4 -1.8,8.1c0.5,1.7 3.4,2.7 5.5,5.5c2.1,2.8 8.9,14.2 11.1,16.8c2.1,2.5 4.2,2.6 6.1,3.6c1.9,1 6.8,2.8 9.1,4.4c2.3,1.6 7.2,5.8 9.1,8.1c1.9,2.3 4.9,8.2 6,10.1c1.1,1.9 2.5,4.3 2.8,4.9 M2079.4,598.6c0.4,0.6 1.8,3.4 2.9,4.7c1.1,1.3 5.9,4.5 5.5,5.6c-0.4,1.1 -7.2,2.3 -8.5,3c-1.3,0.7 -2.6,2 -2,2.9c0.6,0.9 6.1,3.5 6.4,4.6c0.2,1.1 -3.6,3.2 -4.4,4.1c-0.8,0.9 -1.1,2.5 -2,3c-0.9,0.5 -4.3,0.4 -5.1,1c-0.8,0.6 -2,3.4 -1.4,4.1c0.6,0.7 5.6,0.3 6.5,1.4c0.9,1.1 1.1,6 1,7.7c-0.1,1.7 -1.2,4.6 -2,6c-0.8,1.4 -3.8,3.7 -4.1,5.1c-0.3,1.4 2,4.9 2,6c0,1.1 -2.1,2.1 -2,3.1c0.1,1 2.7,3.9 2.4,5c-0.2,1.1 -3.6,2.7 -4.4,4.1c-0.8,1.4 -1.1,5.7 -2,7c-0.9,1.3 -4.3,2.2 -5.1,3.1c-0.8,0.9 -1.7,2.9 -1.4,4c0.2,1.1 3.1,3 3.4,5.1c0.3,2.1 -1.6,10.1 -1,12.1c0.6,2 5.7,2.3 6.1,3.6c0.4,1.3 -1.8,4.9 -3,6.5c-1.2,1.6 -5.9,5.7 -6.7,6.5 M2079.4,598.6c0.5,-0.4 3.1,-2.8 4.3,-3.4c1.2,-0.6 4,-1.5 5.1,-1.5c1.1,0 2.3,1.8 3.4,1.5c1.1,-0.2 4.9,-1.7 5.7,-3.5c0.8,-1.8 0.4,-8.7 0.4,-11.1c0,-2.4 -0.6,-6.8 -0.4,-8.1c0.2,-1.3 0.7,-2.4 2,-2.6c1.3,-0.2 6.4,0.6 8.1,0.6c1.7,0 4.6,-0.8 5.6,-0.4c1,0.4 1.8,1.8 2.5,3.4c0.7,1.6 2.2,7.6 3,9.1c0.8,1.5 1.9,2.6 3,3.1c1.1,0.5 4.3,0.4 6.1,1c1.8,0.6 6,3.7 8.1,4c2.2,0.3 7.1,-1.5 9.1,-1.6c2,-0.1 5.7,1.4 7.1,1.2c1.4,-0.2 3.3,-3.4 4,-2.6c0.7,0.8 0.3,6.9 1.6,8.7c1.3,1.8 6.1,4.3 8.5,5.4c2.4,1.1 9.1,2.2 11.1,3.1c2,0.9 3.8,2.7 5.1,4c1.3,1.3 2.7,5.8 5,6.5c2.3,0.7 10.7,0.4 13.2,-0.8c2.5,-1.2 5.5,-7.4 7.1,-8.7c1.6,-1.4 4.8,-2.2 6,-2.1c1.2,0.1 2.2,0.6 3.5,3.1c1.3,2.5 5.3,14.6 6.6,17.2c1.3,2.6 2.8,3.3 4.1,4c1.3,0.7 4.5,1.4 6,1.4c1.5,0 4.1,-0.9 5.7,-1.4c1.6,-0.5 5.4,-2.7 7.1,-2.6c1.7,0.1 4.3,2.8 6.1,3.4c1.8,0.6 6.7,0.2 8.1,1.2c1.4,1 2.2,4.5 3,6.5c0.8,2 2.1,7.3 3,9.1c0.9,1.8 2.3,4 4.1,5.1c1.8,1.1 7.8,2.6 10.1,4c2.3,1.4 6.3,6.3 8.1,7.1c1.8,0.8 4.4,0.1 6,-0.4c1.6,-0.5 5.3,-2.4 7.1,-3.7c1.8,-1.3 5.3,-6.1 7.1,-7c1.8,-0.9 4.9,-0.7 7.1,-0.4c2.2,0.3 8.7,2.2 10.1,3c1.4,0.8 1.5,2.5 1.4,3.4c-0.1,0.9 -1.3,3.1 -2.4,4.1c-1.1,1 -5,2.6 -6.1,4c-1.1,1.4 -2.4,5.1 -2.4,7.1c0,2 1.3,6.8 2.4,9.1c1.1,2.3 4.6,7.1 6.1,9.1c1.5,2 4.8,5.7 5.6,7.1c0.8,1.4 0.6,2.5 0.4,4c-0.2,1.5 -1.7,6.3 -2,8.1c-0.3,1.8 0.2,5 -0.4,6.1c-0.6,1.1 -3.4,1.5 -4.7,3c-1.3,1.5 -4.5,7.3 -6,9.1c-1.5,1.8 -4.6,3.7 -6.1,5c-1.5,1.3 -5,3.7 -6.1,5.1c-1.1,1.4 -2.6,4.7 -3,6.1c-0.4,1.4 -0.1,4.1 -0.6,5c-0.5,0.9 -2,1.8 -3.4,2c-1.4,0.2 -5.9,-0.3 -8.1,0c-2.2,0.3 -7.2,2.4 -9.1,2.7c-1.9,0.3 -5.1,-0.5 -6.1,0c-1,0.5 -1.8,3.2 -2,4.4c-0.2,1.2 -0.5,3.7 0.4,5.1c0.9,1.4 5.5,4.5 6.7,6c1.2,1.5 1.7,5 3,6.1c1.3,1.1 4.9,2.1 7.1,2.6c2.2,0.5 8.2,0.8 10.1,1.5c1.9,0.7 3.6,4.1 5,4c1.4,-0.1 4.8,-4.5 6.1,-5.1c1.3,-0.6 3.3,-0.4 4.1,0c0.8,0.4 2.3,2.1 2.4,3.1c0.1,1 -1.1,3.7 -1.8,5c-0.7,1.3 -2.7,4 -3.7,5.1c-1,1.1 -2.7,3.4 -4,4c-1.3,0.6 -4.2,1 -6.1,0.6c-1.9,-0.4 -7.3,-3.4 -9.1,-4c-1.8,-0.6 -3.7,-1 -5,-0.6c-1.3,0.4 -4.1,2.9 -5.1,4c-1,1.1 -2.2,4.2 -3,5.1c-0.8,0.9 -1.6,-1.8 -3.1,2c-1.5,3.8 -8.6,24.9 -8.7,28.3c-0.1,3.4 5.2,-1 7.7,-1c2.5,0 10,0.8 12.2,1.4c2.2,0.6 4.1,2.5 5,3.7c0.9,1.2 1.6,4.6 2,6c0.4,1.4 1.2,4.1 1,5.1c-0.2,1 -3.3,1.1 -3,2.6c0.3,1.5 4,7 5.1,9.5c1.1,2.5 4.8,7.4 4,10.1c-0.8,2.8 -9.6,9.8 -10.1,11.9c-0.5,2.1 3.9,4.3 5.7,4.7c1.8,0.4 7.6,-1.7 9.1,-1.4c1.5,0.3 2.8,2.9 3,4c0.2,1.1 0.3,3.4 -1,5c-1.3,1.6 -7.3,5.8 -9.1,8.1c-1.8,2.3 -4.3,7.7 -5.4,10.1c-1.1,2.4 -3.2,7 -3.3,9.1c-0.1,2.1 3.1,6.4 2.3,7.7c-0.8,1.3 -7.5,1.8 -8.7,2.5c-1.2,0.7 -1.3,1.7 -1,3c0.3,1.3 3.2,5.1 3.4,7.1c0.2,2 -1.2,6.7 -1.4,9.1c-0.2,2.4 -0.1,8 -0.6,10.1c-0.5,2.1 -2.4,5.9 -3.5,7c-1.1,1.1 -2.5,2.3 -5,2.1c-2.5,-0.2 -12.3,-3.2 -15.2,-3.5c-2.9,-0.3 -6.5,1 -8.1,1c-1.6,0 -3.4,-1 -5,-1c-1.6,0 -6.2,1.7 -8.1,1.4c-1.9,-0.3 -4.1,-3.3 -7.1,-3.6c-3,-0.3 -13.9,0.7 -17.2,1c-3.3,0.3 -6.9,2.1 -9.1,1.6c-2.2,-0.5 -7.1,-5.2 -8.1,-6 M2060.5,717.9c0.6,0.5 3.4,2.9 4.6,3.6c1.2,0.7 5.1,1.5 5.1,2.1c0,0.6 -4.5,1.6 -5.1,2.4c-0.6,0.8 -1.3,2.5 0,3.6c1.3,1.1 8.3,4.9 10.1,5.1c1.8,0.2 2.7,-3.1 4.1,-3.5c1.4,-0.4 6.3,-1.5 7.1,0c0.8,1.5 -0.6,9.6 -1,11.6c-0.4,2 -2.8,2.1 -2.5,4c0.2,1.9 4.8,9.1 4.5,11.1c-0.3,2 -6.1,4.1 -7.1,5.1c-1,1 -1.6,2.2 -1,3c0.6,0.8 3.3,2.4 6.1,3c2.8,0.6 13.8,0.7 16.1,1.5c2.3,0.8 1.9,2.9 2.5,4.6c0.6,1.7 1.2,7.7 2,9.1c0.8,1.4 3.9,0.9 4.6,2c0.7,1.1 0.7,5.7 1,7.1c0.3,1.4 2,2.6 1.7,4c-0.2,1.4 -3.9,6 -3.7,7.1c0.2,1.1 5.3,0.6 5.1,2c-0.2,1.4 -6.3,6.8 -7.1,9.1c-0.8,2.3 0.2,7 0.4,9.1c0.2,2.1 1.5,6.3 1.6,8.1c0.1,1.8 -1.7,5 -1,6.1c0.7,1.1 6,1.5 6.7,3c0.7,1.5 -1.4,7.3 -1.2,9.1c0.2,1.8 1.7,4.3 2.6,5.1c0.9,0.8 4,1.1 5,1c1,-0.1 2.1,-2.6 3.1,-1.6c1,1 3.7,7.6 5,9.7c1.3,2.1 4.8,5.8 5.1,7.1c0.3,1.3 -2,2.8 -3,3.4c-1,0.6 -4.4,1.3 -5.1,1.6c-0.7,0.3 -0.6,-0.4 -0.4,0.6c0.2,1 1.3,6.4 2.1,7.5c0.8,1.1 2,1.6 4,1.6c2,0 10,-2.9 12.1,-1.6c2.1,1.3 3.9,10 4.5,12.1c0.6,2.1 -1,4 0,5.1c1,1.1 5.2,2.9 7.7,4c2.5,1.1 9.9,4 12.1,5.1c2.2,1.1 5.3,2.5 5.7,4c0.4,1.5 -3.1,6.2 -2.7,8.1c0.4,1.9 4.2,5.8 6.1,6.7c1.9,0.9 6.4,0 9.1,0.4c2.7,0.4 10.6,0.9 12.1,2.4c1.5,1.5 -0.7,7.9 -0.4,9.7c0.3,1.8 2.7,2.4 2.9,4.4c0.2,2 -1.3,10.3 -1.5,11.8 M2060.5,717.9c-0.2,0.3 -0.9,2.1 -2,2.6c-1.1,0.5 -3.7,1.2 -6.5,1c-2.8,-0.2 -12.8,-2.7 -16.2,-3c-3.4,-0.3 -9.3,-0.5 -11.1,0.4c-1.8,0.9 -3.6,5.6 -3,6.7c0.6,1.1 6.8,1.5 8.1,2c1.3,0.5 2.6,1.6 2.6,2.4c0,0.8 -1.1,2.6 -2.6,3.7c-1.5,1.1 -5.9,3.1 -9.1,5c-3.2,1.9 -13.8,7.9 -16.2,10.1c-2.4,2.1 -2.1,6 -3.1,7.1c-1,1.1 -4.2,1.1 -5,2c-0.8,0.9 -1.2,3.7 -1,5.1c0.2,1.4 2.5,4.9 2.6,6c0.1,1.1 -0.6,2.6 -1.6,3.1c-1,0.5 -4.8,0.4 -6.1,1c-1.3,0.6 -3.2,3.1 -4,4c-0.8,0.9 -1.4,2.9 -2,3.5c-0.6,0.6 -2.1,0.8 -2.5,1.6c-0.4,0.8 -0,4.2 -0.6,5c-0.6,0.8 -2.7,1.2 -4,1c-1.3,-0.2 -5,-2.7 -6.1,-2.4c-1.1,0.3 -2,3.8 -3,4.5c-1,0.7 -3.8,0.5 -4.6,1c-0.8,0.5 -2.1,2.2 -2,3c0.1,0.8 2.8,2.2 3,3c0.2,0.8 0,3.2 -1,3.1c-1,-0.1 -5.2,-3.2 -7.1,-4.1c-1.9,-0.9 -6.1,-3.2 -8.1,-3c-2,0.2 -6.5,4.1 -8.1,4.7c-1.6,0.6 -3.4,0.7 -5,0.4c-1.6,-0.3 -6.8,-2.5 -8.1,-2.5c-1.3,0 -2.3,0.7 -2.4,2.5c-0.1,1.8 1,8.8 1.4,12.1c0.4,3.3 1.8,12.3 2,14.1 M1725.9,728.6c0.5,0.1 2.2,0.8 4.1,1c1.9,0.2 8.7,0.4 11.1,1c2.4,0.6 6.1,2.6 8.1,4.1c2,1.5 5.6,5.7 8.1,8.1c2.5,2.4 10,9.3 12.1,11.1c2.2,1.8 3.8,2 5.1,3c1.3,1 2.3,4.3 5,5.1c2.7,0.8 13.7,0.6 16.2,1c2.5,0.4 2.5,1.5 4,2c1.5,0.5 5.7,1.4 8.1,2c2.4,0.6 8.5,2.9 11.1,2.6c2.7,-0.3 7.9,-4.2 10.1,-5.2c2.2,-1 5.4,-2.9 7.1,-2.4c1.7,0.5 4.8,4.4 6.1,6c1.3,1.6 4.4,5.2 4,7.1c-0.4,1.9 -7,7 -7,8.1c0,1.1 4.9,-0 7,1c2.1,1 7.9,5.2 10.1,7.1c2.2,1.9 6.8,6.3 7.1,8.1c0.3,1.8 -6.2,3.3 -4.6,6c1.6,2.7 15.8,12.9 17.8,15.6c2,2.7 -2.5,4.1 -2.1,5.7c0.4,1.6 5,5.4 5.1,7c0.1,1.6 -4,5.2 -4.1,6.1c-0.1,0.9 2.3,1.2 3.1,1c0.8,-0.2 2.1,-2.9 3,-3c0.9,-0.1 3.3,2.1 4.1,2c0.8,-0.1 1.8,-1.8 2,-2.6c0.2,-0.8 -1.5,-1.4 0,-3.5c1.5,-2.1 9.9,-12.1 12.1,-13.5c2.2,-1.4 3.6,1.5 5.1,2.4c1.5,0.9 5.5,4.5 7,5.1c1.5,0.6 3.8,0.4 5.1,0c1.3,-0.4 3.6,-2.7 5,-3.1c1.4,-0.4 5.3,0 6.1,0 M1716.7,555.6c0.1,1.5 1.3,9.4 0.9,11.8c-0.5,2.4 -3.3,5.6 -4.5,7.1c-1.2,1.5 -4.5,3 -5,5c-0.5,2 0.2,9 1,11.1c0.8,2.1 3.5,4.8 5,6.1c1.5,1.3 5.6,3.5 7.1,4c1.5,0.5 3.8,-0.5 5.1,0c1.3,0.5 3.3,3.1 5,4.1c1.7,1 7.2,3.8 8.7,4c1.5,0.2 2.1,-2.6 3.1,-2.5c1,0.1 4.3,1.8 5.1,3.6c0.8,1.8 0.9,8.3 1.4,10.5c0.5,2.2 1.8,5.8 2.6,7.1c0.8,1.3 3.5,2.1 4.1,3c0.6,0.9 0,3.1 1,4.1c1,1 5.5,3.4 7,4c1.5,0.6 4.3,1.3 5.1,1c0.8,-0.3 0.1,-3.1 1,-3.4c0.9,-0.3 5.2,0.2 6.1,0.8c0.9,0.6 1.1,2.9 1,3.7c-0.1,0.8 -2.6,0.9 -2,3c0.6,2.1 6.2,12.1 7,14.1c0.8,2 0.3,1.7 -1,2.1c-1.3,0.4 -9.1,0.4 -9.1,1.4c0,1 8.1,5.4 9.1,6.6c1,1.2 -0.4,2.5 -1,3.1c-0.6,0.6 -2.1,1.8 -4,2c-1.9,0.2 -9.4,-0.8 -11.1,-0.4c-1.7,0.4 -2.4,2.3 -2.5,3.4c-0.1,1.1 1.3,4.3 2,5.1c0.7,0.8 3,0.7 3.5,1.6c0.5,0.9 1.5,3.5 0.6,5.5c-0.9,2 -6.1,8.3 -7.7,10.1c-1.6,1.8 -3.6,3.1 -5,4c-1.4,0.9 -4.4,3 -6.1,3.5c-1.7,0.5 -5.2,0.7 -7.1,0.6c-1.9,-0.1 -6.6,-0.9 -8.1,-1.5c-1.5,-0.6 -2.8,-3.3 -3.6,-3.6c-0.8,-0.3 -1.7,0.5 -2.4,1c-0.7,0.5 -2.2,2.2 -3.1,3.1c-0.9,0.9 -3.4,2.9 -4,4c-0.6,1.1 -1.4,3.6 -1,5.1c0.4,1.5 3.4,5.2 4,7c0.6,1.8 0.9,6.2 1,7.1 M1499.8,486.9c0.4,0.2 1,1.3 3,1.6c2,0.3 11.2,1.4 13.2,1c2,-0.4 2,-3.4 3,-4c1,-0.6 3.6,-0.9 5.1,-0.6c1.5,0.3 2.1,1.9 7,3.2c4.9,1.3 26.7,5.4 32.4,6.9c5.7,1.5 10.6,5 13.1,5.3c2.5,0.3 5.3,-2.2 7.1,-2.7c1.8,-0.5 6.8,-0.8 7.1,-1.4c0.3,-0.6 -4.3,-2.4 -4.7,-3.2c-0.4,-0.8 0.3,-2.7 1.7,-3.5c1.4,-0.8 7.1,-3 9.1,-2.6c2,0.4 4.7,4.2 7,5.7c2.3,1.5 9.5,5.8 11.2,6c1.7,0.2 1.1,-3.7 2,-4.4c0.9,-0.7 4.1,-0.6 5,-1.2c0.9,-0.6 0.6,-2.6 2,-3.5c1.4,-0.9 7.3,-3.8 9.1,-4c1.8,-0.2 4.3,-0.1 5.1,2c0.8,2.1 0.4,12.6 1,15.2c0.6,2.6 2.3,4 4.1,6c1.8,2 9.1,8.2 10.1,10.2c1,2 -2,4.2 -2.1,6c-0.1,1.8 0.1,7.1 1.1,8.1c1,1 5.6,-1.4 7,-0.4c1.4,1 3,6.9 4.1,8.5c1.1,1.6 4.4,2.8 5,4c0.6,1.2 0.4,4.7 -0.4,5.7c-0.8,1 -5.2,1 -5.6,2.4c-0.5,1.4 1,8.3 2,9.1c1,0.8 4.1,-2.8 6.1,-3c2,-0.2 7.8,1.4 10.1,1.6c2.3,0.2 6.7,1.1 8,0.4c1.3,-0.7 1.3,-5.5 2.1,-6.1c0.8,-0.5 2.2,1.9 4,1.7c1.8,-0.2 7.4,-3.5 10.1,-3.7c2.7,-0.2 10.2,2.1 11.7,2.4 M1390.6,519.5c1.3,0 8,1.1 10.1,0.4c2.2,-0.7 4.9,-4.8 7.1,-6.1c2.2,-1.3 8.3,-3.7 10.1,-4c1.8,-0.2 3,2.1 4.1,2c1.1,-0.1 3.9,-2.5 5,-2.7c1.1,-0.2 3,0.4 4.1,1.3c1.1,0.9 3.1,5.2 5,6c1.9,0.8 8,0.5 10.1,0.4c2.2,-0.1 6,-1.1 7.1,-1c1.1,0.1 1.1,1.8 2,2c0.9,0.2 3.2,0.7 5.1,0c1.9,-0.7 8.1,-4.5 10.1,-5.4c2,-0.9 4.8,-0.8 6.1,-1.6c1.3,-0.8 2.2,-3.6 4,-5.1c1.8,-1.5 8.2,-5.5 10.1,-7.1c1.9,-1.6 4,-4.5 5.1,-6c1.1,-1.5 3.5,-5 4,-5.7 M1390.6,519.5c-0.4,0.9 -2.2,5.6 -3,7.4c-0.8,1.8 -2.4,5.6 -3,7.1c-0.6,1.5 -1.3,4.5 -1.5,5.1 M1383.1,539.1c0.9,1.3 5.4,8.2 7.5,10.1c2.1,1.9 7.2,4.5 9.1,5c1.9,0.5 5.2,-1.4 6.1,-1c0.9,0.4 1.5,3.1 1,4.1c-0.5,1 -4.8,2.5 -5.1,4c-0.2,1.5 1.8,6.7 3.1,8.1c1.3,1.4 5.5,1.7 7.1,3c1.6,1.3 4.6,5.3 6,7.1c1.4,1.8 4.5,5 5.1,7.1c0.6,2.1 0.6,8.2 0,10.1c-0.6,1.9 -5,3.2 -5.1,5c-0.1,1.8 3,7.2 4.1,9.1c1.1,1.9 3.9,5.2 5,6.1c1.1,0.9 2.4,0.4 4.1,1c1.7,0.6 7.7,2.2 9.1,4.1c1.4,1.9 -0,9 2,11.1c2,2.1 12.1,4.1 14.1,6.1c2,2 1.2,8.1 2.1,10.1c0.9,2 4.5,4.5 5,6c0.5,1.5 -0.2,4.7 -1,6.1c-0.8,1.4 -4,3.4 -5.1,5c-1.1,1.6 -4,5.3 -3.4,7.7c0.6,2.4 6.7,8.4 8.5,11.6c1.8,3.2 5.1,10.7 5.7,14.1c0.6,3.4 -0.5,11.1 -0.6,12.7 M1383.1,539.1c-0.7,-0.1 -4.4,-1.2 -5.6,-1c-1.2,0.2 -3.5,2.1 -4.1,3c-0.6,0.9 -1.1,2.9 -1,4c0.1,1.1 2.5,3.8 2.1,5.1c-0.4,1.3 -3.8,4.2 -5.1,5c-1.3,0.8 -3.6,0.1 -5.1,1.1c-1.5,1 -6.4,5 -7,7c-0.6,2 1.6,7.3 2,9.1c0.4,1.8 1.9,4.2 1,5.1c-0.9,0.9 -7.1,0.6 -8.1,2c-1,1.4 0.6,6.8 0,9.1c-0.6,2.3 -3.6,6.7 -5,9.1c-1.4,2.4 -3.8,9.1 -6.1,10.1c-2.3,1 -10.4,-1 -12.1,-2c-1.7,-1 -0.6,-5.5 -1.1,-6.1c-0.5,-0.6 -2.5,0.2 -3,1c-0.5,0.8 -0.1,4.4 -1,5.1c-0.9,0.7 -5.1,-0 -6.1,0.4c-1,0.5 -1,4.1 -2,3.2c-1,-0.9 -3.8,-9.5 -6,-10.7c-2.2,-1.2 -8.3,0.1 -11.2,1c-2.9,0.9 -9.9,5.5 -12.1,6.5c-2.2,1 -4,0.6 -5.1,1.6c-1.1,1 -3.3,4.8 -3.4,6.1c-0.1,1.3 2.3,2.9 2.4,4c0.1,1.1 -1.6,4 -1.6,5.1c0,1.1 1.8,2.2 1.6,4c-0.2,1.8 -2,7.5 -3,10.1c-1,2.6 -4.5,9.2 -5.1,11.1c-0.6,1.9 -0.5,3.2 0,4.1c0.5,0.9 3.6,2.1 4.1,3c0.5,0.9 0.5,3 -0.4,4.1c-0.9,1.1 -5.5,3.5 -6.7,5c-1.2,1.5 -1.7,5.6 -3,7.1c-1.3,1.5 -5.5,3.5 -7.1,5.1c-1.6,1.6 -4.4,6.1 -5.9,8c-1.5,1.9 -5,5.6 -6,7.1c-1,1.5 -1.1,4.6 -2.1,5.1c-1,0.5 -4.5,-1.2 -6,-1c-1.5,0.2 -4.3,2.2 -6.1,3c-1.8,0.8 -6.3,3.3 -8.1,3c-1.8,-0.3 -4.4,-4.6 -6,-5.4c-1.6,-0.8 -5.7,-1.4 -7.1,-1.2c-1.4,0.2 -2.5,2.5 -4.1,3.2c-1.7,0.7 -7.3,2.6 -9.1,2.4c-1.8,-0.2 -3.9,-4.1 -5,-4.4c-1.1,-0.3 -3.2,0.2 -4.1,2c-0.9,1.8 -2.4,10.2 -3,12.5c-0.6,2.3 -1.5,5.5 -2,5.7c-0.5,0.2 -0.7,-3 -2,-3.7c-1.3,-0.7 -5.4,-1.4 -8.1,-2c-2.7,-0.6 -11.2,-1.7 -13.2,-3c-2,-1.3 -2.1,-6.6 -3,-7.1c-0.9,-0.5 -3.1,2 -4,3c-0.9,1 -1.8,4.6 -3.1,5.1c-1.3,0.5 -5.5,-1.2 -7.1,-1c-1.6,0.2 -4.5,2.4 -6,3c-1.5,0.6 -4.6,0.7 -6.1,2c-1.5,1.3 -5,6.5 -6,8.1c-1,1.6 -0.4,4.3 -2.1,5.1c-1.7,0.8 -9.1,1.6 -11.1,1c-2,-0.6 -3.9,-5.1 -5,-6.1c-1.1,-1 -3.1,-1.7 -3.6,-1.9 M1077,642.2c0.6,0.2 4,0.5 4.5,2c0.5,1.5 -0.7,8.1 -0.4,10.1c0.2,2 1.3,4.8 2.4,6.1c1.1,1.3 5.5,2.9 6.1,4c0.6,1.1 -0.6,4.2 -1.1,5.1c-0.5,0.9 -2.7,0.6 -2.6,2c0.1,1.4 3.4,7.3 3.7,9.1c0.3,1.8 -0.1,3.8 -1.1,5.1c-1,1.3 -5.8,3.7 -6.6,5c-0.8,1.3 0,3.6 0.6,5.1c0.6,1.5 2.9,5.8 4,7c1.1,1.2 3.4,1 5.1,2.5c1.7,1.5 6.5,8 8.1,9.7c1.6,1.7 3.9,3.6 4.5,4.1 M889.4,624c1,-0.1 5.6,-1 8.1,-1c2.5,-0 9.1,0.9 12.1,0.6c3,-0.3 9.3,-2.8 12.1,-3.3c2.8,-0.5 8.2,-0.2 10.2,-0.4c2,-0.2 4.2,-1.3 6,-1c1.8,0.3 6.5,2.8 8.1,3.1c1.6,0.3 4,-0.1 5.1,-1c1.1,-0.9 2.1,-5.3 4,-6.1c1.9,-0.8 9,-0.5 11.1,0c2.1,0.5 4.4,3.8 6.1,4c1.6,0.2 5,-2.4 7.1,-2.6c2.1,-0.2 8.2,2.1 10.1,1.2c1.9,-0.9 3.6,-7.3 5,-8.7c1.4,-1.4 5,-1.8 6.1,-2.6c1.1,-0.8 1.6,-3.6 3,-4c1.4,-0.4 7,0.6 8.1,1.2c1.1,0.6 0.5,2.6 1,3.4c0.5,0.8 2.6,1.6 3.1,3c0.5,1.4 0.2,6.5 0.6,8.1c0.4,1.6 1.5,3.8 2.4,5.1c0.9,1.3 5.2,3.6 5,5.4c-0.2,1.8 -6.6,7.6 -7,9.3c-0.4,1.7 3.2,3.3 4,4.5c0.8,1.2 2,3.9 2,5c-0,1.1 -2.4,3.3 -2.4,4.1c0,0.8 0.1,2.1 2.4,2.6c2.3,0.5 12.3,1.4 16.2,1.4c3.9,0 13.1,-0.8 15.2,-1.4c2.1,-0.6 0,-3 1.4,-3.6c1.4,-0.6 7.6,-0.7 9.7,-1.6c2.1,-0.9 5.6,-4.7 7.1,-5.5c1.5,-0.8 4,-0.9 4.6,-1 M812.3,486.1c0.8,1.1 4.8,7.1 6.3,8.5c1.6,1.4 6.1,2 6.1,3c0,1 -5,3.1 -6.1,5.1c-1.1,2 -3.5,9.4 -3,11.1c0.5,1.7 6.1,1.7 7.1,2.6c1,0.9 -0.7,2.9 1,4.5c1.7,1.6 11.3,6.6 12.7,8.1c1.4,1.5 -1.6,3.4 -1.2,4c0.4,0.6 3.5,0.4 4.7,1c1.2,0.6 4.2,3.1 5,4.1c0.8,1 0.1,3.5 1,4c0.9,0.5 4.7,0.8 6.1,0c1.4,-0.8 4,-5.6 5,-6.1c1,-0.5 2.7,1 3.1,2.1c0.4,1.1 -0.6,5.2 0,7c0.6,1.8 4.5,5.7 5,7.1c0.5,1.4 -0.5,3.5 -1,4.1c-0.5,0.6 -3.1,0.4 -3,1c0.1,0.6 4,2.6 4,4c0,1.4 -4.1,5.8 -4,7.1c0.1,1.3 4.3,2 5,3c0.7,1 1.2,4.1 0.7,5.1c-0.5,1 -2.8,2.6 -4.7,3c-1.9,0.4 -9,-0.5 -10.1,0c-1.1,0.5 0.4,2.8 1,4.1c0.6,1.3 4.1,4.6 4,6c-0.1,1.4 -4.5,4.1 -5,5.1c-0.5,1 -0.2,2.4 0.6,3c0.8,0.6 4.7,1.1 5.5,2c0.8,0.9 0.1,3.1 1,5.1c0.9,2 5.1,9.5 6.4,11.1c1.3,1.6 1.7,1.2 3.7,2c2,0.8 9.6,3.3 12.1,4.1c2.5,0.8 7.1,1.8 8.1,2 M889.4,624c-0.7,0.4 -5.4,2.4 -5.7,3c-0.2,0.6 3.8,1.1 3.7,2c-0.1,0.9 -3,4.4 -4.1,5.1c-1.1,0.7 -4.1,-0.1 -5,0.4c-0.9,0.5 -2.1,2.6 -2,3.6c0.1,1 2.1,3.1 3,4.1c0.9,1 4.2,2.6 4.4,4c0.2,1.4 -1.6,5.3 -2.4,7.1c-0.8,1.8 -3.9,5.8 -4,7.1c-0.1,1.3 3.4,2.4 3,3c-0.4,0.6 -5.2,1.1 -6.1,2c-0.9,0.9 -1.5,3.8 -1,5.1c0.5,1.3 4.8,3.9 5.1,5c0.2,1.1 -3,3.3 -3.1,4.1c-0.1,0.8 0.7,1.7 2.1,2c1.4,0.3 7.8,-0.2 9.1,0.6c1.3,0.8 1.8,4.4 1.4,5.5c-0.4,1.1 -4.6,1.7 -4.9,3c-0.3,1.3 1.8,6 2.5,7.1c0.7,1.1 2.2,0.5 3,2c0.8,1.5 3.4,8.1 3.4,10.1c0,2 -3.4,4.6 -3.4,6.1c-0,1.5 2.5,4.2 3,6c0.5,1.8 2.2,6.9 1.4,8.1c-0.9,1.2 -6.4,0.7 -8.2,1.7c-1.8,1 -3.7,5.9 -6,6c-2.3,0.1 -9.9,-4.4 -12.2,-5.4c-2.3,-1 -4.7,-3.1 -6,-2.6c-1.3,0.5 -2.8,5.9 -4.1,6.6c-1.3,0.8 -4.7,-0.6 -6,-0.6c-1.3,0 -3.2,-0.1 -4.1,1c-0.9,1.1 -2.1,6.6 -3,8.1c-0.9,1.5 -2.7,2.6 -4,4.1c-1.3,1.5 -5.6,5.6 -6.1,7.6c-0.5,2 2.2,6.8 2,8.5c-0.2,1.7 -3.5,3.1 -3.4,5.1c0.1,2 3.4,8.4 4,11.1c0.6,2.6 0.4,8 0.8,10.1c0.4,2.1 2.8,6 2.7,7.1c-0.1,1.1 -3,0.6 -3.5,2c-0.5,1.4 -0.1,6.2 -0.6,9.1c-0.5,2.9 -3,12.4 -3.4,14.2 M698.7,554.7c-0.4,0.3 -3.4,1.7 -2.8,2.5c0.6,0.8 6.8,3 7.5,4c0.7,1 -1.1,3.4 -2.1,4c-1,0.6 -5.8,0.3 -6,1.1c-0.2,0.8 4,3.7 4,5c0,1.3 -4,4.1 -4,5.1c0,1 3.6,2 4,3c0.4,1 0.1,3.7 -1,4.6c-1.1,0.9 -7,1.8 -8.1,2.5c-1.1,0.7 -1.1,2 -1,3c0.1,1 1.9,3.8 2,5.1c0.1,1.3 -1.7,3.7 -1.4,5c0.3,1.3 3.6,3.3 4.1,5.1c0.5,1.8 -0.7,7.2 0,9.1c0.7,1.9 4.8,4.2 5.4,6c0.6,1.8 -0.1,6.5 -0.6,8.1c-0.5,1.6 -3.1,4 -3.4,5.1c-0.3,1.1 0.2,2.9 1,4c0.8,1.1 4.9,3.6 5,5.1c0.1,1.5 -3.2,5.1 -4,7.1c-0.8,2 -1.1,7.4 -2,9c-0.9,1.6 -4.2,3 -5.1,4.1c-0.9,1.1 -2.1,3.2 -2,5c0.1,1.8 2.3,7 3,9.1c0.7,2.1 1.9,6.7 2.7,8.1c0.8,1.4 3.3,1.5 4,3.1c0.7,1.6 0.9,7.6 1.4,10.1c0.5,2.5 2.9,7.9 3,10.1c0.1,2.1 -1.2,5.7 -2,7.1c-0.8,1.4 -3.4,2.7 -4,4c-0.6,1.3 -1.1,4.3 -1,6.1c0.1,1.8 1.9,6.3 2,8.1c0.1,1.8 -1.1,4.5 -1,6c0.1,1.5 2.2,4.7 2,6.1c-0.2,1.4 -3.8,3.4 -4,4.8c-0.2,1.4 2.4,4 2.3,6c-0.1,2 -2.9,8.6 -3,10.1c-0.1,1.5 1.9,1 2,2.1c0.1,1.1 -1.2,5.9 -1,7c0.2,1.1 2.2,0.6 2.6,2.1c0.4,1.5 -0.2,8.3 0.4,10.1c0.6,1.8 4.1,2.6 4.1,4c0,1.4 -4,5.7 -4.1,7.1c-0.1,1.4 2.9,2.1 3.1,4c0.2,1.9 -2.3,9.1 -1.7,11.2c0.6,2.1 5.5,5 6.7,6c1.2,1 2.9,1.2 3,2c0.1,0.8 -2.8,2.6 -2,4.1c0.8,1.5 7.6,6.2 8.5,7.7c0.9,1.5 -1.4,3.2 -1.4,4.4c0,1.2 1.2,4.5 1.4,5.1 M628.6,815.2c1.3,0.4 8.6,2.2 10.1,3.1c1.5,0.9 1.1,4.7 2.1,4.4c1,-0.2 4.6,-6.4 6,-6.4c1.4,-0 4,4.5 5.1,6c1.1,1.5 2.6,5 4,6.1c1.4,1.1 5.5,3.2 7.1,3c1.6,-0.2 4.7,-4.2 6.1,-5c1.4,-0.8 4,-0.3 5,-1c1,-0.7 2.6,-5.7 3.1,-4.7c0.5,1 0.2,10.5 1,12.7c0.8,2.2 3.9,4.6 5,5.1c1.1,0.5 4,0.1 4.1,-1c0.1,-1.1 -3.1,-6.7 -3.1,-8.1c0,-1.4 2.5,-4 3.1,-3c0.6,1 1.2,9.3 2,11.1c0.8,1.8 2.8,2.8 4,3c1.2,0.2 3.4,-1.4 5.3,-1c1.9,0.4 8,4.1 10.1,4.5c2.1,0.4 5.7,-0.9 6.5,-1 M715.2,843c0.3,-0.4 1.1,-2.6 2.6,-3.1c1.5,-0.5 7.5,-1.4 9.1,-1c1.6,0.4 3,2.5 4.1,4.1c1.1,1.6 3.7,7.7 5,9.1c1.3,1.4 4.1,2.3 5.1,2.4c1,0.1 2.8,-0.3 3,-1.4c0.2,-1.1 -1.2,-6 -1,-7.1c0.2,-1.1 1.7,-2.1 3,-2c1.3,0.1 6.1,3 7.1,3c1,-0 2,-2.5 1,-3.4c-1,-0.9 -7.7,-3 -9.1,-3.7c-1.4,-0.7 -2.1,-1.5 -2,-2c0.1,-0.5 1.1,-2.5 3,-2.4c1.9,0.1 10.6,3.5 12.2,3.4c1.6,-0.1 1,-3.1 0.6,-4c-0.4,-0.9 -3.5,-2.4 -3.7,-3c-0.2,-0.6 1.1,-2.4 2.1,-2.1c1,0.2 5.1,4.4 6,4.1c0.9,-0.2 0.4,-5.3 1,-6.1c0.6,-0.8 2.9,-0.9 3.5,0c0.6,0.9 1,5.8 1.6,7.1c0.6,1.3 2.1,3.4 3,3.6c0.9,0.2 3,-0.8 4.1,-1.6c1.1,-0.8 3.2,-4.7 5,-5c1.8,-0.3 7.7,2.2 9.1,2.4c1.4,0.2 0.6,-0.9 2,-0.8c1.4,0.1 7.5,2.2 9.1,2c1.6,-0.2 2.3,-3.4 4.1,-3.6c1.8,-0.2 8.5,1.9 10.1,1.6c1.6,-0.3 3,-3.2 3,-4.1c0,-0.9 -2.9,-2.6 -3,-3.2c-0.1,-0.6 1.1,-1.6 2.4,-1.4c1.3,0.1 6,2.7 7.7,2.6c1.7,-0.1 5,-3.1 5.7,-3.6 M831.7,823.8c0.4,0 2.5,-0.1 3.4,0.4c0.9,0.5 3.1,2.1 4.1,3.6c1,1.5 3.2,5.8 4,8.1c0.8,2.3 1.6,8.1 2,10.1c0.4,2 1.2,5.3 1.4,6.1 M846.6,852.1c-0.2,0.4 0,1.7 -1.4,3c-1.4,1.3 -8.1,6.8 -10.1,7.1c-2,0.3 -4.6,-4.4 -6.1,-4.5c-1.5,-0.1 -4.5,2 -6,3.5c-1.5,1.5 -4.7,6.8 -6.1,8.1c-1.4,1.3 -3.1,2.1 -5,2c-1.9,-0.1 -7.8,-2.3 -10.2,-3.1c-2.4,-0.8 -7.8,-4 -9.1,-3.6c-1.3,0.4 0.3,5.7 -1,6.7c-1.3,1 -6.3,1.7 -9.1,1c-2.8,-0.7 -10.7,-6.2 -13.1,-6.5c-2.4,-0.2 -5.3,2.7 -6.1,4.5c-0.8,1.8 -0,8.4 -0.4,10.1c-0.4,1.7 -1.8,3.4 -2.6,3.6c-0.8,0.2 -2.9,-0.8 -4,-1.6c-1.1,-0.8 -3.7,-5.2 -5.1,-5.1c-1.4,0.1 -5,4.6 -6.1,6.1c-1.1,1.5 0,4.7 -3,6.1c-3,1.4 -17.7,4.1 -21.2,5c-3.5,0.9 -5.3,1.6 -7.1,2.1c-1.8,0.5 -6.1,0.1 -7.1,1.6c-1,1.5 -0.5,8 -1,10.5c-0.5,2.5 -2,7.1 -3,9.1c-1,2 -4,5.3 -5.1,7.1c-1.1,1.8 -2.9,5.4 -4,7c-1.1,1.6 -0.9,5 -5.1,6.1c-4.2,1.1 -22.2,1.9 -28.3,3c-6.1,1.1 -14.5,4.7 -20.2,5.7c-5.7,1 -18.8,1.6 -25.5,2.4c-6.7,0.8 -24,2.6 -28.3,3.6c-4.3,1 -4.1,1.7 -6.1,4.1c-2,2.4 -8.1,12.3 -10.1,15.1c-2,2.8 -4.3,5.7 -6.1,7.1c-1.8,1.4 -5.8,3.3 -8.1,4.1c-2.3,0.8 -8.8,1.8 -10.1,2 M1006.2,933.1c-0.4,-0.6 -2.6,-2.5 -3.4,-4.5c-0.8,-2 -2.2,-9.1 -3.1,-11.1c-0.9,-2 -2,-4.2 -4,-5c-2,-0.8 -9.2,-0.4 -12.1,-1.1c-2.9,-0.7 -9.1,-4.4 -11.2,-4.6c-2.1,-0.2 -5,1.3 -6,2.6c-1,1.3 -1.6,6.4 -2.1,8.1c-0.5,1.7 -1.2,5.2 -2,5.5c-0.8,0.2 -3.1,-2.3 -4,-3.5c-0.9,-1.2 -2.9,-4.6 -3.1,-6c-0.2,-1.4 1.9,-4 1.7,-5.1c-0.2,-1.1 -2.7,-3.8 -3.7,-4c-1,-0.2 -3,1 -4,2c-1,1 -3.3,5.3 -4.1,5.7c-0.8,0.4 -2.4,-1.7 -2.4,-2.7c-0,-1 1.2,-3.6 2,-5c0.8,-1.4 4,-4.8 4.5,-6.1c0.5,-1.3 0.6,-3.6 -0.4,-4.4c-1,-0.8 -5.6,-2.5 -7.7,-2.1c-2.1,0.4 -7.6,4.9 -9.1,5.5c-1.5,0.6 -2.4,0 -3,-1c-0.6,-1 -1.3,-6.3 -2.1,-7.1c-0.8,-0.8 -2.9,0.6 -4,1c-1.1,0.4 -4.1,2 -5.1,2c-1,-0 -2.5,-1.3 -2.6,-2.4c-0.1,-1.1 2,-5.2 1.6,-6.7c-0.4,-1.5 -3,-4.1 -5,-5c-2,-0.9 -9.1,-1.4 -11.1,-2c-2,-0.6 -4.1,-2.3 -5.1,-3.1c-1,-0.8 -1.9,-1.9 -2.6,-3c-0.7,-1.1 -2.1,-4.4 -3.3,-5.8c-1.2,-1.4 -4.5,-3.9 -6.1,-5c-1.6,-1.1 -4.2,-3.6 -7,-4.1c-2.8,-0.5 -13.1,0.6 -15.2,0c-2.1,-0.6 -1.4,-4.2 -2,-5c-0.6,-0.8 -1.8,-1.1 -3.1,-1.1c-1.3,0 -5.8,1.1 -7,1.5c-1.2,0.4 -2.4,1.4 -2.7,1.6 M1006.2,933.1c1.5,-0.7 9.3,-3.9 11.7,-5.5c2.4,-1.6 5.7,-5.8 7.1,-7.1c1.4,-1.3 3.6,-1.9 4,-3c0.4,-1.1 -1.5,-5 -1,-6.1c0.5,-1.1 3.6,-3.3 5.1,-3c1.5,0.3 5,3.8 7.1,5.1c2.2,1.3 7.3,4.8 10.1,5.4c2.8,0.6 9.1,0.3 12.1,-0.4c3,-0.7 9.6,-5 12.1,-5c2.5,-0 5.8,4 8.1,4.6c2.3,0.6 7.7,0.4 10.1,0.4c2.4,0 7.6,0.5 9.1,-0.4c1.5,-0.9 3.2,-5 3.1,-6.7c-0.1,-1.7 -4.1,-5.4 -3.7,-6.6c0.4,-1.2 5,-2.1 6.7,-2.9c1.7,-0.8 5.9,-3.1 6.7,-3.6 M1140.5,858.7c-0,0.7 0.4,4.4 -0.4,5.5c-0.8,1.1 -4.6,3.6 -5.7,3c-1.1,-0.6 -2.1,-7 -3,-8.1c-0.9,-1.1 -2.8,-1.8 -4.1,-1c-1.3,0.8 -5.1,5.8 -6.6,7.7c-1.5,1.9 -4.7,5.7 -5.5,7.5c-0.8,1.8 -0.4,5.2 -1,7c-0.6,1.8 -4.2,5.8 -4.1,7.1c0.1,1.3 4.5,1.7 5.1,3.1c0.6,1.4 -0.5,6.8 -0.6,7.8 M1104.2,719.1c-0.2,0.1 -2,0.6 -1.7,1.1c0.3,0.5 4,2.1 4.4,3.1c0.5,1 -0.5,3.6 -0.8,5c-0.3,1.4 -1.4,4.8 -2,6.1c-0.6,1.3 -2.4,3.1 -2.7,4c-0.3,0.9 0.8,2.1 0,3c-0.8,0.9 -4.9,3 -6,4.1c-1.1,1.1 -3,3.8 -3.1,5c-0.1,1.2 1,3.7 2.1,4.5c1.1,0.8 6,0.9 7,1.6c1,0.7 1.5,3.1 1.1,4.1c-0.4,1 -4.1,3 -4.5,4c-0.4,1 0.4,3.1 1.4,4c1,0.9 5.7,2.2 6.7,3.1c1,0.9 1.6,3 1.4,4c-0.2,1 -2.5,3.2 -2.6,4.1c-0.1,0.9 0.9,2.8 1.6,3.4c0.7,0.6 3.1,-0.1 4,1.6c0.9,1.7 2.6,10.3 3.1,12.1c0.5,1.8 -0,1.7 1,2.1c1,0.4 5.6,0.4 7.1,1c1.5,0.6 4.8,3 5,4c0.2,1 -3.4,3.1 -3.6,4.1c-0.2,1 0.8,3.1 1.6,4c0.8,0.9 3.7,2.2 5.1,3c1.4,0.8 5.1,1.8 6,3.1c0.9,1.3 0.5,5.3 1,7.1c0.5,1.8 2.3,5.5 3.1,7c0.8,1.5 2.8,3.6 3,5.1c0.2,1.5 -0.4,5.6 -1,7.1c-0.6,1.5 -3.3,4.1 -4.1,5c-0.8,0.9 -2.7,1.8 -2.6,2.4c0.1,0.6 2.5,1.7 3.2,2.5c0.7,0.8 1.8,3.7 2.1,4.2 M1467.5,712.5c-0.3,0.9 -1.5,5.9 -2.1,7.5c-0.6,1.6 -3.3,3.7 -3,5.1c0.3,1.4 4.2,3.9 5.1,6c0.9,2.1 1.4,8.5 2,11.1c0.6,2.6 2.2,8.4 3,10.1c0.8,1.7 3.2,2.7 3,3.7c-0.2,1 -3.7,3.2 -5,4.4c-1.3,1.2 -3.8,4.7 -5.1,5.1c-1.3,0.4 -3.7,-1.4 -5,-2c-1.3,-0.6 -4.4,-3.5 -5.7,-3.1c-1.3,0.4 -3.3,5.1 -4.4,6.1c-1.1,1 -3,2.1 -4.1,2c-1.1,-0.1 -4.1,-3.2 -5,-3c-0.9,0.2 -1.4,4.4 -2,5c-0.6,0.6 -2.5,0.9 -3.1,-0.4c-0.6,-1.3 -0.8,-8.1 -1.6,-9.7c-0.8,-1.6 -3.6,-1.5 -4.4,-3c-0.8,-1.5 -1.5,-7.8 -2.1,-9.1c-0.6,-1.3 -2.4,-1.2 -3,-1c-0.6,0.2 -1.1,2.7 -2,3c-0.9,0.3 -4.1,0.6 -5.1,-0.4c-1,-1 -2.4,-6.6 -3,-7.7c-0.6,-1.1 -1.2,-1.3 -2,-1c-0.8,0.3 -3.3,2.1 -4.1,3.1c-0.8,1 -1.1,4.3 -2,5c-0.9,0.7 -3.8,-0.5 -5.1,0.6c-1.3,1.1 -3.7,7.1 -5,8.5c-1.3,1.4 -4.2,2.1 -5.1,3c-0.9,0.9 -2,3 -2,4.1c-0,1.1 1.7,4 1.6,5c-0.1,1 -1.8,2.8 -2.6,3.1c-0.8,0.3 -2.9,-0.2 -4,-0.6c-1.1,-0.4 -4.2,-2.3 -5.1,-2.5c-0.9,-0.2 -0.7,0.5 -2,1.1c-1.3,0.6 -6.2,2 -8.1,3.4c-1.9,1.4 -5.8,6.9 -7.1,7.7c-1.3,0.8 -2.4,0 -3,-1c-0.6,-1 -1,-5.6 -2,-7.1c-1,-1.5 -4.1,-3.6 -6.1,-4.5c-2,-0.9 -8.3,-2.4 -10.1,-2.6c-1.8,-0.2 -3.3,0 -4.1,0.6c-0.8,0.6 -1.1,3.5 -2,4.1c-0.9,0.6 -3.2,1 -5,0.8c-1.8,-0.2 -7.6,-2.8 -9.1,-2.5c-1.5,0.3 -2.4,3.3 -2.5,5.1c-0.1,1.8 1.7,7.3 1.5,9.1c-0.2,1.8 -2.2,4 -3.1,5.1c-0.9,1.1 -3.2,2.6 -4,4c-0.8,1.4 -1.1,5.9 -2,7.1c-0.9,1.2 -3.4,1.7 -5.1,2.4c-1.7,0.7 -6.7,3.2 -8.1,3.2c-1.4,-0 -1.9,-3 -3,-3.6c-1.1,-0.6 -4.2,-0.8 -6.1,-1c-1.9,-0.2 -7.3,-0.9 -9.1,-0.6c-1.8,0.3 -3.9,2.6 -5,3.2c-1.1,0.6 -2.8,1.8 -4.1,2c-1.3,0.2 -4.6,-0.1 -6,-0.6c-1.4,-0.5 -3.1,-2.8 -5.1,-3.4c-2,-0.6 -8.7,-1.5 -11.1,-1.6c-2.4,-0.1 -6.6,1 -8.1,1c-1.5,0 -3.3,-0.6 -4.1,-0.8c-0.8,-0.2 -0.5,-0.8 -2,-1c-1.5,-0.2 -8.1,-1.2 -10.1,-1c-2,0.2 -4.5,1.9 -6.1,3c-1.6,1.1 -5.7,4.3 -6.5,6.1c-0.8,1.8 0.7,6.7 0.4,8.1c-0.3,1.4 -2,2 -3,3c-1,1 -4.6,3.9 -4.6,5c0,1.1 4.1,2.1 4.6,3.5c0.5,1.4 0.4,6.2 -1,7.3c-1.4,1.1 -8.3,1.6 -10.1,1.4c-1.8,-0.2 -3,-2.4 -4.1,-2.7c-1.1,-0.3 -4,-0.8 -5,0c-1,0.8 -0.2,4.7 -2.6,6.7c-2.4,2 -13.9,8.7 -16.6,9.5c-2.7,0.8 -3.3,-3.3 -5.1,-2.8c-1.8,0.5 -7.2,6 -9.1,6.9c-1.9,0.9 -4.6,0 -6,0.6c-1.4,0.6 -4,3.5 -5.1,4c-1.1,0.5 -3,0 -3.4,0 M1467.5,712.5c1.9,0.9 11.4,5.7 15.1,7.5c3.7,1.8 11.2,5.3 14.2,7.1c3,1.8 8,5 10.1,7.1c2.2,2.1 5.1,8.6 7.1,10.1c2,1.5 6.8,1.2 9.1,2c2.3,0.8 8.1,3.1 9.1,4c1,0.9 -0.6,2.6 -1.1,3.1c-0.5,0.5 -2.8,0.1 -3,1c-0.2,0.9 -0,4.2 1,6c1,1.8 5.7,7.3 7.1,8.1c1.4,0.8 2.6,-2 4,-1.6c1.4,0.4 5.2,3.7 7.1,4.7c1.9,1 6.6,3.3 8.1,3.4c1.5,0.1 3,-2.6 4.1,-2.8c1.1,-0.2 3.7,1 5,1.4c1.3,0.4 4.3,1.1 5.1,2c0.8,0.9 0.5,5.2 1,5.1c0.5,-0.1 1.1,-4.6 2.6,-5.7c1.5,-1.1 7.7,-2.8 9.5,-2.8c1.8,0 3.3,2.1 5.1,2.8c1.8,0.7 7.6,1.6 9.1,2.6c1.5,1 2.6,4.8 3,5.5 M1725.9,728.6c-1,-0.4 -6.6,-3.2 -8.1,-3c-1.5,0.2 -3,4.3 -4,5c-1,0.7 -3.4,1.1 -4,0.6c-0.6,-0.5 -0.5,-4 -1.1,-4.6c-0.6,-0.6 -2.7,-0.9 -4,-0.6c-1.3,0.2 -4.8,1.8 -6.1,2.6c-1.3,0.8 -1.7,3.1 -4,4c-2.3,0.9 -9.6,2 -14.2,3.5c-4.5,1.5 -19.2,6.9 -22.2,8.7c-3,1.8 -1,4 -1.7,5.5c-0.7,1.5 -2.7,4.7 -4,6.1c-1.3,1.4 -5,3.6 -6.1,5c-1.1,1.4 -2.3,4.6 -3,6.1c-0.7,1.5 -2.2,4.8 -2.5,6.1c-0.3,1.3 -0.2,2.9 0.4,4c0.6,1.1 3.5,4 4.1,5.1c0.6,1.1 1.2,2.7 0.6,4c-0.6,1.3 -5.4,4.9 -5.7,6.1c-0.3,1.2 3,2.8 3.1,3.6c0.1,0.8 -1.2,1.7 -2.1,2.5c-0.9,0.8 -3.5,4.1 -5,4c-1.5,-0.1 -5.3,-4.1 -7.1,-5.1c-1.8,-1 -5.2,-1.9 -7.1,-2.6c-1.9,-0.7 -6.1,-1.9 -8.1,-2.8c-2,-0.9 -6.2,-3.5 -8,-4.7c-1.8,-1.2 -5.3,-4 -6.1,-4.6 M1599.9,783.1c-0.6,1 -4,6 -5.1,7.7c-1.1,1.7 -3.2,4.7 -4,6c-0.8,1.3 -1.4,4 -2,4.1c-0.6,0.1 -2.5,-2.1 -3.1,-3.1c-0.6,-1 -1.2,-4.8 -2,-5c-0.8,-0.2 -3,3.1 -4,3c-1,-0.1 -3,-3.6 -4.1,-4c-1.1,-0.4 -4,0.5 -5,1c-1,0.5 -2.1,2.8 -3.1,3c-1,0.2 -3.7,-1.6 -5,-1.4c-1.3,0.2 -4.8,2.1 -5.1,3.4c-0.2,1.3 1.8,5.8 3.1,7.1c1.3,1.3 4.6,2.1 7,3c2.4,0.9 10.2,3.2 12.2,4.1c2,0.9 2.9,2.4 4,3c1.1,0.6 5.1,0.9 5.1,1.6c0,0.7 -3.7,2.9 -5.1,4.1c-1.4,1.2 -3.6,4 -6.1,5.4c-2.5,1.4 -11.8,4.8 -14.1,6.1c-2.3,1.3 -2,3.1 -4,4.1c-2,1 -10.2,3.1 -12.2,4c-2,0.9 -3.9,1.9 -4,3c-0.1,1.1 2.4,4.3 3,6.1c0.6,1.8 1.9,6.6 2,8.1c0.1,1.5 -1.3,2.7 -1,4c0.3,1.3 2.6,3.8 3.1,6.1c0.5,2.3 0.5,10.3 1,12.1c0.5,1.8 2.8,0.5 3,2c0.2,1.5 -0.6,8.7 -1.4,10.2c-0.8,1.5 -3,0.5 -4.7,2c-1.7,1.5 -7.3,9 -9.1,10.1c-1.8,1.1 -3.5,-1.9 -5,-1c-1.5,0.9 -5.7,6.5 -7.1,8.1c-1.4,1.6 -3.4,5.8 -4,5c-0.6,-0.8 -0.7,-9.6 -1.1,-11.1c-0.4,-1.5 -1.6,-1.8 -2,-1c-0.4,0.8 -1.2,5.5 -1.4,7.1c-0.2,1.6 0.5,4.9 0,6c-0.5,1.1 -2.3,2.7 -3.6,3.1c-1.3,0.4 -5.6,-0.1 -7.1,0.4c-1.5,0.5 -3.6,2.3 -5.1,4c-1.5,1.7 -6.1,8.1 -7,9.3 M1178.7,911.4c0.2,-0.6 0.1,-4.2 2,-5c1.9,-0.8 10.2,-1.1 13.1,-1c2.9,0.1 7.8,1.6 10.1,2c2.3,0.4 6.6,1.3 8.1,1c1.5,-0.3 2.4,-2.8 3.7,-3.6c1.3,-0.8 4.2,-2.3 6.4,-2.5c2.2,-0.2 9.5,0.6 11.1,1.1c1.7,0.5 1.3,3.2 2.1,3c0.8,-0.2 3.6,-4.7 4.6,-4.7c1,0 2.4,4.1 3.5,4.7c1.1,0.6 3.5,0.9 5,0.4c1.5,-0.5 6,-3.3 7.1,-4.5c1.1,-1.2 0.9,-4.1 2,-5c1.1,-0.9 4.6,-1.9 7.1,-2c2.5,-0.1 11.1,0 13.1,1.4c2,1.4 2.3,8.4 3.1,9.7c0.8,1.3 2.5,0.2 3,1c0.5,0.8 -0.9,4.2 1,5.1c1.9,0.9 11.9,2 14.2,2c2.3,0 3,-2 4,-2c1,0 3.2,1.9 4,2c0.8,0.1 1.1,-1.1 2.1,-1c1,0.1 5,0.6 6,2c1,1.4 1,8.1 1.6,9.1c0.6,1 2.8,-0.1 3.5,-1c0.7,-0.9 1.1,-5.5 2,-6.1c0.9,-0.6 4.2,1.4 5.1,1c0.9,-0.4 0.5,-3.8 2,-4c1.5,-0.2 7.7,1.7 9.8,2c2.1,0.3 5.9,-0.1 7,0.6c1.1,0.7 2,3.9 2.1,5.1c0.1,1.2 -0.1,3.5 -1,4.4c-0.9,0.9 -5.2,2.1 -6.1,2.7c-0.9,0.6 -1.2,1 -1,2c0.2,1 1.7,4.4 3,6c1.3,1.6 5.7,6.1 7.1,7.1c1.4,1 2.9,-0.3 4,1c1.1,1.3 4.9,7.2 5.1,9.1c0.2,1.9 -3.5,4.8 -3.7,6.1c-0.2,1.3 1.4,2.7 1.7,4c0.3,1.3 -0.6,5.7 1,6.5c1.6,0.8 10.5,0.4 12.1,0c1.6,-0.4 0.4,-3 1,-3.4c0.6,-0.4 2.8,-0.4 4.1,0c1.3,0.4 4.9,1.9 6,3c1.1,1.1 2.1,4.6 3.1,5.7c1,1.1 3.9,2.8 5,3c1.1,0.2 3.2,-0.2 4.1,-1c0.9,-0.8 2,-4.2 3,-5.7c1,-1.5 3.5,-5.2 5,-6c1.5,-0.8 5.3,-0.8 7.1,-0.4c1.8,0.4 5.5,2.9 7.1,3.4c1.7,0.5 4.3,0.6 6.1,1c1.8,0.4 5.8,2.3 8.1,2.4c2.3,0.1 7.6,-1 10.1,-1.4c2.5,-0.4 8.8,-0.4 10.1,-1.4c1.3,-1 -0.1,-5.6 0.4,-6.7c0.5,-1.1 3.4,-0.9 3.6,-2c0.2,-1.1 -2.4,-6 -2,-7.1c0.4,-1.1 4.1,-1.4 5,-2c0.9,-0.6 2.4,-2.4 2.1,-3c-0.2,-0.6 -3.5,-1.2 -4.1,-2c-0.6,-0.8 -1.2,-3.1 -1,-4.1c0.2,-1 1.5,-3.2 3,-4c1.5,-0.8 7.6,-2.2 9.1,-2.1c1.5,0.1 2.3,3 3.1,3.1c0.8,0.1 1.9,-1.2 3,-2c1.1,-0.8 4.9,-3.4 5.7,-4.5c0.8,-1.1 -0.2,-3.9 0.4,-4.6c0.5,-0.7 2.6,-0.8 4,-1.1c1.4,-0.3 5.5,-1.7 7.1,-1c1.7,0.7 5.3,5.9 6.1,6.7 M1114.6,898.3c0.8,0 5,-0.1 6.4,0.4c1.4,0.5 4.1,3.7 5.1,3.6c1,-0.1 2.2,-3.5 3,-4.4c0.8,-0.9 2.5,-2.5 3.1,-2.6c0.6,-0.1 1.1,2 2,2c0.9,0 3.9,-2.8 5,-2c1.1,0.8 3.1,6.7 4.1,8.1c1,1.4 1.5,2.6 4,3.4c2.5,0.8 12.9,2.1 16.2,2.6c3.3,0.5 8.2,0.8 10.1,1c1.9,0.2 4.5,0.9 5.1,1 M1178.7,911.4c-0.2,0.8 0.1,4.7 -1.5,6.1c-1.6,1.4 -9.7,3.2 -11.3,5.1c-1.6,1.9 -2.1,8 -1.4,10.1c0.7,2.1 5.8,5.3 7.1,7.1c1.3,1.8 2.4,4.6 3,7c0.6,2.4 1.2,9.5 2,12.2c0.8,2.7 2.8,7.6 4.1,9.1c1.3,1.5 5.2,2.1 6,3c0.8,0.9 1.1,3 0.7,4c-0.4,1 -3.9,2.8 -3.7,4.1c0.2,1.3 4.6,4.5 5.1,6c0.5,1.5 -1.8,4.4 -1.4,6.1c0.4,1.6 3.1,5.8 4.4,7.1c1.3,1.3 4.6,2.8 6.1,3c1.5,0.2 4.5,-0.6 6,-1c1.5,-0.4 4.3,-2.1 6.1,-2c1.8,0.1 6.7,1.9 8.1,3c1.4,1.1 2.2,6.2 3,6.1c0.8,-0.1 1.6,-6 3,-7.1c1.4,-1.1 7,-2.3 8.1,-1.4c1.1,0.9 -0.2,7.3 0.4,8.5c0.6,1.2 3.4,-0 4.7,1c1.3,1 4.8,5.5 5.4,7.1c0.6,1.6 0,4.5 -0.4,6c-0.4,1.5 -2.5,4.2 -3,6.1c-0.5,1.9 -1.6,6.6 -1.4,9.1c0.2,2.5 2.3,8.1 3.4,11.1c1.1,3 2.8,11.2 5.1,13.2c2.3,2 11.2,2.3 13.1,3c1.9,0.7 -0.1,2.5 2.1,2.4c2.2,-0.1 13,-3.6 15.1,-3.4c2.1,0.2 2.3,3.6 1.6,5c-0.8,1.4 -6.6,4.6 -7.6,6.1c-1,1.5 -1.4,5 -0.5,6.1c0.9,1.1 5.8,2.8 7.5,3c1.7,0.2 4.8,-2 6.1,-1.4c1.3,0.6 2.7,5.1 4,6.5c1.3,1.4 5.6,2.9 6.1,5c0.5,2.1 -1.2,9.9 -2,12.1c-0.8,2.2 -3.1,4.5 -4.7,5.6c-1.6,1.1 -5.8,2.7 -8.1,3.5c-2.3,0.8 -8.3,2 -10.1,2.6c-1.8,0.6 -3.1,1.6 -4.1,2c-1,0.4 -3.8,-0.1 -4,1c-0.2,1.1 0.7,6.1 2,8.1c1.3,2 6.3,6.2 8.1,8.1c1.8,1.9 5,4.1 6,7.1c1,3 1.4,13 1.7,17.2c0.3,4.2 0.7,14.1 0.8,16.1 M1279.5,1176.8c-1.3,0.1 -7.5,0.4 -10.5,1c-3,0.6 -10.8,3.2 -13.2,4.1c-2.4,0.9 -4.1,2 -6,3c-1.9,1 -7.1,4.4 -9.1,5.1c-2,0.7 -5.7,-0.3 -7.1,0.6c-1.4,0.9 -3.8,4.6 -4.1,6.4c-0.2,1.8 1.5,6.6 2.1,8.1c0.6,1.5 2.9,2.6 2.6,4.1c-0.3,1.5 -3.4,6.2 -4.7,8.1c-1.3,1.9 -4.5,5.7 -6,7c-1.5,1.3 -5.8,2.1 -6.1,3.1c-0.3,1 3.9,3.5 4,5c0.1,1.5 -1.6,4.7 -3,7.1c-1.4,2.4 -6.2,9.2 -8.1,12.1c-1.9,2.9 -5.6,8.4 -7,11.2c-1.4,2.8 -2.6,8.8 -4.1,11.1c-1.5,2.3 -6.2,5.3 -8.1,7.1c-1.9,1.8 -6.1,5.9 -7.1,7c-1,1.1 0.2,-0.1 -0.9,1.5c-1.1,1.6 -6.1,8.6 -8.1,11.1c-2,2.5 -5.8,7 -8.1,9.1c-2.3,2.2 -8.7,8.1 -10.1,8.1c-1.4,0 -0.8,-6.7 -1,-8.1c-0.2,-1.4 -0.6,-3.2 -1,-3c-0.4,0.2 -1.7,3.5 -2.1,5c-0.4,1.5 -0.4,6.1 -1,7.1c-0.6,1 -2.9,1.4 -4,1c-1.1,-0.4 -4,-3.5 -5.1,-4c-1.1,-0.5 -3.1,-0.6 -4,0c-0.9,0.6 -2.3,3 -3.1,5c-0.8,2 -2.4,9.3 -3,11.2c-0.6,1.9 -1.4,4.3 -2,4c-0.6,-0.3 -1.6,-5.7 -3,-6.1c-1.4,-0.4 -6.7,2.2 -8.1,3.1c-1.4,0.9 -3,3 -3.1,4c-0.1,1 1.1,3.1 2.1,4.1c1,1 5.9,3 6,4c0.1,1 -3.9,3.5 -5,4.1c-1.1,0.6 -2.8,0.5 -4.1,1c-1.3,0.5 -4.9,3.8 -6,3c-1.1,-0.8 -2.2,-7 -3.1,-9.1c-0.9,-2.2 -3.7,-5.8 -4,-8.1c-0.3,-2.3 2,-7.9 1.6,-10.1c-0.4,-2.2 -3.8,-6.2 -4.6,-7.1c-0.8,-0.9 -2.1,-0.9 -2.1,0c0,0.9 2.2,5.6 2.1,7.1c-0.1,1.5 -2.8,3.5 -3.1,5.1c-0.3,1.6 1.4,6.4 1,8c-0.4,1.6 -3.6,3.2 -4,5.1c-0.4,1.9 0.7,7.6 0.6,10.1c-0.1,2.5 -2.4,8.5 -1.6,10.1c0.8,1.6 6.6,3 8.1,3c1.5,0 3.2,-2.4 4,-3c0.8,-0.6 2.2,-2.6 2,-2c-0.2,0.6 -2.6,5.2 -4,7.1c-1.4,1.9 -6.1,6.7 -7.1,8.1c-1,1.4 -1.2,2 -1,3c0.2,1 2.2,4.5 3,5c0.8,0.5 2.7,-0.2 3.1,-1c0.4,-0.8 -0.2,-4.5 0,-5c0.2,-0.5 1.6,0.4 2,1c0.4,0.6 0.5,3.4 1,4c0.5,0.6 2.4,1.6 3,1c0.6,-0.6 1.4,-5.8 2,-6c0.6,-0.2 2.7,2.7 3.1,4c0.4,1.3 0.4,5.1 0,6.1c-0.4,1 -3.1,0.6 -3.1,2c0,1.4 2.6,6.7 3.1,9.1c0.5,2.4 1.2,7.8 1,10.1c-0.2,2.3 -2.5,6.6 -3,8.1c-0.5,1.5 -0.5,3.1 -1.1,4c-0.6,0.9 -3,2.7 -4,3.1c-1,0.4 -3.8,1.1 -4,0c-0.2,-1.1 1.9,-6.7 2,-9.1c0.1,-2.4 -0.4,-8.1 -1,-10.1c-0.6,-2 -2.7,-4.6 -4.1,-6.1c-1.4,-1.5 -5.1,-4.8 -7,-6.1c-1.9,-1.3 -5.8,-3.1 -8.1,-4c-2.3,-0.9 -7.4,-2.4 -10.1,-3c-2.7,-0.6 -9.2,-2.3 -11.2,-2.1c-2,0.2 -3.6,3.6 -5,4.1c-1.4,0.5 -4.6,-0.8 -6.1,0c-1.5,0.8 -4.7,5.2 -6,6.1c-1.3,0.9 -2.6,0.4 -4.1,1c-1.5,0.6 -6.1,2.7 -8.1,4c-2,1.3 -6.6,5.2 -8.1,6.1c-1.5,0.9 -3.1,-0 -4,1c-0.9,1 -1.9,6.6 -3,7.1c-1.1,0.5 -4.2,-2.1 -6.1,-3.1c-1.9,-1 -7.6,-4.5 -9.1,-5c-1.5,-0.5 -2.7,0.2 -3,1c-0.3,0.8 1.1,4 0.6,5c-0.5,1 -4.2,2.3 -4.7,3.1c-0.5,0.8 0.3,2.4 1,3c0.7,0.6 4.2,1.4 4.5,2c0.2,0.6 -1.2,2.1 -2.5,2.5c-1.3,0.4 -5.1,0.9 -8,0.6c-2.9,-0.3 -11.7,-2 -15.2,-3.1c-3.5,-1.1 -9.3,-4.5 -13.1,-6c-3.8,-1.5 -14.5,-4.3 -17.2,-6.1c-2.7,-1.8 -3.3,-5.8 -4.1,-8.1c-0.8,-2.3 -1.4,-8.2 -2,-10.1c-0.6,-1.9 -2.1,-4.3 -3,-5.1c-0.9,-0.8 -3.3,-0.5 -4.1,-1c-0.8,-0.5 -2,-2.1 -2,-3c0,-0.9 0.9,-2.8 2,-4c1.1,-1.2 5.1,-5.1 7.1,-5.7c2,-0.6 7,0.2 9.1,0.6c2.1,0.4 6,2.1 8.1,2.4c2.1,0.2 7.8,0.4 9.1,-0.4c1.3,-0.8 1.3,-4.7 1.4,-6c0.1,-1.3 -0.8,-3.3 -0.4,-4.1c0.4,-0.8 3.4,-1.9 3.6,-2.4c0.2,-0.5 -1.6,-0.4 -2,-1.6c-0.4,-1.2 -0.5,-6.4 -1.2,-8.1c-0.7,-1.7 -4.4,-3.7 -4.4,-5.1c-0,-1.4 2.6,-4.7 4,-6c1.4,-1.3 6,-2.7 7.1,-4.1c1.1,-1.4 0.6,-6 2,-7.1c1.4,-1.1 7.7,-0.9 9.1,-2c1.4,-1.1 0.9,-5.6 2,-7.1c1.1,-1.5 6,-3.3 7.1,-4.6c1.1,-1.3 1.5,-3.5 1.4,-5.5c-0.1,-2 -2.4,-8.2 -2.4,-10.1c-0,-1.9 0.7,-4 2,-5c1.3,-1 5.6,-2.4 8.1,-3.1c2.5,-0.7 10,-1.7 12.1,-2.6c2.1,-0.9 4.6,-3.1 5.1,-4.4c0.5,-1.3 -0.7,-4.4 -1,-6.1c-0.3,-1.7 -1.9,-5.3 -1.7,-7.1c0.2,-1.8 2.7,-5.6 3.7,-7.1c1,-1.5 3.4,-3.6 4,-5c0.6,-1.4 1.2,-4.7 1,-6.1c-0.2,-1.4 -1.8,-3.6 -3,-5c-1.2,-1.4 -6,-4.1 -6.5,-6.1c-0.5,-2 2.1,-7.7 2.1,-10.1c0,-2.4 -1.6,-6.8 -2.1,-9.1c-0.5,-2.3 -1.6,-7.1 -1.6,-9.1c0,-2 0.5,-5.3 2,-7.1c1.5,-1.8 7.9,-5.8 10.2,-7.1c2.3,-1.3 5.7,-2.5 8,-3.6c2.3,-1 8.5,-4.6 10.2,-4.8c1.7,-0.2 2.5,1.8 3,3.4c0.5,1.6 1.1,6.4 1,9.1c-0.1,2.7 -1.1,10 -1.6,12.1c-0.5,2.2 -2.1,4.2 -2,5.1c0.1,0.9 1.6,2.4 2.6,2c1,-0.4 3.9,-4.2 5,-5.1c1.1,-0.9 3.5,-0.6 4.1,-2c0.6,-1.4 0.5,-7.5 1,-9.1c0.5,-1.6 2,-3.4 2.6,-3.4c0.6,0 1.6,2.2 2.4,3.4c0.8,1.2 2.8,6.5 4.1,6.1c1.3,-0.4 4.6,-7.6 6.1,-9.1c1.5,-1.5 4.5,-2.9 5.6,-3c1,-0.1 2.6,0.9 2.8,2c0.2,1.1 -2.1,5.8 -1.4,7.1c0.7,1.3 5.6,1.9 7.1,3c1.5,1.1 4,5 5.1,6.1c1.1,1.1 3,3 4,3c1,0 3.6,-1.9 4.1,-3c0.5,-1.1 -0.9,-5 0,-6.1c0.9,-1.1 6.1,-1.8 7,-3c0.9,-1.2 -0.7,-6.9 0.4,-6.5c1.1,0.4 7.2,7.4 8.7,9.5c1.5,2.1 2.5,5.5 3.1,7.1c0.6,1.6 0.7,5.9 2,6c1.3,0.1 5.8,-4.3 8.1,-5c2.3,-0.7 7.4,-0.5 10.1,-0.6c2.7,-0.1 9,0.5 11.1,-0.4c2.2,-0.9 6.2,-6 6.1,-7.1c-0.1,-1.1 -5.4,-0.9 -7.1,-2c-1.7,-1.1 -5.2,-5.8 -6.1,-7.1c-0.9,-1.3 -0.4,-2.4 -1,-3c-0.6,-0.6 -2.6,-1.3 -4,-2.1c-1.4,-0.8 -6,-2.9 -7.1,-4c-1.1,-1.1 -2.4,-4.2 -2,-5.1c0.4,-0.9 4.2,-1.2 5,-2c0.8,-0.8 1.2,-2.5 1,-4c-0.2,-1.5 -2.4,-5.8 -2.4,-8.1c0,-2.3 2.1,-7.6 2.4,-10.1c0.3,-2.5 0.2,-8.1 0,-10.1c-0.2,-2 -1.6,-4.7 -2,-6.1c-0.4,-1.4 -0.7,-4.8 -1.4,-5.4c-0.7,-0.6 -3.2,1.3 -4,0.8c-0.8,-0.5 -1.1,-3.4 -2,-4.5c-0.9,-1.1 -3.3,-3.8 -5.1,-4.4c-1.8,-0.6 -7.2,0.4 -9.1,-0.6c-1.9,-1 -4.2,-5.9 -6,-7.1c-1.8,-1.2 -6.6,-1.6 -8.1,-2.4c-1.5,-0.8 -3.1,-3.1 -4.1,-3.7c-1,-0.6 -3.6,0.1 -4,-1c-0.4,-1.1 1,-6.6 1,-8.1c0,-1.5 -1.1,-2.6 -0.6,-4c0.5,-1.4 4.2,-5.6 4.6,-7.1c0.5,-1.5 -0.5,-4 -1,-5c-0.5,-1 -2.1,-3 -3,-2.7c-0.9,0.2 -3.1,4.1 -4,4.7c-0.9,0.6 -2.2,1.1 -3.1,0c-0.9,-1.1 -4.4,-7.4 -4,-8.7c0.4,-1.3 6,-0.3 7.1,-1.4c1.1,-1.1 1.9,-4.7 2,-7.1c0.1,-2.4 -1.8,-10.2 -1.4,-12.1c0.4,-1.9 3.8,-1.8 4.4,-3.1c0.6,-1.3 0.6,-5.4 0.4,-7c-0.2,-1.6 -1.5,-5 -2.4,-6.1c-0.9,-1.1 -3.8,-2.8 -5.1,-3c-1.3,-0.2 -4,-0.1 -5,1c-1,1.1 -2.2,6.8 -3.1,8.1c-0.9,1.3 -2.9,2.4 -4,2c-1.1,-0.4 -4.3,-3.6 -5.1,-5.1c-0.8,-1.5 -0.5,-5.7 -1,-7.1c-0.5,-1.4 -2,-3.1 -3,-4c-1,-0.9 -4.1,-1.9 -5.1,-3c-1,-1.1 -1.9,-4.7 -3,-6.1c-1.1,-1.5 -4.8,-5.2 -6.1,-5.5c-1.3,-0.2 -3.1,3.3 -4,3.5c-0.9,0.2 -2.1,-0.2 -3,-2c-0.9,-1.8 -3.5,-10 -4.1,-12.2c-0.6,-2.1 -1.2,-3.4 -0.6,-5c0.6,-1.6 4.6,-6 5.7,-8.1c1.1,-2.1 2.5,-6.5 3,-9.1c0.5,-2.6 -0.2,-9.5 0.6,-12.1c0.8,-2.6 4.9,-7.7 5.5,-9.1c0.6,-1.4 -0.1,-1.6 -1,-2.1c-0.9,-0.5 -5.3,-1.2 -6.1,-2c-0.8,-0.8 -0.9,-2.2 0,-4c0.9,-1.8 6.4,-8.6 7.1,-10.1c0.7,-1.5 -0.5,-1.6 -1.4,-2.1c-0.9,-0.5 -4.4,0 -5.7,-2c-1.3,-2 -3.9,-12.1 -5,-14.1c-1.1,-2 -3,-2.1 -4.1,-2.1c-1.1,0 -3.6,1.1 -5,2.1c-1.4,1 -4.7,5.2 -6.1,6c-1.4,0.8 -3.7,0.5 -5.1,0c-1.4,-0.5 -4.4,-2.3 -6,-4c-1.6,-1.7 -5.9,-8.5 -6.7,-9.7 M1279.5,1176.8c1.3,0.4 8.5,2.6 10.7,3.1c2.2,0.5 4.8,1.5 7.1,1c2.3,-0.5 9.1,-3.5 11.1,-5.1c2,-1.7 3.7,-5.9 5,-8.1c1.3,-2.2 5,-7.5 5.1,-9.1c0.1,-1.6 -3.1,-3 -4,-4c-0.9,-1 -2.5,-3 -3.1,-4.1c-0.6,-1.1 -2.1,-4 -2,-4.4c0.1,-0.4 2.1,0.2 3,1.4c0.9,1.2 3,7.8 4.1,8.1c1.1,0.3 3.9,-4.5 5,-5.5c1.1,-1 3.1,-1.6 4.1,-2.6c1,-1 3.5,-5.1 4,-5.4c0.5,-0.3 1,1.2 0.4,2.8c-0.6,1.6 -4.1,7.2 -5.4,9.7c-1.3,2.5 -3.7,7.6 -5.1,10.1c-1.4,2.5 -5.8,8.5 -6.1,10.1c-0.2,1.6 2.7,2.6 4.1,3c1.4,0.4 5.7,0.6 7.1,0c1.4,-0.6 2.6,-3.8 4,-4.6c1.4,-0.8 5.2,-1.6 7.1,-1.4c1.9,0.2 6.1,2.3 8.1,3c2,0.7 6.2,2.3 8.1,2.4c1.9,0.1 5.5,-0.5 7,-1.4c1.5,-0.9 4.3,-4.1 5.1,-6c0.8,-1.9 1.4,-6.8 1,-9.1c-0.4,-2.3 -3.4,-7 -4,-9.1c-0.6,-2.2 -1.3,-6.4 -1.1,-8.1c0.2,-1.7 2.2,-4.2 3.1,-5.1c0.9,-0.9 3.1,-1.1 4,-2.4c0.9,-1.3 2.6,-6.1 3.1,-7.7c0.5,-1.6 1.5,-4.5 1,-5c-0.5,-0.5 -4.1,1.3 -5.1,1c-1,-0.3 -2.9,-2 -3,-3.1c-0.1,-1.1 1.2,-5 2,-6c0.8,-1 3.8,-1.5 4,-2.1c0.2,-0.6 -0.6,-2.5 -2,-3c-1.4,-0.5 -7.8,-0.2 -9.1,-1c-1.3,-0.8 -0.9,-4.3 -1,-5.1c-0.1,-0.8 -0.3,-0.1 0.1,-1c0.4,-0.9 3.1,-4.7 3.4,-6c0.3,-1.3 -0.4,-3.4 -1.3,-4.5c-0.9,-1.1 -5,-2.6 -5.7,-4c-0.7,-1.4 0.1,-5.6 0,-7c-0.1,-1.4 -0.1,-3.2 -1.1,-4c-1,-0.8 -5.4,-1.6 -6.8,-2.5c-1.4,-0.9 -4.1,-3.7 -4.3,-5c-0.2,-1.3 2,-4.8 2.6,-5.5c0.6,-0.7 2,-0.7 2,0c0,0.7 -1.9,4.4 -1.8,5.5c0.1,1.1 1.5,2.3 2.8,3c1.3,0.7 6.4,1.7 7.5,2.7c1.1,1 1.1,4.2 1.3,5.7c0.2,1.5 -0.7,5.1 0,6.4c0.7,1.3 4.8,2.7 5.7,3.8c0.9,1.1 1.8,3.7 1.6,5.3c-0.2,1.6 -3,6.1 -3.3,7.4c-0.3,1.3 0.2,2.2 0.8,2.7c0.6,0.5 2.7,1 3.7,1c1,0 3.1,-1 4.1,-1c1,-0 3.8,0.4 4.3,0.7c0.5,0.3 -0.1,0.7 -0.4,1.4c-0.3,0.7 -1.6,2.9 -2,4c-0.4,1.1 -1.7,4 -1.1,5.1c0.6,1.1 5.3,2.7 6.1,4c0.8,1.3 0.4,4.3 0,6.1c-0.4,1.8 -2.2,5.8 -3,8.1c-0.8,2.3 -2.8,7.2 -3.1,10.1c-0.2,2.9 1,11.5 1.1,13.1 M1370.1,1159.6c0.9,0 5.2,0.5 7,0c1.8,-0.5 5.7,-3.9 7.1,-4c1.4,-0.1 2.7,2.9 4,3c1.3,0.1 4.7,-0.6 6.1,-2c1.4,-1.4 4,-7.6 5.1,-9.1c1.1,-1.5 2.1,-3 4,-3c1.9,0 9.2,3.5 11.1,3c1.9,-0.5 2.7,-6 4.1,-7.1c1.4,-1.1 5.3,-2 7.1,-2c1.8,0 5.5,2.6 7,2c1.5,-0.6 3.3,-6.4 5.1,-7c1.8,-0.6 6.7,0.9 9.1,2c2.4,1.1 7.1,6.5 10.1,7.1c3,0.6 10.7,-1.3 14.1,-2.1c3.4,-0.8 11.7,-3.7 13.2,-4.4c1.5,-0.8 0.8,-1.1 -1,-1.6c-1.8,-0.5 -12.4,-1.6 -13.2,-2.5c-0.8,-0.9 5,-3.8 7.1,-4.6c2.2,-0.8 7.9,-1.1 10.1,-2c2.2,-0.9 7,-3.7 7.1,-5.1c0.1,-1.4 -6.4,-5.3 -6.1,-6c0.2,-0.7 6.7,1 8.1,0.4c1.4,-0.6 3.3,-3.9 3.1,-5.5c-0.2,-1.6 -4,-6.2 -5.1,-7.1c-1.1,-0.9 -2,0.2 -3.4,-0.3c-1.4,-0.5 -7,-2.9 -8.1,-4c-1.1,-1.1 -1.8,-2.7 -1,-5.1c0.8,-2.4 5.6,-12.5 7.1,-14.1c1.5,-1.6 3.7,1.1 5,1c1.3,-0.1 3.7,-1.4 5.1,-2c1.4,-0.6 4.9,-2.2 6,-3c1.1,-0.8 3.1,-1.7 3.1,-3.1c0,-1.4 -3,-5.7 -3.1,-8.1c-0.1,-2.4 2.4,-8.6 2.1,-11.1c-0.2,-2.5 -3.1,-7.8 -4.1,-9.1c-1,-1.3 -3,-0.5 -4,-1c-1,-0.5 -4.1,-1.7 -4.1,-3c0,-1.3 3.3,-6.8 4.1,-7.1c0.8,-0.3 1,4.5 2,5c1,0.5 5.5,1.1 6.1,-1c0.6,-2.1 -0.6,-13.5 -1.1,-16.1c-0.5,-2.6 -2.5,-3.8 -3,-5.1c-0.5,-1.4 -1.2,-5 -1.4,-5.7 M1495.8,933.9c0.2,1.8 0.5,11.9 1.2,14.2c0.7,2.3 4.3,2.2 4.7,4c0.4,1.8 -1.3,7.6 -1.6,10.1c-0.3,2.5 -0.9,7.8 -0.6,10.1c0.3,2.3 2.9,6.8 3,8.1c0.1,1.3 -0.9,1.9 -2.4,2.5c-1.5,0.6 -8.9,1.3 -9.7,2.6c-0.8,1.3 3.1,6.3 3.6,8.1c0.5,1.8 1,4.5 0.6,6c-0.4,1.5 -4.9,4.9 -4,6.1c0.9,1.2 9.7,3 11.1,3.4 M1501.7,1009.1c1.4,0.5 8.7,2.9 11.5,3.7c2.8,0.8 9.2,1.9 11.1,3c1.9,1.1 3.1,5.2 4.1,6.1c1,0.9 3.1,1.6 4,1.4c0.9,-0.2 0.9,-2.5 3.1,-3.4c2.2,-0.9 12.3,-2.5 14.1,-3.5c1.8,-1 -0.5,-3.8 0.4,-4.6c0.9,-0.8 5.4,-2 6.7,-2c1.3,0 3.6,1 4,2c0.4,1 -1.1,4.9 -1,6c0.1,1.1 1.2,2.3 2,2.7c0.8,0.4 3.3,0.2 4.1,0.8c0.8,0.5 0.5,3.3 2,3.6c1.5,0.3 6.6,-0.5 10.1,-1c3.5,-0.6 13.6,-3.6 18.2,-3.4c4.5,0.2 14.3,4.6 18.2,5.4c3.9,0.8 10.8,1.3 13.2,1.4c2.4,0.1 5.2,-0.3 6,-0.4 M1633.5,1026.9c1.8,-0.6 10.8,-4 14.2,-5c3.4,-1 9.3,-1.6 13.1,-3c3.8,-1.4 14.4,-7.2 17.2,-8.1c2.8,-0.9 2.9,-0.1 5.1,0.6c2.2,0.7 9.1,4.1 12.1,5c3,0.9 9.6,1.8 12.1,2c2.5,0.2 6.7,0.2 8.1,-0.6c1.4,-0.8 3.1,-4.6 3,-6c-0.1,-1.4 -3.9,-3.2 -4,-5.1c-0.1,-1.9 2.2,-6.7 3,-10.1c0.8,-3.4 3.5,-14.8 3.1,-17.2c-0.4,-2.4 -5.2,-1.1 -6.1,-2c-0.9,-0.9 -1.1,-3.5 -1,-5.1c0.1,-1.6 2.6,-6.2 1.6,-8c-1,-1.8 -8.4,-4.7 -9.7,-6.1c-1.3,-1.4 -1.4,-3.9 -1,-5.1c0.4,-1.2 2.6,-3.7 4,-4.6c1.4,-0.9 6.1,-1.6 7.1,-2.4c1,-0.8 1.1,-3.3 1,-4.1c-0.1,-0.8 -1.1,-1.5 -2,-2c-0.9,-0.5 -4.1,-0.6 -5.3,-1.6c-1.2,-1 -4.2,-5.1 -4.5,-6.1c-0.3,-1 2,-0.7 2.4,-2c0.4,-1.3 1.1,-6.1 1.1,-8.1c0,-2 -1.3,-7 -1.1,-8.1c0.2,-1.1 2.6,-1.8 3.1,-1c0.5,0.8 -0,6.2 1,7.1c1,0.9 5.5,0.4 7.1,0c1.6,-0.4 4.4,-2.2 6,-3.1c1.6,-0.9 5.1,-3.2 7.1,-4c2,-0.8 6.9,-2.1 8.7,-2c1.8,0.1 3.6,2.7 5.5,2.7c1.9,0 8,-2.3 9.6,-2.5c1.6,-0.2 2.2,0.4 3.5,1c1.3,0.6 5.1,2.8 7.1,3.5c2,0.7 6.8,1.5 9.1,2c2.3,0.5 7.5,1.7 9.1,2.1c1.6,0.4 2.6,1.1 3.5,1c0.9,-0.1 2.5,-0.7 3.6,-1.5c1.1,-0.8 4.1,-4.2 5.5,-5.1c1.4,-0.9 4.4,-1.4 5.6,-1.7c1.2,-0.3 3.2,-0.8 4,-0.6c0.8,0.2 2,1.6 2.6,2.3c0.6,0.7 1.3,2.4 2.5,3c1.2,0.6 5.8,1.4 7.1,2.1c1.3,0.7 2,3.6 3.5,3.7c1.5,0.1 6.6,-2.5 8.6,-3.2c2,-0.7 6.4,-2.1 7.6,-2.1c1.2,0 1.8,1.1 2,2.1c0.2,1 -0.1,4.7 0,6c0.1,1.3 0.5,3.6 1,4.1c0.5,0.5 1.7,-0 2.6,-0.5c0.9,-0.5 3.8,-2.9 4.5,-3.1c0.8,-0.2 1.8,0.6 1.5,1.5c-0.3,0.9 -4.1,4.4 -4,5.6c0.1,1.2 3.9,3 4.5,4.1c0.6,1.1 -0.5,3.6 0,4.5c0.5,0.9 2.7,2.6 3.6,3c1,0.4 3.6,-0.5 4,0c0.4,0.5 -0.5,2.9 -0.5,3.6c0,0.7 0.8,1.2 0.7,2c-0.1,0.8 -1.2,3.5 -1.7,4.5c-0.5,1 -1.4,2.9 -2,3.1c-0.6,0.2 -2.6,-1.4 -3.1,-1.5c-0.5,-0.1 -1.2,0.4 -1,1c0.2,0.6 1.7,3.2 2.5,4c0.8,0.8 2.4,1.9 3.6,2c1.2,0.1 5.1,-0.4 6.1,-1c1,-0.6 1.4,-2.9 2,-3.5c0.6,-0.6 2,-1.1 2.5,-1c0.5,0.1 1.3,1.2 1.5,2c0.2,0.8 -0.2,3.9 0.3,4.5c0.5,0.6 2.9,0.2 3.8,0.6c0.9,0.4 2.4,2 3.5,2.2c1.1,0.2 4.1,0.1 5.1,-0.4c1,-0.5 1.8,-2.9 2.5,-3.4c0.7,-0.5 2.2,-1.2 3,-1c0.8,0.2 0,2.6 3,2.6c3,-0 18.1,-2.6 20.7,-3 M1633.5,1026.9c1.4,4.6 9.1,32.7 11.4,37c2.3,4.3 5.7,-2.5 7.1,-2.7c1.4,-0.2 3.1,2.1 4,1.4c0.9,-0.7 1.4,-6 3.1,-6.8c1.7,-0.8 9.4,-0.7 10.1,0c0.8,0.7 -4.1,4 -4.1,5.4c-0,1.4 3.6,4.8 3.7,6.1c0.1,1.3 -2.5,2.4 -2.7,4c-0.2,1.6 0.7,6.7 1.1,9.1c0.4,2.4 1.2,8.4 2,10.1c0.8,1.7 3.2,1.1 4,3.1c0.8,2 1.4,10.8 2,13.1c0.6,2.3 2.5,3.7 3.1,5.1c0.6,1.4 -0,4.5 2,6c2,1.5 12.2,4.3 14.2,6.1c2,1.8 1.1,6.7 2,8.1c0.9,1.4 4.2,1.9 5,3c0.8,1.1 1.5,5 1,6.1c-0.5,1.1 -4.5,1.6 -5.4,3c-0.9,1.4 -0.9,6.2 -1.6,8.1c-0.7,1.9 -2.5,6 -4.1,7.1c-1.6,1.1 -7.5,1.2 -8.5,2c-1,0.8 -0.5,3.7 0.4,4.5c0.9,0.8 5.6,1 7.1,1.6c1.5,0.6 4.3,1.7 5.1,3c0.8,1.3 1.2,5.7 1,7.1c-0.2,1.4 -2.8,2.6 -2.7,4c0.1,1.4 2.9,5.9 3.7,7.1c0.8,1.2 1.4,2.1 3,2.6c1.6,0.5 9,0.4 10.1,1.4c1.1,1 -1.9,5.8 -1,6.7c0.9,0.9 6,-0.2 8.1,0.4c2.2,0.6 7.5,3.5 9.1,4.5c1.6,1 2.6,1.4 3.4,3.6c0.8,2.2 2,10.9 2.7,14.2c0.7,3.3 2.3,10.9 2.6,12.5 M1965.2,1133.3c-1.4,0.7 -8.8,4.3 -10.9,5.8c-2.1,1.5 -4.8,5.1 -6.1,6c-1.3,0.9 -3.1,-0.3 -4.1,1.5c-1,1.8 -3.1,9.6 -4,12.7c-0.9,3.1 -2.2,10.1 -3,12.1c-0.8,2 -2.3,3.4 -3.1,3.7c-0.8,0.2 -3.8,-1.2 -3.6,-1.7c0.2,-0.5 4.3,-0.5 5.3,-2c1,-1.5 2.5,-8.1 2.4,-10.1c-0.1,-2 -1.4,-4.7 -3,-6.1c-1.6,-1.4 -7.4,-4.8 -9.6,-5.4c-2.2,-0.6 -6,-0.1 -7.6,0.4c-1.6,0.5 -3.3,2.8 -5.1,3.4c-1.8,0.6 -6.6,0.9 -9.1,1.6c-2.5,0.7 -8.6,2.6 -11.1,4.1c-2.5,1.5 -7.1,6 -9.1,8.1c-2,2.1 -6.1,6.9 -7.1,8.5c-1,1.6 -0.1,4.1 -0.6,4.6c-0.5,0.5 -2.7,-0.1 -3.4,-1c-0.7,-0.9 -1.1,-4.8 -2,-6.1c-0.9,-1.3 -2.7,-3.4 -5.1,-4c-2.4,-0.6 -10.2,-1 -14.2,-0.6c-4,0.4 -14,2 -18.2,3.6c-4.2,1.6 -12.3,7 -15.1,9.1c-2.8,2.1 -4.9,5.4 -7.1,7.7c-2.2,2.3 -6.9,8.2 -10.1,10.5c-3.2,2.3 -12.3,5.9 -15.2,8.1c-2.9,2.2 -6.2,7.2 -8.1,9.1c-1.9,1.9 -5.7,5.2 -7,6.1c-1.3,0.9 -2.1,0.4 -3.1,1c-1,0.6 -4,3.5 -5,3.6c-1,0.1 -2.4,-1.4 -3,-2.6c-0.6,-1.2 -2.2,-5.3 -2.1,-7.1c0.1,-1.8 3.1,-5.7 2.7,-7.1c-0.4,-1.4 -4.8,-2.5 -6.1,-4c-1.3,-1.5 -4,-6.8 -4.7,-8.1c-0.7,-1.3 -0.6,-2.2 -1,-2c-0.4,0.2 -2.4,2.1 -2,4c0.4,1.9 4.6,9 5.1,11.2c0.5,2.2 0.1,3.9 -1,6c-1.1,2.1 -6.6,8.9 -8.1,11.1c-1.5,2.2 -3.3,5.4 -4.1,6.1c-0.8,0.7 -2.1,-0.5 -2.4,-0.6 M1965.2,1133.3c-0.4,-1 -3.8,-6.6 -3.5,-8.4c0.3,-1.8 4.5,-5.2 6,-6.1c1.5,-0.9 5.3,-0.4 6.1,-1c0.8,-0.6 0.4,-3.3 0,-4.1c-0.4,-0.8 -3.2,-1.1 -3,-2c0.2,-0.9 4.7,-3.7 4.4,-5c-0.3,-1.3 -5.2,-5.1 -6.5,-5.7c-1.3,-0.6 -3,1.4 -4,0.6c-1,-0.8 -2.9,-4.9 -4,-7.1c-1.1,-2.2 -3.6,-8.5 -5.1,-10.1c-1.5,-1.6 -5.6,-2 -7.1,-3c-1.5,-1 -5.6,-3.9 -5,-4.7c0.6,-0.8 8.8,-0.5 10.1,-1.4c1.3,-0.9 1,-3.8 0.6,-6c-0.4,-2.2 -3.6,-9.6 -3.7,-11.2c-0.1,-1.6 1.8,-1.8 3.1,-1.6c1.3,0.2 5.2,3.1 7.1,3.3c1.9,0.2 6.7,-0.6 8,-1.7c1.3,-1.1 1.5,-5.4 2.1,-7c0.6,-1.6 2.1,-5.5 3,-6.1c0.9,-0.6 3.1,0.4 4,1c0.9,0.6 2.5,4.1 3.1,4.1c0.6,0 1.6,-2.6 2,-4.1c0.4,-1.5 0.5,-6.1 1,-8.1c0.5,-2 3.8,-6.6 3,-7.7c-0.8,-1.1 -7.7,-1.5 -9.1,-1.4c-1.4,0.1 -0.9,2.8 -2,2c-1.1,-0.8 -5.2,-6 -7.1,-8c-1.9,-2 -6.1,-6.5 -8,-8.1c-1.9,-1.6 -5.6,-4.6 -7.1,-4.7c-1.5,-0.1 -3.1,4.5 -5.1,3.7c-2,-0.8 -8.9,-9 -11.1,-10.1c-2.2,-1.1 -5.2,1.5 -6.1,1c-0.9,-0.5 -0.6,-4.2 -1,-5.1c-0.4,-0.9 -2.1,-1.1 -2,-2c0.1,-0.9 3.1,-4.2 3,-5.1c-0.1,-0.9 -2.6,0.5 -4,-2c-1.4,-2.5 -5.2,-15.9 -7.1,-18.2c-1.9,-2.3 -6.9,0.8 -8.1,-0.4c-1.2,-1.2 -1.7,-8.2 -1.9,-9.4 M1928.1,824.6c0.2,0.4 1.1,2.7 2,3.1c0.9,0.4 4.7,-0.5 5.5,0c0.8,0.5 1,3.1 0.6,4c-0.4,0.9 -3.4,2.5 -4,3.5c-0.6,1 -1.6,3.9 -1.1,4.6c0.5,0.7 4.1,1.8 5.1,1c1,-0.8 1.2,-6 2.6,-7.1c1.4,-1.1 7.3,-2.9 8.5,-2c1.2,0.9 1.5,7.4 1,9.1c-0.5,1.6 -4.5,3.1 -5,4.1c-0.5,1 1.2,3.2 1,4c-0.2,0.8 -2.8,0.9 -3,2c-0.2,1.1 1.8,6 1.6,7.1c-0.2,1.1 -2.3,1 -2.9,2c-0.6,1 -1.5,3.7 -1.6,6.1c-0.1,2.4 0.4,11.5 1,13.1c0.6,1.6 2.8,-0.2 4.1,0c1.3,0.2 4.9,-0.5 6,2c1.1,2.5 3.5,15 3.1,18.2c-0.4,3.2 -6,4.2 -6.5,7.1c-0.5,2.9 3,13.4 2.4,16.2c-0.6,2.8 -4.8,6.1 -7.1,6.4c-2.3,0.2 -9.5,-3.5 -11.1,-4.4c-1.6,-0.9 -0.7,-2.3 -2,-3c-1.3,-0.7 -5.9,-2.7 -8.1,-2.7c-2.2,0 -7.8,1.2 -9.1,2.7c-1.3,1.5 -1,6.8 -1,9.1c0,2.3 0.3,7.7 1,9.1c0.7,1.4 3.8,1 4.7,2c0.9,1 3.4,5 2.4,6c-1,1 -8.5,1.2 -10.1,2.1c-1.6,0.9 -2.7,3.5 -2.4,5c0.3,1.5 3.9,6.5 4.5,7.4 M2200.2,959.1c-2.4,-0 -16,-0.7 -19.2,-0.4c-3.2,0.3 -4.6,1.6 -6,3c-1.4,1.4 -4.1,6 -5.1,8.5c-1,2.5 -2.4,8.6 -3,11.1c-0.6,2.5 -1,7.7 -1.6,9.1c-0.6,1.4 -2.4,2 -3.5,2c-1.1,-0 -3.7,-2.7 -5,-2.4c-1.3,0.3 -3.7,3.3 -5.1,4.5c-1.4,1.2 -2.1,3.9 -6,5c-3.9,1.1 -21.4,3 -25.3,4.1c-3.9,1.1 -4.8,3 -6.1,5c-1.3,2 -3.3,8.7 -4,11.1c-0.7,2.4 -1.5,6.1 -1.6,8.1c-0.1,2 0.9,6 0.6,8.1c-0.3,2.2 -2,6.8 -3.1,9.1c-1.1,2.3 -5,7.2 -5.6,9.1c-0.6,1.8 -0.7,4.9 0.6,5.7c1.3,0.8 8.5,-0.1 10.1,0.4c1.6,0.5 2.6,2.9 2.6,4c0,1.1 -1.4,4 -2.6,5.1c-1.2,1.1 -5.9,2.7 -7.1,4c-1.2,1.3 -2.1,4.5 -2.4,6.1c-0.2,1.6 0.1,5.3 0.4,7c0.2,1.7 2.2,4.5 1.6,6.5c-0.6,2 -5.1,8 -6.7,9.7c-1.6,1.7 -5.6,4.2 -6,3.7c-0.4,-0.5 3.1,-6.1 2.6,-7.7c-0.5,-1.6 -5.2,-4.8 -6.7,-5.1c-1.5,-0.2 -3.4,3 -5,3.1c-1.6,0.1 -5.6,-1.7 -8.1,-2.1c-2.5,-0.4 -9.2,-1.8 -12.2,-1.4c-3,0.4 -9.6,3.9 -12.1,4.5c-2.5,0.6 -5.6,0.3 -8.1,0c-2.5,-0.3 -9.9,-2.7 -12.1,-2.7c-2.2,0 -3.1,0.5 -5.1,2.7c-2,2.2 -8.7,11.7 -11.1,15.1c-2.4,3.4 -6.6,9.8 -8.1,12.2c-1.5,2.4 -3.1,5.9 -4,7c-0.9,1.1 -2.9,2 -3.4,1.5c-0.5,-0.5 0.6,-4.1 -0.7,-5.5c-1.3,-1.4 -8,-5.5 -10.1,-5.5c-2.1,0 -4.3,4.1 -7,5.5c-2.7,1.4 -12.9,4.7 -14.7,5.4 M1735.5,1234.5c-0.7,0.6 -3.7,3.4 -5.7,4.7c-2,1.3 -8.3,5.5 -10.1,6c-1.8,0.5 -3.2,-2.4 -4,-2c-0.8,0.4 -0.9,3.9 -2,5c-1.1,1.1 -6,3 -7.1,4.1c-1.1,1.1 -1.9,3 -2,5c-0.1,2 0.9,8 1.4,11.2c0.5,3.2 2,10.8 2.6,14.1c0.6,3.3 1.4,9.4 2,12.2c0.6,2.8 2,7 3.1,10.1c1.1,3.2 4.6,11.6 6,15.1c1.4,3.5 4.5,11.2 5.1,13.2c0.6,2 0,2.7 0,3.1 M1724.8,1336.3c-0.4,0.1 -1.7,1.8 -3.1,0.9c-1.4,-0.9 -6.1,-6.7 -8,-8.1c-1.9,-1.4 -5.7,-2.2 -7.1,-3c-1.4,-0.8 -3.4,-1.9 -4.1,-3c-0.7,-1.1 -1.2,-3.9 -1.4,-6.1c-0.2,-2.2 -0.1,-8.8 -0.6,-11.1c-0.5,-2.3 -1.9,-5.5 -3,-7.1c-1.1,-1.6 -4.3,-4.7 -6.1,-5.7c-1.8,-1 -5.3,-2.3 -8.1,-2c-2.8,0.3 -11.4,4.4 -14,4.6c-2.6,0.2 -5.4,-1.3 -7.1,-2.6c-1.7,-1.3 -4.8,-5.9 -6.1,-8.1c-1.3,-2.2 -2.4,-7.3 -4,-9.1c-1.6,-1.8 -6.8,-4.3 -9.1,-5.1c-2.3,-0.8 -6.7,-1 -9.1,-1c-2.4,0 -7.2,1.6 -10.1,1c-2.9,-0.6 -9.7,-4.1 -13.1,-6c-3.4,-1.9 -11.2,-7.4 -14.2,-9.1c-3,-1.7 -7.7,-4 -10.1,-4.5c-2.4,-0.5 -7.1,0.7 -9.1,0.4c-2,-0.3 -5.8,-3.6 -6.7,-3c-0.9,0.6 -0.2,6.2 -0.8,8.1c-0.5,2 -3.1,6.6 -3.6,7.5 M1370.1,1159.6c0.4,1.1 2.1,7.1 3,9.1c0.9,2 2.1,5.6 4,7.1c1.9,1.5 9.3,3.6 11.1,5.1c1.8,1.5 1.8,6.6 3.1,7c1.3,0.4 5.6,-3 7.1,-4c1.5,-1 3.7,-3.7 5,-3.6c1.3,0.1 3.7,3.7 5.1,4.6c1.4,1 4.2,2.8 6,3c1.8,0.2 6.2,-0.2 8.1,-1c1.9,-0.8 5.5,-3.9 7.1,-5c1.6,-1.1 3.9,-3.4 5.5,-4.1c1.6,-0.7 5.6,-0.7 7.6,-1.4c2,-0.7 7.8,-4.6 8.1,-4c0.3,0.6 -4.7,7.2 -6,8.5c-1.3,1.3 -2.9,1.7 -4.1,2c-1.2,0.3 -3.7,-1 -5.6,0.4c-1.9,1.4 -7.8,8.9 -9.5,10.7c-1.7,1.8 -3.7,3.2 -4.1,4.1c-0.4,0.9 1.8,2.1 1,3c-0.8,0.9 -5.5,3.5 -7.1,4c-1.6,0.5 -4.1,0.6 -6,0c-1.9,-0.6 -6.9,-4.1 -9.1,-5c-2.2,-0.9 -5.6,-2.1 -8.1,-2.4c-2.5,-0.3 -9.1,0.1 -12.1,-0.2c-3,-0.3 -9.2,-2 -12.2,-2.1c-3,-0.1 -9.6,1.9 -12.1,1.2c-2.5,-0.7 -4.2,-5.9 -8.1,-6.6c-3.9,-0.7 -19.4,1.8 -23.2,1c-3.8,-0.8 -6.1,-6.3 -7.1,-7.1c-1,-0.8 -2.5,-1 -1,1c1.5,2 10.7,12.7 13.1,15.2c2.4,2.5 5,3.6 6.1,5c1.1,1.4 2.1,6.4 2.4,6.1c0.2,-0.2 -0.8,-6.6 -0.4,-8.1c0.5,-1.5 2,-3.5 4,-3.6c2,-0.1 9,1.6 12.2,2.6c3.2,1 10.4,4.3 13.1,5.1c2.7,0.8 6.2,0.3 8.1,1.6c1.9,1.3 6.9,7.2 7.1,8.5c0.2,1.3 -3.7,1 -5.1,2c-1.4,1 -4.4,5.1 -6,6.1c-1.6,1 -4.8,1.3 -7.1,1.6c-2.3,0.2 -9.1,-0.1 -11.1,0.4c-2,0.5 -4.8,2.7 -5.1,4c-0.3,1.3 1.5,5.3 3,6.1c1.5,0.8 7.7,1.4 9.1,0.6c1.4,-0.8 1,-6.6 2.1,-6.7c1.1,-0.1 5.2,4.8 7,6.1c1.8,1.3 5.6,3.6 7.1,4c1.5,0.4 2.7,-2.1 4.5,-1c1.8,1.1 7.5,8.6 9.7,10.1c2.2,1.5 6.1,1.9 8.1,2c2,0.1 7,-1.4 7.6,-1c0.6,0.4 -2.5,2.6 -2.6,4.1c-0.1,1.5 1.2,6.7 2,8.1c0.8,1.4 0.8,1.8 4.1,3c3.3,1.2 18.7,5.9 22.2,6.7c3.5,0.8 4.7,0.6 6.1,0c1.4,-0.6 3.1,-3.9 5,-4.7c1.9,-0.8 7.3,-1.2 10.1,-2c2.8,-0.8 8.6,-4 12.2,-4c3.5,0 12.5,3.8 16.2,4c3.7,0.2 11.3,-0.9 13.1,-2c1.8,-1.1 -0.4,-6.8 1,-7.1c1.4,-0.2 7.9,4.8 10.1,5.1c2.2,0.2 5.3,-1.3 7.1,-3.1c1.8,-1.8 6.5,-11.6 7.1,-11.1c0.6,0.5 -3.1,13.4 -2.1,15.2c1,1.8 8.7,-1.5 10.2,-1c1.5,0.5 2.3,3.9 2,5c-0.3,1.1 -4.5,3.9 -4.1,4.1c0.4,0.2 5.1,-2.9 7.1,-2.1c2,0.8 6.7,7 9.1,8.1c2.4,1.1 9.1,1.5 10.1,1c1,-0.5 -2.6,-4.1 -2,-5c0.6,-0.9 5.9,-0.9 6.5,-2c0.6,-1.1 -2,-5.7 -1.4,-7.1c0.6,-1.4 4.6,-4 6,-4.1c1.4,-0.1 4.5,3.1 5.1,3.5 M1566.2,1264.2c0.2,1.7 2,10 2,13.7c0,3.7 -1.1,13.8 -1.6,16.2c-0.5,2.4 -2.8,2.9 -2.5,3c0.3,0.1 2.7,-2.3 5.1,-2c2.4,0.3 13.7,3.6 14.2,4.7c0.5,1.1 -8.8,2.8 -10.2,4.4c-1.4,1.6 -0.4,7.3 -1,8.1c-0.6,0.8 -2.6,-1.5 -4,-2c-1.4,-0.5 -5.8,-2.5 -7.1,-2.1c-1.3,0.4 -1.6,4.5 -3,5.1c-1.4,0.6 -5.7,-1.2 -8.1,-0.6c-2.4,0.6 -9.3,4.4 -11.1,5.7c-1.8,1.3 -1,3.4 -3.1,5c-2.2,1.6 -11.7,6.8 -14.1,7.7c-2.4,0.9 -4,-0 -5.1,-0.6c-1.1,-0.6 -3.4,-4.3 -4,-4.1c-0.6,0.2 2.7,3.4 -1,6.1c-3.7,2.7 -23.4,12 -28.3,15.2c-4.9,3.2 -9.6,7.9 -11.1,10.1c-1.5,2.2 -0.2,6.4 -1.1,7.1c-0.9,0.8 -3.6,-2 -6,-1.1c-2.4,0.9 -9.4,5.4 -13.2,8.1c-3.8,2.7 -14.5,10.8 -17.1,13.2c-2.6,2.4 -3.2,4.1 -3.5,6c-0.3,1.9 0.9,7.5 1.4,9c0.5,1.5 1,2.5 2.5,3.4c1.5,0.9 7,3.2 9.1,3.7c2.1,0.5 6,0.9 8,0c2,-0.9 5.8,-6.3 8.1,-7.1c2.3,-0.8 7.6,0.2 10.1,0.4c2.5,0.2 7.9,0.9 10.2,1.6c2.3,0.7 5.5,2.2 8,4c2.5,1.8 10.2,8.3 12.2,10.2c2,1.9 2.2,3.5 3.6,5c1.4,1.5 5.5,5.7 7.5,7.1c2,1.4 6.8,3 8.1,4c1.3,1 0.7,4.2 2,4.1c1.3,-0.1 6,-3.9 8.1,-4.7c2.2,-0.8 6.7,-2.4 9.1,-1.4c2.4,1 7.8,7.1 10.1,9.1c2.3,2 6.7,4.8 8.1,7.1c1.4,2.3 2.4,9 3,11.1c0.6,2.2 1.4,3.6 2,6.1c0.6,2.5 2.6,11.3 2.7,14.1c0.1,2.8 -0.8,6.5 -1.6,8.1c-0.8,1.6 -3.9,3.9 -4.5,4.5 M1559.1,1490.5c-0.5,0.8 -2.9,5 -3.6,6.6c-0.7,1.6 -1.7,4.2 -1.7,6.1c-0,1.9 0.9,7.2 1.3,9.1c0.4,1.9 2,4.8 2,6.1c0,1.3 -1,2.9 -1.6,4c-0.6,1.1 -2.8,4.2 -3.1,5.1c-0.3,0.9 0.1,1.6 1,2c0.9,0.4 6,0.6 6.1,1c0.1,0.4 -2.8,1.5 -5,2c-2.2,0.5 -10.3,1.5 -12.2,2c-1.9,0.5 -2.2,1.8 -3,2.1c-0.8,0.3 -3.5,-0.2 -3.7,0.4c-0.2,0.6 0.5,3.3 1.7,4.6c1.2,1.3 6.2,4.6 8.1,6.1c1.9,1.5 5.2,5.4 7,6c1.8,0.6 5.4,-2.2 7.1,-1.4c1.7,0.8 5.2,5.9 6.1,7.5c0.9,1.6 0.2,4.1 1,5.1c0.8,1 3.6,2.2 5,3c1.4,0.8 5.2,2.8 6.5,3c1.3,0.2 3.2,-0.9 3.6,-1 M1559.1,1490.5c0,0.6 -0.3,3.8 0.4,4.6c0.7,0.8 3.7,0.7 5.1,1.4c1.4,0.7 4.9,2.8 6,4.1c1.1,1.3 3.5,5.1 2.7,6.6c-0.8,1.5 -7.5,4.1 -8.7,5.1c-1.2,1 -1.1,1.6 -1,3c0.1,1.4 0.1,7.1 1.6,8.1c1.5,1 8.6,-1.3 10.5,-0.4c1.9,0.9 5,5.5 5,7.5c0,2 -4.6,6.6 -5,8.1c-0.4,1.5 1.2,3.5 2,4c0.8,0.5 3.3,-0.9 4,-0.4c0.7,0.5 1.1,3.8 1.7,4.5c0.6,0.7 2.6,-0.3 3.4,1c0.8,1.3 2.4,7.1 3,9.1c0.6,2 2.9,5.8 2.1,7c-0.8,1.2 -7.2,1.9 -8.5,2.7c-1.3,0.8 -1.5,3 -1.7,3.4 M1581.7,1569.9c1.3,0 7.7,-0.4 10.2,0c2.5,0.4 7.1,3.4 10.1,3c3,-0.4 11.6,-5 14.1,-6c2.5,-1 4.8,-1.2 6.1,-2c1.3,-0.8 3,-2.7 4,-4.1c1,-1.4 2.7,-6 4.1,-7.1c1.4,-1.1 5.6,-0.9 7,-2c1.4,-1.1 2.8,-6.2 4.1,-7.1c1.3,-0.9 5.2,1.9 6.7,0c1.5,-1.9 4,-11.8 5.4,-15.1c1.4,-3.3 4.8,-8.9 6.1,-11.1c1.3,-2.2 3.3,-4.8 4.6,-6.1c1.3,-1.3 3.4,-3.3 5.5,-4.1c2.1,-0.8 8.2,-1.1 11.1,-2.4c2.9,-1.3 10,-6.4 12.1,-7.7c2.2,-1.3 3.4,-2.3 5.1,-2.4c1.7,-0.1 6.5,1.5 8.1,1.4c1.6,-0.1 3.9,-1.8 5,-2c1.1,-0.2 3.1,0.9 4.1,0.6c1,-0.3 2.7,-2.8 4,-3.2c1.3,-0.5 4.7,-1.2 6.1,-0.4c1.4,0.8 3.7,6.1 5.1,7.1c1.4,1 4.9,1.8 6,1c1.1,-0.8 2.3,-5.1 3.1,-7.1c0.8,-2 2.2,-7.5 3,-9.1c0.8,-1.6 1.9,-2.9 3,-3.5c1.1,-0.6 4.8,-0.5 6.1,-1.6c1.3,-1.1 3.1,-5.9 4,-7c0.9,-1.1 2.3,-2.1 3.1,-2.1c0.8,0 2.1,2.1 3,2.1c0.9,0 3,-2.4 4,-2.1c1,0.2 3.7,4.6 4.1,4.1c0.4,-0.5 -2,-6.2 -1,-7.7c1,-1.5 8.5,-3.6 9.1,-4.5c0.6,-0.9 -4,-2 -4.5,-3c-0.5,-1 -0.3,-3.7 0.4,-5c0.7,-1.3 3.6,-4 5.1,-5.1c1.5,-1.1 5.2,-3.2 7.1,-4c1.9,-0.8 5.7,-2.2 8,-2.1c2.3,0.1 7.6,1.7 10.1,2.7c2.5,1 8,4 10.2,5.4c2.2,1.4 5.8,4.5 7,6.1c1.2,1.6 2.1,5.6 2.7,6.7c0.6,1.1 0.8,2.5 2.4,2.4c1.6,-0.1 7.9,-2.6 10.1,-3c2.2,-0.4 5.7,0.5 7.1,-0.4c1.4,-0.9 3,-5.9 4,-6.7c1,-0.8 2.3,-0.2 4.1,0.4c1.8,0.6 7.6,3.9 10.1,4.6c2.5,0.7 8.6,1.5 10.1,1c1.5,-0.5 0.4,-4.2 2,-5c1.6,-0.8 8.3,-0.4 11.1,-1c2.8,-0.6 9.5,-3.1 11.1,-4.1c1.6,-1 1.9,-2.7 1.5,-4c-0.4,-1.3 -3.8,-4.3 -4.5,-6.1c-0.7,-1.8 -1.1,-5.3 -1,-8.1c0.1,-2.8 1.4,-11.6 2,-14.1c0.6,-2.5 2.1,-5 3.1,-6.1c1,-1.1 4.6,-1.7 5,-2.4c0.4,-0.8 -2.1,-2.6 -2,-3.6c0.1,-1 1.9,-3.5 3,-4.1c1.1,-0.6 4.7,-0.6 6.1,-0.4c1.4,0.2 3.9,2.3 5,2.4c1.1,0 3.7,-0.7 4.1,-2c0.4,-1.3 -0.5,-6.5 -1,-8.1c-0.5,-1.6 -2.2,-4.2 -3.1,-5c-0.9,-0.8 -3,-1.2 -4,-1c-1,0.2 -3,3.4 -4,3c-1,-0.4 -2.4,-5.5 -4.1,-6.1c-1.7,-0.6 -6.8,1.4 -9.1,1c-2.3,-0.4 -7.3,-3.9 -9.1,-4c-1.8,-0.1 -4.5,3.1 -5,3c-0.5,-0.1 1.3,-3.2 1,-4c-0.3,-0.8 -2.2,-2.1 -3.1,-2c-0.9,0.1 -1.7,2.3 -4,2.6c-2.3,0.2 -11.5,-1.2 -14.2,-0.6c-2.7,0.6 -5.7,3.8 -7,5.4c-1.3,1.6 -2.2,6.2 -3.1,7.7c-0.9,1.5 -2.7,3.6 -4,4.1c-1.3,0.5 -3.8,0.9 -6.1,0c-2.3,-0.9 -10.6,-4.9 -12.1,-7.1c-1.5,-2.2 0.5,-8.7 0,-10.1c-0.5,-1.4 -3.2,-2 -4.1,-1c-0.9,1 -2,7.2 -3,9.1c-1,1.9 -4.3,4.7 -5,6c-0.7,1.3 0.4,3 -0.4,4.1c-0.8,1.1 -2.2,3.5 -5.7,5c-3.5,1.5 -18.9,6 -22.2,6.7c-3.3,0.7 -1.4,0.7 -4.1,-1c-2.7,-1.7 -10.6,-4.2 -17.2,-12.7c-6.6,-8.5 -30.4,-47.9 -35.4,-55.6c-5,-7.7 -3.9,-5.4 -4.5,-6.2 M1172.5,470.3c0.8,-1 6,-0.9 7,-1.6c1,-0.8 -0.4,-3.8 1,-4.4c1.4,-0.6 8.7,-0.8 10.2,0c1.5,0.8 1.4,5 2,6c0.6,1 2.1,0.9 3,2c0.9,1.1 3,5.7 4,7.1c1,1.4 3.5,4.1 4.1,4.1c0.6,0 -0.5,-3.5 1,-4.1c1.5,-0.6 9.3,-0.4 11.1,-1c1.8,-0.6 2.1,-3.1 3.1,-4c1,-0.9 4.2,-2 5,-3.1c0.8,-1.1 0.6,-5 1,-6c0.4,-1 0.3,-2.3 2,-2c1.7,0.3 9.7,3 11.2,4.6c1.5,1.6 1.3,6.8 1,8.5c-0.3,1.7 -1.8,3.6 -3.1,5c-1.3,1.4 -6.1,4.6 -7,6.1c-0.9,1.5 -0.6,5.1 -0.4,6.1c0.2,1 1.9,1 2,2c0.1,1 -1.4,4.3 -1.2,6.1c0.2,1.8 1.4,6 2.6,8.1c1.2,2.1 6.9,7.6 7.1,9.1c0.2,1.5 -4.3,1.7 -5.1,3c-0.8,1.3 -0.1,6.4 -1,7.1c-0.9,0.8 -5.1,-1.7 -6.1,-1.1c-1,0.6 -1,5.2 -2,6.1c-1,0.9 -5.1,1.1 -6,1c-0.9,-0.1 -0.2,-2 -1.1,-2c-0.9,-0 -5.1,1.1 -6,1.6c-0.9,0.5 -1.2,1.1 -1,2.4c0.2,1.3 2.2,5.8 3,8.1c0.8,2.3 3.4,8.1 3.4,10.1c0,2 -3.3,4.1 -3.4,6.1c-0,2 2.8,8.2 3,10.1c0.2,1.9 0,4.1 -1,5.1c-1,1 -6.1,3.5 -7.1,2.6c-1,-0.9 -0.6,-8.1 -1,-9.7c-0.4,-1.6 -1.6,-1.6 -2,-3c-0.4,-1.4 -0.8,-6.7 -1.4,-8.1c-0.6,-1.4 -3,-1.8 -3.6,-3.1c-0.6,-1.3 -0.5,-5.7 -1.1,-7c-0.6,-1.3 -3.2,-1.7 -4,-3.1c-0.8,-1.4 -1.1,-6.7 -2,-8.1c-0.9,-1.4 -4.3,-1.7 -5.1,-3c-0.8,-1.3 0,-5.3 -1,-7.1c-1,-1.8 -5.8,-5 -7.1,-7c-1.3,-2 -2.2,-7.8 -3,-9.1c-0.8,-1.3 -1.9,-1.6 -3,-1.7c-1.1,-0.1 -5.1,0.1 -6.1,0.7c-1,0.6 -1.4,3.2 -2,4c-0.6,0.8 -2.4,2 -3,2c-0.6,0 -2.1,-0.4 -2.1,-2c0,-1.6 1.7,-8.1 2.1,-11.1c0.4,-3 0.6,-10.8 1,-13.2c0.4,-2.4 1.2,-4.7 2,-6c0.8,-1.3 3.6,-3 4,-4.1c0.4,-1.1 -1.4,-4.6 -1,-5c0.4,-0.4 3.7,2.5 4.1,2c0.4,-0.5 -1.8,-5.1 -1,-6.1Z M1767.2,1224c-0.4,0.6 -6,11.4 -8,15.2c-2,3.8 -6.5,12.2 -8.1,15.1c-1.7,2.9 -3.4,6.2 -5.1,8.1c-1.7,1.9 -5.8,5.6 -8.1,7.1c-2.3,1.5 -8.4,4 -10.1,4.6c-1.7,0.6 -4.1,1.3 -3.6,0c0.5,-1.3 4.6,-7.8 7.7,-10.1c3.1,-2.3 13.3,-5 17.1,-8.7c3.8,-3.7 10.9,-17.3 13.2,-21.2c2.3,-3.9 5.4,-10.7 5,-10.1Z M1317.5,1221.3c0,1.1 1.1,7.8 2,10.1c0.9,2.3 2.3,6.2 5.1,8.1c2.8,1.9 12.4,5.6 17.1,7.1c4.7,1.5 15.2,3.7 20.3,5c5.1,1.3 16.2,3.9 20.2,5.1c4,1.2 12.1,4.6 12.1,4.4c0,-0.2 -8.1,-4.4 -12.1,-5.8c-4,-1.4 -15.1,-4.3 -20.2,-5.7c-5.1,-1.4 -15.9,-4.2 -20.3,-5.6c-4.4,-1.4 -12.6,-3.9 -15.1,-5.5c-2.5,-1.6 -4.2,-5.1 -5.1,-7.1c-0.9,-2 -1.5,-7.8 -2,-9.1c-0.5,-1.3 -2,-2.1 -2,-1Z M1446.9,1275.9c1.3,0.3 20,4 26.3,5.1c6.3,1.1 21,3.9 24.2,4c3.2,0.1 2.3,-2.2 1.6,-3c-0.8,-0.8 -5.6,-2.8 -7.6,-3.1c-2,-0.3 -6.3,1.1 -8.1,1c-1.8,-0.1 -3.6,-1.9 -6.1,-2c-2.5,-0.1 -10.3,1.2 -14.1,1c-3.8,-0.2 -17.5,-3.3 -16.2,-3Z M1355.9,1196.6c-0.2,0.7 -1.8,4.8 -2,5.5 M520,671.4c0.8,1.3 5,7.6 6.4,10.1c1.4,2.5 4.1,7.8 5.1,10.1c1,2.3 2.4,5.6 3,8.1c0.6,2.5 1.3,9.8 2.1,12.1c0.8,2.3 3.6,4.6 4,6.1c0.4,1.5 -0.4,4.6 -1,6.1c-0.6,1.5 -3.9,3.7 -4.1,6c-0.2,2.3 1.1,10.8 2.1,12.2c1,1.4 4.2,-1.2 6,-1.1c1.8,0.1 7.1,1.8 8.1,2.1c1,0.3 1.3,-0.6 0.1,0.1c-1.2,0.7 -9.8,3.8 -10.1,5.2c-0.2,1.4 6.7,4.6 8.1,6.1c1.4,1.5 2.2,5 3,6.1c0.8,1.1 1.6,2.5 3,3c1.4,0.5 6.3,0.1 8.1,1c1.8,0.9 5.2,4.5 6.1,6.1c0.9,1.6 0.2,5.6 1,7c0.8,1.4 4.3,4.7 5.1,4.1c0.8,-0.6 0.2,-7.7 1,-9.1c0.8,-1.4 5.2,-3.2 5.6,-2.4c0.4,0.8 -2.4,6.6 -2.6,8.5c-0.2,1.9 -0.5,6 1,7c1.5,1 10,0.5 11.1,1c1.1,0.5 -0.7,2.2 -2,3.1c-1.3,0.9 -7.3,3 -8.1,4c-0.8,1 0.6,4.5 2,4.1c1.4,-0.4 7.5,-6.1 9.1,-7.1c1.6,-1 3.5,-0.2 4.1,-1c0.6,-0.8 -0,-4.1 1,-5.1c1,-1 5.8,-2.8 7.1,-3c1.3,-0.2 2.8,0.4 3,1c0.2,0.6 -1.5,3 -1,4c0.5,1 3.2,3 5.1,4.1c1.9,1.1 8.1,3.5 10.1,5c2,1.5 5.4,5.5 6,7.1c0.6,1.6 -1,4.6 -1,6.1c0,1.5 0.9,5.2 1,6" fill="none" stroke="#141414" stroke-width="2.2" stroke-linejoin="round" stroke-linecap="round"/><path d="M1156.8,1319.4 1149.1,1326.3 1141.6,1333.6 1132.5,1341.7 1123.4,1349.2 1114.7,1355.6 1107.8,1359.9" fill="none" stroke="#141414" stroke-width="3.2" stroke-linecap="round" stroke-linejoin="round"/><path d="M261.5,93.5V1644.5 M554.5,93.5V1644.5 M847.5,93.5V1644.5 M1140.5,93.5V1644.5 M1434.5,93.5V1644.5 M1727.5,93.5V1644.5 M2020.5,93.5V1644.5 M2313.5,93.5V1644.5 M112.5,1641.5H2437.5 M112.5,1464.5H2437.5 M112.5,1288.5H2437.5 M112.5,1111.5H2437.5 M112.5,935.5H2437.5 M112.5,758.5H2437.5 M112.5,581.5H2437.5 M112.5,405.5H2437.5 M112.5,228.5H2437.5" stroke="#b0b0b0" stroke-width="3" fill="none"/></g><path d="M261.5,1644.5v14.6 M554.5,1644.5v14.6 M847.5,1644.5v14.6 M1140.5,1644.5v14.6 M1434.5,1644.5v14.6 M1727.5,1644.5v14.6 M2020.5,1644.5v14.6 M2313.5,1644.5v14.6 M112.5,1641.5h-14.6 M112.5,1464.5h-14.6 M112.5,1288.5h-14.6 M112.5,1111.5h-14.6 M112.5,935.5h-14.6 M112.5,758.5h-14.6 M112.5,581.5h-14.6 M112.5,405.5h-14.6 M112.5,228.5h-14.6" stroke="#000" stroke-width="3" fill="none"/><rect x="112.5" y="93.5" width="2325.0" height="1551.0" fill="none" stroke="#000" stroke-width="3" stroke-linejoin="miter"/><g font-family="'DejaVu Sans','Liberation Sans',sans-serif" font-size="41.67" fill="#000"><text x="260.8" y="1704" text-anchor="middle">22.5</text><text x="553.8" y="1704" text-anchor="middle">25.0</text><text x="846.8" y="1704" text-anchor="middle">27.5</text><text x="1139.8" y="1704" text-anchor="middle">30.0</text><text x="1433.8" y="1704" text-anchor="middle">32.5</text><text x="1726.8" y="1704" text-anchor="middle">35.0</text><text x="2019.8" y="1704" text-anchor="middle">37.5</text><text x="2312.8" y="1704" text-anchor="middle">40.0</text><text x="82.2" y="1656.8" text-anchor="end">44</text><text x="82.2" y="1479.8" text-anchor="end">45</text><text x="82.2" y="1303.8" text-anchor="end">46</text><text x="82.2" y="1126.8" text-anchor="end">47</text><text x="82.2" y="950.8" text-anchor="end">48</text><text x="82.2" y="773.8" text-anchor="end">49</text><text x="82.2" y="596.8" text-anchor="end">50</text><text x="82.2" y="420.8" text-anchor="end">51</text><text x="82.2" y="243.8" text-anchor="end">52</text></g><text x="1274.6" y="67.6" text-anchor="middle" letter-spacing="0.04" font-family="'DejaVu Sans','Liberation Sans',sans-serif" font-size="50" fill="#000">Energy Release Component Percentile Class by Oblast (2024-09-15 Forecast)</text><rect x="2529.9" y="113.9" width="351.2" height="315.9" rx="8.3" ry="8.3" fill="#fff" fill-opacity="0.8" stroke="#cccccc" stroke-opacity="0.8" stroke-width="4.17"/><circle cx="2588.4" cy="147.6" r="20.8" fill="#4188bd"/><text x="2662.7" y="162.2" font-family="'DejaVu Sans','Liberation Sans',sans-serif" font-size="41.67" fill="#000">Low</text><circle cx="2588.4" cy="208.5" r="20.8" fill="#b3ddeb"/><text x="2662.7" y="223.1" font-family="'DejaVu Sans','Liberation Sans',sans-serif" font-size="41.67" fill="#000">Moderate</text><circle cx="2588.4" cy="268.9" r="20.8" fill="#ffffc5"/><text x="2662.7" y="283.5" font-family="'DejaVu Sans','Liberation Sans',sans-serif" font-size="41.67" fill="#000">High</text><circle cx="2588.4" cy="329.6" r="20.8" fill="#fdb671"/><text x="2662.7" y="344.2" font-family="'DejaVu Sans','Liberation Sans',sans-serif" font-size="41.67" fill="#000">Very High</text><circle cx="2588.4" cy="390.5" r="20.8" fill="#ae1a3c"/><text x="2662.7" y="405.1" font-family="'DejaVu Sans','Liberation Sans',sans-serif" font-size="41.67" fill="#000">Extreme</text></svg></body></html>
